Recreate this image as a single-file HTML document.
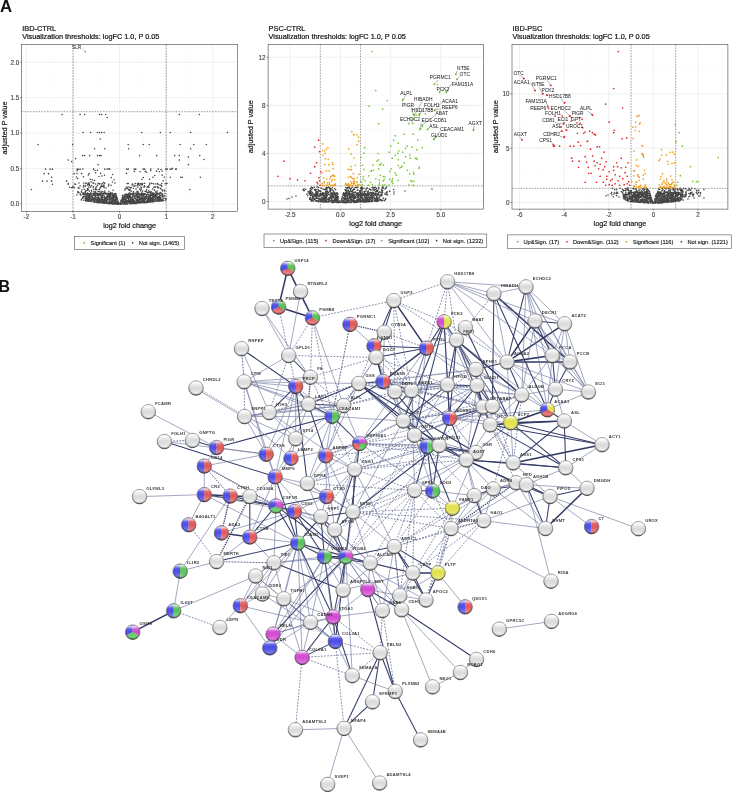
<!DOCTYPE html>
<html><head><meta charset="utf-8"><title>Figure</title>
<style>html,body{margin:0;padding:0;background:#fff;overflow:hidden}svg{display:block}</style>
</head><body>
<svg width="732" height="794" viewBox="0 0 732 794" font-family="'Liberation Sans', Arial, Helvetica, sans-serif">

<defs>
<linearGradient id="shv" x1="0" y1="0" x2="0" y2="1">
 <stop offset="0" stop-color="#000" stop-opacity="0.35"/>
 <stop offset="0.05" stop-color="#fff" stop-opacity="0.35"/>
 <stop offset="0.1" stop-color="#fff" stop-opacity="0.8"/>
 <stop offset="0.17" stop-color="#fff" stop-opacity="0.55"/>
 <stop offset="0.3" stop-color="#fff" stop-opacity="0.08"/>
 <stop offset="0.5" stop-color="#fff" stop-opacity="0"/>
 <stop offset="0.7" stop-color="#fff" stop-opacity="0.12"/>
 <stop offset="0.85" stop-color="#fff" stop-opacity="0.28"/>
 <stop offset="0.93" stop-color="#fff" stop-opacity="0.1"/>
 <stop offset="1" stop-color="#000" stop-opacity="0.5"/>
</linearGradient>
<linearGradient id="gry" x1="0" y1="0" x2="0" y2="1">
 <stop offset="0" stop-color="#909090"/>
 <stop offset="0.06" stop-color="#efefef"/>
 <stop offset="0.14" stop-color="#fdfdfd"/>
 <stop offset="0.28" stop-color="#ebebeb"/>
 <stop offset="0.48" stop-color="#dadada"/>
 <stop offset="0.68" stop-color="#e0e0e0"/>
 <stop offset="0.85" stop-color="#f2f2f2"/>
 <stop offset="0.94" stop-color="#d6d6d6"/>
 <stop offset="1" stop-color="#808080"/>
</linearGradient>
<linearGradient id="rim" x1="0" y1="0" x2="0" y2="1">
 <stop offset="0" stop-color="#9a9a9a"/>
 <stop offset="0.5" stop-color="#777"/>
 <stop offset="1" stop-color="#3a3a3a"/>
</linearGradient>
<radialGradient id="shr" cx="0.5" cy="0.44" r="0.56">
 <stop offset="0.7" stop-color="#000" stop-opacity="0"/>
 <stop offset="0.86" stop-color="#000" stop-opacity="0.16"/>
 <stop offset="1" stop-color="#000" stop-opacity="0.6"/>
</radialGradient>
</defs>

<rect width="732" height="794" fill="#fff"/>
<text x="0" y="11.9" font-size="16.8" font-weight="bold" fill="#111">A</text>
<rect x="21.7" y="44.6" width="215.7" height="166.8" fill="#fff"/><path d="M49.7 44.6V211.4M96.3 44.6V211.4M142.9 44.6V211.4M189.5 44.6V211.4M21.7 186.1H237.4M21.7 150.7H237.4M21.7 115.3H237.4M21.7 79.9H237.4" stroke="#f2f2f2" stroke-width="0.35" fill="none"/><path d="M26.4 44.6V211.4M73 44.6V211.4M119.6 44.6V211.4M166.2 44.6V211.4M212.8 44.6V211.4M21.7 203.8H237.4M21.7 168.4H237.4M21.7 133H237.4M21.7 97.6H237.4M21.7 62.2H237.4" stroke="#e6e6e6" stroke-width="0.6" fill="none"/><path d="M73 44.6V211.4M166.2 44.6V211.4M21.7 111.69H237.4" stroke="#444" stroke-width="0.5" stroke-dasharray="1.6 1.2" fill="none"/><path d="M112.85 198.45a0.78 0.78 0 1 0 1.56 0a0.78 0.78 0 1 0 -1.56 0M97.6 200.7a0.78 0.78 0 1 0 1.56 0a0.78 0.78 0 1 0 -1.56 0M98.73 202.7a0.78 0.78 0 1 0 1.56 0a0.78 0.78 0 1 0 -1.56 0M116.05 203.89a0.78 0.78 0 1 0 1.56 0a0.78 0.78 0 1 0 -1.56 0M93.97 193.76a0.78 0.78 0 1 0 1.56 0a0.78 0.78 0 1 0 -1.56 0M138.02 193.38a0.78 0.78 0 1 0 1.56 0a0.78 0.78 0 1 0 -1.56 0M114.16 202.36a0.78 0.78 0 1 0 1.56 0a0.78 0.78 0 1 0 -1.56 0M127.57 199.32a0.78 0.78 0 1 0 1.56 0a0.78 0.78 0 1 0 -1.56 0M136.84 199.36a0.78 0.78 0 1 0 1.56 0a0.78 0.78 0 1 0 -1.56 0M116.46 203.25a0.78 0.78 0 1 0 1.56 0a0.78 0.78 0 1 0 -1.56 0M139.52 201.5a0.78 0.78 0 1 0 1.56 0a0.78 0.78 0 1 0 -1.56 0M140.75 201.53a0.78 0.78 0 1 0 1.56 0a0.78 0.78 0 1 0 -1.56 0M152.65 198.21a0.78 0.78 0 1 0 1.56 0a0.78 0.78 0 1 0 -1.56 0M161.18 199.84a0.78 0.78 0 1 0 1.56 0a0.78 0.78 0 1 0 -1.56 0M124.53 201.3a0.78 0.78 0 1 0 1.56 0a0.78 0.78 0 1 0 -1.56 0M126.18 200.47a0.78 0.78 0 1 0 1.56 0a0.78 0.78 0 1 0 -1.56 0M92.36 198.32a0.78 0.78 0 1 0 1.56 0a0.78 0.78 0 1 0 -1.56 0M134.01 197.63a0.78 0.78 0 1 0 1.56 0a0.78 0.78 0 1 0 -1.56 0M146.89 199.75a0.78 0.78 0 1 0 1.56 0a0.78 0.78 0 1 0 -1.56 0M121.76 197.82a0.78 0.78 0 1 0 1.56 0a0.78 0.78 0 1 0 -1.56 0M103.54 197.86a0.78 0.78 0 1 0 1.56 0a0.78 0.78 0 1 0 -1.56 0M100.54 202.37a0.78 0.78 0 1 0 1.56 0a0.78 0.78 0 1 0 -1.56 0M109.01 201.32a0.78 0.78 0 1 0 1.56 0a0.78 0.78 0 1 0 -1.56 0M122.72 201.02a0.78 0.78 0 1 0 1.56 0a0.78 0.78 0 1 0 -1.56 0M161.58 194.64a0.78 0.78 0 1 0 1.56 0a0.78 0.78 0 1 0 -1.56 0M102.37 201.16a0.78 0.78 0 1 0 1.56 0a0.78 0.78 0 1 0 -1.56 0M109.63 202.71a0.78 0.78 0 1 0 1.56 0a0.78 0.78 0 1 0 -1.56 0M147.33 201.28a0.78 0.78 0 1 0 1.56 0a0.78 0.78 0 1 0 -1.56 0M102.23 201.06a0.78 0.78 0 1 0 1.56 0a0.78 0.78 0 1 0 -1.56 0M148.71 197.31a0.78 0.78 0 1 0 1.56 0a0.78 0.78 0 1 0 -1.56 0M83.2 194.5a0.78 0.78 0 1 0 1.56 0a0.78 0.78 0 1 0 -1.56 0M137.81 200.87a0.78 0.78 0 1 0 1.56 0a0.78 0.78 0 1 0 -1.56 0M93.7 202.07a0.78 0.78 0 1 0 1.56 0a0.78 0.78 0 1 0 -1.56 0M110.55 203.23a0.78 0.78 0 1 0 1.56 0a0.78 0.78 0 1 0 -1.56 0M116.74 204.15a0.78 0.78 0 1 0 1.56 0a0.78 0.78 0 1 0 -1.56 0M114.8 201.88a0.78 0.78 0 1 0 1.56 0a0.78 0.78 0 1 0 -1.56 0M108.83 201.72a0.78 0.78 0 1 0 1.56 0a0.78 0.78 0 1 0 -1.56 0M113.96 195.54a0.78 0.78 0 1 0 1.56 0a0.78 0.78 0 1 0 -1.56 0M141.37 199.82a0.78 0.78 0 1 0 1.56 0a0.78 0.78 0 1 0 -1.56 0M114.77 202.07a0.78 0.78 0 1 0 1.56 0a0.78 0.78 0 1 0 -1.56 0M97.31 202.57a0.78 0.78 0 1 0 1.56 0a0.78 0.78 0 1 0 -1.56 0M131.46 201.52a0.78 0.78 0 1 0 1.56 0a0.78 0.78 0 1 0 -1.56 0M88.25 195.8a0.78 0.78 0 1 0 1.56 0a0.78 0.78 0 1 0 -1.56 0M109.99 196.06a0.78 0.78 0 1 0 1.56 0a0.78 0.78 0 1 0 -1.56 0M160.09 195.21a0.78 0.78 0 1 0 1.56 0a0.78 0.78 0 1 0 -1.56 0M129.79 200.01a0.78 0.78 0 1 0 1.56 0a0.78 0.78 0 1 0 -1.56 0M117.67 204.14a0.78 0.78 0 1 0 1.56 0a0.78 0.78 0 1 0 -1.56 0M108.56 197.74a0.78 0.78 0 1 0 1.56 0a0.78 0.78 0 1 0 -1.56 0M140.47 193.99a0.78 0.78 0 1 0 1.56 0a0.78 0.78 0 1 0 -1.56 0M109.84 202.97a0.78 0.78 0 1 0 1.56 0a0.78 0.78 0 1 0 -1.56 0M94.11 194.43a0.78 0.78 0 1 0 1.56 0a0.78 0.78 0 1 0 -1.56 0M142.03 197.88a0.78 0.78 0 1 0 1.56 0a0.78 0.78 0 1 0 -1.56 0M122.92 198.38a0.78 0.78 0 1 0 1.56 0a0.78 0.78 0 1 0 -1.56 0M156.68 198.84a0.78 0.78 0 1 0 1.56 0a0.78 0.78 0 1 0 -1.56 0M113.79 203.48a0.78 0.78 0 1 0 1.56 0a0.78 0.78 0 1 0 -1.56 0M97.09 202.2a0.78 0.78 0 1 0 1.56 0a0.78 0.78 0 1 0 -1.56 0M107.22 202.48a0.78 0.78 0 1 0 1.56 0a0.78 0.78 0 1 0 -1.56 0M131.37 201.02a0.78 0.78 0 1 0 1.56 0a0.78 0.78 0 1 0 -1.56 0M147.05 194.4a0.78 0.78 0 1 0 1.56 0a0.78 0.78 0 1 0 -1.56 0M144.16 202.67a0.78 0.78 0 1 0 1.56 0a0.78 0.78 0 1 0 -1.56 0M111.57 203.89a0.78 0.78 0 1 0 1.56 0a0.78 0.78 0 1 0 -1.56 0M127.16 200.61a0.78 0.78 0 1 0 1.56 0a0.78 0.78 0 1 0 -1.56 0M145.75 200.95a0.78 0.78 0 1 0 1.56 0a0.78 0.78 0 1 0 -1.56 0M145.7 196.07a0.78 0.78 0 1 0 1.56 0a0.78 0.78 0 1 0 -1.56 0M96.63 201.5a0.78 0.78 0 1 0 1.56 0a0.78 0.78 0 1 0 -1.56 0M88.24 198.11a0.78 0.78 0 1 0 1.56 0a0.78 0.78 0 1 0 -1.56 0M143.29 199.42a0.78 0.78 0 1 0 1.56 0a0.78 0.78 0 1 0 -1.56 0M140.71 199.33a0.78 0.78 0 1 0 1.56 0a0.78 0.78 0 1 0 -1.56 0M164.47 200.22a0.78 0.78 0 1 0 1.56 0a0.78 0.78 0 1 0 -1.56 0M101.31 202.87a0.78 0.78 0 1 0 1.56 0a0.78 0.78 0 1 0 -1.56 0M115.92 198.27a0.78 0.78 0 1 0 1.56 0a0.78 0.78 0 1 0 -1.56 0M150.78 194.64a0.78 0.78 0 1 0 1.56 0a0.78 0.78 0 1 0 -1.56 0M129.45 193.81a0.78 0.78 0 1 0 1.56 0a0.78 0.78 0 1 0 -1.56 0M99.52 193.16a0.78 0.78 0 1 0 1.56 0a0.78 0.78 0 1 0 -1.56 0M126.63 201.09a0.78 0.78 0 1 0 1.56 0a0.78 0.78 0 1 0 -1.56 0M135.23 202.64a0.78 0.78 0 1 0 1.56 0a0.78 0.78 0 1 0 -1.56 0M140.14 203.01a0.78 0.78 0 1 0 1.56 0a0.78 0.78 0 1 0 -1.56 0M94.11 199.06a0.78 0.78 0 1 0 1.56 0a0.78 0.78 0 1 0 -1.56 0M123.89 202.74a0.78 0.78 0 1 0 1.56 0a0.78 0.78 0 1 0 -1.56 0M102.1 194.39a0.78 0.78 0 1 0 1.56 0a0.78 0.78 0 1 0 -1.56 0M131.34 203.16a0.78 0.78 0 1 0 1.56 0a0.78 0.78 0 1 0 -1.56 0M146.44 197.12a0.78 0.78 0 1 0 1.56 0a0.78 0.78 0 1 0 -1.56 0M116.54 198.02a0.78 0.78 0 1 0 1.56 0a0.78 0.78 0 1 0 -1.56 0M122.04 195.34a0.78 0.78 0 1 0 1.56 0a0.78 0.78 0 1 0 -1.56 0M135.23 199.37a0.78 0.78 0 1 0 1.56 0a0.78 0.78 0 1 0 -1.56 0M131.78 203.24a0.78 0.78 0 1 0 1.56 0a0.78 0.78 0 1 0 -1.56 0M130.36 203.42a0.78 0.78 0 1 0 1.56 0a0.78 0.78 0 1 0 -1.56 0M116.82 203.29a0.78 0.78 0 1 0 1.56 0a0.78 0.78 0 1 0 -1.56 0M106.74 196.75a0.78 0.78 0 1 0 1.56 0a0.78 0.78 0 1 0 -1.56 0M99.02 202.17a0.78 0.78 0 1 0 1.56 0a0.78 0.78 0 1 0 -1.56 0M118.1 202.97a0.78 0.78 0 1 0 1.56 0a0.78 0.78 0 1 0 -1.56 0M89.79 201.08a0.78 0.78 0 1 0 1.56 0a0.78 0.78 0 1 0 -1.56 0M139.74 199.8a0.78 0.78 0 1 0 1.56 0a0.78 0.78 0 1 0 -1.56 0M137.85 199.77a0.78 0.78 0 1 0 1.56 0a0.78 0.78 0 1 0 -1.56 0M153.03 199.75a0.78 0.78 0 1 0 1.56 0a0.78 0.78 0 1 0 -1.56 0M116.67 203.72a0.78 0.78 0 1 0 1.56 0a0.78 0.78 0 1 0 -1.56 0M115.47 195.68a0.78 0.78 0 1 0 1.56 0a0.78 0.78 0 1 0 -1.56 0M151.27 201.07a0.78 0.78 0 1 0 1.56 0a0.78 0.78 0 1 0 -1.56 0M100.63 202.44a0.78 0.78 0 1 0 1.56 0a0.78 0.78 0 1 0 -1.56 0M108.4 193.64a0.78 0.78 0 1 0 1.56 0a0.78 0.78 0 1 0 -1.56 0M145.3 201.58a0.78 0.78 0 1 0 1.56 0a0.78 0.78 0 1 0 -1.56 0M133.8 201.49a0.78 0.78 0 1 0 1.56 0a0.78 0.78 0 1 0 -1.56 0M103.71 200.14a0.78 0.78 0 1 0 1.56 0a0.78 0.78 0 1 0 -1.56 0M128.55 200.21a0.78 0.78 0 1 0 1.56 0a0.78 0.78 0 1 0 -1.56 0M108.36 203.43a0.78 0.78 0 1 0 1.56 0a0.78 0.78 0 1 0 -1.56 0M117.17 204.14a0.78 0.78 0 1 0 1.56 0a0.78 0.78 0 1 0 -1.56 0M109.6 199.18a0.78 0.78 0 1 0 1.56 0a0.78 0.78 0 1 0 -1.56 0M155.15 196.56a0.78 0.78 0 1 0 1.56 0a0.78 0.78 0 1 0 -1.56 0M137.67 201.52a0.78 0.78 0 1 0 1.56 0a0.78 0.78 0 1 0 -1.56 0M126.05 197.42a0.78 0.78 0 1 0 1.56 0a0.78 0.78 0 1 0 -1.56 0M149.18 196.6a0.78 0.78 0 1 0 1.56 0a0.78 0.78 0 1 0 -1.56 0M125.56 200.09a0.78 0.78 0 1 0 1.56 0a0.78 0.78 0 1 0 -1.56 0M159.23 195.14a0.78 0.78 0 1 0 1.56 0a0.78 0.78 0 1 0 -1.56 0M129.95 203.72a0.78 0.78 0 1 0 1.56 0a0.78 0.78 0 1 0 -1.56 0M104.54 203.05a0.78 0.78 0 1 0 1.56 0a0.78 0.78 0 1 0 -1.56 0M145.85 198.01a0.78 0.78 0 1 0 1.56 0a0.78 0.78 0 1 0 -1.56 0M151.76 201.95a0.78 0.78 0 1 0 1.56 0a0.78 0.78 0 1 0 -1.56 0M155.04 198.44a0.78 0.78 0 1 0 1.56 0a0.78 0.78 0 1 0 -1.56 0M122.02 197.3a0.78 0.78 0 1 0 1.56 0a0.78 0.78 0 1 0 -1.56 0M115.87 202.79a0.78 0.78 0 1 0 1.56 0a0.78 0.78 0 1 0 -1.56 0M128.75 197.14a0.78 0.78 0 1 0 1.56 0a0.78 0.78 0 1 0 -1.56 0M142.73 200.7a0.78 0.78 0 1 0 1.56 0a0.78 0.78 0 1 0 -1.56 0M151.91 197.81a0.78 0.78 0 1 0 1.56 0a0.78 0.78 0 1 0 -1.56 0M122.57 203.59a0.78 0.78 0 1 0 1.56 0a0.78 0.78 0 1 0 -1.56 0M89.39 198.15a0.78 0.78 0 1 0 1.56 0a0.78 0.78 0 1 0 -1.56 0M116.42 202.78a0.78 0.78 0 1 0 1.56 0a0.78 0.78 0 1 0 -1.56 0M152.32 200.66a0.78 0.78 0 1 0 1.56 0a0.78 0.78 0 1 0 -1.56 0M141.31 200a0.78 0.78 0 1 0 1.56 0a0.78 0.78 0 1 0 -1.56 0M158.5 198.94a0.78 0.78 0 1 0 1.56 0a0.78 0.78 0 1 0 -1.56 0M110.51 193.93a0.78 0.78 0 1 0 1.56 0a0.78 0.78 0 1 0 -1.56 0M95.79 202.01a0.78 0.78 0 1 0 1.56 0a0.78 0.78 0 1 0 -1.56 0M143.44 194.7a0.78 0.78 0 1 0 1.56 0a0.78 0.78 0 1 0 -1.56 0M130.02 194.71a0.78 0.78 0 1 0 1.56 0a0.78 0.78 0 1 0 -1.56 0M120.02 204.18a0.78 0.78 0 1 0 1.56 0a0.78 0.78 0 1 0 -1.56 0M140.64 201.52a0.78 0.78 0 1 0 1.56 0a0.78 0.78 0 1 0 -1.56 0M105.2 201.75a0.78 0.78 0 1 0 1.56 0a0.78 0.78 0 1 0 -1.56 0M124.63 194.27a0.78 0.78 0 1 0 1.56 0a0.78 0.78 0 1 0 -1.56 0M103.26 193.02a0.78 0.78 0 1 0 1.56 0a0.78 0.78 0 1 0 -1.56 0M136.28 200.67a0.78 0.78 0 1 0 1.56 0a0.78 0.78 0 1 0 -1.56 0M116.91 203.87a0.78 0.78 0 1 0 1.56 0a0.78 0.78 0 1 0 -1.56 0M132.64 194.07a0.78 0.78 0 1 0 1.56 0a0.78 0.78 0 1 0 -1.56 0M108.3 200.01a0.78 0.78 0 1 0 1.56 0a0.78 0.78 0 1 0 -1.56 0M104.04 193.71a0.78 0.78 0 1 0 1.56 0a0.78 0.78 0 1 0 -1.56 0M158.12 194.12a0.78 0.78 0 1 0 1.56 0a0.78 0.78 0 1 0 -1.56 0M145.4 196.92a0.78 0.78 0 1 0 1.56 0a0.78 0.78 0 1 0 -1.56 0M89.82 196.18a0.78 0.78 0 1 0 1.56 0a0.78 0.78 0 1 0 -1.56 0M132.67 203.5a0.78 0.78 0 1 0 1.56 0a0.78 0.78 0 1 0 -1.56 0M124.98 200.7a0.78 0.78 0 1 0 1.56 0a0.78 0.78 0 1 0 -1.56 0M107.03 197.05a0.78 0.78 0 1 0 1.56 0a0.78 0.78 0 1 0 -1.56 0M131.41 198.23a0.78 0.78 0 1 0 1.56 0a0.78 0.78 0 1 0 -1.56 0M96.75 200.38a0.78 0.78 0 1 0 1.56 0a0.78 0.78 0 1 0 -1.56 0M112.42 203.05a0.78 0.78 0 1 0 1.56 0a0.78 0.78 0 1 0 -1.56 0M142.88 201.93a0.78 0.78 0 1 0 1.56 0a0.78 0.78 0 1 0 -1.56 0M111.2 203.63a0.78 0.78 0 1 0 1.56 0a0.78 0.78 0 1 0 -1.56 0M115.21 202.97a0.78 0.78 0 1 0 1.56 0a0.78 0.78 0 1 0 -1.56 0M96.26 194.65a0.78 0.78 0 1 0 1.56 0a0.78 0.78 0 1 0 -1.56 0M138.8 200.67a0.78 0.78 0 1 0 1.56 0a0.78 0.78 0 1 0 -1.56 0M137.06 201.46a0.78 0.78 0 1 0 1.56 0a0.78 0.78 0 1 0 -1.56 0M107.83 193.54a0.78 0.78 0 1 0 1.56 0a0.78 0.78 0 1 0 -1.56 0M98.89 198.11a0.78 0.78 0 1 0 1.56 0a0.78 0.78 0 1 0 -1.56 0M129.27 202.46a0.78 0.78 0 1 0 1.56 0a0.78 0.78 0 1 0 -1.56 0M102.99 200.39a0.78 0.78 0 1 0 1.56 0a0.78 0.78 0 1 0 -1.56 0M159.9 201.05a0.78 0.78 0 1 0 1.56 0a0.78 0.78 0 1 0 -1.56 0M90.72 199.15a0.78 0.78 0 1 0 1.56 0a0.78 0.78 0 1 0 -1.56 0M158.78 193.36a0.78 0.78 0 1 0 1.56 0a0.78 0.78 0 1 0 -1.56 0M114.5 203.5a0.78 0.78 0 1 0 1.56 0a0.78 0.78 0 1 0 -1.56 0M151.83 196.64a0.78 0.78 0 1 0 1.56 0a0.78 0.78 0 1 0 -1.56 0M155.84 198.23a0.78 0.78 0 1 0 1.56 0a0.78 0.78 0 1 0 -1.56 0M150.06 200.77a0.78 0.78 0 1 0 1.56 0a0.78 0.78 0 1 0 -1.56 0M108.85 198.51a0.78 0.78 0 1 0 1.56 0a0.78 0.78 0 1 0 -1.56 0M124.25 203.89a0.78 0.78 0 1 0 1.56 0a0.78 0.78 0 1 0 -1.56 0M147.03 200.35a0.78 0.78 0 1 0 1.56 0a0.78 0.78 0 1 0 -1.56 0M95.02 202.33a0.78 0.78 0 1 0 1.56 0a0.78 0.78 0 1 0 -1.56 0M100.58 193.65a0.78 0.78 0 1 0 1.56 0a0.78 0.78 0 1 0 -1.56 0M109.04 193.67a0.78 0.78 0 1 0 1.56 0a0.78 0.78 0 1 0 -1.56 0M133.7 203.5a0.78 0.78 0 1 0 1.56 0a0.78 0.78 0 1 0 -1.56 0M151.46 200.96a0.78 0.78 0 1 0 1.56 0a0.78 0.78 0 1 0 -1.56 0M105.43 200.81a0.78 0.78 0 1 0 1.56 0a0.78 0.78 0 1 0 -1.56 0M128.41 196.3a0.78 0.78 0 1 0 1.56 0a0.78 0.78 0 1 0 -1.56 0M143.26 201.99a0.78 0.78 0 1 0 1.56 0a0.78 0.78 0 1 0 -1.56 0M133.91 195.86a0.78 0.78 0 1 0 1.56 0a0.78 0.78 0 1 0 -1.56 0M110.05 196.83a0.78 0.78 0 1 0 1.56 0a0.78 0.78 0 1 0 -1.56 0M109.98 201.12a0.78 0.78 0 1 0 1.56 0a0.78 0.78 0 1 0 -1.56 0M110.39 193.44a0.78 0.78 0 1 0 1.56 0a0.78 0.78 0 1 0 -1.56 0M116.77 204.03a0.78 0.78 0 1 0 1.56 0a0.78 0.78 0 1 0 -1.56 0M83.25 196.06a0.78 0.78 0 1 0 1.56 0a0.78 0.78 0 1 0 -1.56 0M92.51 200.16a0.78 0.78 0 1 0 1.56 0a0.78 0.78 0 1 0 -1.56 0M112.12 203.92a0.78 0.78 0 1 0 1.56 0a0.78 0.78 0 1 0 -1.56 0M104.9 193.73a0.78 0.78 0 1 0 1.56 0a0.78 0.78 0 1 0 -1.56 0M86.29 199.07a0.78 0.78 0 1 0 1.56 0a0.78 0.78 0 1 0 -1.56 0M100.07 200.86a0.78 0.78 0 1 0 1.56 0a0.78 0.78 0 1 0 -1.56 0M128.16 201.7a0.78 0.78 0 1 0 1.56 0a0.78 0.78 0 1 0 -1.56 0M120.29 201.49a0.78 0.78 0 1 0 1.56 0a0.78 0.78 0 1 0 -1.56 0M89.23 200.09a0.78 0.78 0 1 0 1.56 0a0.78 0.78 0 1 0 -1.56 0M90.44 200.66a0.78 0.78 0 1 0 1.56 0a0.78 0.78 0 1 0 -1.56 0M88.9 197.44a0.78 0.78 0 1 0 1.56 0a0.78 0.78 0 1 0 -1.56 0M119.99 203.09a0.78 0.78 0 1 0 1.56 0a0.78 0.78 0 1 0 -1.56 0M165.13 198.83a0.78 0.78 0 1 0 1.56 0a0.78 0.78 0 1 0 -1.56 0M101.79 199.82a0.78 0.78 0 1 0 1.56 0a0.78 0.78 0 1 0 -1.56 0M127.67 196.23a0.78 0.78 0 1 0 1.56 0a0.78 0.78 0 1 0 -1.56 0M158.64 197.52a0.78 0.78 0 1 0 1.56 0a0.78 0.78 0 1 0 -1.56 0M106.17 201.42a0.78 0.78 0 1 0 1.56 0a0.78 0.78 0 1 0 -1.56 0M122.64 203.28a0.78 0.78 0 1 0 1.56 0a0.78 0.78 0 1 0 -1.56 0M130.79 203.57a0.78 0.78 0 1 0 1.56 0a0.78 0.78 0 1 0 -1.56 0M96.94 200.97a0.78 0.78 0 1 0 1.56 0a0.78 0.78 0 1 0 -1.56 0M161.58 199.94a0.78 0.78 0 1 0 1.56 0a0.78 0.78 0 1 0 -1.56 0M115 200.44a0.78 0.78 0 1 0 1.56 0a0.78 0.78 0 1 0 -1.56 0M140.45 202.02a0.78 0.78 0 1 0 1.56 0a0.78 0.78 0 1 0 -1.56 0M94.26 197.33a0.78 0.78 0 1 0 1.56 0a0.78 0.78 0 1 0 -1.56 0M159.81 200.81a0.78 0.78 0 1 0 1.56 0a0.78 0.78 0 1 0 -1.56 0M133.04 199.3a0.78 0.78 0 1 0 1.56 0a0.78 0.78 0 1 0 -1.56 0M109.1 203.18a0.78 0.78 0 1 0 1.56 0a0.78 0.78 0 1 0 -1.56 0M146.81 200.87a0.78 0.78 0 1 0 1.56 0a0.78 0.78 0 1 0 -1.56 0M86.81 193.12a0.78 0.78 0 1 0 1.56 0a0.78 0.78 0 1 0 -1.56 0M100.02 195.7a0.78 0.78 0 1 0 1.56 0a0.78 0.78 0 1 0 -1.56 0M114.1 203.26a0.78 0.78 0 1 0 1.56 0a0.78 0.78 0 1 0 -1.56 0M147.05 194.03a0.78 0.78 0 1 0 1.56 0a0.78 0.78 0 1 0 -1.56 0M88.02 201.22a0.78 0.78 0 1 0 1.56 0a0.78 0.78 0 1 0 -1.56 0M148.83 201.44a0.78 0.78 0 1 0 1.56 0a0.78 0.78 0 1 0 -1.56 0M113.22 203.12a0.78 0.78 0 1 0 1.56 0a0.78 0.78 0 1 0 -1.56 0M95.08 197.63a0.78 0.78 0 1 0 1.56 0a0.78 0.78 0 1 0 -1.56 0M127.78 202.19a0.78 0.78 0 1 0 1.56 0a0.78 0.78 0 1 0 -1.56 0M87.33 201.26a0.78 0.78 0 1 0 1.56 0a0.78 0.78 0 1 0 -1.56 0M103.17 199.28a0.78 0.78 0 1 0 1.56 0a0.78 0.78 0 1 0 -1.56 0M123.23 203.48a0.78 0.78 0 1 0 1.56 0a0.78 0.78 0 1 0 -1.56 0M138.65 201.8a0.78 0.78 0 1 0 1.56 0a0.78 0.78 0 1 0 -1.56 0M136.11 200.8a0.78 0.78 0 1 0 1.56 0a0.78 0.78 0 1 0 -1.56 0M138.48 194.84a0.78 0.78 0 1 0 1.56 0a0.78 0.78 0 1 0 -1.56 0M126.69 203.92a0.78 0.78 0 1 0 1.56 0a0.78 0.78 0 1 0 -1.56 0M149.83 194.28a0.78 0.78 0 1 0 1.56 0a0.78 0.78 0 1 0 -1.56 0M94.18 200.35a0.78 0.78 0 1 0 1.56 0a0.78 0.78 0 1 0 -1.56 0M125.88 202.52a0.78 0.78 0 1 0 1.56 0a0.78 0.78 0 1 0 -1.56 0M157.77 200.69a0.78 0.78 0 1 0 1.56 0a0.78 0.78 0 1 0 -1.56 0M81.47 198.19a0.78 0.78 0 1 0 1.56 0a0.78 0.78 0 1 0 -1.56 0M148.84 195.46a0.78 0.78 0 1 0 1.56 0a0.78 0.78 0 1 0 -1.56 0M85.3 200.55a0.78 0.78 0 1 0 1.56 0a0.78 0.78 0 1 0 -1.56 0M102.99 199.63a0.78 0.78 0 1 0 1.56 0a0.78 0.78 0 1 0 -1.56 0M113.95 202.85a0.78 0.78 0 1 0 1.56 0a0.78 0.78 0 1 0 -1.56 0M124.52 199.17a0.78 0.78 0 1 0 1.56 0a0.78 0.78 0 1 0 -1.56 0M149.17 200.83a0.78 0.78 0 1 0 1.56 0a0.78 0.78 0 1 0 -1.56 0M95.75 200.02a0.78 0.78 0 1 0 1.56 0a0.78 0.78 0 1 0 -1.56 0M140.44 200.33a0.78 0.78 0 1 0 1.56 0a0.78 0.78 0 1 0 -1.56 0M94.31 199.3a0.78 0.78 0 1 0 1.56 0a0.78 0.78 0 1 0 -1.56 0M88.58 199.08a0.78 0.78 0 1 0 1.56 0a0.78 0.78 0 1 0 -1.56 0M100.08 202.62a0.78 0.78 0 1 0 1.56 0a0.78 0.78 0 1 0 -1.56 0M101.77 202.85a0.78 0.78 0 1 0 1.56 0a0.78 0.78 0 1 0 -1.56 0M98.62 202.68a0.78 0.78 0 1 0 1.56 0a0.78 0.78 0 1 0 -1.56 0M122.8 197.34a0.78 0.78 0 1 0 1.56 0a0.78 0.78 0 1 0 -1.56 0M143.58 202.64a0.78 0.78 0 1 0 1.56 0a0.78 0.78 0 1 0 -1.56 0M137.11 193.8a0.78 0.78 0 1 0 1.56 0a0.78 0.78 0 1 0 -1.56 0M84.88 196.15a0.78 0.78 0 1 0 1.56 0a0.78 0.78 0 1 0 -1.56 0M128.2 193.32a0.78 0.78 0 1 0 1.56 0a0.78 0.78 0 1 0 -1.56 0M165.12 200.04a0.78 0.78 0 1 0 1.56 0a0.78 0.78 0 1 0 -1.56 0M132.13 195.96a0.78 0.78 0 1 0 1.56 0a0.78 0.78 0 1 0 -1.56 0M98.93 194.22a0.78 0.78 0 1 0 1.56 0a0.78 0.78 0 1 0 -1.56 0M108.41 200.08a0.78 0.78 0 1 0 1.56 0a0.78 0.78 0 1 0 -1.56 0M117.36 203.44a0.78 0.78 0 1 0 1.56 0a0.78 0.78 0 1 0 -1.56 0M126.99 196.51a0.78 0.78 0 1 0 1.56 0a0.78 0.78 0 1 0 -1.56 0M97.8 197.97a0.78 0.78 0 1 0 1.56 0a0.78 0.78 0 1 0 -1.56 0M149.3 200.13a0.78 0.78 0 1 0 1.56 0a0.78 0.78 0 1 0 -1.56 0M131.63 193.16a0.78 0.78 0 1 0 1.56 0a0.78 0.78 0 1 0 -1.56 0M136.26 196.61a0.78 0.78 0 1 0 1.56 0a0.78 0.78 0 1 0 -1.56 0M111.82 197.12a0.78 0.78 0 1 0 1.56 0a0.78 0.78 0 1 0 -1.56 0M133.95 203.5a0.78 0.78 0 1 0 1.56 0a0.78 0.78 0 1 0 -1.56 0M112.91 198.92a0.78 0.78 0 1 0 1.56 0a0.78 0.78 0 1 0 -1.56 0M98.52 194.57a0.78 0.78 0 1 0 1.56 0a0.78 0.78 0 1 0 -1.56 0M109.82 198.32a0.78 0.78 0 1 0 1.56 0a0.78 0.78 0 1 0 -1.56 0M104.68 202.4a0.78 0.78 0 1 0 1.56 0a0.78 0.78 0 1 0 -1.56 0M147.33 201.65a0.78 0.78 0 1 0 1.56 0a0.78 0.78 0 1 0 -1.56 0M141.81 202.49a0.78 0.78 0 1 0 1.56 0a0.78 0.78 0 1 0 -1.56 0M130.61 203.21a0.78 0.78 0 1 0 1.56 0a0.78 0.78 0 1 0 -1.56 0M93.55 194.81a0.78 0.78 0 1 0 1.56 0a0.78 0.78 0 1 0 -1.56 0M138.27 201.97a0.78 0.78 0 1 0 1.56 0a0.78 0.78 0 1 0 -1.56 0M93.28 198.49a0.78 0.78 0 1 0 1.56 0a0.78 0.78 0 1 0 -1.56 0M93.25 199.64a0.78 0.78 0 1 0 1.56 0a0.78 0.78 0 1 0 -1.56 0M154.32 194.3a0.78 0.78 0 1 0 1.56 0a0.78 0.78 0 1 0 -1.56 0M97.77 200.37a0.78 0.78 0 1 0 1.56 0a0.78 0.78 0 1 0 -1.56 0M97 193.89a0.78 0.78 0 1 0 1.56 0a0.78 0.78 0 1 0 -1.56 0M110.92 198.95a0.78 0.78 0 1 0 1.56 0a0.78 0.78 0 1 0 -1.56 0M149.87 195.57a0.78 0.78 0 1 0 1.56 0a0.78 0.78 0 1 0 -1.56 0M106.57 201.98a0.78 0.78 0 1 0 1.56 0a0.78 0.78 0 1 0 -1.56 0M83.6 196.25a0.78 0.78 0 1 0 1.56 0a0.78 0.78 0 1 0 -1.56 0M85.38 198.72a0.78 0.78 0 1 0 1.56 0a0.78 0.78 0 1 0 -1.56 0M140.72 202.06a0.78 0.78 0 1 0 1.56 0a0.78 0.78 0 1 0 -1.56 0M109.62 203.69a0.78 0.78 0 1 0 1.56 0a0.78 0.78 0 1 0 -1.56 0M89.13 195.03a0.78 0.78 0 1 0 1.56 0a0.78 0.78 0 1 0 -1.56 0M131.69 199.51a0.78 0.78 0 1 0 1.56 0a0.78 0.78 0 1 0 -1.56 0M87.6 200.39a0.78 0.78 0 1 0 1.56 0a0.78 0.78 0 1 0 -1.56 0M119.56 202.89a0.78 0.78 0 1 0 1.56 0a0.78 0.78 0 1 0 -1.56 0M89.36 196.23a0.78 0.78 0 1 0 1.56 0a0.78 0.78 0 1 0 -1.56 0M151.02 199.34a0.78 0.78 0 1 0 1.56 0a0.78 0.78 0 1 0 -1.56 0M152.58 199.51a0.78 0.78 0 1 0 1.56 0a0.78 0.78 0 1 0 -1.56 0M146.42 201.04a0.78 0.78 0 1 0 1.56 0a0.78 0.78 0 1 0 -1.56 0M94.16 202.08a0.78 0.78 0 1 0 1.56 0a0.78 0.78 0 1 0 -1.56 0M125.82 203.95a0.78 0.78 0 1 0 1.56 0a0.78 0.78 0 1 0 -1.56 0M117.68 204.11a0.78 0.78 0 1 0 1.56 0a0.78 0.78 0 1 0 -1.56 0M149.5 197.03a0.78 0.78 0 1 0 1.56 0a0.78 0.78 0 1 0 -1.56 0M122 199.34a0.78 0.78 0 1 0 1.56 0a0.78 0.78 0 1 0 -1.56 0M86.44 194.39a0.78 0.78 0 1 0 1.56 0a0.78 0.78 0 1 0 -1.56 0M84.46 193.7a0.78 0.78 0 1 0 1.56 0a0.78 0.78 0 1 0 -1.56 0M110.67 203.5a0.78 0.78 0 1 0 1.56 0a0.78 0.78 0 1 0 -1.56 0M85.25 197.18a0.78 0.78 0 1 0 1.56 0a0.78 0.78 0 1 0 -1.56 0M149.39 200.94a0.78 0.78 0 1 0 1.56 0a0.78 0.78 0 1 0 -1.56 0M114.94 196.98a0.78 0.78 0 1 0 1.56 0a0.78 0.78 0 1 0 -1.56 0M106.18 200.83a0.78 0.78 0 1 0 1.56 0a0.78 0.78 0 1 0 -1.56 0M108.65 202.27a0.78 0.78 0 1 0 1.56 0a0.78 0.78 0 1 0 -1.56 0M136.63 201.64a0.78 0.78 0 1 0 1.56 0a0.78 0.78 0 1 0 -1.56 0M143.2 195.22a0.78 0.78 0 1 0 1.56 0a0.78 0.78 0 1 0 -1.56 0M120.32 201.46a0.78 0.78 0 1 0 1.56 0a0.78 0.78 0 1 0 -1.56 0M144.85 201.79a0.78 0.78 0 1 0 1.56 0a0.78 0.78 0 1 0 -1.56 0M123.22 196.02a0.78 0.78 0 1 0 1.56 0a0.78 0.78 0 1 0 -1.56 0M142.61 195.99a0.78 0.78 0 1 0 1.56 0a0.78 0.78 0 1 0 -1.56 0M99.23 201a0.78 0.78 0 1 0 1.56 0a0.78 0.78 0 1 0 -1.56 0M131.43 193.94a0.78 0.78 0 1 0 1.56 0a0.78 0.78 0 1 0 -1.56 0M110.32 197.7a0.78 0.78 0 1 0 1.56 0a0.78 0.78 0 1 0 -1.56 0M124.14 198.69a0.78 0.78 0 1 0 1.56 0a0.78 0.78 0 1 0 -1.56 0M87.62 195.68a0.78 0.78 0 1 0 1.56 0a0.78 0.78 0 1 0 -1.56 0M136.03 200.95a0.78 0.78 0 1 0 1.56 0a0.78 0.78 0 1 0 -1.56 0M120.04 203.29a0.78 0.78 0 1 0 1.56 0a0.78 0.78 0 1 0 -1.56 0M144.55 196.5a0.78 0.78 0 1 0 1.56 0a0.78 0.78 0 1 0 -1.56 0M150.1 200.43a0.78 0.78 0 1 0 1.56 0a0.78 0.78 0 1 0 -1.56 0M112.67 195.62a0.78 0.78 0 1 0 1.56 0a0.78 0.78 0 1 0 -1.56 0M88.19 201.17a0.78 0.78 0 1 0 1.56 0a0.78 0.78 0 1 0 -1.56 0M106.88 197.54a0.78 0.78 0 1 0 1.56 0a0.78 0.78 0 1 0 -1.56 0M126.3 203.4a0.78 0.78 0 1 0 1.56 0a0.78 0.78 0 1 0 -1.56 0M105.89 199.76a0.78 0.78 0 1 0 1.56 0a0.78 0.78 0 1 0 -1.56 0M105.83 202.72a0.78 0.78 0 1 0 1.56 0a0.78 0.78 0 1 0 -1.56 0M123.74 201.67a0.78 0.78 0 1 0 1.56 0a0.78 0.78 0 1 0 -1.56 0M157.29 199.16a0.78 0.78 0 1 0 1.56 0a0.78 0.78 0 1 0 -1.56 0M93.56 201.91a0.78 0.78 0 1 0 1.56 0a0.78 0.78 0 1 0 -1.56 0M103.44 203.19a0.78 0.78 0 1 0 1.56 0a0.78 0.78 0 1 0 -1.56 0M87.5 198.62a0.78 0.78 0 1 0 1.56 0a0.78 0.78 0 1 0 -1.56 0M141.24 202.5a0.78 0.78 0 1 0 1.56 0a0.78 0.78 0 1 0 -1.56 0M138.41 196.88a0.78 0.78 0 1 0 1.56 0a0.78 0.78 0 1 0 -1.56 0M139.63 198.93a0.78 0.78 0 1 0 1.56 0a0.78 0.78 0 1 0 -1.56 0M139.2 202.15a0.78 0.78 0 1 0 1.56 0a0.78 0.78 0 1 0 -1.56 0M161.42 196.43a0.78 0.78 0 1 0 1.56 0a0.78 0.78 0 1 0 -1.56 0M151.71 199.43a0.78 0.78 0 1 0 1.56 0a0.78 0.78 0 1 0 -1.56 0M93.94 201.98a0.78 0.78 0 1 0 1.56 0a0.78 0.78 0 1 0 -1.56 0M87.84 197.41a0.78 0.78 0 1 0 1.56 0a0.78 0.78 0 1 0 -1.56 0M102.05 200.23a0.78 0.78 0 1 0 1.56 0a0.78 0.78 0 1 0 -1.56 0M138.63 197.74a0.78 0.78 0 1 0 1.56 0a0.78 0.78 0 1 0 -1.56 0M127.68 198.36a0.78 0.78 0 1 0 1.56 0a0.78 0.78 0 1 0 -1.56 0M137.63 199.96a0.78 0.78 0 1 0 1.56 0a0.78 0.78 0 1 0 -1.56 0M120.67 199.96a0.78 0.78 0 1 0 1.56 0a0.78 0.78 0 1 0 -1.56 0M87.86 198.48a0.78 0.78 0 1 0 1.56 0a0.78 0.78 0 1 0 -1.56 0M96.07 198.92a0.78 0.78 0 1 0 1.56 0a0.78 0.78 0 1 0 -1.56 0M143.61 197.98a0.78 0.78 0 1 0 1.56 0a0.78 0.78 0 1 0 -1.56 0M144.07 200.36a0.78 0.78 0 1 0 1.56 0a0.78 0.78 0 1 0 -1.56 0M128.99 197.92a0.78 0.78 0 1 0 1.56 0a0.78 0.78 0 1 0 -1.56 0M136.02 203.25a0.78 0.78 0 1 0 1.56 0a0.78 0.78 0 1 0 -1.56 0M102.99 203.18a0.78 0.78 0 1 0 1.56 0a0.78 0.78 0 1 0 -1.56 0M102.17 197.42a0.78 0.78 0 1 0 1.56 0a0.78 0.78 0 1 0 -1.56 0M108.32 202.68a0.78 0.78 0 1 0 1.56 0a0.78 0.78 0 1 0 -1.56 0M113.7 196.66a0.78 0.78 0 1 0 1.56 0a0.78 0.78 0 1 0 -1.56 0M149.52 199.44a0.78 0.78 0 1 0 1.56 0a0.78 0.78 0 1 0 -1.56 0M129.76 193.62a0.78 0.78 0 1 0 1.56 0a0.78 0.78 0 1 0 -1.56 0M93.52 195.51a0.78 0.78 0 1 0 1.56 0a0.78 0.78 0 1 0 -1.56 0M141.48 201.52a0.78 0.78 0 1 0 1.56 0a0.78 0.78 0 1 0 -1.56 0M124.88 195.78a0.78 0.78 0 1 0 1.56 0a0.78 0.78 0 1 0 -1.56 0M108.78 200.96a0.78 0.78 0 1 0 1.56 0a0.78 0.78 0 1 0 -1.56 0M109.12 202.14a0.78 0.78 0 1 0 1.56 0a0.78 0.78 0 1 0 -1.56 0M139.56 198.18a0.78 0.78 0 1 0 1.56 0a0.78 0.78 0 1 0 -1.56 0M136.36 194.15a0.78 0.78 0 1 0 1.56 0a0.78 0.78 0 1 0 -1.56 0M121.58 195.91a0.78 0.78 0 1 0 1.56 0a0.78 0.78 0 1 0 -1.56 0M149.47 202.17a0.78 0.78 0 1 0 1.56 0a0.78 0.78 0 1 0 -1.56 0M114.8 203.58a0.78 0.78 0 1 0 1.56 0a0.78 0.78 0 1 0 -1.56 0M83.02 200.31a0.78 0.78 0 1 0 1.56 0a0.78 0.78 0 1 0 -1.56 0M148.26 196.03a0.78 0.78 0 1 0 1.56 0a0.78 0.78 0 1 0 -1.56 0M162.09 194.92a0.78 0.78 0 1 0 1.56 0a0.78 0.78 0 1 0 -1.56 0M91.39 196.38a0.78 0.78 0 1 0 1.56 0a0.78 0.78 0 1 0 -1.56 0M109.55 203.29a0.78 0.78 0 1 0 1.56 0a0.78 0.78 0 1 0 -1.56 0M121.65 200.85a0.78 0.78 0 1 0 1.56 0a0.78 0.78 0 1 0 -1.56 0M99.36 199.6a0.78 0.78 0 1 0 1.56 0a0.78 0.78 0 1 0 -1.56 0M141.47 198.97a0.78 0.78 0 1 0 1.56 0a0.78 0.78 0 1 0 -1.56 0M149.61 202.14a0.78 0.78 0 1 0 1.56 0a0.78 0.78 0 1 0 -1.56 0M151.86 200.42a0.78 0.78 0 1 0 1.56 0a0.78 0.78 0 1 0 -1.56 0M143.53 199.68a0.78 0.78 0 1 0 1.56 0a0.78 0.78 0 1 0 -1.56 0M135.21 195.21a0.78 0.78 0 1 0 1.56 0a0.78 0.78 0 1 0 -1.56 0M100.03 199.36a0.78 0.78 0 1 0 1.56 0a0.78 0.78 0 1 0 -1.56 0M129.02 200.96a0.78 0.78 0 1 0 1.56 0a0.78 0.78 0 1 0 -1.56 0M96.88 195.51a0.78 0.78 0 1 0 1.56 0a0.78 0.78 0 1 0 -1.56 0M131.97 200.05a0.78 0.78 0 1 0 1.56 0a0.78 0.78 0 1 0 -1.56 0M150.5 200.53a0.78 0.78 0 1 0 1.56 0a0.78 0.78 0 1 0 -1.56 0M106.97 199.06a0.78 0.78 0 1 0 1.56 0a0.78 0.78 0 1 0 -1.56 0M106.92 203.54a0.78 0.78 0 1 0 1.56 0a0.78 0.78 0 1 0 -1.56 0M157.01 197.57a0.78 0.78 0 1 0 1.56 0a0.78 0.78 0 1 0 -1.56 0M149.16 197.05a0.78 0.78 0 1 0 1.56 0a0.78 0.78 0 1 0 -1.56 0M151.78 197.27a0.78 0.78 0 1 0 1.56 0a0.78 0.78 0 1 0 -1.56 0M150.56 195.44a0.78 0.78 0 1 0 1.56 0a0.78 0.78 0 1 0 -1.56 0M146.03 201.43a0.78 0.78 0 1 0 1.56 0a0.78 0.78 0 1 0 -1.56 0M102.12 201.48a0.78 0.78 0 1 0 1.56 0a0.78 0.78 0 1 0 -1.56 0M93.41 193.95a0.78 0.78 0 1 0 1.56 0a0.78 0.78 0 1 0 -1.56 0M96.35 202.44a0.78 0.78 0 1 0 1.56 0a0.78 0.78 0 1 0 -1.56 0M86.73 194.05a0.78 0.78 0 1 0 1.56 0a0.78 0.78 0 1 0 -1.56 0M164.21 198.26a0.78 0.78 0 1 0 1.56 0a0.78 0.78 0 1 0 -1.56 0M114.78 198.59a0.78 0.78 0 1 0 1.56 0a0.78 0.78 0 1 0 -1.56 0M112.81 203.95a0.78 0.78 0 1 0 1.56 0a0.78 0.78 0 1 0 -1.56 0M91.74 193.48a0.78 0.78 0 1 0 1.56 0a0.78 0.78 0 1 0 -1.56 0M90.33 196.42a0.78 0.78 0 1 0 1.56 0a0.78 0.78 0 1 0 -1.56 0M160.23 200.88a0.78 0.78 0 1 0 1.56 0a0.78 0.78 0 1 0 -1.56 0M153.15 193.93a0.78 0.78 0 1 0 1.56 0a0.78 0.78 0 1 0 -1.56 0M122.68 202.4a0.78 0.78 0 1 0 1.56 0a0.78 0.78 0 1 0 -1.56 0M126.85 195.33a0.78 0.78 0 1 0 1.56 0a0.78 0.78 0 1 0 -1.56 0M121.71 201.9a0.78 0.78 0 1 0 1.56 0a0.78 0.78 0 1 0 -1.56 0M140.05 197.66a0.78 0.78 0 1 0 1.56 0a0.78 0.78 0 1 0 -1.56 0M149.3 199.92a0.78 0.78 0 1 0 1.56 0a0.78 0.78 0 1 0 -1.56 0M87.68 195.71a0.78 0.78 0 1 0 1.56 0a0.78 0.78 0 1 0 -1.56 0M132.97 203.45a0.78 0.78 0 1 0 1.56 0a0.78 0.78 0 1 0 -1.56 0M152.86 200.33a0.78 0.78 0 1 0 1.56 0a0.78 0.78 0 1 0 -1.56 0M133.76 200.8a0.78 0.78 0 1 0 1.56 0a0.78 0.78 0 1 0 -1.56 0M137.05 197.67a0.78 0.78 0 1 0 1.56 0a0.78 0.78 0 1 0 -1.56 0M162.19 199.77a0.78 0.78 0 1 0 1.56 0a0.78 0.78 0 1 0 -1.56 0M108.4 200.97a0.78 0.78 0 1 0 1.56 0a0.78 0.78 0 1 0 -1.56 0M158.31 201.2a0.78 0.78 0 1 0 1.56 0a0.78 0.78 0 1 0 -1.56 0M158.11 197.89a0.78 0.78 0 1 0 1.56 0a0.78 0.78 0 1 0 -1.56 0M85.11 196.66a0.78 0.78 0 1 0 1.56 0a0.78 0.78 0 1 0 -1.56 0M135.61 203.18a0.78 0.78 0 1 0 1.56 0a0.78 0.78 0 1 0 -1.56 0M151.62 201.25a0.78 0.78 0 1 0 1.56 0a0.78 0.78 0 1 0 -1.56 0M89.08 199.12a0.78 0.78 0 1 0 1.56 0a0.78 0.78 0 1 0 -1.56 0M86.88 200.5a0.78 0.78 0 1 0 1.56 0a0.78 0.78 0 1 0 -1.56 0M162.23 198.05a0.78 0.78 0 1 0 1.56 0a0.78 0.78 0 1 0 -1.56 0M147.34 201.74a0.78 0.78 0 1 0 1.56 0a0.78 0.78 0 1 0 -1.56 0M111.66 197.72a0.78 0.78 0 1 0 1.56 0a0.78 0.78 0 1 0 -1.56 0M96.47 200.29a0.78 0.78 0 1 0 1.56 0a0.78 0.78 0 1 0 -1.56 0M126.03 203.89a0.78 0.78 0 1 0 1.56 0a0.78 0.78 0 1 0 -1.56 0M136.92 203a0.78 0.78 0 1 0 1.56 0a0.78 0.78 0 1 0 -1.56 0M135.51 199.75a0.78 0.78 0 1 0 1.56 0a0.78 0.78 0 1 0 -1.56 0M142.36 198.87a0.78 0.78 0 1 0 1.56 0a0.78 0.78 0 1 0 -1.56 0M87.96 193.71a0.78 0.78 0 1 0 1.56 0a0.78 0.78 0 1 0 -1.56 0M158.45 200.32a0.78 0.78 0 1 0 1.56 0a0.78 0.78 0 1 0 -1.56 0M110.86 203.14a0.78 0.78 0 1 0 1.56 0a0.78 0.78 0 1 0 -1.56 0M116.8 199.78a0.78 0.78 0 1 0 1.56 0a0.78 0.78 0 1 0 -1.56 0M141 193.83a0.78 0.78 0 1 0 1.56 0a0.78 0.78 0 1 0 -1.56 0M121.93 199.24a0.78 0.78 0 1 0 1.56 0a0.78 0.78 0 1 0 -1.56 0M114.07 193.71a0.78 0.78 0 1 0 1.56 0a0.78 0.78 0 1 0 -1.56 0M96.47 197.84a0.78 0.78 0 1 0 1.56 0a0.78 0.78 0 1 0 -1.56 0M151.23 199.51a0.78 0.78 0 1 0 1.56 0a0.78 0.78 0 1 0 -1.56 0M80.58 199.74a0.78 0.78 0 1 0 1.56 0a0.78 0.78 0 1 0 -1.56 0M108.69 201.67a0.78 0.78 0 1 0 1.56 0a0.78 0.78 0 1 0 -1.56 0M162.6 200.7a0.78 0.78 0 1 0 1.56 0a0.78 0.78 0 1 0 -1.56 0M153.17 193.2a0.78 0.78 0 1 0 1.56 0a0.78 0.78 0 1 0 -1.56 0M113.09 196.98a0.78 0.78 0 1 0 1.56 0a0.78 0.78 0 1 0 -1.56 0M151.58 198.1a0.78 0.78 0 1 0 1.56 0a0.78 0.78 0 1 0 -1.56 0M123.92 202.24a0.78 0.78 0 1 0 1.56 0a0.78 0.78 0 1 0 -1.56 0M113.9 200.6a0.78 0.78 0 1 0 1.56 0a0.78 0.78 0 1 0 -1.56 0M109.38 203.26a0.78 0.78 0 1 0 1.56 0a0.78 0.78 0 1 0 -1.56 0M81.83 194.31a0.78 0.78 0 1 0 1.56 0a0.78 0.78 0 1 0 -1.56 0M101.11 202.76a0.78 0.78 0 1 0 1.56 0a0.78 0.78 0 1 0 -1.56 0M159.58 198.83a0.78 0.78 0 1 0 1.56 0a0.78 0.78 0 1 0 -1.56 0M125.73 203a0.78 0.78 0 1 0 1.56 0a0.78 0.78 0 1 0 -1.56 0M90.56 201.39a0.78 0.78 0 1 0 1.56 0a0.78 0.78 0 1 0 -1.56 0M131.71 201.07a0.78 0.78 0 1 0 1.56 0a0.78 0.78 0 1 0 -1.56 0M108.08 195.6a0.78 0.78 0 1 0 1.56 0a0.78 0.78 0 1 0 -1.56 0M112.18 200.42a0.78 0.78 0 1 0 1.56 0a0.78 0.78 0 1 0 -1.56 0M129.04 200.5a0.78 0.78 0 1 0 1.56 0a0.78 0.78 0 1 0 -1.56 0M108.61 202.85a0.78 0.78 0 1 0 1.56 0a0.78 0.78 0 1 0 -1.56 0M79.58 193.85a0.78 0.78 0 1 0 1.56 0a0.78 0.78 0 1 0 -1.56 0M107.36 194.7a0.78 0.78 0 1 0 1.56 0a0.78 0.78 0 1 0 -1.56 0M90.05 193.3a0.78 0.78 0 1 0 1.56 0a0.78 0.78 0 1 0 -1.56 0M127.81 201a0.78 0.78 0 1 0 1.56 0a0.78 0.78 0 1 0 -1.56 0M129.38 199.39a0.78 0.78 0 1 0 1.56 0a0.78 0.78 0 1 0 -1.56 0M111.69 196.72a0.78 0.78 0 1 0 1.56 0a0.78 0.78 0 1 0 -1.56 0M128.34 203.66a0.78 0.78 0 1 0 1.56 0a0.78 0.78 0 1 0 -1.56 0M94.72 199.28a0.78 0.78 0 1 0 1.56 0a0.78 0.78 0 1 0 -1.56 0M110.66 198.89a0.78 0.78 0 1 0 1.56 0a0.78 0.78 0 1 0 -1.56 0M158.1 200.63a0.78 0.78 0 1 0 1.56 0a0.78 0.78 0 1 0 -1.56 0M89.8 196.53a0.78 0.78 0 1 0 1.56 0a0.78 0.78 0 1 0 -1.56 0M131.71 202.93a0.78 0.78 0 1 0 1.56 0a0.78 0.78 0 1 0 -1.56 0M136.59 202.74a0.78 0.78 0 1 0 1.56 0a0.78 0.78 0 1 0 -1.56 0M95.26 202.36a0.78 0.78 0 1 0 1.56 0a0.78 0.78 0 1 0 -1.56 0M140.4 199.54a0.78 0.78 0 1 0 1.56 0a0.78 0.78 0 1 0 -1.56 0M90.52 194.81a0.78 0.78 0 1 0 1.56 0a0.78 0.78 0 1 0 -1.56 0M90.66 196.23a0.78 0.78 0 1 0 1.56 0a0.78 0.78 0 1 0 -1.56 0M84.26 198.36a0.78 0.78 0 1 0 1.56 0a0.78 0.78 0 1 0 -1.56 0M144.5 199.08a0.78 0.78 0 1 0 1.56 0a0.78 0.78 0 1 0 -1.56 0M114.75 202.86a0.78 0.78 0 1 0 1.56 0a0.78 0.78 0 1 0 -1.56 0M120.28 203.91a0.78 0.78 0 1 0 1.56 0a0.78 0.78 0 1 0 -1.56 0M128.26 203.84a0.78 0.78 0 1 0 1.56 0a0.78 0.78 0 1 0 -1.56 0M146.72 199.1a0.78 0.78 0 1 0 1.56 0a0.78 0.78 0 1 0 -1.56 0M123.8 195.22a0.78 0.78 0 1 0 1.56 0a0.78 0.78 0 1 0 -1.56 0M121.01 203.77a0.78 0.78 0 1 0 1.56 0a0.78 0.78 0 1 0 -1.56 0M143.06 201.51a0.78 0.78 0 1 0 1.56 0a0.78 0.78 0 1 0 -1.56 0M102.76 202.74a0.78 0.78 0 1 0 1.56 0a0.78 0.78 0 1 0 -1.56 0M109.3 201.86a0.78 0.78 0 1 0 1.56 0a0.78 0.78 0 1 0 -1.56 0M158.27 201.18a0.78 0.78 0 1 0 1.56 0a0.78 0.78 0 1 0 -1.56 0M165.18 199.64a0.78 0.78 0 1 0 1.56 0a0.78 0.78 0 1 0 -1.56 0M93.77 200.36a0.78 0.78 0 1 0 1.56 0a0.78 0.78 0 1 0 -1.56 0M122.17 201.21a0.78 0.78 0 1 0 1.56 0a0.78 0.78 0 1 0 -1.56 0M119.83 203.71a0.78 0.78 0 1 0 1.56 0a0.78 0.78 0 1 0 -1.56 0M156.41 197.39a0.78 0.78 0 1 0 1.56 0a0.78 0.78 0 1 0 -1.56 0M161.62 200.84a0.78 0.78 0 1 0 1.56 0a0.78 0.78 0 1 0 -1.56 0M131.68 197.93a0.78 0.78 0 1 0 1.56 0a0.78 0.78 0 1 0 -1.56 0M97.35 194.14a0.78 0.78 0 1 0 1.56 0a0.78 0.78 0 1 0 -1.56 0M130.95 199.94a0.78 0.78 0 1 0 1.56 0a0.78 0.78 0 1 0 -1.56 0M93.18 201.81a0.78 0.78 0 1 0 1.56 0a0.78 0.78 0 1 0 -1.56 0M100.35 199.29a0.78 0.78 0 1 0 1.56 0a0.78 0.78 0 1 0 -1.56 0M113.91 203.6a0.78 0.78 0 1 0 1.56 0a0.78 0.78 0 1 0 -1.56 0M102.72 201.77a0.78 0.78 0 1 0 1.56 0a0.78 0.78 0 1 0 -1.56 0M115.34 199.88a0.78 0.78 0 1 0 1.56 0a0.78 0.78 0 1 0 -1.56 0M148.34 198.51a0.78 0.78 0 1 0 1.56 0a0.78 0.78 0 1 0 -1.56 0M128.56 197.57a0.78 0.78 0 1 0 1.56 0a0.78 0.78 0 1 0 -1.56 0M145.34 198.2a0.78 0.78 0 1 0 1.56 0a0.78 0.78 0 1 0 -1.56 0M133.85 202.42a0.78 0.78 0 1 0 1.56 0a0.78 0.78 0 1 0 -1.56 0M98.53 200.64a0.78 0.78 0 1 0 1.56 0a0.78 0.78 0 1 0 -1.56 0M130.37 199.53a0.78 0.78 0 1 0 1.56 0a0.78 0.78 0 1 0 -1.56 0M132.61 193.21a0.78 0.78 0 1 0 1.56 0a0.78 0.78 0 1 0 -1.56 0M103.46 200.48a0.78 0.78 0 1 0 1.56 0a0.78 0.78 0 1 0 -1.56 0M124.11 203.04a0.78 0.78 0 1 0 1.56 0a0.78 0.78 0 1 0 -1.56 0M104.86 197.83a0.78 0.78 0 1 0 1.56 0a0.78 0.78 0 1 0 -1.56 0M159.96 198.25a0.78 0.78 0 1 0 1.56 0a0.78 0.78 0 1 0 -1.56 0M154.79 199.01a0.78 0.78 0 1 0 1.56 0a0.78 0.78 0 1 0 -1.56 0M153.11 201.49a0.78 0.78 0 1 0 1.56 0a0.78 0.78 0 1 0 -1.56 0M142.92 193.58a0.78 0.78 0 1 0 1.56 0a0.78 0.78 0 1 0 -1.56 0M139.05 196.27a0.78 0.78 0 1 0 1.56 0a0.78 0.78 0 1 0 -1.56 0M148.21 200.33a0.78 0.78 0 1 0 1.56 0a0.78 0.78 0 1 0 -1.56 0M140.98 197.03a0.78 0.78 0 1 0 1.56 0a0.78 0.78 0 1 0 -1.56 0M103.35 199.23a0.78 0.78 0 1 0 1.56 0a0.78 0.78 0 1 0 -1.56 0M106.07 196.33a0.78 0.78 0 1 0 1.56 0a0.78 0.78 0 1 0 -1.56 0M143 200.12a0.78 0.78 0 1 0 1.56 0a0.78 0.78 0 1 0 -1.56 0M106.78 203.05a0.78 0.78 0 1 0 1.56 0a0.78 0.78 0 1 0 -1.56 0M146.97 202.23a0.78 0.78 0 1 0 1.56 0a0.78 0.78 0 1 0 -1.56 0M134.5 195.5a0.78 0.78 0 1 0 1.56 0a0.78 0.78 0 1 0 -1.56 0M96.45 199.39a0.78 0.78 0 1 0 1.56 0a0.78 0.78 0 1 0 -1.56 0M156.26 193.02a0.78 0.78 0 1 0 1.56 0a0.78 0.78 0 1 0 -1.56 0M143.86 197.41a0.78 0.78 0 1 0 1.56 0a0.78 0.78 0 1 0 -1.56 0M104.65 198.84a0.78 0.78 0 1 0 1.56 0a0.78 0.78 0 1 0 -1.56 0M123.61 201.78a0.78 0.78 0 1 0 1.56 0a0.78 0.78 0 1 0 -1.56 0M96.59 198.6a0.78 0.78 0 1 0 1.56 0a0.78 0.78 0 1 0 -1.56 0M94.09 193.06a0.78 0.78 0 1 0 1.56 0a0.78 0.78 0 1 0 -1.56 0M97.83 195.68a0.78 0.78 0 1 0 1.56 0a0.78 0.78 0 1 0 -1.56 0M106.22 193.36a0.78 0.78 0 1 0 1.56 0a0.78 0.78 0 1 0 -1.56 0M143.63 202.45a0.78 0.78 0 1 0 1.56 0a0.78 0.78 0 1 0 -1.56 0M152.21 193.14a0.78 0.78 0 1 0 1.56 0a0.78 0.78 0 1 0 -1.56 0M139.19 202.59a0.78 0.78 0 1 0 1.56 0a0.78 0.78 0 1 0 -1.56 0M98.56 199.47a0.78 0.78 0 1 0 1.56 0a0.78 0.78 0 1 0 -1.56 0M111.6 198.69a0.78 0.78 0 1 0 1.56 0a0.78 0.78 0 1 0 -1.56 0M135.91 193.1a0.78 0.78 0 1 0 1.56 0a0.78 0.78 0 1 0 -1.56 0M120.87 201.47a0.78 0.78 0 1 0 1.56 0a0.78 0.78 0 1 0 -1.56 0M133.67 197.7a0.78 0.78 0 1 0 1.56 0a0.78 0.78 0 1 0 -1.56 0M106.76 195.53a0.78 0.78 0 1 0 1.56 0a0.78 0.78 0 1 0 -1.56 0M151.16 199.06a0.78 0.78 0 1 0 1.56 0a0.78 0.78 0 1 0 -1.56 0M131.7 198.35a0.78 0.78 0 1 0 1.56 0a0.78 0.78 0 1 0 -1.56 0M114.01 203.46a0.78 0.78 0 1 0 1.56 0a0.78 0.78 0 1 0 -1.56 0M123.98 203.78a0.78 0.78 0 1 0 1.56 0a0.78 0.78 0 1 0 -1.56 0M98.13 195.59a0.78 0.78 0 1 0 1.56 0a0.78 0.78 0 1 0 -1.56 0M135.95 202.75a0.78 0.78 0 1 0 1.56 0a0.78 0.78 0 1 0 -1.56 0M114.88 194.65a0.78 0.78 0 1 0 1.56 0a0.78 0.78 0 1 0 -1.56 0M135.71 200.49a0.78 0.78 0 1 0 1.56 0a0.78 0.78 0 1 0 -1.56 0M130.89 203.63a0.78 0.78 0 1 0 1.56 0a0.78 0.78 0 1 0 -1.56 0M130.58 201.35a0.78 0.78 0 1 0 1.56 0a0.78 0.78 0 1 0 -1.56 0M129.54 202.13a0.78 0.78 0 1 0 1.56 0a0.78 0.78 0 1 0 -1.56 0M142.26 196.06a0.78 0.78 0 1 0 1.56 0a0.78 0.78 0 1 0 -1.56 0M111.95 201.8a0.78 0.78 0 1 0 1.56 0a0.78 0.78 0 1 0 -1.56 0M124.38 200a0.78 0.78 0 1 0 1.56 0a0.78 0.78 0 1 0 -1.56 0M102.85 203.05a0.78 0.78 0 1 0 1.56 0a0.78 0.78 0 1 0 -1.56 0M111.25 202.42a0.78 0.78 0 1 0 1.56 0a0.78 0.78 0 1 0 -1.56 0M112.65 197.68a0.78 0.78 0 1 0 1.56 0a0.78 0.78 0 1 0 -1.56 0M108.14 195.67a0.78 0.78 0 1 0 1.56 0a0.78 0.78 0 1 0 -1.56 0M101.26 195.49a0.78 0.78 0 1 0 1.56 0a0.78 0.78 0 1 0 -1.56 0M126.53 201.88a0.78 0.78 0 1 0 1.56 0a0.78 0.78 0 1 0 -1.56 0M137.06 193.68a0.78 0.78 0 1 0 1.56 0a0.78 0.78 0 1 0 -1.56 0M100.89 202.6a0.78 0.78 0 1 0 1.56 0a0.78 0.78 0 1 0 -1.56 0M131.44 194.66a0.78 0.78 0 1 0 1.56 0a0.78 0.78 0 1 0 -1.56 0M136.63 202.21a0.78 0.78 0 1 0 1.56 0a0.78 0.78 0 1 0 -1.56 0M129.11 195.12a0.78 0.78 0 1 0 1.56 0a0.78 0.78 0 1 0 -1.56 0M98.5 199.07a0.78 0.78 0 1 0 1.56 0a0.78 0.78 0 1 0 -1.56 0M88.26 197.15a0.78 0.78 0 1 0 1.56 0a0.78 0.78 0 1 0 -1.56 0M133.86 201.18a0.78 0.78 0 1 0 1.56 0a0.78 0.78 0 1 0 -1.56 0M111.81 195.48a0.78 0.78 0 1 0 1.56 0a0.78 0.78 0 1 0 -1.56 0M92.58 198.45a0.78 0.78 0 1 0 1.56 0a0.78 0.78 0 1 0 -1.56 0M99.01 201.38a0.78 0.78 0 1 0 1.56 0a0.78 0.78 0 1 0 -1.56 0M106.49 202.53a0.78 0.78 0 1 0 1.56 0a0.78 0.78 0 1 0 -1.56 0M90.44 199.72a0.78 0.78 0 1 0 1.56 0a0.78 0.78 0 1 0 -1.56 0M156.33 194.8a0.78 0.78 0 1 0 1.56 0a0.78 0.78 0 1 0 -1.56 0M107.87 203.58a0.78 0.78 0 1 0 1.56 0a0.78 0.78 0 1 0 -1.56 0M150.94 199.85a0.78 0.78 0 1 0 1.56 0a0.78 0.78 0 1 0 -1.56 0M152.66 195.07a0.78 0.78 0 1 0 1.56 0a0.78 0.78 0 1 0 -1.56 0M93.92 201.6a0.78 0.78 0 1 0 1.56 0a0.78 0.78 0 1 0 -1.56 0M120.78 204.1a0.78 0.78 0 1 0 1.56 0a0.78 0.78 0 1 0 -1.56 0M110.98 202.24a0.78 0.78 0 1 0 1.56 0a0.78 0.78 0 1 0 -1.56 0M117.27 202.45a0.78 0.78 0 1 0 1.56 0a0.78 0.78 0 1 0 -1.56 0M127.52 195.66a0.78 0.78 0 1 0 1.56 0a0.78 0.78 0 1 0 -1.56 0M153.51 199.46a0.78 0.78 0 1 0 1.56 0a0.78 0.78 0 1 0 -1.56 0M135.71 203.38a0.78 0.78 0 1 0 1.56 0a0.78 0.78 0 1 0 -1.56 0M85 200.98a0.78 0.78 0 1 0 1.56 0a0.78 0.78 0 1 0 -1.56 0M114.42 196.45a0.78 0.78 0 1 0 1.56 0a0.78 0.78 0 1 0 -1.56 0M91.31 196.31a0.78 0.78 0 1 0 1.56 0a0.78 0.78 0 1 0 -1.56 0M132.43 203.38a0.78 0.78 0 1 0 1.56 0a0.78 0.78 0 1 0 -1.56 0M139.34 194.1a0.78 0.78 0 1 0 1.56 0a0.78 0.78 0 1 0 -1.56 0M154.57 197.55a0.78 0.78 0 1 0 1.56 0a0.78 0.78 0 1 0 -1.56 0M121.45 197.87a0.78 0.78 0 1 0 1.56 0a0.78 0.78 0 1 0 -1.56 0M98.55 194.1a0.78 0.78 0 1 0 1.56 0a0.78 0.78 0 1 0 -1.56 0M130.9 203.58a0.78 0.78 0 1 0 1.56 0a0.78 0.78 0 1 0 -1.56 0M102.52 202.36a0.78 0.78 0 1 0 1.56 0a0.78 0.78 0 1 0 -1.56 0M113.41 197.68a0.78 0.78 0 1 0 1.56 0a0.78 0.78 0 1 0 -1.56 0M130.33 202.63a0.78 0.78 0 1 0 1.56 0a0.78 0.78 0 1 0 -1.56 0M140.36 194.01a0.78 0.78 0 1 0 1.56 0a0.78 0.78 0 1 0 -1.56 0M106.96 194.88a0.78 0.78 0 1 0 1.56 0a0.78 0.78 0 1 0 -1.56 0M96.51 200.87a0.78 0.78 0 1 0 1.56 0a0.78 0.78 0 1 0 -1.56 0M145.36 196.4a0.78 0.78 0 1 0 1.56 0a0.78 0.78 0 1 0 -1.56 0M92.43 199.41a0.78 0.78 0 1 0 1.56 0a0.78 0.78 0 1 0 -1.56 0M104.54 202.51a0.78 0.78 0 1 0 1.56 0a0.78 0.78 0 1 0 -1.56 0M107.7 202.82a0.78 0.78 0 1 0 1.56 0a0.78 0.78 0 1 0 -1.56 0M140.5 202.7a0.78 0.78 0 1 0 1.56 0a0.78 0.78 0 1 0 -1.56 0M100.26 200.96a0.78 0.78 0 1 0 1.56 0a0.78 0.78 0 1 0 -1.56 0M115.98 204.12a0.78 0.78 0 1 0 1.56 0a0.78 0.78 0 1 0 -1.56 0M99.46 200.24a0.78 0.78 0 1 0 1.56 0a0.78 0.78 0 1 0 -1.56 0M97.31 202.59a0.78 0.78 0 1 0 1.56 0a0.78 0.78 0 1 0 -1.56 0M150.01 197.8a0.78 0.78 0 1 0 1.56 0a0.78 0.78 0 1 0 -1.56 0M150.41 201.13a0.78 0.78 0 1 0 1.56 0a0.78 0.78 0 1 0 -1.56 0M133.16 202.84a0.78 0.78 0 1 0 1.56 0a0.78 0.78 0 1 0 -1.56 0M159.75 200.62a0.78 0.78 0 1 0 1.56 0a0.78 0.78 0 1 0 -1.56 0M159.01 199.81a0.78 0.78 0 1 0 1.56 0a0.78 0.78 0 1 0 -1.56 0M97 200.62a0.78 0.78 0 1 0 1.56 0a0.78 0.78 0 1 0 -1.56 0M130.41 203.67a0.78 0.78 0 1 0 1.56 0a0.78 0.78 0 1 0 -1.56 0M149.23 195.51a0.78 0.78 0 1 0 1.56 0a0.78 0.78 0 1 0 -1.56 0M162.63 198.24a0.78 0.78 0 1 0 1.56 0a0.78 0.78 0 1 0 -1.56 0M126.44 202.36a0.78 0.78 0 1 0 1.56 0a0.78 0.78 0 1 0 -1.56 0M122.7 198a0.78 0.78 0 1 0 1.56 0a0.78 0.78 0 1 0 -1.56 0M101.27 193.48a0.78 0.78 0 1 0 1.56 0a0.78 0.78 0 1 0 -1.56 0M117.24 201.17a0.78 0.78 0 1 0 1.56 0a0.78 0.78 0 1 0 -1.56 0M160.22 198.99a0.78 0.78 0 1 0 1.56 0a0.78 0.78 0 1 0 -1.56 0M92.62 199.78a0.78 0.78 0 1 0 1.56 0a0.78 0.78 0 1 0 -1.56 0M101.45 197.8a0.78 0.78 0 1 0 1.56 0a0.78 0.78 0 1 0 -1.56 0M101.27 199.02a0.78 0.78 0 1 0 1.56 0a0.78 0.78 0 1 0 -1.56 0M111.08 203.64a0.78 0.78 0 1 0 1.56 0a0.78 0.78 0 1 0 -1.56 0M100.59 193.45a0.78 0.78 0 1 0 1.56 0a0.78 0.78 0 1 0 -1.56 0M160.71 193.48a0.78 0.78 0 1 0 1.56 0a0.78 0.78 0 1 0 -1.56 0M148.3 200.97a0.78 0.78 0 1 0 1.56 0a0.78 0.78 0 1 0 -1.56 0M133.31 201.64a0.78 0.78 0 1 0 1.56 0a0.78 0.78 0 1 0 -1.56 0M120.17 203.4a0.78 0.78 0 1 0 1.56 0a0.78 0.78 0 1 0 -1.56 0M140.47 202.81a0.78 0.78 0 1 0 1.56 0a0.78 0.78 0 1 0 -1.56 0M136.83 198.98a0.78 0.78 0 1 0 1.56 0a0.78 0.78 0 1 0 -1.56 0M97.83 198.79a0.78 0.78 0 1 0 1.56 0a0.78 0.78 0 1 0 -1.56 0M114.3 203.33a0.78 0.78 0 1 0 1.56 0a0.78 0.78 0 1 0 -1.56 0M145.35 202.29a0.78 0.78 0 1 0 1.56 0a0.78 0.78 0 1 0 -1.56 0M131.09 203.44a0.78 0.78 0 1 0 1.56 0a0.78 0.78 0 1 0 -1.56 0M130.99 200.29a0.78 0.78 0 1 0 1.56 0a0.78 0.78 0 1 0 -1.56 0M129.79 199.35a0.78 0.78 0 1 0 1.56 0a0.78 0.78 0 1 0 -1.56 0M98.5 198.56a0.78 0.78 0 1 0 1.56 0a0.78 0.78 0 1 0 -1.56 0M102.66 203a0.78 0.78 0 1 0 1.56 0a0.78 0.78 0 1 0 -1.56 0M137.79 202.61a0.78 0.78 0 1 0 1.56 0a0.78 0.78 0 1 0 -1.56 0M146.07 196.19a0.78 0.78 0 1 0 1.56 0a0.78 0.78 0 1 0 -1.56 0M104.08 203.28a0.78 0.78 0 1 0 1.56 0a0.78 0.78 0 1 0 -1.56 0M129.14 202.23a0.78 0.78 0 1 0 1.56 0a0.78 0.78 0 1 0 -1.56 0M139.44 194.74a0.78 0.78 0 1 0 1.56 0a0.78 0.78 0 1 0 -1.56 0M135.34 196.65a0.78 0.78 0 1 0 1.56 0a0.78 0.78 0 1 0 -1.56 0M89.62 196.52a0.78 0.78 0 1 0 1.56 0a0.78 0.78 0 1 0 -1.56 0M94.91 202.09a0.78 0.78 0 1 0 1.56 0a0.78 0.78 0 1 0 -1.56 0M151.5 201.33a0.78 0.78 0 1 0 1.56 0a0.78 0.78 0 1 0 -1.56 0M85.63 200.88a0.78 0.78 0 1 0 1.56 0a0.78 0.78 0 1 0 -1.56 0M114.45 196.31a0.78 0.78 0 1 0 1.56 0a0.78 0.78 0 1 0 -1.56 0M96.87 201.23a0.78 0.78 0 1 0 1.56 0a0.78 0.78 0 1 0 -1.56 0M137.25 202.8a0.78 0.78 0 1 0 1.56 0a0.78 0.78 0 1 0 -1.56 0M144.88 197.31a0.78 0.78 0 1 0 1.56 0a0.78 0.78 0 1 0 -1.56 0M112.84 200.33a0.78 0.78 0 1 0 1.56 0a0.78 0.78 0 1 0 -1.56 0M86.42 199.39a0.78 0.78 0 1 0 1.56 0a0.78 0.78 0 1 0 -1.56 0M126.48 195.58a0.78 0.78 0 1 0 1.56 0a0.78 0.78 0 1 0 -1.56 0M105.78 202.54a0.78 0.78 0 1 0 1.56 0a0.78 0.78 0 1 0 -1.56 0M147.34 202.33a0.78 0.78 0 1 0 1.56 0a0.78 0.78 0 1 0 -1.56 0M104.52 200.27a0.78 0.78 0 1 0 1.56 0a0.78 0.78 0 1 0 -1.56 0M137.59 201.29a0.78 0.78 0 1 0 1.56 0a0.78 0.78 0 1 0 -1.56 0M95.89 200.81a0.78 0.78 0 1 0 1.56 0a0.78 0.78 0 1 0 -1.56 0M100.63 193.22a0.78 0.78 0 1 0 1.56 0a0.78 0.78 0 1 0 -1.56 0M113.05 198.18a0.78 0.78 0 1 0 1.56 0a0.78 0.78 0 1 0 -1.56 0M108 200.12a0.78 0.78 0 1 0 1.56 0a0.78 0.78 0 1 0 -1.56 0M96.29 199.07a0.78 0.78 0 1 0 1.56 0a0.78 0.78 0 1 0 -1.56 0M156.13 195.85a0.78 0.78 0 1 0 1.56 0a0.78 0.78 0 1 0 -1.56 0M149.54 200.36a0.78 0.78 0 1 0 1.56 0a0.78 0.78 0 1 0 -1.56 0M87.33 193.81a0.78 0.78 0 1 0 1.56 0a0.78 0.78 0 1 0 -1.56 0M133.53 196.69a0.78 0.78 0 1 0 1.56 0a0.78 0.78 0 1 0 -1.56 0M143.45 198.03a0.78 0.78 0 1 0 1.56 0a0.78 0.78 0 1 0 -1.56 0M97.01 200.3a0.78 0.78 0 1 0 1.56 0a0.78 0.78 0 1 0 -1.56 0M105.47 201.71a0.78 0.78 0 1 0 1.56 0a0.78 0.78 0 1 0 -1.56 0M142.12 200.88a0.78 0.78 0 1 0 1.56 0a0.78 0.78 0 1 0 -1.56 0M109.52 201.75a0.78 0.78 0 1 0 1.56 0a0.78 0.78 0 1 0 -1.56 0M140.38 198.95a0.78 0.78 0 1 0 1.56 0a0.78 0.78 0 1 0 -1.56 0M112.13 203.78a0.78 0.78 0 1 0 1.56 0a0.78 0.78 0 1 0 -1.56 0M106.6 197.21a0.78 0.78 0 1 0 1.56 0a0.78 0.78 0 1 0 -1.56 0M147.05 202.25a0.78 0.78 0 1 0 1.56 0a0.78 0.78 0 1 0 -1.56 0M95.83 193.19a0.78 0.78 0 1 0 1.56 0a0.78 0.78 0 1 0 -1.56 0M88.15 194.71a0.78 0.78 0 1 0 1.56 0a0.78 0.78 0 1 0 -1.56 0M99.63 194.54a0.78 0.78 0 1 0 1.56 0a0.78 0.78 0 1 0 -1.56 0M108.62 203.65a0.78 0.78 0 1 0 1.56 0a0.78 0.78 0 1 0 -1.56 0M108.21 197.57a0.78 0.78 0 1 0 1.56 0a0.78 0.78 0 1 0 -1.56 0M103 202.41a0.78 0.78 0 1 0 1.56 0a0.78 0.78 0 1 0 -1.56 0M160.64 200.39a0.78 0.78 0 1 0 1.56 0a0.78 0.78 0 1 0 -1.56 0M86.76 199.8a0.78 0.78 0 1 0 1.56 0a0.78 0.78 0 1 0 -1.56 0M111.37 199.85a0.78 0.78 0 1 0 1.56 0a0.78 0.78 0 1 0 -1.56 0M149.79 194.1a0.78 0.78 0 1 0 1.56 0a0.78 0.78 0 1 0 -1.56 0M105.88 196.87a0.78 0.78 0 1 0 1.56 0a0.78 0.78 0 1 0 -1.56 0M138.44 197.7a0.78 0.78 0 1 0 1.56 0a0.78 0.78 0 1 0 -1.56 0M116.55 201.42a0.78 0.78 0 1 0 1.56 0a0.78 0.78 0 1 0 -1.56 0M94.02 200.62a0.78 0.78 0 1 0 1.56 0a0.78 0.78 0 1 0 -1.56 0M147.76 201.29a0.78 0.78 0 1 0 1.56 0a0.78 0.78 0 1 0 -1.56 0M153.87 201.54a0.78 0.78 0 1 0 1.56 0a0.78 0.78 0 1 0 -1.56 0M113.17 196.8a0.78 0.78 0 1 0 1.56 0a0.78 0.78 0 1 0 -1.56 0M147.3 198.73a0.78 0.78 0 1 0 1.56 0a0.78 0.78 0 1 0 -1.56 0M147.94 200.74a0.78 0.78 0 1 0 1.56 0a0.78 0.78 0 1 0 -1.56 0M131.3 197.48a0.78 0.78 0 1 0 1.56 0a0.78 0.78 0 1 0 -1.56 0M98.1 193.9a0.78 0.78 0 1 0 1.56 0a0.78 0.78 0 1 0 -1.56 0M156.29 193.14a0.78 0.78 0 1 0 1.56 0a0.78 0.78 0 1 0 -1.56 0M113.51 203.88a0.78 0.78 0 1 0 1.56 0a0.78 0.78 0 1 0 -1.56 0M145.69 201.92a0.78 0.78 0 1 0 1.56 0a0.78 0.78 0 1 0 -1.56 0M136.52 202.82a0.78 0.78 0 1 0 1.56 0a0.78 0.78 0 1 0 -1.56 0M89.61 201.19a0.78 0.78 0 1 0 1.56 0a0.78 0.78 0 1 0 -1.56 0M142.97 198.04a0.78 0.78 0 1 0 1.56 0a0.78 0.78 0 1 0 -1.56 0M87.12 199.96a0.78 0.78 0 1 0 1.56 0a0.78 0.78 0 1 0 -1.56 0M124.04 197.33a0.78 0.78 0 1 0 1.56 0a0.78 0.78 0 1 0 -1.56 0M93.26 200a0.78 0.78 0 1 0 1.56 0a0.78 0.78 0 1 0 -1.56 0M121.72 199.68a0.78 0.78 0 1 0 1.56 0a0.78 0.78 0 1 0 -1.56 0M82.42 197.04a0.78 0.78 0 1 0 1.56 0a0.78 0.78 0 1 0 -1.56 0M108.84 202.44a0.78 0.78 0 1 0 1.56 0a0.78 0.78 0 1 0 -1.56 0M109.66 202.91a0.78 0.78 0 1 0 1.56 0a0.78 0.78 0 1 0 -1.56 0M149.93 200.82a0.78 0.78 0 1 0 1.56 0a0.78 0.78 0 1 0 -1.56 0M129.3 199.41a0.78 0.78 0 1 0 1.56 0a0.78 0.78 0 1 0 -1.56 0M84.64 200.02a0.78 0.78 0 1 0 1.56 0a0.78 0.78 0 1 0 -1.56 0M99.59 194.66a0.78 0.78 0 1 0 1.56 0a0.78 0.78 0 1 0 -1.56 0M91.78 199.42a0.78 0.78 0 1 0 1.56 0a0.78 0.78 0 1 0 -1.56 0M136.26 196.39a0.78 0.78 0 1 0 1.56 0a0.78 0.78 0 1 0 -1.56 0M127.64 195.27a0.78 0.78 0 1 0 1.56 0a0.78 0.78 0 1 0 -1.56 0M133.22 203.52a0.78 0.78 0 1 0 1.56 0a0.78 0.78 0 1 0 -1.56 0M126.12 197.25a0.78 0.78 0 1 0 1.56 0a0.78 0.78 0 1 0 -1.56 0M112.14 197.99a0.78 0.78 0 1 0 1.56 0a0.78 0.78 0 1 0 -1.56 0M105.37 194.32a0.78 0.78 0 1 0 1.56 0a0.78 0.78 0 1 0 -1.56 0M161.51 200.85a0.78 0.78 0 1 0 1.56 0a0.78 0.78 0 1 0 -1.56 0M87.45 201.34a0.78 0.78 0 1 0 1.56 0a0.78 0.78 0 1 0 -1.56 0M130.03 200.96a0.78 0.78 0 1 0 1.56 0a0.78 0.78 0 1 0 -1.56 0M125.39 201.17a0.78 0.78 0 1 0 1.56 0a0.78 0.78 0 1 0 -1.56 0M91.68 196.44a0.78 0.78 0 1 0 1.56 0a0.78 0.78 0 1 0 -1.56 0M124.26 201.96a0.78 0.78 0 1 0 1.56 0a0.78 0.78 0 1 0 -1.56 0M132.03 202.96a0.78 0.78 0 1 0 1.56 0a0.78 0.78 0 1 0 -1.56 0M116.09 204.05a0.78 0.78 0 1 0 1.56 0a0.78 0.78 0 1 0 -1.56 0M138.57 199.18a0.78 0.78 0 1 0 1.56 0a0.78 0.78 0 1 0 -1.56 0M145.15 198.92a0.78 0.78 0 1 0 1.56 0a0.78 0.78 0 1 0 -1.56 0M138.15 201.56a0.78 0.78 0 1 0 1.56 0a0.78 0.78 0 1 0 -1.56 0M102.59 202.7a0.78 0.78 0 1 0 1.56 0a0.78 0.78 0 1 0 -1.56 0M131.15 198.83a0.78 0.78 0 1 0 1.56 0a0.78 0.78 0 1 0 -1.56 0M109.29 202.92a0.78 0.78 0 1 0 1.56 0a0.78 0.78 0 1 0 -1.56 0M85.43 194.15a0.78 0.78 0 1 0 1.56 0a0.78 0.78 0 1 0 -1.56 0M91.33 197.47a0.78 0.78 0 1 0 1.56 0a0.78 0.78 0 1 0 -1.56 0M134.1 193.47a0.78 0.78 0 1 0 1.56 0a0.78 0.78 0 1 0 -1.56 0M89.27 198.68a0.78 0.78 0 1 0 1.56 0a0.78 0.78 0 1 0 -1.56 0M154.8 196.62a0.78 0.78 0 1 0 1.56 0a0.78 0.78 0 1 0 -1.56 0M97.98 198.25a0.78 0.78 0 1 0 1.56 0a0.78 0.78 0 1 0 -1.56 0M134.41 198.48a0.78 0.78 0 1 0 1.56 0a0.78 0.78 0 1 0 -1.56 0M129.63 198.86a0.78 0.78 0 1 0 1.56 0a0.78 0.78 0 1 0 -1.56 0M144.09 199.73a0.78 0.78 0 1 0 1.56 0a0.78 0.78 0 1 0 -1.56 0M113.19 194.25a0.78 0.78 0 1 0 1.56 0a0.78 0.78 0 1 0 -1.56 0M144.18 199.2a0.78 0.78 0 1 0 1.56 0a0.78 0.78 0 1 0 -1.56 0M130.37 203.09a0.78 0.78 0 1 0 1.56 0a0.78 0.78 0 1 0 -1.56 0M141.1 198.07a0.78 0.78 0 1 0 1.56 0a0.78 0.78 0 1 0 -1.56 0M162.09 200.77a0.78 0.78 0 1 0 1.56 0a0.78 0.78 0 1 0 -1.56 0M85.87 200.88a0.78 0.78 0 1 0 1.56 0a0.78 0.78 0 1 0 -1.56 0M108.86 203.41a0.78 0.78 0 1 0 1.56 0a0.78 0.78 0 1 0 -1.56 0M87.01 198.98a0.78 0.78 0 1 0 1.56 0a0.78 0.78 0 1 0 -1.56 0M103.16 193.05a0.78 0.78 0 1 0 1.56 0a0.78 0.78 0 1 0 -1.56 0M140.57 199.92a0.78 0.78 0 1 0 1.56 0a0.78 0.78 0 1 0 -1.56 0M136.58 199.68a0.78 0.78 0 1 0 1.56 0a0.78 0.78 0 1 0 -1.56 0M104.14 201.46a0.78 0.78 0 1 0 1.56 0a0.78 0.78 0 1 0 -1.56 0M118.12 203.33a0.78 0.78 0 1 0 1.56 0a0.78 0.78 0 1 0 -1.56 0M121.61 203.44a0.78 0.78 0 1 0 1.56 0a0.78 0.78 0 1 0 -1.56 0M132.11 201.87a0.78 0.78 0 1 0 1.56 0a0.78 0.78 0 1 0 -1.56 0M87.44 199.66a0.78 0.78 0 1 0 1.56 0a0.78 0.78 0 1 0 -1.56 0M101.3 201.01a0.78 0.78 0 1 0 1.56 0a0.78 0.78 0 1 0 -1.56 0M133.11 201.04a0.78 0.78 0 1 0 1.56 0a0.78 0.78 0 1 0 -1.56 0M95.9 194.11a0.78 0.78 0 1 0 1.56 0a0.78 0.78 0 1 0 -1.56 0M92.46 201.9a0.78 0.78 0 1 0 1.56 0a0.78 0.78 0 1 0 -1.56 0M137.18 199.59a0.78 0.78 0 1 0 1.56 0a0.78 0.78 0 1 0 -1.56 0M162.44 200.76a0.78 0.78 0 1 0 1.56 0a0.78 0.78 0 1 0 -1.56 0M141.21 200.05a0.78 0.78 0 1 0 1.56 0a0.78 0.78 0 1 0 -1.56 0M138.9 200.07a0.78 0.78 0 1 0 1.56 0a0.78 0.78 0 1 0 -1.56 0M140.11 199.82a0.78 0.78 0 1 0 1.56 0a0.78 0.78 0 1 0 -1.56 0M158.73 196.13a0.78 0.78 0 1 0 1.56 0a0.78 0.78 0 1 0 -1.56 0M156.05 201.22a0.78 0.78 0 1 0 1.56 0a0.78 0.78 0 1 0 -1.56 0M115.77 196.06a0.78 0.78 0 1 0 1.56 0a0.78 0.78 0 1 0 -1.56 0M115.33 197.04a0.78 0.78 0 1 0 1.56 0a0.78 0.78 0 1 0 -1.56 0M121.48 198.12a0.78 0.78 0 1 0 1.56 0a0.78 0.78 0 1 0 -1.56 0M142.19 202.76a0.78 0.78 0 1 0 1.56 0a0.78 0.78 0 1 0 -1.56 0M139.05 198.84a0.78 0.78 0 1 0 1.56 0a0.78 0.78 0 1 0 -1.56 0M158.36 200.87a0.78 0.78 0 1 0 1.56 0a0.78 0.78 0 1 0 -1.56 0M98.3 202.71a0.78 0.78 0 1 0 1.56 0a0.78 0.78 0 1 0 -1.56 0M132.11 202.38a0.78 0.78 0 1 0 1.56 0a0.78 0.78 0 1 0 -1.56 0M108.72 195.31a0.78 0.78 0 1 0 1.56 0a0.78 0.78 0 1 0 -1.56 0M143.55 200.31a0.78 0.78 0 1 0 1.56 0a0.78 0.78 0 1 0 -1.56 0M106.76 195.15a0.78 0.78 0 1 0 1.56 0a0.78 0.78 0 1 0 -1.56 0M116.76 200.03a0.78 0.78 0 1 0 1.56 0a0.78 0.78 0 1 0 -1.56 0M100.44 199.77a0.78 0.78 0 1 0 1.56 0a0.78 0.78 0 1 0 -1.56 0M136.52 196.08a0.78 0.78 0 1 0 1.56 0a0.78 0.78 0 1 0 -1.56 0M106.38 199.66a0.78 0.78 0 1 0 1.56 0a0.78 0.78 0 1 0 -1.56 0M96.45 200.94a0.78 0.78 0 1 0 1.56 0a0.78 0.78 0 1 0 -1.56 0M157.66 198.97a0.78 0.78 0 1 0 1.56 0a0.78 0.78 0 1 0 -1.56 0M140.35 194.88a0.78 0.78 0 1 0 1.56 0a0.78 0.78 0 1 0 -1.56 0M101.64 198.14a0.78 0.78 0 1 0 1.56 0a0.78 0.78 0 1 0 -1.56 0M127.54 194.32a0.78 0.78 0 1 0 1.56 0a0.78 0.78 0 1 0 -1.56 0M157.57 196.9a0.78 0.78 0 1 0 1.56 0a0.78 0.78 0 1 0 -1.56 0M133.09 202.68a0.78 0.78 0 1 0 1.56 0a0.78 0.78 0 1 0 -1.56 0M125.88 194.41a0.78 0.78 0 1 0 1.56 0a0.78 0.78 0 1 0 -1.56 0M114.83 203.81a0.78 0.78 0 1 0 1.56 0a0.78 0.78 0 1 0 -1.56 0M131.29 194.56a0.78 0.78 0 1 0 1.56 0a0.78 0.78 0 1 0 -1.56 0M126.31 203.85a0.78 0.78 0 1 0 1.56 0a0.78 0.78 0 1 0 -1.56 0M109.61 199.23a0.78 0.78 0 1 0 1.56 0a0.78 0.78 0 1 0 -1.56 0M96.62 202.04a0.78 0.78 0 1 0 1.56 0a0.78 0.78 0 1 0 -1.56 0M134.52 195.53a0.78 0.78 0 1 0 1.56 0a0.78 0.78 0 1 0 -1.56 0M87.16 199.48a0.78 0.78 0 1 0 1.56 0a0.78 0.78 0 1 0 -1.56 0M103.77 198.23a0.78 0.78 0 1 0 1.56 0a0.78 0.78 0 1 0 -1.56 0M97.21 202.37a0.78 0.78 0 1 0 1.56 0a0.78 0.78 0 1 0 -1.56 0M154.07 197.02a0.78 0.78 0 1 0 1.56 0a0.78 0.78 0 1 0 -1.56 0M132.89 201.62a0.78 0.78 0 1 0 1.56 0a0.78 0.78 0 1 0 -1.56 0M142.85 194.08a0.78 0.78 0 1 0 1.56 0a0.78 0.78 0 1 0 -1.56 0M99.62 195.05a0.78 0.78 0 1 0 1.56 0a0.78 0.78 0 1 0 -1.56 0M144.99 202.41a0.78 0.78 0 1 0 1.56 0a0.78 0.78 0 1 0 -1.56 0M108.08 194.76a0.78 0.78 0 1 0 1.56 0a0.78 0.78 0 1 0 -1.56 0M129.82 194.27a0.78 0.78 0 1 0 1.56 0a0.78 0.78 0 1 0 -1.56 0M95.11 193.48a0.78 0.78 0 1 0 1.56 0a0.78 0.78 0 1 0 -1.56 0M105.63 200.53a0.78 0.78 0 1 0 1.56 0a0.78 0.78 0 1 0 -1.56 0M133.25 203.4a0.78 0.78 0 1 0 1.56 0a0.78 0.78 0 1 0 -1.56 0M123.45 199.8a0.78 0.78 0 1 0 1.56 0a0.78 0.78 0 1 0 -1.56 0M147.65 199.65a0.78 0.78 0 1 0 1.56 0a0.78 0.78 0 1 0 -1.56 0M98.49 202.5a0.78 0.78 0 1 0 1.56 0a0.78 0.78 0 1 0 -1.56 0M125.21 199.43a0.78 0.78 0 1 0 1.56 0a0.78 0.78 0 1 0 -1.56 0M103.98 197.95a0.78 0.78 0 1 0 1.56 0a0.78 0.78 0 1 0 -1.56 0M112.1 194a0.78 0.78 0 1 0 1.56 0a0.78 0.78 0 1 0 -1.56 0M85.47 198.6a0.78 0.78 0 1 0 1.56 0a0.78 0.78 0 1 0 -1.56 0M115.1 195.07a0.78 0.78 0 1 0 1.56 0a0.78 0.78 0 1 0 -1.56 0M99.17 199.19a0.78 0.78 0 1 0 1.56 0a0.78 0.78 0 1 0 -1.56 0M100.29 202.37a0.78 0.78 0 1 0 1.56 0a0.78 0.78 0 1 0 -1.56 0M143.35 200.8a0.78 0.78 0 1 0 1.56 0a0.78 0.78 0 1 0 -1.56 0M102.83 202.38a0.78 0.78 0 1 0 1.56 0a0.78 0.78 0 1 0 -1.56 0M109.32 195.12a0.78 0.78 0 1 0 1.56 0a0.78 0.78 0 1 0 -1.56 0M142.46 196.08a0.78 0.78 0 1 0 1.56 0a0.78 0.78 0 1 0 -1.56 0M152.17 196.29a0.78 0.78 0 1 0 1.56 0a0.78 0.78 0 1 0 -1.56 0M108.36 203.62a0.78 0.78 0 1 0 1.56 0a0.78 0.78 0 1 0 -1.56 0M98.3 201.35a0.78 0.78 0 1 0 1.56 0a0.78 0.78 0 1 0 -1.56 0M122.9 199.48a0.78 0.78 0 1 0 1.56 0a0.78 0.78 0 1 0 -1.56 0M95.25 196.02a0.78 0.78 0 1 0 1.56 0a0.78 0.78 0 1 0 -1.56 0M121.83 202.96a0.78 0.78 0 1 0 1.56 0a0.78 0.78 0 1 0 -1.56 0M152.31 200.3a0.78 0.78 0 1 0 1.56 0a0.78 0.78 0 1 0 -1.56 0M141.17 194.23a0.78 0.78 0 1 0 1.56 0a0.78 0.78 0 1 0 -1.56 0M115.33 202.93a0.78 0.78 0 1 0 1.56 0a0.78 0.78 0 1 0 -1.56 0M151.67 200.34a0.78 0.78 0 1 0 1.56 0a0.78 0.78 0 1 0 -1.56 0M110.97 202.89a0.78 0.78 0 1 0 1.56 0a0.78 0.78 0 1 0 -1.56 0M80.17 195.29a0.78 0.78 0 1 0 1.56 0a0.78 0.78 0 1 0 -1.56 0M142.89 196.22a0.78 0.78 0 1 0 1.56 0a0.78 0.78 0 1 0 -1.56 0M155.19 200.94a0.78 0.78 0 1 0 1.56 0a0.78 0.78 0 1 0 -1.56 0M159.75 200.91a0.78 0.78 0 1 0 1.56 0a0.78 0.78 0 1 0 -1.56 0M135.72 202.81a0.78 0.78 0 1 0 1.56 0a0.78 0.78 0 1 0 -1.56 0M151.38 201.63a0.78 0.78 0 1 0 1.56 0a0.78 0.78 0 1 0 -1.56 0M164.18 195.84a0.78 0.78 0 1 0 1.56 0a0.78 0.78 0 1 0 -1.56 0M157.64 199.13a0.78 0.78 0 1 0 1.56 0a0.78 0.78 0 1 0 -1.56 0M156.79 200.2a0.78 0.78 0 1 0 1.56 0a0.78 0.78 0 1 0 -1.56 0M144.55 193.82a0.78 0.78 0 1 0 1.56 0a0.78 0.78 0 1 0 -1.56 0M100.69 201.97a0.78 0.78 0 1 0 1.56 0a0.78 0.78 0 1 0 -1.56 0M137.79 196.3a0.78 0.78 0 1 0 1.56 0a0.78 0.78 0 1 0 -1.56 0M151.87 195.36a0.78 0.78 0 1 0 1.56 0a0.78 0.78 0 1 0 -1.56 0M115.37 198.49a0.78 0.78 0 1 0 1.56 0a0.78 0.78 0 1 0 -1.56 0M135.26 198.87a0.78 0.78 0 1 0 1.56 0a0.78 0.78 0 1 0 -1.56 0M119.61 203.86a0.78 0.78 0 1 0 1.56 0a0.78 0.78 0 1 0 -1.56 0M139.08 198.59a0.78 0.78 0 1 0 1.56 0a0.78 0.78 0 1 0 -1.56 0M135.05 202.54a0.78 0.78 0 1 0 1.56 0a0.78 0.78 0 1 0 -1.56 0M85.38 199.97a0.78 0.78 0 1 0 1.56 0a0.78 0.78 0 1 0 -1.56 0M108.09 197.61a0.78 0.78 0 1 0 1.56 0a0.78 0.78 0 1 0 -1.56 0M92.64 201.74a0.78 0.78 0 1 0 1.56 0a0.78 0.78 0 1 0 -1.56 0M108.07 193.71a0.78 0.78 0 1 0 1.56 0a0.78 0.78 0 1 0 -1.56 0M109.94 194.84a0.78 0.78 0 1 0 1.56 0a0.78 0.78 0 1 0 -1.56 0M127.99 195.79a0.78 0.78 0 1 0 1.56 0a0.78 0.78 0 1 0 -1.56 0M97.94 202.67a0.78 0.78 0 1 0 1.56 0a0.78 0.78 0 1 0 -1.56 0M130.96 201.68a0.78 0.78 0 1 0 1.56 0a0.78 0.78 0 1 0 -1.56 0M96.93 195.02a0.78 0.78 0 1 0 1.56 0a0.78 0.78 0 1 0 -1.56 0M137.05 194.15a0.78 0.78 0 1 0 1.56 0a0.78 0.78 0 1 0 -1.56 0M151.07 197.78a0.78 0.78 0 1 0 1.56 0a0.78 0.78 0 1 0 -1.56 0M149.41 200.27a0.78 0.78 0 1 0 1.56 0a0.78 0.78 0 1 0 -1.56 0M151.57 199.03a0.78 0.78 0 1 0 1.56 0a0.78 0.78 0 1 0 -1.56 0M151.9 199.47a0.78 0.78 0 1 0 1.56 0a0.78 0.78 0 1 0 -1.56 0M161.95 195.89a0.78 0.78 0 1 0 1.56 0a0.78 0.78 0 1 0 -1.56 0M105.94 203.02a0.78 0.78 0 1 0 1.56 0a0.78 0.78 0 1 0 -1.56 0M146.74 202.38a0.78 0.78 0 1 0 1.56 0a0.78 0.78 0 1 0 -1.56 0M89.22 200.49a0.78 0.78 0 1 0 1.56 0a0.78 0.78 0 1 0 -1.56 0M132.91 199.58a0.78 0.78 0 1 0 1.56 0a0.78 0.78 0 1 0 -1.56 0M151.56 193.53a0.78 0.78 0 1 0 1.56 0a0.78 0.78 0 1 0 -1.56 0M152.26 201.42a0.78 0.78 0 1 0 1.56 0a0.78 0.78 0 1 0 -1.56 0M158.79 199.69a0.78 0.78 0 1 0 1.56 0a0.78 0.78 0 1 0 -1.56 0M98.39 194.83a0.78 0.78 0 1 0 1.56 0a0.78 0.78 0 1 0 -1.56 0M116.7 202.55a0.78 0.78 0 1 0 1.56 0a0.78 0.78 0 1 0 -1.56 0M80.53 199.89a0.78 0.78 0 1 0 1.56 0a0.78 0.78 0 1 0 -1.56 0M101.46 202.75a0.78 0.78 0 1 0 1.56 0a0.78 0.78 0 1 0 -1.56 0M103.22 200.99a0.78 0.78 0 1 0 1.56 0a0.78 0.78 0 1 0 -1.56 0M131.74 202.81a0.78 0.78 0 1 0 1.56 0a0.78 0.78 0 1 0 -1.56 0M140.61 195.47a0.78 0.78 0 1 0 1.56 0a0.78 0.78 0 1 0 -1.56 0M88.84 198.19a0.78 0.78 0 1 0 1.56 0a0.78 0.78 0 1 0 -1.56 0M93.86 201.13a0.78 0.78 0 1 0 1.56 0a0.78 0.78 0 1 0 -1.56 0M135.94 193.98a0.78 0.78 0 1 0 1.56 0a0.78 0.78 0 1 0 -1.56 0M109.18 203.57a0.78 0.78 0 1 0 1.56 0a0.78 0.78 0 1 0 -1.56 0M155.3 199.5a0.78 0.78 0 1 0 1.56 0a0.78 0.78 0 1 0 -1.56 0M124.21 202.38a0.78 0.78 0 1 0 1.56 0a0.78 0.78 0 1 0 -1.56 0M156.31 193.79a0.78 0.78 0 1 0 1.56 0a0.78 0.78 0 1 0 -1.56 0M135.36 201.07a0.78 0.78 0 1 0 1.56 0a0.78 0.78 0 1 0 -1.56 0M135.75 202.67a0.78 0.78 0 1 0 1.56 0a0.78 0.78 0 1 0 -1.56 0M144.56 199.25a0.78 0.78 0 1 0 1.56 0a0.78 0.78 0 1 0 -1.56 0M116.21 201.43a0.78 0.78 0 1 0 1.56 0a0.78 0.78 0 1 0 -1.56 0M160.05 197.71a0.78 0.78 0 1 0 1.56 0a0.78 0.78 0 1 0 -1.56 0M96.1 201.27a0.78 0.78 0 1 0 1.56 0a0.78 0.78 0 1 0 -1.56 0M156.98 200.99a0.78 0.78 0 1 0 1.56 0a0.78 0.78 0 1 0 -1.56 0M155.32 194.35a0.78 0.78 0 1 0 1.56 0a0.78 0.78 0 1 0 -1.56 0M154.78 197.31a0.78 0.78 0 1 0 1.56 0a0.78 0.78 0 1 0 -1.56 0M125.17 197.73a0.78 0.78 0 1 0 1.56 0a0.78 0.78 0 1 0 -1.56 0M148.46 201.11a0.78 0.78 0 1 0 1.56 0a0.78 0.78 0 1 0 -1.56 0M94.93 195.48a0.78 0.78 0 1 0 1.56 0a0.78 0.78 0 1 0 -1.56 0M110.38 202.82a0.78 0.78 0 1 0 1.56 0a0.78 0.78 0 1 0 -1.56 0M92.05 195.67a0.78 0.78 0 1 0 1.56 0a0.78 0.78 0 1 0 -1.56 0M134.56 203.46a0.78 0.78 0 1 0 1.56 0a0.78 0.78 0 1 0 -1.56 0M125.54 202.6a0.78 0.78 0 1 0 1.56 0a0.78 0.78 0 1 0 -1.56 0M101.17 199.11a0.78 0.78 0 1 0 1.56 0a0.78 0.78 0 1 0 -1.56 0M109.93 198.64a0.78 0.78 0 1 0 1.56 0a0.78 0.78 0 1 0 -1.56 0M105.71 199.21a0.78 0.78 0 1 0 1.56 0a0.78 0.78 0 1 0 -1.56 0M157.96 201.26a0.78 0.78 0 1 0 1.56 0a0.78 0.78 0 1 0 -1.56 0M120.19 200.44a0.78 0.78 0 1 0 1.56 0a0.78 0.78 0 1 0 -1.56 0M116.32 198.82a0.78 0.78 0 1 0 1.56 0a0.78 0.78 0 1 0 -1.56 0M147.13 200.24a0.78 0.78 0 1 0 1.56 0a0.78 0.78 0 1 0 -1.56 0M147.32 201.52a0.78 0.78 0 1 0 1.56 0a0.78 0.78 0 1 0 -1.56 0M134.76 193.23a0.78 0.78 0 1 0 1.56 0a0.78 0.78 0 1 0 -1.56 0M99.9 202.48a0.78 0.78 0 1 0 1.56 0a0.78 0.78 0 1 0 -1.56 0M151.86 199.41a0.78 0.78 0 1 0 1.56 0a0.78 0.78 0 1 0 -1.56 0M111.3 201.33a0.78 0.78 0 1 0 1.56 0a0.78 0.78 0 1 0 -1.56 0M111.13 197.21a0.78 0.78 0 1 0 1.56 0a0.78 0.78 0 1 0 -1.56 0M140.05 202.29a0.78 0.78 0 1 0 1.56 0a0.78 0.78 0 1 0 -1.56 0M128.34 202.55a0.78 0.78 0 1 0 1.56 0a0.78 0.78 0 1 0 -1.56 0M152.76 196.29a0.78 0.78 0 1 0 1.56 0a0.78 0.78 0 1 0 -1.56 0M121.86 203.25a0.78 0.78 0 1 0 1.56 0a0.78 0.78 0 1 0 -1.56 0M84.62 197.17a0.78 0.78 0 1 0 1.56 0a0.78 0.78 0 1 0 -1.56 0M104.75 202.78a0.78 0.78 0 1 0 1.56 0a0.78 0.78 0 1 0 -1.56 0M111.88 201.82a0.78 0.78 0 1 0 1.56 0a0.78 0.78 0 1 0 -1.56 0M157.76 201.1a0.78 0.78 0 1 0 1.56 0a0.78 0.78 0 1 0 -1.56 0M112.73 196.63a0.78 0.78 0 1 0 1.56 0a0.78 0.78 0 1 0 -1.56 0M141.87 195.66a0.78 0.78 0 1 0 1.56 0a0.78 0.78 0 1 0 -1.56 0M114.51 199.64a0.78 0.78 0 1 0 1.56 0a0.78 0.78 0 1 0 -1.56 0M128.95 202.63a0.78 0.78 0 1 0 1.56 0a0.78 0.78 0 1 0 -1.56 0M137.41 195.91a0.78 0.78 0 1 0 1.56 0a0.78 0.78 0 1 0 -1.56 0M125.3 203.99a0.78 0.78 0 1 0 1.56 0a0.78 0.78 0 1 0 -1.56 0M95.64 200.42a0.78 0.78 0 1 0 1.56 0a0.78 0.78 0 1 0 -1.56 0M85.94 198.78a0.78 0.78 0 1 0 1.56 0a0.78 0.78 0 1 0 -1.56 0M106.01 198.54a0.78 0.78 0 1 0 1.56 0a0.78 0.78 0 1 0 -1.56 0M142.27 198.03a0.78 0.78 0 1 0 1.56 0a0.78 0.78 0 1 0 -1.56 0M109.18 194.57a0.78 0.78 0 1 0 1.56 0a0.78 0.78 0 1 0 -1.56 0M114.7 199.29a0.78 0.78 0 1 0 1.56 0a0.78 0.78 0 1 0 -1.56 0M110.9 200.75a0.78 0.78 0 1 0 1.56 0a0.78 0.78 0 1 0 -1.56 0M149.62 196.9a0.78 0.78 0 1 0 1.56 0a0.78 0.78 0 1 0 -1.56 0M116.14 197.48a0.78 0.78 0 1 0 1.56 0a0.78 0.78 0 1 0 -1.56 0M100.18 200.62a0.78 0.78 0 1 0 1.56 0a0.78 0.78 0 1 0 -1.56 0M153.36 197.38a0.78 0.78 0 1 0 1.56 0a0.78 0.78 0 1 0 -1.56 0M141.65 202.47a0.78 0.78 0 1 0 1.56 0a0.78 0.78 0 1 0 -1.56 0M147.82 202.23a0.78 0.78 0 1 0 1.56 0a0.78 0.78 0 1 0 -1.56 0M87.61 197.35a0.78 0.78 0 1 0 1.56 0a0.78 0.78 0 1 0 -1.56 0M120.67 203.92a0.78 0.78 0 1 0 1.56 0a0.78 0.78 0 1 0 -1.56 0M109.3 194.16a0.78 0.78 0 1 0 1.56 0a0.78 0.78 0 1 0 -1.56 0M92.21 197.61a0.78 0.78 0 1 0 1.56 0a0.78 0.78 0 1 0 -1.56 0M131.55 203.13a0.78 0.78 0 1 0 1.56 0a0.78 0.78 0 1 0 -1.56 0M153.18 195.56a0.78 0.78 0 1 0 1.56 0a0.78 0.78 0 1 0 -1.56 0M98.54 202.47a0.78 0.78 0 1 0 1.56 0a0.78 0.78 0 1 0 -1.56 0M161.88 200.84a0.78 0.78 0 1 0 1.56 0a0.78 0.78 0 1 0 -1.56 0M145.73 195.58a0.78 0.78 0 1 0 1.56 0a0.78 0.78 0 1 0 -1.56 0M148.82 198.22a0.78 0.78 0 1 0 1.56 0a0.78 0.78 0 1 0 -1.56 0M122.58 204.01a0.78 0.78 0 1 0 1.56 0a0.78 0.78 0 1 0 -1.56 0M132.9 201.16a0.78 0.78 0 1 0 1.56 0a0.78 0.78 0 1 0 -1.56 0M93.08 199.75a0.78 0.78 0 1 0 1.56 0a0.78 0.78 0 1 0 -1.56 0M115.1 197.38a0.78 0.78 0 1 0 1.56 0a0.78 0.78 0 1 0 -1.56 0M106.83 196.71a0.78 0.78 0 1 0 1.56 0a0.78 0.78 0 1 0 -1.56 0M94.81 193.32a0.78 0.78 0 1 0 1.56 0a0.78 0.78 0 1 0 -1.56 0M119.16 204.02a0.78 0.78 0 1 0 1.56 0a0.78 0.78 0 1 0 -1.56 0M91.4 198.77a0.78 0.78 0 1 0 1.56 0a0.78 0.78 0 1 0 -1.56 0M138.54 198.54a0.78 0.78 0 1 0 1.56 0a0.78 0.78 0 1 0 -1.56 0M163 196.19a0.78 0.78 0 1 0 1.56 0a0.78 0.78 0 1 0 -1.56 0M91.86 199.63a0.78 0.78 0 1 0 1.56 0a0.78 0.78 0 1 0 -1.56 0M127.52 193.98a0.78 0.78 0 1 0 1.56 0a0.78 0.78 0 1 0 -1.56 0M90.84 200.54a0.78 0.78 0 1 0 1.56 0a0.78 0.78 0 1 0 -1.56 0M105.97 203.22a0.78 0.78 0 1 0 1.56 0a0.78 0.78 0 1 0 -1.56 0M155.72 193.08a0.78 0.78 0 1 0 1.56 0a0.78 0.78 0 1 0 -1.56 0M132.09 202.47a0.78 0.78 0 1 0 1.56 0a0.78 0.78 0 1 0 -1.56 0M117.99 203.12a0.78 0.78 0 1 0 1.56 0a0.78 0.78 0 1 0 -1.56 0M156.33 195.61a0.78 0.78 0 1 0 1.56 0a0.78 0.78 0 1 0 -1.56 0M123.89 195.92a0.78 0.78 0 1 0 1.56 0a0.78 0.78 0 1 0 -1.56 0M93.99 200.36a0.78 0.78 0 1 0 1.56 0a0.78 0.78 0 1 0 -1.56 0M150.28 198.72a0.78 0.78 0 1 0 1.56 0a0.78 0.78 0 1 0 -1.56 0M138.54 194.36a0.78 0.78 0 1 0 1.56 0a0.78 0.78 0 1 0 -1.56 0M107.44 194.54a0.78 0.78 0 1 0 1.56 0a0.78 0.78 0 1 0 -1.56 0M108.52 197.42a0.78 0.78 0 1 0 1.56 0a0.78 0.78 0 1 0 -1.56 0M127.35 200.99a0.78 0.78 0 1 0 1.56 0a0.78 0.78 0 1 0 -1.56 0M152.25 196.25a0.78 0.78 0 1 0 1.56 0a0.78 0.78 0 1 0 -1.56 0M108.64 203.64a0.78 0.78 0 1 0 1.56 0a0.78 0.78 0 1 0 -1.56 0M128.95 202.57a0.78 0.78 0 1 0 1.56 0a0.78 0.78 0 1 0 -1.56 0M149.96 198.2a0.78 0.78 0 1 0 1.56 0a0.78 0.78 0 1 0 -1.56 0M147.76 197.13a0.78 0.78 0 1 0 1.56 0a0.78 0.78 0 1 0 -1.56 0M116.29 203.99a0.78 0.78 0 1 0 1.56 0a0.78 0.78 0 1 0 -1.56 0M104.5 202.87a0.78 0.78 0 1 0 1.56 0a0.78 0.78 0 1 0 -1.56 0M99.27 193.47a0.78 0.78 0 1 0 1.56 0a0.78 0.78 0 1 0 -1.56 0M132.06 196.64a0.78 0.78 0 1 0 1.56 0a0.78 0.78 0 1 0 -1.56 0M114.86 202.43a0.78 0.78 0 1 0 1.56 0a0.78 0.78 0 1 0 -1.56 0M91.52 196.54a0.78 0.78 0 1 0 1.56 0a0.78 0.78 0 1 0 -1.56 0M84.96 196.8a0.78 0.78 0 1 0 1.56 0a0.78 0.78 0 1 0 -1.56 0M118.43 203.41a0.78 0.78 0 1 0 1.56 0a0.78 0.78 0 1 0 -1.56 0M126.47 198.33a0.78 0.78 0 1 0 1.56 0a0.78 0.78 0 1 0 -1.56 0M150.82 201.64a0.78 0.78 0 1 0 1.56 0a0.78 0.78 0 1 0 -1.56 0M146.39 201.62a0.78 0.78 0 1 0 1.56 0a0.78 0.78 0 1 0 -1.56 0M125.52 196.49a0.78 0.78 0 1 0 1.56 0a0.78 0.78 0 1 0 -1.56 0M104.32 199.66a0.78 0.78 0 1 0 1.56 0a0.78 0.78 0 1 0 -1.56 0M108.99 196.27a0.78 0.78 0 1 0 1.56 0a0.78 0.78 0 1 0 -1.56 0M103.74 196.58a0.78 0.78 0 1 0 1.56 0a0.78 0.78 0 1 0 -1.56 0M111.14 202.9a0.78 0.78 0 1 0 1.56 0a0.78 0.78 0 1 0 -1.56 0M104.35 198.25a0.78 0.78 0 1 0 1.56 0a0.78 0.78 0 1 0 -1.56 0M101.46 202.72a0.78 0.78 0 1 0 1.56 0a0.78 0.78 0 1 0 -1.56 0M99.83 202.27a0.78 0.78 0 1 0 1.56 0a0.78 0.78 0 1 0 -1.56 0M101.39 202.7a0.78 0.78 0 1 0 1.56 0a0.78 0.78 0 1 0 -1.56 0M104.52 200.25a0.78 0.78 0 1 0 1.56 0a0.78 0.78 0 1 0 -1.56 0M145.67 202.41a0.78 0.78 0 1 0 1.56 0a0.78 0.78 0 1 0 -1.56 0M89.35 194.72a0.78 0.78 0 1 0 1.56 0a0.78 0.78 0 1 0 -1.56 0M144.22 201.69a0.78 0.78 0 1 0 1.56 0a0.78 0.78 0 1 0 -1.56 0M108.31 194.26a0.78 0.78 0 1 0 1.56 0a0.78 0.78 0 1 0 -1.56 0M134.2 202.65a0.78 0.78 0 1 0 1.56 0a0.78 0.78 0 1 0 -1.56 0M136.3 202.99a0.78 0.78 0 1 0 1.56 0a0.78 0.78 0 1 0 -1.56 0M142.13 202.23a0.78 0.78 0 1 0 1.56 0a0.78 0.78 0 1 0 -1.56 0M92.96 202.07a0.78 0.78 0 1 0 1.56 0a0.78 0.78 0 1 0 -1.56 0M154.66 200.8a0.78 0.78 0 1 0 1.56 0a0.78 0.78 0 1 0 -1.56 0M148.1 197.63a0.78 0.78 0 1 0 1.56 0a0.78 0.78 0 1 0 -1.56 0M87 196.18a0.78 0.78 0 1 0 1.56 0a0.78 0.78 0 1 0 -1.56 0M136.62 194.56a0.78 0.78 0 1 0 1.56 0a0.78 0.78 0 1 0 -1.56 0M109.84 199.04a0.78 0.78 0 1 0 1.56 0a0.78 0.78 0 1 0 -1.56 0M122.79 203.14a0.78 0.78 0 1 0 1.56 0a0.78 0.78 0 1 0 -1.56 0M101.43 202.6a0.78 0.78 0 1 0 1.56 0a0.78 0.78 0 1 0 -1.56 0M89.16 193.82a0.78 0.78 0 1 0 1.56 0a0.78 0.78 0 1 0 -1.56 0M130.1 200.46a0.78 0.78 0 1 0 1.56 0a0.78 0.78 0 1 0 -1.56 0M148.89 201.44a0.78 0.78 0 1 0 1.56 0a0.78 0.78 0 1 0 -1.56 0M128.59 193.01a0.78 0.78 0 1 0 1.56 0a0.78 0.78 0 1 0 -1.56 0M129.77 193.66a0.78 0.78 0 1 0 1.56 0a0.78 0.78 0 1 0 -1.56 0M102.7 201.33a0.78 0.78 0 1 0 1.56 0a0.78 0.78 0 1 0 -1.56 0M119.93 201.87a0.78 0.78 0 1 0 1.56 0a0.78 0.78 0 1 0 -1.56 0M131.3 200.66a0.78 0.78 0 1 0 1.56 0a0.78 0.78 0 1 0 -1.56 0M114.05 193.69a0.78 0.78 0 1 0 1.56 0a0.78 0.78 0 1 0 -1.56 0M113.39 200.11a0.78 0.78 0 1 0 1.56 0a0.78 0.78 0 1 0 -1.56 0M112.19 199.28a0.78 0.78 0 1 0 1.56 0a0.78 0.78 0 1 0 -1.56 0M138.61 194.75a0.78 0.78 0 1 0 1.56 0a0.78 0.78 0 1 0 -1.56 0M160.45 200.03a0.78 0.78 0 1 0 1.56 0a0.78 0.78 0 1 0 -1.56 0M138.56 203.07a0.78 0.78 0 1 0 1.56 0a0.78 0.78 0 1 0 -1.56 0M123.86 204.05a0.78 0.78 0 1 0 1.56 0a0.78 0.78 0 1 0 -1.56 0M107.38 193.55a0.78 0.78 0 1 0 1.56 0a0.78 0.78 0 1 0 -1.56 0M139.15 199.46a0.78 0.78 0 1 0 1.56 0a0.78 0.78 0 1 0 -1.56 0M157.88 198.45a0.78 0.78 0 1 0 1.56 0a0.78 0.78 0 1 0 -1.56 0M109.17 198.23a0.78 0.78 0 1 0 1.56 0a0.78 0.78 0 1 0 -1.56 0M157.59 193.5a0.78 0.78 0 1 0 1.56 0a0.78 0.78 0 1 0 -1.56 0M127.61 197.85a0.78 0.78 0 1 0 1.56 0a0.78 0.78 0 1 0 -1.56 0M109.45 201.59a0.78 0.78 0 1 0 1.56 0a0.78 0.78 0 1 0 -1.56 0M149.03 199.45a0.78 0.78 0 1 0 1.56 0a0.78 0.78 0 1 0 -1.56 0M151.63 197.49a0.78 0.78 0 1 0 1.56 0a0.78 0.78 0 1 0 -1.56 0M101.77 193.67a0.78 0.78 0 1 0 1.56 0a0.78 0.78 0 1 0 -1.56 0M102.62 193.62a0.78 0.78 0 1 0 1.56 0a0.78 0.78 0 1 0 -1.56 0M130.07 197.18a0.78 0.78 0 1 0 1.56 0a0.78 0.78 0 1 0 -1.56 0M92.55 201.7a0.78 0.78 0 1 0 1.56 0a0.78 0.78 0 1 0 -1.56 0M110.31 202.5a0.78 0.78 0 1 0 1.56 0a0.78 0.78 0 1 0 -1.56 0M113.43 201.4a0.78 0.78 0 1 0 1.56 0a0.78 0.78 0 1 0 -1.56 0M115.74 199.43a0.78 0.78 0 1 0 1.56 0a0.78 0.78 0 1 0 -1.56 0M146.74 200.64a0.78 0.78 0 1 0 1.56 0a0.78 0.78 0 1 0 -1.56 0M139.98 202.42a0.78 0.78 0 1 0 1.56 0a0.78 0.78 0 1 0 -1.56 0M104.18 193.61a0.78 0.78 0 1 0 1.56 0a0.78 0.78 0 1 0 -1.56 0M159.26 197.21a0.78 0.78 0 1 0 1.56 0a0.78 0.78 0 1 0 -1.56 0M133.38 202.35a0.78 0.78 0 1 0 1.56 0a0.78 0.78 0 1 0 -1.56 0M147.91 195.14a0.78 0.78 0 1 0 1.56 0a0.78 0.78 0 1 0 -1.56 0M147.32 201.69a0.78 0.78 0 1 0 1.56 0a0.78 0.78 0 1 0 -1.56 0M97.64 196.87a0.78 0.78 0 1 0 1.56 0a0.78 0.78 0 1 0 -1.56 0M116.05 204.12a0.78 0.78 0 1 0 1.56 0a0.78 0.78 0 1 0 -1.56 0M108.32 197.48a0.78 0.78 0 1 0 1.56 0a0.78 0.78 0 1 0 -1.56 0M119.75 203.84a0.78 0.78 0 1 0 1.56 0a0.78 0.78 0 1 0 -1.56 0M98.14 201.12a0.78 0.78 0 1 0 1.56 0a0.78 0.78 0 1 0 -1.56 0M99.86 201.74a0.78 0.78 0 1 0 1.56 0a0.78 0.78 0 1 0 -1.56 0M115.5 203.5a0.78 0.78 0 1 0 1.56 0a0.78 0.78 0 1 0 -1.56 0M94.11 197.05a0.78 0.78 0 1 0 1.56 0a0.78 0.78 0 1 0 -1.56 0M87.47 199.88a0.78 0.78 0 1 0 1.56 0a0.78 0.78 0 1 0 -1.56 0M127.94 194.21a0.78 0.78 0 1 0 1.56 0a0.78 0.78 0 1 0 -1.56 0M121.3 203.6a0.78 0.78 0 1 0 1.56 0a0.78 0.78 0 1 0 -1.56 0M137.47 197.23a0.78 0.78 0 1 0 1.56 0a0.78 0.78 0 1 0 -1.56 0M87.25 201.16a0.78 0.78 0 1 0 1.56 0a0.78 0.78 0 1 0 -1.56 0M128.08 197.62a0.78 0.78 0 1 0 1.56 0a0.78 0.78 0 1 0 -1.56 0M92.55 201.66a0.78 0.78 0 1 0 1.56 0a0.78 0.78 0 1 0 -1.56 0M95.75 202.15a0.78 0.78 0 1 0 1.56 0a0.78 0.78 0 1 0 -1.56 0M130.48 202.5a0.78 0.78 0 1 0 1.56 0a0.78 0.78 0 1 0 -1.56 0M97.71 196.89a0.78 0.78 0 1 0 1.56 0a0.78 0.78 0 1 0 -1.56 0M90.14 200.52a0.78 0.78 0 1 0 1.56 0a0.78 0.78 0 1 0 -1.56 0M152.27 194.36a0.78 0.78 0 1 0 1.56 0a0.78 0.78 0 1 0 -1.56 0M106.5 198.07a0.78 0.78 0 1 0 1.56 0a0.78 0.78 0 1 0 -1.56 0M112.59 202.93a0.78 0.78 0 1 0 1.56 0a0.78 0.78 0 1 0 -1.56 0M158.85 193.53a0.78 0.78 0 1 0 1.56 0a0.78 0.78 0 1 0 -1.56 0M133.81 201.85a0.78 0.78 0 1 0 1.56 0a0.78 0.78 0 1 0 -1.56 0M121.51 199.1a0.78 0.78 0 1 0 1.56 0a0.78 0.78 0 1 0 -1.56 0M116.88 200.31a0.78 0.78 0 1 0 1.56 0a0.78 0.78 0 1 0 -1.56 0M81.93 198.39a0.78 0.78 0 1 0 1.56 0a0.78 0.78 0 1 0 -1.56 0M114.08 200.32a0.78 0.78 0 1 0 1.56 0a0.78 0.78 0 1 0 -1.56 0M136.38 197.27a0.78 0.78 0 1 0 1.56 0a0.78 0.78 0 1 0 -1.56 0M103.49 200.04a0.78 0.78 0 1 0 1.56 0a0.78 0.78 0 1 0 -1.56 0M92.35 200.57a0.78 0.78 0 1 0 1.56 0a0.78 0.78 0 1 0 -1.56 0M153.3 199.99a0.78 0.78 0 1 0 1.56 0a0.78 0.78 0 1 0 -1.56 0M82.09 197.09a0.78 0.78 0 1 0 1.56 0a0.78 0.78 0 1 0 -1.56 0M100.77 198.13a0.78 0.78 0 1 0 1.56 0a0.78 0.78 0 1 0 -1.56 0M125.06 200.77a0.78 0.78 0 1 0 1.56 0a0.78 0.78 0 1 0 -1.56 0M133.34 203.4a0.78 0.78 0 1 0 1.56 0a0.78 0.78 0 1 0 -1.56 0M156.12 201.33a0.78 0.78 0 1 0 1.56 0a0.78 0.78 0 1 0 -1.56 0M115.1 193.64a0.78 0.78 0 1 0 1.56 0a0.78 0.78 0 1 0 -1.56 0M107.41 196.65a0.78 0.78 0 1 0 1.56 0a0.78 0.78 0 1 0 -1.56 0M114.6 203.9a0.78 0.78 0 1 0 1.56 0a0.78 0.78 0 1 0 -1.56 0M97.76 195.44a0.78 0.78 0 1 0 1.56 0a0.78 0.78 0 1 0 -1.56 0M111.94 196.8a0.78 0.78 0 1 0 1.56 0a0.78 0.78 0 1 0 -1.56 0M105.43 203.05a0.78 0.78 0 1 0 1.56 0a0.78 0.78 0 1 0 -1.56 0M89.49 194.29a0.78 0.78 0 1 0 1.56 0a0.78 0.78 0 1 0 -1.56 0M100.4 197.11a0.78 0.78 0 1 0 1.56 0a0.78 0.78 0 1 0 -1.56 0M125.09 203.22a0.78 0.78 0 1 0 1.56 0a0.78 0.78 0 1 0 -1.56 0M124 196.11a0.78 0.78 0 1 0 1.56 0a0.78 0.78 0 1 0 -1.56 0M109 202.5a0.78 0.78 0 1 0 1.56 0a0.78 0.78 0 1 0 -1.56 0M134.37 202.84a0.78 0.78 0 1 0 1.56 0a0.78 0.78 0 1 0 -1.56 0M135.35 202.69a0.78 0.78 0 1 0 1.56 0a0.78 0.78 0 1 0 -1.56 0M86.28 197.83a0.78 0.78 0 1 0 1.56 0a0.78 0.78 0 1 0 -1.56 0M88.59 194.33a0.78 0.78 0 1 0 1.56 0a0.78 0.78 0 1 0 -1.56 0M134.65 195.42a0.78 0.78 0 1 0 1.56 0a0.78 0.78 0 1 0 -1.56 0M132.76 191.7a0.78 0.78 0 1 0 1.56 0a0.78 0.78 0 1 0 -1.56 0M102.02 191.44a0.78 0.78 0 1 0 1.56 0a0.78 0.78 0 1 0 -1.56 0M108.01 184.25a0.78 0.78 0 1 0 1.56 0a0.78 0.78 0 1 0 -1.56 0M88.56 184.46a0.78 0.78 0 1 0 1.56 0a0.78 0.78 0 1 0 -1.56 0M131.63 184.11a0.78 0.78 0 1 0 1.56 0a0.78 0.78 0 1 0 -1.56 0M138.77 185.17a0.78 0.78 0 1 0 1.56 0a0.78 0.78 0 1 0 -1.56 0M93.16 191.76a0.78 0.78 0 1 0 1.56 0a0.78 0.78 0 1 0 -1.56 0M136.91 185.12a0.78 0.78 0 1 0 1.56 0a0.78 0.78 0 1 0 -1.56 0M157.82 187.42a0.78 0.78 0 1 0 1.56 0a0.78 0.78 0 1 0 -1.56 0M102.67 185.95a0.78 0.78 0 1 0 1.56 0a0.78 0.78 0 1 0 -1.56 0M106.95 195.37a0.78 0.78 0 1 0 1.56 0a0.78 0.78 0 1 0 -1.56 0M115.46 196.02a0.78 0.78 0 1 0 1.56 0a0.78 0.78 0 1 0 -1.56 0M129.22 190.44a0.78 0.78 0 1 0 1.56 0a0.78 0.78 0 1 0 -1.56 0M80.63 191.67a0.78 0.78 0 1 0 1.56 0a0.78 0.78 0 1 0 -1.56 0M157.27 184.61a0.78 0.78 0 1 0 1.56 0a0.78 0.78 0 1 0 -1.56 0M124.37 188.75a0.78 0.78 0 1 0 1.56 0a0.78 0.78 0 1 0 -1.56 0M145.99 189.84a0.78 0.78 0 1 0 1.56 0a0.78 0.78 0 1 0 -1.56 0M76.91 192.78a0.78 0.78 0 1 0 1.56 0a0.78 0.78 0 1 0 -1.56 0M101.53 183.56a0.78 0.78 0 1 0 1.56 0a0.78 0.78 0 1 0 -1.56 0M90.69 190.43a0.78 0.78 0 1 0 1.56 0a0.78 0.78 0 1 0 -1.56 0M141.32 195.2a0.78 0.78 0 1 0 1.56 0a0.78 0.78 0 1 0 -1.56 0M161.81 191.05a0.78 0.78 0 1 0 1.56 0a0.78 0.78 0 1 0 -1.56 0M83.37 192.93a0.78 0.78 0 1 0 1.56 0a0.78 0.78 0 1 0 -1.56 0M85.03 193.22a0.78 0.78 0 1 0 1.56 0a0.78 0.78 0 1 0 -1.56 0M103.16 186.65a0.78 0.78 0 1 0 1.56 0a0.78 0.78 0 1 0 -1.56 0M92.79 189.59a0.78 0.78 0 1 0 1.56 0a0.78 0.78 0 1 0 -1.56 0M126.33 183.6a0.78 0.78 0 1 0 1.56 0a0.78 0.78 0 1 0 -1.56 0M148.22 185.69a0.78 0.78 0 1 0 1.56 0a0.78 0.78 0 1 0 -1.56 0M129.69 196.49a0.78 0.78 0 1 0 1.56 0a0.78 0.78 0 1 0 -1.56 0M165.91 183.55a0.78 0.78 0 1 0 1.56 0a0.78 0.78 0 1 0 -1.56 0M88.78 185.56a0.78 0.78 0 1 0 1.56 0a0.78 0.78 0 1 0 -1.56 0M90.16 192.68a0.78 0.78 0 1 0 1.56 0a0.78 0.78 0 1 0 -1.56 0M98.82 189.55a0.78 0.78 0 1 0 1.56 0a0.78 0.78 0 1 0 -1.56 0M114.42 196.86a0.78 0.78 0 1 0 1.56 0a0.78 0.78 0 1 0 -1.56 0M84.7 192.76a0.78 0.78 0 1 0 1.56 0a0.78 0.78 0 1 0 -1.56 0M94.23 193.93a0.78 0.78 0 1 0 1.56 0a0.78 0.78 0 1 0 -1.56 0M156.59 186.68a0.78 0.78 0 1 0 1.56 0a0.78 0.78 0 1 0 -1.56 0M133.1 185.22a0.78 0.78 0 1 0 1.56 0a0.78 0.78 0 1 0 -1.56 0M114.71 195.98a0.78 0.78 0 1 0 1.56 0a0.78 0.78 0 1 0 -1.56 0M154.33 194.05a0.78 0.78 0 1 0 1.56 0a0.78 0.78 0 1 0 -1.56 0M88.42 183.03a0.78 0.78 0 1 0 1.56 0a0.78 0.78 0 1 0 -1.56 0M82.33 193.14a0.78 0.78 0 1 0 1.56 0a0.78 0.78 0 1 0 -1.56 0M99.3 188.14a0.78 0.78 0 1 0 1.56 0a0.78 0.78 0 1 0 -1.56 0M111.11 193.84a0.78 0.78 0 1 0 1.56 0a0.78 0.78 0 1 0 -1.56 0M109.63 192.46a0.78 0.78 0 1 0 1.56 0a0.78 0.78 0 1 0 -1.56 0M128.44 190.2a0.78 0.78 0 1 0 1.56 0a0.78 0.78 0 1 0 -1.56 0M143.52 193.71a0.78 0.78 0 1 0 1.56 0a0.78 0.78 0 1 0 -1.56 0M126.4 194.54a0.78 0.78 0 1 0 1.56 0a0.78 0.78 0 1 0 -1.56 0M85.44 190.65a0.78 0.78 0 1 0 1.56 0a0.78 0.78 0 1 0 -1.56 0M98.58 191.71a0.78 0.78 0 1 0 1.56 0a0.78 0.78 0 1 0 -1.56 0M139.36 194.45a0.78 0.78 0 1 0 1.56 0a0.78 0.78 0 1 0 -1.56 0M148.82 196.05a0.78 0.78 0 1 0 1.56 0a0.78 0.78 0 1 0 -1.56 0M156.99 187.72a0.78 0.78 0 1 0 1.56 0a0.78 0.78 0 1 0 -1.56 0M139.87 190.66a0.78 0.78 0 1 0 1.56 0a0.78 0.78 0 1 0 -1.56 0M92.44 187.44a0.78 0.78 0 1 0 1.56 0a0.78 0.78 0 1 0 -1.56 0M78.29 188.1a0.78 0.78 0 1 0 1.56 0a0.78 0.78 0 1 0 -1.56 0M136.64 183.75a0.78 0.78 0 1 0 1.56 0a0.78 0.78 0 1 0 -1.56 0M139.91 194.03a0.78 0.78 0 1 0 1.56 0a0.78 0.78 0 1 0 -1.56 0M76.1 194.97a0.78 0.78 0 1 0 1.56 0a0.78 0.78 0 1 0 -1.56 0M95.99 189.73a0.78 0.78 0 1 0 1.56 0a0.78 0.78 0 1 0 -1.56 0M136.25 191.35a0.78 0.78 0 1 0 1.56 0a0.78 0.78 0 1 0 -1.56 0M100.37 191.61a0.78 0.78 0 1 0 1.56 0a0.78 0.78 0 1 0 -1.56 0M147.06 192.57a0.78 0.78 0 1 0 1.56 0a0.78 0.78 0 1 0 -1.56 0M156.56 183.68a0.78 0.78 0 1 0 1.56 0a0.78 0.78 0 1 0 -1.56 0M141.56 193.84a0.78 0.78 0 1 0 1.56 0a0.78 0.78 0 1 0 -1.56 0M77.27 187.98a0.78 0.78 0 1 0 1.56 0a0.78 0.78 0 1 0 -1.56 0M124.71 194.67a0.78 0.78 0 1 0 1.56 0a0.78 0.78 0 1 0 -1.56 0M89.82 187.27a0.78 0.78 0 1 0 1.56 0a0.78 0.78 0 1 0 -1.56 0M137.72 183.28a0.78 0.78 0 1 0 1.56 0a0.78 0.78 0 1 0 -1.56 0M100.21 193.09a0.78 0.78 0 1 0 1.56 0a0.78 0.78 0 1 0 -1.56 0M72.43 186.55a0.78 0.78 0 1 0 1.56 0a0.78 0.78 0 1 0 -1.56 0M110.26 194.74a0.78 0.78 0 1 0 1.56 0a0.78 0.78 0 1 0 -1.56 0M154.49 195.44a0.78 0.78 0 1 0 1.56 0a0.78 0.78 0 1 0 -1.56 0M81.17 189.91a0.78 0.78 0 1 0 1.56 0a0.78 0.78 0 1 0 -1.56 0M150.31 191.66a0.78 0.78 0 1 0 1.56 0a0.78 0.78 0 1 0 -1.56 0M73.92 184.04a0.78 0.78 0 1 0 1.56 0a0.78 0.78 0 1 0 -1.56 0M126.29 194.46a0.78 0.78 0 1 0 1.56 0a0.78 0.78 0 1 0 -1.56 0M85.94 195.79a0.78 0.78 0 1 0 1.56 0a0.78 0.78 0 1 0 -1.56 0M160 195.54a0.78 0.78 0 1 0 1.56 0a0.78 0.78 0 1 0 -1.56 0M140.52 187.45a0.78 0.78 0 1 0 1.56 0a0.78 0.78 0 1 0 -1.56 0M156.99 183.51a0.78 0.78 0 1 0 1.56 0a0.78 0.78 0 1 0 -1.56 0M100.89 192.9a0.78 0.78 0 1 0 1.56 0a0.78 0.78 0 1 0 -1.56 0M160.33 185.25a0.78 0.78 0 1 0 1.56 0a0.78 0.78 0 1 0 -1.56 0M154.87 191.77a0.78 0.78 0 1 0 1.56 0a0.78 0.78 0 1 0 -1.56 0M132.56 188.34a0.78 0.78 0 1 0 1.56 0a0.78 0.78 0 1 0 -1.56 0M148.86 184.22a0.78 0.78 0 1 0 1.56 0a0.78 0.78 0 1 0 -1.56 0M141.21 183.9a0.78 0.78 0 1 0 1.56 0a0.78 0.78 0 1 0 -1.56 0M84.24 186.44a0.78 0.78 0 1 0 1.56 0a0.78 0.78 0 1 0 -1.56 0M123.93 190.06a0.78 0.78 0 1 0 1.56 0a0.78 0.78 0 1 0 -1.56 0M130.06 187.77a0.78 0.78 0 1 0 1.56 0a0.78 0.78 0 1 0 -1.56 0M101.18 184.08a0.78 0.78 0 1 0 1.56 0a0.78 0.78 0 1 0 -1.56 0M161.18 189.82a0.78 0.78 0 1 0 1.56 0a0.78 0.78 0 1 0 -1.56 0M139.85 183.67a0.78 0.78 0 1 0 1.56 0a0.78 0.78 0 1 0 -1.56 0M86.47 195.19a0.78 0.78 0 1 0 1.56 0a0.78 0.78 0 1 0 -1.56 0M147.17 186.43a0.78 0.78 0 1 0 1.56 0a0.78 0.78 0 1 0 -1.56 0M88.51 191.1a0.78 0.78 0 1 0 1.56 0a0.78 0.78 0 1 0 -1.56 0M84.61 191.39a0.78 0.78 0 1 0 1.56 0a0.78 0.78 0 1 0 -1.56 0M128.53 194.95a0.78 0.78 0 1 0 1.56 0a0.78 0.78 0 1 0 -1.56 0M125.11 194.33a0.78 0.78 0 1 0 1.56 0a0.78 0.78 0 1 0 -1.56 0M136.44 194.38a0.78 0.78 0 1 0 1.56 0a0.78 0.78 0 1 0 -1.56 0M143.65 185.86a0.78 0.78 0 1 0 1.56 0a0.78 0.78 0 1 0 -1.56 0M150.93 183.38a0.78 0.78 0 1 0 1.56 0a0.78 0.78 0 1 0 -1.56 0M151.87 189.07a0.78 0.78 0 1 0 1.56 0a0.78 0.78 0 1 0 -1.56 0M142.06 195.09a0.78 0.78 0 1 0 1.56 0a0.78 0.78 0 1 0 -1.56 0M161.03 186.2a0.78 0.78 0 1 0 1.56 0a0.78 0.78 0 1 0 -1.56 0M96.77 185.37a0.78 0.78 0 1 0 1.56 0a0.78 0.78 0 1 0 -1.56 0M147.86 190.84a0.78 0.78 0 1 0 1.56 0a0.78 0.78 0 1 0 -1.56 0M112.29 190.36a0.78 0.78 0 1 0 1.56 0a0.78 0.78 0 1 0 -1.56 0M132.86 191.68a0.78 0.78 0 1 0 1.56 0a0.78 0.78 0 1 0 -1.56 0M158.74 193.62a0.78 0.78 0 1 0 1.56 0a0.78 0.78 0 1 0 -1.56 0M138.09 183.55a0.78 0.78 0 1 0 1.56 0a0.78 0.78 0 1 0 -1.56 0M126.17 188.8a0.78 0.78 0 1 0 1.56 0a0.78 0.78 0 1 0 -1.56 0M139 189.12a0.78 0.78 0 1 0 1.56 0a0.78 0.78 0 1 0 -1.56 0M105.29 188.07a0.78 0.78 0 1 0 1.56 0a0.78 0.78 0 1 0 -1.56 0M164.02 190.93a0.78 0.78 0 1 0 1.56 0a0.78 0.78 0 1 0 -1.56 0M134.55 183.42a0.78 0.78 0 1 0 1.56 0a0.78 0.78 0 1 0 -1.56 0M92.49 193.47a0.78 0.78 0 1 0 1.56 0a0.78 0.78 0 1 0 -1.56 0M154.67 183.94a0.78 0.78 0 1 0 1.56 0a0.78 0.78 0 1 0 -1.56 0M154.36 186.69a0.78 0.78 0 1 0 1.56 0a0.78 0.78 0 1 0 -1.56 0M135.22 188.89a0.78 0.78 0 1 0 1.56 0a0.78 0.78 0 1 0 -1.56 0M99.03 184.31a0.78 0.78 0 1 0 1.56 0a0.78 0.78 0 1 0 -1.56 0M110.29 185.32a0.78 0.78 0 1 0 1.56 0a0.78 0.78 0 1 0 -1.56 0M145.84 191.97a0.78 0.78 0 1 0 1.56 0a0.78 0.78 0 1 0 -1.56 0M140.05 187.08a0.78 0.78 0 1 0 1.56 0a0.78 0.78 0 1 0 -1.56 0M79.29 194.11a0.78 0.78 0 1 0 1.56 0a0.78 0.78 0 1 0 -1.56 0M132.99 194.69a0.78 0.78 0 1 0 1.56 0a0.78 0.78 0 1 0 -1.56 0M87.32 183.6a0.78 0.78 0 1 0 1.56 0a0.78 0.78 0 1 0 -1.56 0M127.26 186.8a0.78 0.78 0 1 0 1.56 0a0.78 0.78 0 1 0 -1.56 0M137.63 184.36a0.78 0.78 0 1 0 1.56 0a0.78 0.78 0 1 0 -1.56 0M112.08 194.7a0.78 0.78 0 1 0 1.56 0a0.78 0.78 0 1 0 -1.56 0M90.81 185.61a0.78 0.78 0 1 0 1.56 0a0.78 0.78 0 1 0 -1.56 0M94.89 188.65a0.78 0.78 0 1 0 1.56 0a0.78 0.78 0 1 0 -1.56 0M140.45 189.15a0.78 0.78 0 1 0 1.56 0a0.78 0.78 0 1 0 -1.56 0M82.79 185.23a0.78 0.78 0 1 0 1.56 0a0.78 0.78 0 1 0 -1.56 0M102.85 186.2a0.78 0.78 0 1 0 1.56 0a0.78 0.78 0 1 0 -1.56 0M86.93 185.13a0.78 0.78 0 1 0 1.56 0a0.78 0.78 0 1 0 -1.56 0M94.87 184.01a0.78 0.78 0 1 0 1.56 0a0.78 0.78 0 1 0 -1.56 0M128.3 195.88a0.78 0.78 0 1 0 1.56 0a0.78 0.78 0 1 0 -1.56 0M103.03 195.41a0.78 0.78 0 1 0 1.56 0a0.78 0.78 0 1 0 -1.56 0M141.02 192.3a0.78 0.78 0 1 0 1.56 0a0.78 0.78 0 1 0 -1.56 0M104.29 192.23a0.78 0.78 0 1 0 1.56 0a0.78 0.78 0 1 0 -1.56 0M155.83 193.69a0.78 0.78 0 1 0 1.56 0a0.78 0.78 0 1 0 -1.56 0M127.03 188.2a0.78 0.78 0 1 0 1.56 0a0.78 0.78 0 1 0 -1.56 0M94.69 191.83a0.78 0.78 0 1 0 1.56 0a0.78 0.78 0 1 0 -1.56 0M83.48 189.22a0.78 0.78 0 1 0 1.56 0a0.78 0.78 0 1 0 -1.56 0M86.95 190.31a0.78 0.78 0 1 0 1.56 0a0.78 0.78 0 1 0 -1.56 0M108.22 191.3a0.78 0.78 0 1 0 1.56 0a0.78 0.78 0 1 0 -1.56 0M136.37 192.99a0.78 0.78 0 1 0 1.56 0a0.78 0.78 0 1 0 -1.56 0M130.48 191.26a0.78 0.78 0 1 0 1.56 0a0.78 0.78 0 1 0 -1.56 0M141.39 194.34a0.78 0.78 0 1 0 1.56 0a0.78 0.78 0 1 0 -1.56 0M92.97 183.12a0.78 0.78 0 1 0 1.56 0a0.78 0.78 0 1 0 -1.56 0M124.05 189.94a0.78 0.78 0 1 0 1.56 0a0.78 0.78 0 1 0 -1.56 0M128.99 187.57a0.78 0.78 0 1 0 1.56 0a0.78 0.78 0 1 0 -1.56 0M161.5 193.76a0.78 0.78 0 1 0 1.56 0a0.78 0.78 0 1 0 -1.56 0M125.48 187.37a0.78 0.78 0 1 0 1.56 0a0.78 0.78 0 1 0 -1.56 0M149.11 183.31a0.78 0.78 0 1 0 1.56 0a0.78 0.78 0 1 0 -1.56 0M84.77 194.35a0.78 0.78 0 1 0 1.56 0a0.78 0.78 0 1 0 -1.56 0M137.05 187.14a0.78 0.78 0 1 0 1.56 0a0.78 0.78 0 1 0 -1.56 0M84.92 183.28a0.78 0.78 0 1 0 1.56 0a0.78 0.78 0 1 0 -1.56 0M164.13 193.47a0.78 0.78 0 1 0 1.56 0a0.78 0.78 0 1 0 -1.56 0M156.38 190.92a0.78 0.78 0 1 0 1.56 0a0.78 0.78 0 1 0 -1.56 0M77.19 191.43a0.78 0.78 0 1 0 1.56 0a0.78 0.78 0 1 0 -1.56 0M160.01 188.19a0.78 0.78 0 1 0 1.56 0a0.78 0.78 0 1 0 -1.56 0M152.57 183.68a0.78 0.78 0 1 0 1.56 0a0.78 0.78 0 1 0 -1.56 0M129.12 189.65a0.78 0.78 0 1 0 1.56 0a0.78 0.78 0 1 0 -1.56 0M136.5 191.52a0.78 0.78 0 1 0 1.56 0a0.78 0.78 0 1 0 -1.56 0M149.63 193.18a0.78 0.78 0 1 0 1.56 0a0.78 0.78 0 1 0 -1.56 0M94.88 189.59a0.78 0.78 0 1 0 1.56 0a0.78 0.78 0 1 0 -1.56 0M87.21 193.52a0.78 0.78 0 1 0 1.56 0a0.78 0.78 0 1 0 -1.56 0M133.27 186.15a0.78 0.78 0 1 0 1.56 0a0.78 0.78 0 1 0 -1.56 0M159.75 192.48a0.78 0.78 0 1 0 1.56 0a0.78 0.78 0 1 0 -1.56 0M145.59 191.29a0.78 0.78 0 1 0 1.56 0a0.78 0.78 0 1 0 -1.56 0M99.68 186.93a0.78 0.78 0 1 0 1.56 0a0.78 0.78 0 1 0 -1.56 0M144.11 186.58a0.78 0.78 0 1 0 1.56 0a0.78 0.78 0 1 0 -1.56 0M97.3 191.6a0.78 0.78 0 1 0 1.56 0a0.78 0.78 0 1 0 -1.56 0M101.71 186.33a0.78 0.78 0 1 0 1.56 0a0.78 0.78 0 1 0 -1.56 0M129.69 193.58a0.78 0.78 0 1 0 1.56 0a0.78 0.78 0 1 0 -1.56 0M153.12 187.19a0.78 0.78 0 1 0 1.56 0a0.78 0.78 0 1 0 -1.56 0M155.16 192.34a0.78 0.78 0 1 0 1.56 0a0.78 0.78 0 1 0 -1.56 0M101.65 196.13a0.78 0.78 0 1 0 1.56 0a0.78 0.78 0 1 0 -1.56 0M146.32 187.37a0.78 0.78 0 1 0 1.56 0a0.78 0.78 0 1 0 -1.56 0M144.37 191.4a0.78 0.78 0 1 0 1.56 0a0.78 0.78 0 1 0 -1.56 0M95.63 186.84a0.78 0.78 0 1 0 1.56 0a0.78 0.78 0 1 0 -1.56 0M163.3 189.97a0.78 0.78 0 1 0 1.56 0a0.78 0.78 0 1 0 -1.56 0M103.87 183.35a0.78 0.78 0 1 0 1.56 0a0.78 0.78 0 1 0 -1.56 0M111.31 192.98a0.78 0.78 0 1 0 1.56 0a0.78 0.78 0 1 0 -1.56 0M82.04 194.13a0.78 0.78 0 1 0 1.56 0a0.78 0.78 0 1 0 -1.56 0M141.85 191.08a0.78 0.78 0 1 0 1.56 0a0.78 0.78 0 1 0 -1.56 0M132.2 196.46a0.78 0.78 0 1 0 1.56 0a0.78 0.78 0 1 0 -1.56 0M100.77 196.38a0.78 0.78 0 1 0 1.56 0a0.78 0.78 0 1 0 -1.56 0M82.58 187.06a0.78 0.78 0 1 0 1.56 0a0.78 0.78 0 1 0 -1.56 0M128.69 196.55a0.78 0.78 0 1 0 1.56 0a0.78 0.78 0 1 0 -1.56 0M150.84 192.21a0.78 0.78 0 1 0 1.56 0a0.78 0.78 0 1 0 -1.56 0M78.11 192.52a0.78 0.78 0 1 0 1.56 0a0.78 0.78 0 1 0 -1.56 0M148.93 191.9a0.78 0.78 0 1 0 1.56 0a0.78 0.78 0 1 0 -1.56 0M103.33 187.85a0.78 0.78 0 1 0 1.56 0a0.78 0.78 0 1 0 -1.56 0M145.55 194.65a0.78 0.78 0 1 0 1.56 0a0.78 0.78 0 1 0 -1.56 0M104 190.97a0.78 0.78 0 1 0 1.56 0a0.78 0.78 0 1 0 -1.56 0M131.42 184.97a0.78 0.78 0 1 0 1.56 0a0.78 0.78 0 1 0 -1.56 0M90.87 191.16a0.78 0.78 0 1 0 1.56 0a0.78 0.78 0 1 0 -1.56 0M80.91 192.19a0.78 0.78 0 1 0 1.56 0a0.78 0.78 0 1 0 -1.56 0M143.93 183.17a0.78 0.78 0 1 0 1.56 0a0.78 0.78 0 1 0 -1.56 0M100.72 193.45a0.78 0.78 0 1 0 1.56 0a0.78 0.78 0 1 0 -1.56 0M159.58 188.7a0.78 0.78 0 1 0 1.56 0a0.78 0.78 0 1 0 -1.56 0M82.99 183.09a0.78 0.78 0 1 0 1.56 0a0.78 0.78 0 1 0 -1.56 0M96.84 193.53a0.78 0.78 0 1 0 1.56 0a0.78 0.78 0 1 0 -1.56 0M114.37 195.67a0.78 0.78 0 1 0 1.56 0a0.78 0.78 0 1 0 -1.56 0M98.23 189.61a0.78 0.78 0 1 0 1.56 0a0.78 0.78 0 1 0 -1.56 0M85.41 183.23a0.78 0.78 0 1 0 1.56 0a0.78 0.78 0 1 0 -1.56 0M94.52 189.72a0.78 0.78 0 1 0 1.56 0a0.78 0.78 0 1 0 -1.56 0M137.57 192.02a0.78 0.78 0 1 0 1.56 0a0.78 0.78 0 1 0 -1.56 0M148.34 192.42a0.78 0.78 0 1 0 1.56 0a0.78 0.78 0 1 0 -1.56 0M87.57 189.05a0.78 0.78 0 1 0 1.56 0a0.78 0.78 0 1 0 -1.56 0M103.19 185.11a0.78 0.78 0 1 0 1.56 0a0.78 0.78 0 1 0 -1.56 0M98.95 183.58a0.78 0.78 0 1 0 1.56 0a0.78 0.78 0 1 0 -1.56 0M99.68 194.31a0.78 0.78 0 1 0 1.56 0a0.78 0.78 0 1 0 -1.56 0M153.66 190.15a0.78 0.78 0 1 0 1.56 0a0.78 0.78 0 1 0 -1.56 0M107.74 185.89a0.78 0.78 0 1 0 1.56 0a0.78 0.78 0 1 0 -1.56 0M154.57 187.17a0.78 0.78 0 1 0 1.56 0a0.78 0.78 0 1 0 -1.56 0M143.57 193.71a0.78 0.78 0 1 0 1.56 0a0.78 0.78 0 1 0 -1.56 0M88.11 186.97a0.78 0.78 0 1 0 1.56 0a0.78 0.78 0 1 0 -1.56 0M88.14 194.2a0.78 0.78 0 1 0 1.56 0a0.78 0.78 0 1 0 -1.56 0M127.81 189.8a0.78 0.78 0 1 0 1.56 0a0.78 0.78 0 1 0 -1.56 0M92.61 194.42a0.78 0.78 0 1 0 1.56 0a0.78 0.78 0 1 0 -1.56 0M151.13 194.28a0.78 0.78 0 1 0 1.56 0a0.78 0.78 0 1 0 -1.56 0M86.52 188.85a0.78 0.78 0 1 0 1.56 0a0.78 0.78 0 1 0 -1.56 0M159.69 192.82a0.78 0.78 0 1 0 1.56 0a0.78 0.78 0 1 0 -1.56 0M79.3 186.08a0.78 0.78 0 1 0 1.56 0a0.78 0.78 0 1 0 -1.56 0M97.47 183.4a0.78 0.78 0 1 0 1.56 0a0.78 0.78 0 1 0 -1.56 0M153.03 194.57a0.78 0.78 0 1 0 1.56 0a0.78 0.78 0 1 0 -1.56 0M161.34 171.08a0.78 0.78 0 1 0 1.56 0a0.78 0.78 0 1 0 -1.56 0M73.62 187.68a0.78 0.78 0 1 0 1.56 0a0.78 0.78 0 1 0 -1.56 0M144.52 171.4a0.78 0.78 0 1 0 1.56 0a0.78 0.78 0 1 0 -1.56 0M149.93 170.75a0.78 0.78 0 1 0 1.56 0a0.78 0.78 0 1 0 -1.56 0M100.44 186.68a0.78 0.78 0 1 0 1.56 0a0.78 0.78 0 1 0 -1.56 0M84.74 185.58a0.78 0.78 0 1 0 1.56 0a0.78 0.78 0 1 0 -1.56 0M102.85 182.43a0.78 0.78 0 1 0 1.56 0a0.78 0.78 0 1 0 -1.56 0M171.69 168.2a0.78 0.78 0 1 0 1.56 0a0.78 0.78 0 1 0 -1.56 0M166.16 183.45a0.78 0.78 0 1 0 1.56 0a0.78 0.78 0 1 0 -1.56 0M145.92 172.28a0.78 0.78 0 1 0 1.56 0a0.78 0.78 0 1 0 -1.56 0M108.08 168.87a0.78 0.78 0 1 0 1.56 0a0.78 0.78 0 1 0 -1.56 0M78.15 183.04a0.78 0.78 0 1 0 1.56 0a0.78 0.78 0 1 0 -1.56 0M141.95 183.52a0.78 0.78 0 1 0 1.56 0a0.78 0.78 0 1 0 -1.56 0M148.09 187.47a0.78 0.78 0 1 0 1.56 0a0.78 0.78 0 1 0 -1.56 0M162.34 180.86a0.78 0.78 0 1 0 1.56 0a0.78 0.78 0 1 0 -1.56 0M99.85 173.36a0.78 0.78 0 1 0 1.56 0a0.78 0.78 0 1 0 -1.56 0M142.53 177.51a0.78 0.78 0 1 0 1.56 0a0.78 0.78 0 1 0 -1.56 0M139.45 171.75a0.78 0.78 0 1 0 1.56 0a0.78 0.78 0 1 0 -1.56 0M103.75 175.29a0.78 0.78 0 1 0 1.56 0a0.78 0.78 0 1 0 -1.56 0M98.24 176.43a0.78 0.78 0 1 0 1.56 0a0.78 0.78 0 1 0 -1.56 0M94.94 187.96a0.78 0.78 0 1 0 1.56 0a0.78 0.78 0 1 0 -1.56 0M133.65 171.39a0.78 0.78 0 1 0 1.56 0a0.78 0.78 0 1 0 -1.56 0M153.95 175.48a0.78 0.78 0 1 0 1.56 0a0.78 0.78 0 1 0 -1.56 0M76.38 170.74a0.78 0.78 0 1 0 1.56 0a0.78 0.78 0 1 0 -1.56 0M158.42 171.7a0.78 0.78 0 1 0 1.56 0a0.78 0.78 0 1 0 -1.56 0M82.06 168.94a0.78 0.78 0 1 0 1.56 0a0.78 0.78 0 1 0 -1.56 0M113.32 179.76a0.78 0.78 0 1 0 1.56 0a0.78 0.78 0 1 0 -1.56 0M127.53 183.58a0.78 0.78 0 1 0 1.56 0a0.78 0.78 0 1 0 -1.56 0M141.48 185.02a0.78 0.78 0 1 0 1.56 0a0.78 0.78 0 1 0 -1.56 0M87.29 184.2a0.78 0.78 0 1 0 1.56 0a0.78 0.78 0 1 0 -1.56 0M89.46 179.21a0.78 0.78 0 1 0 1.56 0a0.78 0.78 0 1 0 -1.56 0M130.46 187.23a0.78 0.78 0 1 0 1.56 0a0.78 0.78 0 1 0 -1.56 0M152.1 177.24a0.78 0.78 0 1 0 1.56 0a0.78 0.78 0 1 0 -1.56 0M76.17 173.46a0.78 0.78 0 1 0 1.56 0a0.78 0.78 0 1 0 -1.56 0M87.54 175.04a0.78 0.78 0 1 0 1.56 0a0.78 0.78 0 1 0 -1.56 0M92.62 186.7a0.78 0.78 0 1 0 1.56 0a0.78 0.78 0 1 0 -1.56 0M159.19 184.93a0.78 0.78 0 1 0 1.56 0a0.78 0.78 0 1 0 -1.56 0M114.23 182.95a0.78 0.78 0 1 0 1.56 0a0.78 0.78 0 1 0 -1.56 0M92.1 182.99a0.78 0.78 0 1 0 1.56 0a0.78 0.78 0 1 0 -1.56 0M93.62 180.57a0.78 0.78 0 1 0 1.56 0a0.78 0.78 0 1 0 -1.56 0M161.03 183.53a0.78 0.78 0 1 0 1.56 0a0.78 0.78 0 1 0 -1.56 0M100.84 185.84a0.78 0.78 0 1 0 1.56 0a0.78 0.78 0 1 0 -1.56 0M164.39 183.82a0.78 0.78 0 1 0 1.56 0a0.78 0.78 0 1 0 -1.56 0M77.49 169.38a0.78 0.78 0 1 0 1.56 0a0.78 0.78 0 1 0 -1.56 0M101.76 186.55a0.78 0.78 0 1 0 1.56 0a0.78 0.78 0 1 0 -1.56 0M148.73 179.19a0.78 0.78 0 1 0 1.56 0a0.78 0.78 0 1 0 -1.56 0M76.85 178.48a0.78 0.78 0 1 0 1.56 0a0.78 0.78 0 1 0 -1.56 0M96.64 170.17a0.78 0.78 0 1 0 1.56 0a0.78 0.78 0 1 0 -1.56 0M82.73 176.81a0.78 0.78 0 1 0 1.56 0a0.78 0.78 0 1 0 -1.56 0M87.43 183.1a0.78 0.78 0 1 0 1.56 0a0.78 0.78 0 1 0 -1.56 0M70.74 187.73a0.78 0.78 0 1 0 1.56 0a0.78 0.78 0 1 0 -1.56 0M155.73 171.14a0.78 0.78 0 1 0 1.56 0a0.78 0.78 0 1 0 -1.56 0M111.67 182a0.78 0.78 0 1 0 1.56 0a0.78 0.78 0 1 0 -1.56 0M161.35 175.15a0.78 0.78 0 1 0 1.56 0a0.78 0.78 0 1 0 -1.56 0M157.24 187.56a0.78 0.78 0 1 0 1.56 0a0.78 0.78 0 1 0 -1.56 0M101.08 176.06a0.78 0.78 0 1 0 1.56 0a0.78 0.78 0 1 0 -1.56 0M111.82 174.59a0.78 0.78 0 1 0 1.56 0a0.78 0.78 0 1 0 -1.56 0M75.65 177.08a0.78 0.78 0 1 0 1.56 0a0.78 0.78 0 1 0 -1.56 0M125.57 173.38a0.78 0.78 0 1 0 1.56 0a0.78 0.78 0 1 0 -1.56 0M140.35 184.41a0.78 0.78 0 1 0 1.56 0a0.78 0.78 0 1 0 -1.56 0M91.45 179.7a0.78 0.78 0 1 0 1.56 0a0.78 0.78 0 1 0 -1.56 0M90.28 182a0.78 0.78 0 1 0 1.56 0a0.78 0.78 0 1 0 -1.56 0M141.19 179.29a0.78 0.78 0 1 0 1.56 0a0.78 0.78 0 1 0 -1.56 0M135.1 185.81a0.78 0.78 0 1 0 1.56 0a0.78 0.78 0 1 0 -1.56 0M94.31 170.52a0.78 0.78 0 1 0 1.56 0a0.78 0.78 0 1 0 -1.56 0M94.77 172.74a0.78 0.78 0 1 0 1.56 0a0.78 0.78 0 1 0 -1.56 0M110.49 177.62a0.78 0.78 0 1 0 1.56 0a0.78 0.78 0 1 0 -1.56 0M67.58 183.24a0.78 0.78 0 1 0 1.56 0a0.78 0.78 0 1 0 -1.56 0M143.13 187.32a0.78 0.78 0 1 0 1.56 0a0.78 0.78 0 1 0 -1.56 0M160.3 169.52a0.78 0.78 0 1 0 1.56 0a0.78 0.78 0 1 0 -1.56 0M61.3 114.43a0.78 0.78 0 1 0 1.56 0a0.78 0.78 0 1 0 -1.56 0M79.33 114.43a0.78 0.78 0 1 0 1.56 0a0.78 0.78 0 1 0 -1.56 0M83.84 114.43a0.78 0.78 0 1 0 1.56 0a0.78 0.78 0 1 0 -1.56 0M98.87 114.43a0.78 0.78 0 1 0 1.56 0a0.78 0.78 0 1 0 -1.56 0M100.98 114.43a0.78 0.78 0 1 0 1.56 0a0.78 0.78 0 1 0 -1.56 0M104.88 114.43a0.78 0.78 0 1 0 1.56 0a0.78 0.78 0 1 0 -1.56 0M178.52 114.43a0.78 0.78 0 1 0 1.56 0a0.78 0.78 0 1 0 -1.56 0M198.66 114.43a0.78 0.78 0 1 0 1.56 0a0.78 0.78 0 1 0 -1.56 0M106.39 117.43a0.78 0.78 0 1 0 1.56 0a0.78 0.78 0 1 0 -1.56 0M82.34 132.46a0.78 0.78 0 1 0 1.56 0a0.78 0.78 0 1 0 -1.56 0M89.85 132.46a0.78 0.78 0 1 0 1.56 0a0.78 0.78 0 1 0 -1.56 0M96.77 132.46a0.78 0.78 0 1 0 1.56 0a0.78 0.78 0 1 0 -1.56 0M98.87 132.46a0.78 0.78 0 1 0 1.56 0a0.78 0.78 0 1 0 -1.56 0M100.98 132.46a0.78 0.78 0 1 0 1.56 0a0.78 0.78 0 1 0 -1.56 0M103.38 132.46a0.78 0.78 0 1 0 1.56 0a0.78 0.78 0 1 0 -1.56 0M140.95 132.46a0.78 0.78 0 1 0 1.56 0a0.78 0.78 0 1 0 -1.56 0M159.59 132.46a0.78 0.78 0 1 0 1.56 0a0.78 0.78 0 1 0 -1.56 0M169.51 132.46a0.78 0.78 0 1 0 1.56 0a0.78 0.78 0 1 0 -1.56 0M189.94 132.46a0.78 0.78 0 1 0 1.56 0a0.78 0.78 0 1 0 -1.56 0M226.61 132.46a0.78 0.78 0 1 0 1.56 0a0.78 0.78 0 1 0 -1.56 0M99.47 139.07a0.78 0.78 0 1 0 1.56 0a0.78 0.78 0 1 0 -1.56 0M37.25 144.48a0.78 0.78 0 1 0 1.56 0a0.78 0.78 0 1 0 -1.56 0M71.82 144.48a0.78 0.78 0 1 0 1.56 0a0.78 0.78 0 1 0 -1.56 0M127.43 144.48a0.78 0.78 0 1 0 1.56 0a0.78 0.78 0 1 0 -1.56 0M142.45 144.48a0.78 0.78 0 1 0 1.56 0a0.78 0.78 0 1 0 -1.56 0M148.47 144.48a0.78 0.78 0 1 0 1.56 0a0.78 0.78 0 1 0 -1.56 0M179.42 144.48a0.78 0.78 0 1 0 1.56 0a0.78 0.78 0 1 0 -1.56 0M192.95 144.48a0.78 0.78 0 1 0 1.56 0a0.78 0.78 0 1 0 -1.56 0M205.57 144.48a0.78 0.78 0 1 0 1.56 0a0.78 0.78 0 1 0 -1.56 0M93.76 148.69a0.78 0.78 0 1 0 1.56 0a0.78 0.78 0 1 0 -1.56 0M103.98 148.69a0.78 0.78 0 1 0 1.56 0a0.78 0.78 0 1 0 -1.56 0M128.03 148.69a0.78 0.78 0 1 0 1.56 0a0.78 0.78 0 1 0 -1.56 0M189.94 148.69a0.78 0.78 0 1 0 1.56 0a0.78 0.78 0 1 0 -1.56 0M81.74 155.61a0.78 0.78 0 1 0 1.56 0a0.78 0.78 0 1 0 -1.56 0M83.84 155.61a0.78 0.78 0 1 0 1.56 0a0.78 0.78 0 1 0 -1.56 0M88.95 155.61a0.78 0.78 0 1 0 1.56 0a0.78 0.78 0 1 0 -1.56 0M96.77 155.61a0.78 0.78 0 1 0 1.56 0a0.78 0.78 0 1 0 -1.56 0M98.87 155.61a0.78 0.78 0 1 0 1.56 0a0.78 0.78 0 1 0 -1.56 0M100.37 155.61a0.78 0.78 0 1 0 1.56 0a0.78 0.78 0 1 0 -1.56 0M138.85 155.61a0.78 0.78 0 1 0 1.56 0a0.78 0.78 0 1 0 -1.56 0M155.98 155.61a0.78 0.78 0 1 0 1.56 0a0.78 0.78 0 1 0 -1.56 0M174.01 155.61a0.78 0.78 0 1 0 1.56 0a0.78 0.78 0 1 0 -1.56 0M178.52 155.61a0.78 0.78 0 1 0 1.56 0a0.78 0.78 0 1 0 -1.56 0M198.96 155.61a0.78 0.78 0 1 0 1.56 0a0.78 0.78 0 1 0 -1.56 0M187.54 157.11a0.78 0.78 0 1 0 1.56 0a0.78 0.78 0 1 0 -1.56 0M203.17 159.51a0.78 0.78 0 1 0 1.56 0a0.78 0.78 0 1 0 -1.56 0M67.31 160.11a0.78 0.78 0 1 0 1.56 0a0.78 0.78 0 1 0 -1.56 0M178.52 160.11a0.78 0.78 0 1 0 1.56 0a0.78 0.78 0 1 0 -1.56 0M70.92 161.62a0.78 0.78 0 1 0 1.56 0a0.78 0.78 0 1 0 -1.56 0M74.83 158.61a0.78 0.78 0 1 0 1.56 0a0.78 0.78 0 1 0 -1.56 0M97.37 164.62a0.78 0.78 0 1 0 1.56 0a0.78 0.78 0 1 0 -1.56 0M187.54 164.62a0.78 0.78 0 1 0 1.56 0a0.78 0.78 0 1 0 -1.56 0M44.77 169.13a0.78 0.78 0 1 0 1.56 0a0.78 0.78 0 1 0 -1.56 0M49.28 169.13a0.78 0.78 0 1 0 1.56 0a0.78 0.78 0 1 0 -1.56 0M51.68 169.13a0.78 0.78 0 1 0 1.56 0a0.78 0.78 0 1 0 -1.56 0M76.33 169.13a0.78 0.78 0 1 0 1.56 0a0.78 0.78 0 1 0 -1.56 0M79.33 169.13a0.78 0.78 0 1 0 1.56 0a0.78 0.78 0 1 0 -1.56 0M92.86 169.13a0.78 0.78 0 1 0 1.56 0a0.78 0.78 0 1 0 -1.56 0M103.98 169.13a0.78 0.78 0 1 0 1.56 0a0.78 0.78 0 1 0 -1.56 0M106.39 169.13a0.78 0.78 0 1 0 1.56 0a0.78 0.78 0 1 0 -1.56 0M108.79 169.13a0.78 0.78 0 1 0 1.56 0a0.78 0.78 0 1 0 -1.56 0M125.92 169.13a0.78 0.78 0 1 0 1.56 0a0.78 0.78 0 1 0 -1.56 0M127.43 169.13a0.78 0.78 0 1 0 1.56 0a0.78 0.78 0 1 0 -1.56 0M133.44 169.13a0.78 0.78 0 1 0 1.56 0a0.78 0.78 0 1 0 -1.56 0M134.94 169.13a0.78 0.78 0 1 0 1.56 0a0.78 0.78 0 1 0 -1.56 0M142.45 169.13a0.78 0.78 0 1 0 1.56 0a0.78 0.78 0 1 0 -1.56 0M143.96 169.13a0.78 0.78 0 1 0 1.56 0a0.78 0.78 0 1 0 -1.56 0M149.97 169.13a0.78 0.78 0 1 0 1.56 0a0.78 0.78 0 1 0 -1.56 0M157.48 169.13a0.78 0.78 0 1 0 1.56 0a0.78 0.78 0 1 0 -1.56 0M165 169.13a0.78 0.78 0 1 0 1.56 0a0.78 0.78 0 1 0 -1.56 0M166.5 169.13a0.78 0.78 0 1 0 1.56 0a0.78 0.78 0 1 0 -1.56 0M169.51 169.13a0.78 0.78 0 1 0 1.56 0a0.78 0.78 0 1 0 -1.56 0M171.01 169.13a0.78 0.78 0 1 0 1.56 0a0.78 0.78 0 1 0 -1.56 0M174.92 169.13a0.78 0.78 0 1 0 1.56 0a0.78 0.78 0 1 0 -1.56 0M175.52 169.13a0.78 0.78 0 1 0 1.56 0a0.78 0.78 0 1 0 -1.56 0M43.27 173.64a0.78 0.78 0 1 0 1.56 0a0.78 0.78 0 1 0 -1.56 0M47.77 173.64a0.78 0.78 0 1 0 1.56 0a0.78 0.78 0 1 0 -1.56 0M73.32 173.64a0.78 0.78 0 1 0 1.56 0a0.78 0.78 0 1 0 -1.56 0M80.84 173.64a0.78 0.78 0 1 0 1.56 0a0.78 0.78 0 1 0 -1.56 0M88.35 173.64a0.78 0.78 0 1 0 1.56 0a0.78 0.78 0 1 0 -1.56 0M50.78 177.25a0.78 0.78 0 1 0 1.56 0a0.78 0.78 0 1 0 -1.56 0M163.49 177.25a0.78 0.78 0 1 0 1.56 0a0.78 0.78 0 1 0 -1.56 0M169.51 177.25a0.78 0.78 0 1 0 1.56 0a0.78 0.78 0 1 0 -1.56 0M180.03 177.25a0.78 0.78 0 1 0 1.56 0a0.78 0.78 0 1 0 -1.56 0M181.53 177.25a0.78 0.78 0 1 0 1.56 0a0.78 0.78 0 1 0 -1.56 0M199.56 177.25a0.78 0.78 0 1 0 1.56 0a0.78 0.78 0 1 0 -1.56 0M41.76 181.15a0.78 0.78 0 1 0 1.56 0a0.78 0.78 0 1 0 -1.56 0M46.27 181.15a0.78 0.78 0 1 0 1.56 0a0.78 0.78 0 1 0 -1.56 0M50.78 181.15a0.78 0.78 0 1 0 1.56 0a0.78 0.78 0 1 0 -1.56 0M65.81 181.15a0.78 0.78 0 1 0 1.56 0a0.78 0.78 0 1 0 -1.56 0M51.68 184.16a0.78 0.78 0 1 0 1.56 0a0.78 0.78 0 1 0 -1.56 0M67.31 184.16a0.78 0.78 0 1 0 1.56 0a0.78 0.78 0 1 0 -1.56 0M74.83 184.16a0.78 0.78 0 1 0 1.56 0a0.78 0.78 0 1 0 -1.56 0M68.81 187.17a0.78 0.78 0 1 0 1.56 0a0.78 0.78 0 1 0 -1.56 0M71.82 187.17a0.78 0.78 0 1 0 1.56 0a0.78 0.78 0 1 0 -1.56 0M30.64 189.57a0.78 0.78 0 1 0 1.56 0a0.78 0.78 0 1 0 -1.56 0M189.04 189.57a0.78 0.78 0 1 0 1.56 0a0.78 0.78 0 1 0 -1.56 0" fill="#454545"/><path d="M84.55 51.9a0.85 0.85 0 1 0 1.7 0a0.85 0.85 0 1 0 -1.7 0" fill="#F0A020"/><path d="M85.4 51.9L82.3 48.6" stroke="#333" stroke-width="0.3"/><text x="72" y="48.5" font-size="4.8" fill="#111">SLR</text><rect x="21.7" y="44.6" width="215.7" height="166.8" fill="none" stroke="#333" stroke-width="0.55"/><path d="M26.4 211.4v1.6M73 211.4v1.6M119.6 211.4v1.6M166.2 211.4v1.6M212.8 211.4v1.6M21.7 203.8h-1.6M21.7 168.4h-1.6M21.7 133h-1.6M21.7 97.6h-1.6M21.7 62.2h-1.6" stroke="#333" stroke-width="0.5" fill="none"/><g font-size="6.3" fill="#3c3c3c" stroke="#3c3c3c" stroke-width="0.12"><text x="26.4" y="219" text-anchor="middle">-2</text><text x="73" y="219" text-anchor="middle">-1</text><text x="119.6" y="219" text-anchor="middle">0</text><text x="166.2" y="219" text-anchor="middle">1</text><text x="212.8" y="219" text-anchor="middle">2</text><text x="19.2" y="206.1" text-anchor="end">0.0</text><text x="19.2" y="170.7" text-anchor="end">0.5</text><text x="19.2" y="135.3" text-anchor="end">1.0</text><text x="19.2" y="99.9" text-anchor="end">1.5</text><text x="19.2" y="64.5" text-anchor="end">2.0</text></g><text x="129.55" y="228" text-anchor="middle" font-size="7.2" fill="#111" stroke="#111" stroke-width="0.18">log2 fold change</text><text transform="translate(6.6 128) rotate(-90)" text-anchor="middle" font-size="7.2" fill="#111" stroke="#111" stroke-width="0.18">adjusted P value</text><text x="22.2" y="31.3" font-size="7.35" fill="#111" stroke="#111" stroke-width="0.2">IBD-CTRL</text><text x="22.2" y="38.7" font-size="7.3" fill="#111" stroke="#111" stroke-width="0.2">Visualization thresholds: logFC 1.0, P 0.05</text><rect x="74.4" y="236.3" width="110.2" height="13.1" fill="#fff" stroke="#333" stroke-width="0.5"/><g font-size="5.7" fill="#111" stroke="#111" stroke-width="0.12"><circle cx="84.3" cy="242.85" r="0.8" fill="#F0A020"/><text x="90.6" y="245.25">Significant (1)</text><circle cx="132.7" cy="242.85" r="0.8" fill="#454545"/><text x="138.8" y="245.25">Not sign. (1465)</text></g><rect x="268.1" y="44.5" width="215.2" height="164.6" fill="#fff"/><path d="M315.3 44.5V209.1M365.5 44.5V209.1M415.7 44.5V209.1M465.9 44.5V209.1M268.1 177.46H483.3M268.1 129.38H483.3M268.1 81.3H483.3" stroke="#f2f2f2" stroke-width="0.35" fill="none"/><path d="M290.2 44.5V209.1M340.4 44.5V209.1M390.6 44.5V209.1M440.8 44.5V209.1M268.1 201.5H483.3M268.1 153.42H483.3M268.1 105.34H483.3M268.1 57.26H483.3" stroke="#e6e6e6" stroke-width="0.6" fill="none"/><path d="M320.32 44.5V209.1M360.48 44.5V209.1M268.1 185.86H483.3" stroke="#444" stroke-width="0.5" stroke-dasharray="1.6 1.2" fill="none"/><path d="M329.55 196.34a0.78 0.78 0 1 0 1.56 0a0.78 0.78 0 1 0 -1.56 0M327.08 201.7a0.78 0.78 0 1 0 1.56 0a0.78 0.78 0 1 0 -1.56 0M340.37 201.96a0.78 0.78 0 1 0 1.56 0a0.78 0.78 0 1 0 -1.56 0M336.9 202.32a0.78 0.78 0 1 0 1.56 0a0.78 0.78 0 1 0 -1.56 0M322.33 201.37a0.78 0.78 0 1 0 1.56 0a0.78 0.78 0 1 0 -1.56 0M359.46 200.72a0.78 0.78 0 1 0 1.56 0a0.78 0.78 0 1 0 -1.56 0M344.27 193.7a0.78 0.78 0 1 0 1.56 0a0.78 0.78 0 1 0 -1.56 0M319.66 194.54a0.78 0.78 0 1 0 1.56 0a0.78 0.78 0 1 0 -1.56 0M337.48 196.7a0.78 0.78 0 1 0 1.56 0a0.78 0.78 0 1 0 -1.56 0M373.94 198.12a0.78 0.78 0 1 0 1.56 0a0.78 0.78 0 1 0 -1.56 0M325.02 200.45a0.78 0.78 0 1 0 1.56 0a0.78 0.78 0 1 0 -1.56 0M353.86 200.71a0.78 0.78 0 1 0 1.56 0a0.78 0.78 0 1 0 -1.56 0M343.69 195.44a0.78 0.78 0 1 0 1.56 0a0.78 0.78 0 1 0 -1.56 0M350.51 202.01a0.78 0.78 0 1 0 1.56 0a0.78 0.78 0 1 0 -1.56 0M363.6 196.16a0.78 0.78 0 1 0 1.56 0a0.78 0.78 0 1 0 -1.56 0M325.85 194.27a0.78 0.78 0 1 0 1.56 0a0.78 0.78 0 1 0 -1.56 0M368.75 200.72a0.78 0.78 0 1 0 1.56 0a0.78 0.78 0 1 0 -1.56 0M370.45 195.1a0.78 0.78 0 1 0 1.56 0a0.78 0.78 0 1 0 -1.56 0M343.41 194.7a0.78 0.78 0 1 0 1.56 0a0.78 0.78 0 1 0 -1.56 0M330.97 197.45a0.78 0.78 0 1 0 1.56 0a0.78 0.78 0 1 0 -1.56 0M324.17 196.26a0.78 0.78 0 1 0 1.56 0a0.78 0.78 0 1 0 -1.56 0M317.55 198.4a0.78 0.78 0 1 0 1.56 0a0.78 0.78 0 1 0 -1.56 0M357.45 196.51a0.78 0.78 0 1 0 1.56 0a0.78 0.78 0 1 0 -1.56 0M370.57 197.54a0.78 0.78 0 1 0 1.56 0a0.78 0.78 0 1 0 -1.56 0M348.57 193.63a0.78 0.78 0 1 0 1.56 0a0.78 0.78 0 1 0 -1.56 0M376.63 198.31a0.78 0.78 0 1 0 1.56 0a0.78 0.78 0 1 0 -1.56 0M351.08 196.07a0.78 0.78 0 1 0 1.56 0a0.78 0.78 0 1 0 -1.56 0M384.3 194.23a0.78 0.78 0 1 0 1.56 0a0.78 0.78 0 1 0 -1.56 0M313.32 199.55a0.78 0.78 0 1 0 1.56 0a0.78 0.78 0 1 0 -1.56 0M312.94 194.65a0.78 0.78 0 1 0 1.56 0a0.78 0.78 0 1 0 -1.56 0M347.73 201.8a0.78 0.78 0 1 0 1.56 0a0.78 0.78 0 1 0 -1.56 0M349.71 200.27a0.78 0.78 0 1 0 1.56 0a0.78 0.78 0 1 0 -1.56 0M334.45 196.4a0.78 0.78 0 1 0 1.56 0a0.78 0.78 0 1 0 -1.56 0M354.02 200.76a0.78 0.78 0 1 0 1.56 0a0.78 0.78 0 1 0 -1.56 0M331.17 202.47a0.78 0.78 0 1 0 1.56 0a0.78 0.78 0 1 0 -1.56 0M315.91 198.07a0.78 0.78 0 1 0 1.56 0a0.78 0.78 0 1 0 -1.56 0M330.04 193.37a0.78 0.78 0 1 0 1.56 0a0.78 0.78 0 1 0 -1.56 0M378.16 197.51a0.78 0.78 0 1 0 1.56 0a0.78 0.78 0 1 0 -1.56 0M346.97 198.34a0.78 0.78 0 1 0 1.56 0a0.78 0.78 0 1 0 -1.56 0M326.29 201.21a0.78 0.78 0 1 0 1.56 0a0.78 0.78 0 1 0 -1.56 0M366.9 195.47a0.78 0.78 0 1 0 1.56 0a0.78 0.78 0 1 0 -1.56 0M368.14 193.89a0.78 0.78 0 1 0 1.56 0a0.78 0.78 0 1 0 -1.56 0M366.6 199.86a0.78 0.78 0 1 0 1.56 0a0.78 0.78 0 1 0 -1.56 0M357.28 201.87a0.78 0.78 0 1 0 1.56 0a0.78 0.78 0 1 0 -1.56 0M316.03 196.74a0.78 0.78 0 1 0 1.56 0a0.78 0.78 0 1 0 -1.56 0M361.6 195.76a0.78 0.78 0 1 0 1.56 0a0.78 0.78 0 1 0 -1.56 0M335.95 197.51a0.78 0.78 0 1 0 1.56 0a0.78 0.78 0 1 0 -1.56 0M351.44 196.73a0.78 0.78 0 1 0 1.56 0a0.78 0.78 0 1 0 -1.56 0M345.7 201.98a0.78 0.78 0 1 0 1.56 0a0.78 0.78 0 1 0 -1.56 0M355.53 193.61a0.78 0.78 0 1 0 1.56 0a0.78 0.78 0 1 0 -1.56 0M360.83 195.39a0.78 0.78 0 1 0 1.56 0a0.78 0.78 0 1 0 -1.56 0M347.88 193.35a0.78 0.78 0 1 0 1.56 0a0.78 0.78 0 1 0 -1.56 0M337.08 199.28a0.78 0.78 0 1 0 1.56 0a0.78 0.78 0 1 0 -1.56 0M323.56 199.25a0.78 0.78 0 1 0 1.56 0a0.78 0.78 0 1 0 -1.56 0M359.31 194.77a0.78 0.78 0 1 0 1.56 0a0.78 0.78 0 1 0 -1.56 0M367.53 200.53a0.78 0.78 0 1 0 1.56 0a0.78 0.78 0 1 0 -1.56 0M323.2 199.39a0.78 0.78 0 1 0 1.56 0a0.78 0.78 0 1 0 -1.56 0M363.68 199.99a0.78 0.78 0 1 0 1.56 0a0.78 0.78 0 1 0 -1.56 0M339.22 202.35a0.78 0.78 0 1 0 1.56 0a0.78 0.78 0 1 0 -1.56 0M325.5 194.92a0.78 0.78 0 1 0 1.56 0a0.78 0.78 0 1 0 -1.56 0M367.25 201.89a0.78 0.78 0 1 0 1.56 0a0.78 0.78 0 1 0 -1.56 0M330.88 197.4a0.78 0.78 0 1 0 1.56 0a0.78 0.78 0 1 0 -1.56 0M321.51 199.48a0.78 0.78 0 1 0 1.56 0a0.78 0.78 0 1 0 -1.56 0M358.87 201.81a0.78 0.78 0 1 0 1.56 0a0.78 0.78 0 1 0 -1.56 0M377.72 200.86a0.78 0.78 0 1 0 1.56 0a0.78 0.78 0 1 0 -1.56 0M381.08 195.47a0.78 0.78 0 1 0 1.56 0a0.78 0.78 0 1 0 -1.56 0M310.28 199.62a0.78 0.78 0 1 0 1.56 0a0.78 0.78 0 1 0 -1.56 0M378.94 199.95a0.78 0.78 0 1 0 1.56 0a0.78 0.78 0 1 0 -1.56 0M357.66 200.42a0.78 0.78 0 1 0 1.56 0a0.78 0.78 0 1 0 -1.56 0M368.97 199.73a0.78 0.78 0 1 0 1.56 0a0.78 0.78 0 1 0 -1.56 0M366.56 193.09a0.78 0.78 0 1 0 1.56 0a0.78 0.78 0 1 0 -1.56 0M324.26 197.94a0.78 0.78 0 1 0 1.56 0a0.78 0.78 0 1 0 -1.56 0M369.81 197.91a0.78 0.78 0 1 0 1.56 0a0.78 0.78 0 1 0 -1.56 0M350.95 199.84a0.78 0.78 0 1 0 1.56 0a0.78 0.78 0 1 0 -1.56 0M316.08 197.13a0.78 0.78 0 1 0 1.56 0a0.78 0.78 0 1 0 -1.56 0M320.02 193.52a0.78 0.78 0 1 0 1.56 0a0.78 0.78 0 1 0 -1.56 0M357.98 199.97a0.78 0.78 0 1 0 1.56 0a0.78 0.78 0 1 0 -1.56 0M347.95 198.13a0.78 0.78 0 1 0 1.56 0a0.78 0.78 0 1 0 -1.56 0M323.15 193.75a0.78 0.78 0 1 0 1.56 0a0.78 0.78 0 1 0 -1.56 0M334.42 201.97a0.78 0.78 0 1 0 1.56 0a0.78 0.78 0 1 0 -1.56 0M316.21 201.07a0.78 0.78 0 1 0 1.56 0a0.78 0.78 0 1 0 -1.56 0M363.77 201.35a0.78 0.78 0 1 0 1.56 0a0.78 0.78 0 1 0 -1.56 0M310.65 200.79a0.78 0.78 0 1 0 1.56 0a0.78 0.78 0 1 0 -1.56 0M376.42 194.79a0.78 0.78 0 1 0 1.56 0a0.78 0.78 0 1 0 -1.56 0M355.22 194.98a0.78 0.78 0 1 0 1.56 0a0.78 0.78 0 1 0 -1.56 0M354.54 196.69a0.78 0.78 0 1 0 1.56 0a0.78 0.78 0 1 0 -1.56 0M331.21 198.23a0.78 0.78 0 1 0 1.56 0a0.78 0.78 0 1 0 -1.56 0M310.91 199.91a0.78 0.78 0 1 0 1.56 0a0.78 0.78 0 1 0 -1.56 0M371.66 195.42a0.78 0.78 0 1 0 1.56 0a0.78 0.78 0 1 0 -1.56 0M354.2 202a0.78 0.78 0 1 0 1.56 0a0.78 0.78 0 1 0 -1.56 0M313.85 194.97a0.78 0.78 0 1 0 1.56 0a0.78 0.78 0 1 0 -1.56 0M336.06 200.25a0.78 0.78 0 1 0 1.56 0a0.78 0.78 0 1 0 -1.56 0M347.32 202.35a0.78 0.78 0 1 0 1.56 0a0.78 0.78 0 1 0 -1.56 0M343.97 196.98a0.78 0.78 0 1 0 1.56 0a0.78 0.78 0 1 0 -1.56 0M331.38 196.95a0.78 0.78 0 1 0 1.56 0a0.78 0.78 0 1 0 -1.56 0M359.1 199a0.78 0.78 0 1 0 1.56 0a0.78 0.78 0 1 0 -1.56 0M328.24 200.92a0.78 0.78 0 1 0 1.56 0a0.78 0.78 0 1 0 -1.56 0M373.62 197.81a0.78 0.78 0 1 0 1.56 0a0.78 0.78 0 1 0 -1.56 0M345.68 199.9a0.78 0.78 0 1 0 1.56 0a0.78 0.78 0 1 0 -1.56 0M330.19 196.09a0.78 0.78 0 1 0 1.56 0a0.78 0.78 0 1 0 -1.56 0M328.75 200.61a0.78 0.78 0 1 0 1.56 0a0.78 0.78 0 1 0 -1.56 0M370.01 198.39a0.78 0.78 0 1 0 1.56 0a0.78 0.78 0 1 0 -1.56 0M308.84 198.19a0.78 0.78 0 1 0 1.56 0a0.78 0.78 0 1 0 -1.56 0M336.18 198.76a0.78 0.78 0 1 0 1.56 0a0.78 0.78 0 1 0 -1.56 0M347.07 199.42a0.78 0.78 0 1 0 1.56 0a0.78 0.78 0 1 0 -1.56 0M362.52 199.52a0.78 0.78 0 1 0 1.56 0a0.78 0.78 0 1 0 -1.56 0M318.36 195.84a0.78 0.78 0 1 0 1.56 0a0.78 0.78 0 1 0 -1.56 0M371.04 198.04a0.78 0.78 0 1 0 1.56 0a0.78 0.78 0 1 0 -1.56 0M324.72 198.77a0.78 0.78 0 1 0 1.56 0a0.78 0.78 0 1 0 -1.56 0M382.74 197.98a0.78 0.78 0 1 0 1.56 0a0.78 0.78 0 1 0 -1.56 0M346.23 193.98a0.78 0.78 0 1 0 1.56 0a0.78 0.78 0 1 0 -1.56 0M357.43 195.02a0.78 0.78 0 1 0 1.56 0a0.78 0.78 0 1 0 -1.56 0M314.49 198.82a0.78 0.78 0 1 0 1.56 0a0.78 0.78 0 1 0 -1.56 0M312.9 201.01a0.78 0.78 0 1 0 1.56 0a0.78 0.78 0 1 0 -1.56 0M350.15 199.91a0.78 0.78 0 1 0 1.56 0a0.78 0.78 0 1 0 -1.56 0M367.06 194.25a0.78 0.78 0 1 0 1.56 0a0.78 0.78 0 1 0 -1.56 0M369.76 199.42a0.78 0.78 0 1 0 1.56 0a0.78 0.78 0 1 0 -1.56 0M337.32 198.6a0.78 0.78 0 1 0 1.56 0a0.78 0.78 0 1 0 -1.56 0M360.91 193.21a0.78 0.78 0 1 0 1.56 0a0.78 0.78 0 1 0 -1.56 0M356.33 199.36a0.78 0.78 0 1 0 1.56 0a0.78 0.78 0 1 0 -1.56 0M359.89 200.72a0.78 0.78 0 1 0 1.56 0a0.78 0.78 0 1 0 -1.56 0M323.13 198.92a0.78 0.78 0 1 0 1.56 0a0.78 0.78 0 1 0 -1.56 0M366.42 200.8a0.78 0.78 0 1 0 1.56 0a0.78 0.78 0 1 0 -1.56 0M334.3 200.24a0.78 0.78 0 1 0 1.56 0a0.78 0.78 0 1 0 -1.56 0M360.64 198.1a0.78 0.78 0 1 0 1.56 0a0.78 0.78 0 1 0 -1.56 0M341.65 202.5a0.78 0.78 0 1 0 1.56 0a0.78 0.78 0 1 0 -1.56 0M372.42 193.9a0.78 0.78 0 1 0 1.56 0a0.78 0.78 0 1 0 -1.56 0M353.99 202.19a0.78 0.78 0 1 0 1.56 0a0.78 0.78 0 1 0 -1.56 0M370.77 201.59a0.78 0.78 0 1 0 1.56 0a0.78 0.78 0 1 0 -1.56 0M352.91 199.18a0.78 0.78 0 1 0 1.56 0a0.78 0.78 0 1 0 -1.56 0M333.41 201.59a0.78 0.78 0 1 0 1.56 0a0.78 0.78 0 1 0 -1.56 0M361.2 196.24a0.78 0.78 0 1 0 1.56 0a0.78 0.78 0 1 0 -1.56 0M312.67 196.54a0.78 0.78 0 1 0 1.56 0a0.78 0.78 0 1 0 -1.56 0M320.86 200.92a0.78 0.78 0 1 0 1.56 0a0.78 0.78 0 1 0 -1.56 0M371.62 196.84a0.78 0.78 0 1 0 1.56 0a0.78 0.78 0 1 0 -1.56 0M328.45 201.01a0.78 0.78 0 1 0 1.56 0a0.78 0.78 0 1 0 -1.56 0M376.87 199.64a0.78 0.78 0 1 0 1.56 0a0.78 0.78 0 1 0 -1.56 0M316.1 195.96a0.78 0.78 0 1 0 1.56 0a0.78 0.78 0 1 0 -1.56 0M314.22 194.97a0.78 0.78 0 1 0 1.56 0a0.78 0.78 0 1 0 -1.56 0M357.64 193.16a0.78 0.78 0 1 0 1.56 0a0.78 0.78 0 1 0 -1.56 0M358.1 195.69a0.78 0.78 0 1 0 1.56 0a0.78 0.78 0 1 0 -1.56 0M332.67 195.61a0.78 0.78 0 1 0 1.56 0a0.78 0.78 0 1 0 -1.56 0M375.59 201.37a0.78 0.78 0 1 0 1.56 0a0.78 0.78 0 1 0 -1.56 0M350 198.98a0.78 0.78 0 1 0 1.56 0a0.78 0.78 0 1 0 -1.56 0M330.97 196.92a0.78 0.78 0 1 0 1.56 0a0.78 0.78 0 1 0 -1.56 0M369.91 198.73a0.78 0.78 0 1 0 1.56 0a0.78 0.78 0 1 0 -1.56 0M371.46 197.84a0.78 0.78 0 1 0 1.56 0a0.78 0.78 0 1 0 -1.56 0M328.16 201.95a0.78 0.78 0 1 0 1.56 0a0.78 0.78 0 1 0 -1.56 0M315.25 200.68a0.78 0.78 0 1 0 1.56 0a0.78 0.78 0 1 0 -1.56 0M345.18 196.02a0.78 0.78 0 1 0 1.56 0a0.78 0.78 0 1 0 -1.56 0M336.4 201.12a0.78 0.78 0 1 0 1.56 0a0.78 0.78 0 1 0 -1.56 0M352.47 194.41a0.78 0.78 0 1 0 1.56 0a0.78 0.78 0 1 0 -1.56 0M353.11 195.96a0.78 0.78 0 1 0 1.56 0a0.78 0.78 0 1 0 -1.56 0M366.33 200.44a0.78 0.78 0 1 0 1.56 0a0.78 0.78 0 1 0 -1.56 0M328.9 201.28a0.78 0.78 0 1 0 1.56 0a0.78 0.78 0 1 0 -1.56 0M354.33 202.42a0.78 0.78 0 1 0 1.56 0a0.78 0.78 0 1 0 -1.56 0M352.58 201.25a0.78 0.78 0 1 0 1.56 0a0.78 0.78 0 1 0 -1.56 0M327.35 201.76a0.78 0.78 0 1 0 1.56 0a0.78 0.78 0 1 0 -1.56 0M331.27 197.86a0.78 0.78 0 1 0 1.56 0a0.78 0.78 0 1 0 -1.56 0M354.14 198.36a0.78 0.78 0 1 0 1.56 0a0.78 0.78 0 1 0 -1.56 0M374.08 193.9a0.78 0.78 0 1 0 1.56 0a0.78 0.78 0 1 0 -1.56 0M366.36 198.55a0.78 0.78 0 1 0 1.56 0a0.78 0.78 0 1 0 -1.56 0M335.14 194.42a0.78 0.78 0 1 0 1.56 0a0.78 0.78 0 1 0 -1.56 0M344.31 193.93a0.78 0.78 0 1 0 1.56 0a0.78 0.78 0 1 0 -1.56 0M321.73 194.89a0.78 0.78 0 1 0 1.56 0a0.78 0.78 0 1 0 -1.56 0M322.98 196.74a0.78 0.78 0 1 0 1.56 0a0.78 0.78 0 1 0 -1.56 0M318.7 198.91a0.78 0.78 0 1 0 1.56 0a0.78 0.78 0 1 0 -1.56 0M348.55 196.45a0.78 0.78 0 1 0 1.56 0a0.78 0.78 0 1 0 -1.56 0M330.46 201.92a0.78 0.78 0 1 0 1.56 0a0.78 0.78 0 1 0 -1.56 0M321.98 201.1a0.78 0.78 0 1 0 1.56 0a0.78 0.78 0 1 0 -1.56 0M344.2 197.48a0.78 0.78 0 1 0 1.56 0a0.78 0.78 0 1 0 -1.56 0M345.64 201.37a0.78 0.78 0 1 0 1.56 0a0.78 0.78 0 1 0 -1.56 0M362 193.8a0.78 0.78 0 1 0 1.56 0a0.78 0.78 0 1 0 -1.56 0M326.33 193.51a0.78 0.78 0 1 0 1.56 0a0.78 0.78 0 1 0 -1.56 0M321.39 193.68a0.78 0.78 0 1 0 1.56 0a0.78 0.78 0 1 0 -1.56 0M311.27 195.58a0.78 0.78 0 1 0 1.56 0a0.78 0.78 0 1 0 -1.56 0M344.38 193.52a0.78 0.78 0 1 0 1.56 0a0.78 0.78 0 1 0 -1.56 0M313.45 199.52a0.78 0.78 0 1 0 1.56 0a0.78 0.78 0 1 0 -1.56 0M359.16 195.89a0.78 0.78 0 1 0 1.56 0a0.78 0.78 0 1 0 -1.56 0M362.07 195.17a0.78 0.78 0 1 0 1.56 0a0.78 0.78 0 1 0 -1.56 0M321.41 201.92a0.78 0.78 0 1 0 1.56 0a0.78 0.78 0 1 0 -1.56 0M343.39 194.75a0.78 0.78 0 1 0 1.56 0a0.78 0.78 0 1 0 -1.56 0M359.85 193.31a0.78 0.78 0 1 0 1.56 0a0.78 0.78 0 1 0 -1.56 0M374.25 201.52a0.78 0.78 0 1 0 1.56 0a0.78 0.78 0 1 0 -1.56 0M360.49 197.52a0.78 0.78 0 1 0 1.56 0a0.78 0.78 0 1 0 -1.56 0M352.72 202.41a0.78 0.78 0 1 0 1.56 0a0.78 0.78 0 1 0 -1.56 0M352.5 202.37a0.78 0.78 0 1 0 1.56 0a0.78 0.78 0 1 0 -1.56 0M334.73 194.27a0.78 0.78 0 1 0 1.56 0a0.78 0.78 0 1 0 -1.56 0M367.37 201.27a0.78 0.78 0 1 0 1.56 0a0.78 0.78 0 1 0 -1.56 0M341.63 196.68a0.78 0.78 0 1 0 1.56 0a0.78 0.78 0 1 0 -1.56 0M363 201.37a0.78 0.78 0 1 0 1.56 0a0.78 0.78 0 1 0 -1.56 0M359.61 200.6a0.78 0.78 0 1 0 1.56 0a0.78 0.78 0 1 0 -1.56 0M324.26 196.96a0.78 0.78 0 1 0 1.56 0a0.78 0.78 0 1 0 -1.56 0M328.65 200.34a0.78 0.78 0 1 0 1.56 0a0.78 0.78 0 1 0 -1.56 0M325.65 202.14a0.78 0.78 0 1 0 1.56 0a0.78 0.78 0 1 0 -1.56 0M362.68 194.41a0.78 0.78 0 1 0 1.56 0a0.78 0.78 0 1 0 -1.56 0M374.36 199.75a0.78 0.78 0 1 0 1.56 0a0.78 0.78 0 1 0 -1.56 0M349.43 198.14a0.78 0.78 0 1 0 1.56 0a0.78 0.78 0 1 0 -1.56 0M312.09 193.24a0.78 0.78 0 1 0 1.56 0a0.78 0.78 0 1 0 -1.56 0M332.6 202.08a0.78 0.78 0 1 0 1.56 0a0.78 0.78 0 1 0 -1.56 0M375.1 195.35a0.78 0.78 0 1 0 1.56 0a0.78 0.78 0 1 0 -1.56 0M366.39 193.91a0.78 0.78 0 1 0 1.56 0a0.78 0.78 0 1 0 -1.56 0M370.85 198.25a0.78 0.78 0 1 0 1.56 0a0.78 0.78 0 1 0 -1.56 0M366.87 201.31a0.78 0.78 0 1 0 1.56 0a0.78 0.78 0 1 0 -1.56 0M359.68 199.14a0.78 0.78 0 1 0 1.56 0a0.78 0.78 0 1 0 -1.56 0M356.84 199.6a0.78 0.78 0 1 0 1.56 0a0.78 0.78 0 1 0 -1.56 0M357.3 193.34a0.78 0.78 0 1 0 1.56 0a0.78 0.78 0 1 0 -1.56 0M324.63 197.55a0.78 0.78 0 1 0 1.56 0a0.78 0.78 0 1 0 -1.56 0M331.63 202.52a0.78 0.78 0 1 0 1.56 0a0.78 0.78 0 1 0 -1.56 0M355.03 202.2a0.78 0.78 0 1 0 1.56 0a0.78 0.78 0 1 0 -1.56 0M316.3 198.4a0.78 0.78 0 1 0 1.56 0a0.78 0.78 0 1 0 -1.56 0M331.82 195.43a0.78 0.78 0 1 0 1.56 0a0.78 0.78 0 1 0 -1.56 0M346.53 202.44a0.78 0.78 0 1 0 1.56 0a0.78 0.78 0 1 0 -1.56 0M342.89 195.35a0.78 0.78 0 1 0 1.56 0a0.78 0.78 0 1 0 -1.56 0M362.16 194.27a0.78 0.78 0 1 0 1.56 0a0.78 0.78 0 1 0 -1.56 0M368.97 201.39a0.78 0.78 0 1 0 1.56 0a0.78 0.78 0 1 0 -1.56 0M359.66 200.73a0.78 0.78 0 1 0 1.56 0a0.78 0.78 0 1 0 -1.56 0M328.18 197.84a0.78 0.78 0 1 0 1.56 0a0.78 0.78 0 1 0 -1.56 0M324.94 195.17a0.78 0.78 0 1 0 1.56 0a0.78 0.78 0 1 0 -1.56 0M315.57 193.61a0.78 0.78 0 1 0 1.56 0a0.78 0.78 0 1 0 -1.56 0M355.21 197.51a0.78 0.78 0 1 0 1.56 0a0.78 0.78 0 1 0 -1.56 0M325.91 197.26a0.78 0.78 0 1 0 1.56 0a0.78 0.78 0 1 0 -1.56 0M355.93 202.28a0.78 0.78 0 1 0 1.56 0a0.78 0.78 0 1 0 -1.56 0M320.9 201.06a0.78 0.78 0 1 0 1.56 0a0.78 0.78 0 1 0 -1.56 0M318.97 194.12a0.78 0.78 0 1 0 1.56 0a0.78 0.78 0 1 0 -1.56 0M351.74 197.78a0.78 0.78 0 1 0 1.56 0a0.78 0.78 0 1 0 -1.56 0M324.97 194.09a0.78 0.78 0 1 0 1.56 0a0.78 0.78 0 1 0 -1.56 0M333.19 201.94a0.78 0.78 0 1 0 1.56 0a0.78 0.78 0 1 0 -1.56 0M328.52 199.6a0.78 0.78 0 1 0 1.56 0a0.78 0.78 0 1 0 -1.56 0M358.84 198.76a0.78 0.78 0 1 0 1.56 0a0.78 0.78 0 1 0 -1.56 0M313.76 198.66a0.78 0.78 0 1 0 1.56 0a0.78 0.78 0 1 0 -1.56 0M351.55 193.27a0.78 0.78 0 1 0 1.56 0a0.78 0.78 0 1 0 -1.56 0M372.08 200.08a0.78 0.78 0 1 0 1.56 0a0.78 0.78 0 1 0 -1.56 0M361.55 198.19a0.78 0.78 0 1 0 1.56 0a0.78 0.78 0 1 0 -1.56 0M333.71 200.31a0.78 0.78 0 1 0 1.56 0a0.78 0.78 0 1 0 -1.56 0M365.48 202a0.78 0.78 0 1 0 1.56 0a0.78 0.78 0 1 0 -1.56 0M360.24 201.94a0.78 0.78 0 1 0 1.56 0a0.78 0.78 0 1 0 -1.56 0M332.55 195.15a0.78 0.78 0 1 0 1.56 0a0.78 0.78 0 1 0 -1.56 0M355.18 200.88a0.78 0.78 0 1 0 1.56 0a0.78 0.78 0 1 0 -1.56 0M330.26 200.11a0.78 0.78 0 1 0 1.56 0a0.78 0.78 0 1 0 -1.56 0M377.15 194.23a0.78 0.78 0 1 0 1.56 0a0.78 0.78 0 1 0 -1.56 0M345.02 202.55a0.78 0.78 0 1 0 1.56 0a0.78 0.78 0 1 0 -1.56 0M331 198.38a0.78 0.78 0 1 0 1.56 0a0.78 0.78 0 1 0 -1.56 0M367.5 198.93a0.78 0.78 0 1 0 1.56 0a0.78 0.78 0 1 0 -1.56 0M356.59 194.33a0.78 0.78 0 1 0 1.56 0a0.78 0.78 0 1 0 -1.56 0M336.25 201.54a0.78 0.78 0 1 0 1.56 0a0.78 0.78 0 1 0 -1.56 0M353.05 200.75a0.78 0.78 0 1 0 1.56 0a0.78 0.78 0 1 0 -1.56 0M356.28 201.33a0.78 0.78 0 1 0 1.56 0a0.78 0.78 0 1 0 -1.56 0M318.6 196.7a0.78 0.78 0 1 0 1.56 0a0.78 0.78 0 1 0 -1.56 0M348.17 194.55a0.78 0.78 0 1 0 1.56 0a0.78 0.78 0 1 0 -1.56 0M333.81 201.13a0.78 0.78 0 1 0 1.56 0a0.78 0.78 0 1 0 -1.56 0M362.29 197.9a0.78 0.78 0 1 0 1.56 0a0.78 0.78 0 1 0 -1.56 0M334.84 197.68a0.78 0.78 0 1 0 1.56 0a0.78 0.78 0 1 0 -1.56 0M345.75 200.73a0.78 0.78 0 1 0 1.56 0a0.78 0.78 0 1 0 -1.56 0M317.61 201.09a0.78 0.78 0 1 0 1.56 0a0.78 0.78 0 1 0 -1.56 0M326.18 201.65a0.78 0.78 0 1 0 1.56 0a0.78 0.78 0 1 0 -1.56 0M321.2 197.83a0.78 0.78 0 1 0 1.56 0a0.78 0.78 0 1 0 -1.56 0M308.45 193.81a0.78 0.78 0 1 0 1.56 0a0.78 0.78 0 1 0 -1.56 0M365.12 195.41a0.78 0.78 0 1 0 1.56 0a0.78 0.78 0 1 0 -1.56 0M345.22 201.07a0.78 0.78 0 1 0 1.56 0a0.78 0.78 0 1 0 -1.56 0M321.64 201.55a0.78 0.78 0 1 0 1.56 0a0.78 0.78 0 1 0 -1.56 0M377.49 194.27a0.78 0.78 0 1 0 1.56 0a0.78 0.78 0 1 0 -1.56 0M334.76 195.89a0.78 0.78 0 1 0 1.56 0a0.78 0.78 0 1 0 -1.56 0M357.31 200.02a0.78 0.78 0 1 0 1.56 0a0.78 0.78 0 1 0 -1.56 0M355.79 200.26a0.78 0.78 0 1 0 1.56 0a0.78 0.78 0 1 0 -1.56 0M375.11 199.31a0.78 0.78 0 1 0 1.56 0a0.78 0.78 0 1 0 -1.56 0M358.84 194.64a0.78 0.78 0 1 0 1.56 0a0.78 0.78 0 1 0 -1.56 0M366.05 199.57a0.78 0.78 0 1 0 1.56 0a0.78 0.78 0 1 0 -1.56 0M310.06 199.4a0.78 0.78 0 1 0 1.56 0a0.78 0.78 0 1 0 -1.56 0M333.1 193.45a0.78 0.78 0 1 0 1.56 0a0.78 0.78 0 1 0 -1.56 0M312.57 197.47a0.78 0.78 0 1 0 1.56 0a0.78 0.78 0 1 0 -1.56 0M359.15 197.94a0.78 0.78 0 1 0 1.56 0a0.78 0.78 0 1 0 -1.56 0M317.16 195.12a0.78 0.78 0 1 0 1.56 0a0.78 0.78 0 1 0 -1.56 0M331.71 195.65a0.78 0.78 0 1 0 1.56 0a0.78 0.78 0 1 0 -1.56 0M321.88 195.6a0.78 0.78 0 1 0 1.56 0a0.78 0.78 0 1 0 -1.56 0M322 194.15a0.78 0.78 0 1 0 1.56 0a0.78 0.78 0 1 0 -1.56 0M358.56 198.73a0.78 0.78 0 1 0 1.56 0a0.78 0.78 0 1 0 -1.56 0M354.1 196.16a0.78 0.78 0 1 0 1.56 0a0.78 0.78 0 1 0 -1.56 0M372.21 197.56a0.78 0.78 0 1 0 1.56 0a0.78 0.78 0 1 0 -1.56 0M364.81 193.46a0.78 0.78 0 1 0 1.56 0a0.78 0.78 0 1 0 -1.56 0M309.65 197.9a0.78 0.78 0 1 0 1.56 0a0.78 0.78 0 1 0 -1.56 0M346.7 200.32a0.78 0.78 0 1 0 1.56 0a0.78 0.78 0 1 0 -1.56 0M370.49 201.6a0.78 0.78 0 1 0 1.56 0a0.78 0.78 0 1 0 -1.56 0M337.07 198.06a0.78 0.78 0 1 0 1.56 0a0.78 0.78 0 1 0 -1.56 0M330.9 199.18a0.78 0.78 0 1 0 1.56 0a0.78 0.78 0 1 0 -1.56 0M309.26 197.28a0.78 0.78 0 1 0 1.56 0a0.78 0.78 0 1 0 -1.56 0M354.3 197.56a0.78 0.78 0 1 0 1.56 0a0.78 0.78 0 1 0 -1.56 0M307.04 195.67a0.78 0.78 0 1 0 1.56 0a0.78 0.78 0 1 0 -1.56 0M343.2 202.11a0.78 0.78 0 1 0 1.56 0a0.78 0.78 0 1 0 -1.56 0M335.41 199.54a0.78 0.78 0 1 0 1.56 0a0.78 0.78 0 1 0 -1.56 0M379.34 200.11a0.78 0.78 0 1 0 1.56 0a0.78 0.78 0 1 0 -1.56 0M338.84 200.98a0.78 0.78 0 1 0 1.56 0a0.78 0.78 0 1 0 -1.56 0M321.98 200.14a0.78 0.78 0 1 0 1.56 0a0.78 0.78 0 1 0 -1.56 0M366.33 197.37a0.78 0.78 0 1 0 1.56 0a0.78 0.78 0 1 0 -1.56 0M315.08 196.03a0.78 0.78 0 1 0 1.56 0a0.78 0.78 0 1 0 -1.56 0M361.7 200.37a0.78 0.78 0 1 0 1.56 0a0.78 0.78 0 1 0 -1.56 0M324.06 197.28a0.78 0.78 0 1 0 1.56 0a0.78 0.78 0 1 0 -1.56 0M310.9 194.53a0.78 0.78 0 1 0 1.56 0a0.78 0.78 0 1 0 -1.56 0M362.87 201.17a0.78 0.78 0 1 0 1.56 0a0.78 0.78 0 1 0 -1.56 0M314.98 201.04a0.78 0.78 0 1 0 1.56 0a0.78 0.78 0 1 0 -1.56 0M327.82 199.99a0.78 0.78 0 1 0 1.56 0a0.78 0.78 0 1 0 -1.56 0M344.97 194.93a0.78 0.78 0 1 0 1.56 0a0.78 0.78 0 1 0 -1.56 0M333.75 193.43a0.78 0.78 0 1 0 1.56 0a0.78 0.78 0 1 0 -1.56 0M374.51 193.7a0.78 0.78 0 1 0 1.56 0a0.78 0.78 0 1 0 -1.56 0M327.15 193.02a0.78 0.78 0 1 0 1.56 0a0.78 0.78 0 1 0 -1.56 0M356.78 197.78a0.78 0.78 0 1 0 1.56 0a0.78 0.78 0 1 0 -1.56 0M384.69 199.6a0.78 0.78 0 1 0 1.56 0a0.78 0.78 0 1 0 -1.56 0M351.74 199.95a0.78 0.78 0 1 0 1.56 0a0.78 0.78 0 1 0 -1.56 0M350.88 196.46a0.78 0.78 0 1 0 1.56 0a0.78 0.78 0 1 0 -1.56 0M344.14 194a0.78 0.78 0 1 0 1.56 0a0.78 0.78 0 1 0 -1.56 0M316.36 200.94a0.78 0.78 0 1 0 1.56 0a0.78 0.78 0 1 0 -1.56 0M377.44 193.79a0.78 0.78 0 1 0 1.56 0a0.78 0.78 0 1 0 -1.56 0M352.71 198.46a0.78 0.78 0 1 0 1.56 0a0.78 0.78 0 1 0 -1.56 0M374.38 194.7a0.78 0.78 0 1 0 1.56 0a0.78 0.78 0 1 0 -1.56 0M320.95 194.72a0.78 0.78 0 1 0 1.56 0a0.78 0.78 0 1 0 -1.56 0M366.98 201.19a0.78 0.78 0 1 0 1.56 0a0.78 0.78 0 1 0 -1.56 0M360.53 201.19a0.78 0.78 0 1 0 1.56 0a0.78 0.78 0 1 0 -1.56 0M319.87 198.93a0.78 0.78 0 1 0 1.56 0a0.78 0.78 0 1 0 -1.56 0M336.53 196.46a0.78 0.78 0 1 0 1.56 0a0.78 0.78 0 1 0 -1.56 0M331.09 195.32a0.78 0.78 0 1 0 1.56 0a0.78 0.78 0 1 0 -1.56 0M314.43 199.2a0.78 0.78 0 1 0 1.56 0a0.78 0.78 0 1 0 -1.56 0M325.21 200.81a0.78 0.78 0 1 0 1.56 0a0.78 0.78 0 1 0 -1.56 0M324.95 193.17a0.78 0.78 0 1 0 1.56 0a0.78 0.78 0 1 0 -1.56 0M329.07 198.85a0.78 0.78 0 1 0 1.56 0a0.78 0.78 0 1 0 -1.56 0M326.18 196.44a0.78 0.78 0 1 0 1.56 0a0.78 0.78 0 1 0 -1.56 0M318.67 198.66a0.78 0.78 0 1 0 1.56 0a0.78 0.78 0 1 0 -1.56 0M344.62 196.08a0.78 0.78 0 1 0 1.56 0a0.78 0.78 0 1 0 -1.56 0M357.25 201.7a0.78 0.78 0 1 0 1.56 0a0.78 0.78 0 1 0 -1.56 0M375.71 198.28a0.78 0.78 0 1 0 1.56 0a0.78 0.78 0 1 0 -1.56 0M368.63 198.95a0.78 0.78 0 1 0 1.56 0a0.78 0.78 0 1 0 -1.56 0M324.13 197.96a0.78 0.78 0 1 0 1.56 0a0.78 0.78 0 1 0 -1.56 0M332.18 197.33a0.78 0.78 0 1 0 1.56 0a0.78 0.78 0 1 0 -1.56 0M351.41 196.65a0.78 0.78 0 1 0 1.56 0a0.78 0.78 0 1 0 -1.56 0M358.26 193.73a0.78 0.78 0 1 0 1.56 0a0.78 0.78 0 1 0 -1.56 0M370.66 200.64a0.78 0.78 0 1 0 1.56 0a0.78 0.78 0 1 0 -1.56 0M323.71 195.91a0.78 0.78 0 1 0 1.56 0a0.78 0.78 0 1 0 -1.56 0M337.24 202.63a0.78 0.78 0 1 0 1.56 0a0.78 0.78 0 1 0 -1.56 0M340.91 198.54a0.78 0.78 0 1 0 1.56 0a0.78 0.78 0 1 0 -1.56 0M349.25 194.76a0.78 0.78 0 1 0 1.56 0a0.78 0.78 0 1 0 -1.56 0M365.41 200.42a0.78 0.78 0 1 0 1.56 0a0.78 0.78 0 1 0 -1.56 0M329.63 197.5a0.78 0.78 0 1 0 1.56 0a0.78 0.78 0 1 0 -1.56 0M344.81 195.69a0.78 0.78 0 1 0 1.56 0a0.78 0.78 0 1 0 -1.56 0M322.11 199.1a0.78 0.78 0 1 0 1.56 0a0.78 0.78 0 1 0 -1.56 0M374.64 200.87a0.78 0.78 0 1 0 1.56 0a0.78 0.78 0 1 0 -1.56 0M311.87 196.74a0.78 0.78 0 1 0 1.56 0a0.78 0.78 0 1 0 -1.56 0M330.7 193.97a0.78 0.78 0 1 0 1.56 0a0.78 0.78 0 1 0 -1.56 0M340.56 200.38a0.78 0.78 0 1 0 1.56 0a0.78 0.78 0 1 0 -1.56 0M344.93 196.31a0.78 0.78 0 1 0 1.56 0a0.78 0.78 0 1 0 -1.56 0M377.19 200.86a0.78 0.78 0 1 0 1.56 0a0.78 0.78 0 1 0 -1.56 0M336.52 194.95a0.78 0.78 0 1 0 1.56 0a0.78 0.78 0 1 0 -1.56 0M364.19 200.68a0.78 0.78 0 1 0 1.56 0a0.78 0.78 0 1 0 -1.56 0M345.35 200.46a0.78 0.78 0 1 0 1.56 0a0.78 0.78 0 1 0 -1.56 0M377.77 193.14a0.78 0.78 0 1 0 1.56 0a0.78 0.78 0 1 0 -1.56 0M383.75 200.7a0.78 0.78 0 1 0 1.56 0a0.78 0.78 0 1 0 -1.56 0M350.39 200.36a0.78 0.78 0 1 0 1.56 0a0.78 0.78 0 1 0 -1.56 0M345.72 193.03a0.78 0.78 0 1 0 1.56 0a0.78 0.78 0 1 0 -1.56 0M373.03 195.51a0.78 0.78 0 1 0 1.56 0a0.78 0.78 0 1 0 -1.56 0M325.81 195.95a0.78 0.78 0 1 0 1.56 0a0.78 0.78 0 1 0 -1.56 0M374.71 198.87a0.78 0.78 0 1 0 1.56 0a0.78 0.78 0 1 0 -1.56 0M343.28 202.29a0.78 0.78 0 1 0 1.56 0a0.78 0.78 0 1 0 -1.56 0M335.5 202.52a0.78 0.78 0 1 0 1.56 0a0.78 0.78 0 1 0 -1.56 0M374.43 200.45a0.78 0.78 0 1 0 1.56 0a0.78 0.78 0 1 0 -1.56 0M378.93 200.09a0.78 0.78 0 1 0 1.56 0a0.78 0.78 0 1 0 -1.56 0M358.41 200.62a0.78 0.78 0 1 0 1.56 0a0.78 0.78 0 1 0 -1.56 0M310.73 193.71a0.78 0.78 0 1 0 1.56 0a0.78 0.78 0 1 0 -1.56 0M330.8 198.56a0.78 0.78 0 1 0 1.56 0a0.78 0.78 0 1 0 -1.56 0M329.52 198.22a0.78 0.78 0 1 0 1.56 0a0.78 0.78 0 1 0 -1.56 0M367.47 195.4a0.78 0.78 0 1 0 1.56 0a0.78 0.78 0 1 0 -1.56 0M345.65 202.15a0.78 0.78 0 1 0 1.56 0a0.78 0.78 0 1 0 -1.56 0M317.64 201.68a0.78 0.78 0 1 0 1.56 0a0.78 0.78 0 1 0 -1.56 0M332.77 202.61a0.78 0.78 0 1 0 1.56 0a0.78 0.78 0 1 0 -1.56 0M331.48 200.35a0.78 0.78 0 1 0 1.56 0a0.78 0.78 0 1 0 -1.56 0M356.75 200.2a0.78 0.78 0 1 0 1.56 0a0.78 0.78 0 1 0 -1.56 0M311.65 197.97a0.78 0.78 0 1 0 1.56 0a0.78 0.78 0 1 0 -1.56 0M331.83 194.22a0.78 0.78 0 1 0 1.56 0a0.78 0.78 0 1 0 -1.56 0M349.39 195.19a0.78 0.78 0 1 0 1.56 0a0.78 0.78 0 1 0 -1.56 0M345.44 198.76a0.78 0.78 0 1 0 1.56 0a0.78 0.78 0 1 0 -1.56 0M345.2 200.52a0.78 0.78 0 1 0 1.56 0a0.78 0.78 0 1 0 -1.56 0M371.68 197.02a0.78 0.78 0 1 0 1.56 0a0.78 0.78 0 1 0 -1.56 0M337.32 202.72a0.78 0.78 0 1 0 1.56 0a0.78 0.78 0 1 0 -1.56 0M380.79 200.9a0.78 0.78 0 1 0 1.56 0a0.78 0.78 0 1 0 -1.56 0M347.8 200.22a0.78 0.78 0 1 0 1.56 0a0.78 0.78 0 1 0 -1.56 0M310.9 194.74a0.78 0.78 0 1 0 1.56 0a0.78 0.78 0 1 0 -1.56 0M371.67 199.21a0.78 0.78 0 1 0 1.56 0a0.78 0.78 0 1 0 -1.56 0M330.34 197.18a0.78 0.78 0 1 0 1.56 0a0.78 0.78 0 1 0 -1.56 0M364.59 194.68a0.78 0.78 0 1 0 1.56 0a0.78 0.78 0 1 0 -1.56 0M349.6 198.35a0.78 0.78 0 1 0 1.56 0a0.78 0.78 0 1 0 -1.56 0M331.54 201.77a0.78 0.78 0 1 0 1.56 0a0.78 0.78 0 1 0 -1.56 0M327.92 194.36a0.78 0.78 0 1 0 1.56 0a0.78 0.78 0 1 0 -1.56 0M343.8 201.39a0.78 0.78 0 1 0 1.56 0a0.78 0.78 0 1 0 -1.56 0M364.84 201.95a0.78 0.78 0 1 0 1.56 0a0.78 0.78 0 1 0 -1.56 0M320.72 197.33a0.78 0.78 0 1 0 1.56 0a0.78 0.78 0 1 0 -1.56 0M364.83 199.81a0.78 0.78 0 1 0 1.56 0a0.78 0.78 0 1 0 -1.56 0M358.45 199.26a0.78 0.78 0 1 0 1.56 0a0.78 0.78 0 1 0 -1.56 0M379.59 195.38a0.78 0.78 0 1 0 1.56 0a0.78 0.78 0 1 0 -1.56 0M373.74 193.45a0.78 0.78 0 1 0 1.56 0a0.78 0.78 0 1 0 -1.56 0M360.54 200.84a0.78 0.78 0 1 0 1.56 0a0.78 0.78 0 1 0 -1.56 0M350.15 196.45a0.78 0.78 0 1 0 1.56 0a0.78 0.78 0 1 0 -1.56 0M359.94 196.36a0.78 0.78 0 1 0 1.56 0a0.78 0.78 0 1 0 -1.56 0M386.73 194.97a0.78 0.78 0 1 0 1.56 0a0.78 0.78 0 1 0 -1.56 0M317.27 193.67a0.78 0.78 0 1 0 1.56 0a0.78 0.78 0 1 0 -1.56 0M356.63 202.29a0.78 0.78 0 1 0 1.56 0a0.78 0.78 0 1 0 -1.56 0M364.97 200.07a0.78 0.78 0 1 0 1.56 0a0.78 0.78 0 1 0 -1.56 0M323.45 201.84a0.78 0.78 0 1 0 1.56 0a0.78 0.78 0 1 0 -1.56 0M324.79 199.87a0.78 0.78 0 1 0 1.56 0a0.78 0.78 0 1 0 -1.56 0M364.85 199.39a0.78 0.78 0 1 0 1.56 0a0.78 0.78 0 1 0 -1.56 0M353.01 200.06a0.78 0.78 0 1 0 1.56 0a0.78 0.78 0 1 0 -1.56 0M314.82 195.19a0.78 0.78 0 1 0 1.56 0a0.78 0.78 0 1 0 -1.56 0M335.19 201.46a0.78 0.78 0 1 0 1.56 0a0.78 0.78 0 1 0 -1.56 0M326.28 199.6a0.78 0.78 0 1 0 1.56 0a0.78 0.78 0 1 0 -1.56 0M360.53 197.72a0.78 0.78 0 1 0 1.56 0a0.78 0.78 0 1 0 -1.56 0M370.17 197.31a0.78 0.78 0 1 0 1.56 0a0.78 0.78 0 1 0 -1.56 0M355.54 202.29a0.78 0.78 0 1 0 1.56 0a0.78 0.78 0 1 0 -1.56 0M365.06 197.56a0.78 0.78 0 1 0 1.56 0a0.78 0.78 0 1 0 -1.56 0M314.74 196.72a0.78 0.78 0 1 0 1.56 0a0.78 0.78 0 1 0 -1.56 0M323.36 193.23a0.78 0.78 0 1 0 1.56 0a0.78 0.78 0 1 0 -1.56 0M332.59 195.47a0.78 0.78 0 1 0 1.56 0a0.78 0.78 0 1 0 -1.56 0M325.78 195.52a0.78 0.78 0 1 0 1.56 0a0.78 0.78 0 1 0 -1.56 0M356.61 195.2a0.78 0.78 0 1 0 1.56 0a0.78 0.78 0 1 0 -1.56 0M334.59 198.79a0.78 0.78 0 1 0 1.56 0a0.78 0.78 0 1 0 -1.56 0M334.14 194.55a0.78 0.78 0 1 0 1.56 0a0.78 0.78 0 1 0 -1.56 0M361.92 201.65a0.78 0.78 0 1 0 1.56 0a0.78 0.78 0 1 0 -1.56 0M368.63 194.57a0.78 0.78 0 1 0 1.56 0a0.78 0.78 0 1 0 -1.56 0M367.92 201.7a0.78 0.78 0 1 0 1.56 0a0.78 0.78 0 1 0 -1.56 0M347.46 201.15a0.78 0.78 0 1 0 1.56 0a0.78 0.78 0 1 0 -1.56 0M322.51 197.58a0.78 0.78 0 1 0 1.56 0a0.78 0.78 0 1 0 -1.56 0M361.99 201.44a0.78 0.78 0 1 0 1.56 0a0.78 0.78 0 1 0 -1.56 0M365.21 200.05a0.78 0.78 0 1 0 1.56 0a0.78 0.78 0 1 0 -1.56 0M384.32 193.16a0.78 0.78 0 1 0 1.56 0a0.78 0.78 0 1 0 -1.56 0M326.64 199.02a0.78 0.78 0 1 0 1.56 0a0.78 0.78 0 1 0 -1.56 0M314.78 200.86a0.78 0.78 0 1 0 1.56 0a0.78 0.78 0 1 0 -1.56 0M344.6 199.22a0.78 0.78 0 1 0 1.56 0a0.78 0.78 0 1 0 -1.56 0M344.14 196.03a0.78 0.78 0 1 0 1.56 0a0.78 0.78 0 1 0 -1.56 0M350.45 202.4a0.78 0.78 0 1 0 1.56 0a0.78 0.78 0 1 0 -1.56 0M337.08 199.9a0.78 0.78 0 1 0 1.56 0a0.78 0.78 0 1 0 -1.56 0M356.51 196.3a0.78 0.78 0 1 0 1.56 0a0.78 0.78 0 1 0 -1.56 0M322.39 198a0.78 0.78 0 1 0 1.56 0a0.78 0.78 0 1 0 -1.56 0M320.25 198.79a0.78 0.78 0 1 0 1.56 0a0.78 0.78 0 1 0 -1.56 0M311.88 200.76a0.78 0.78 0 1 0 1.56 0a0.78 0.78 0 1 0 -1.56 0M337.87 201.05a0.78 0.78 0 1 0 1.56 0a0.78 0.78 0 1 0 -1.56 0M385.72 194.36a0.78 0.78 0 1 0 1.56 0a0.78 0.78 0 1 0 -1.56 0M313.17 198.22a0.78 0.78 0 1 0 1.56 0a0.78 0.78 0 1 0 -1.56 0M368.13 201.32a0.78 0.78 0 1 0 1.56 0a0.78 0.78 0 1 0 -1.56 0M335.29 197.6a0.78 0.78 0 1 0 1.56 0a0.78 0.78 0 1 0 -1.56 0M376.32 200.94a0.78 0.78 0 1 0 1.56 0a0.78 0.78 0 1 0 -1.56 0M317.81 201.27a0.78 0.78 0 1 0 1.56 0a0.78 0.78 0 1 0 -1.56 0M313.02 199.18a0.78 0.78 0 1 0 1.56 0a0.78 0.78 0 1 0 -1.56 0M367.28 200.53a0.78 0.78 0 1 0 1.56 0a0.78 0.78 0 1 0 -1.56 0M367.1 193.15a0.78 0.78 0 1 0 1.56 0a0.78 0.78 0 1 0 -1.56 0M348.24 197.87a0.78 0.78 0 1 0 1.56 0a0.78 0.78 0 1 0 -1.56 0M323.81 196.26a0.78 0.78 0 1 0 1.56 0a0.78 0.78 0 1 0 -1.56 0M322.67 200.06a0.78 0.78 0 1 0 1.56 0a0.78 0.78 0 1 0 -1.56 0M353.36 200.88a0.78 0.78 0 1 0 1.56 0a0.78 0.78 0 1 0 -1.56 0M364.97 200.74a0.78 0.78 0 1 0 1.56 0a0.78 0.78 0 1 0 -1.56 0M363.4 199.72a0.78 0.78 0 1 0 1.56 0a0.78 0.78 0 1 0 -1.56 0M311.67 193.66a0.78 0.78 0 1 0 1.56 0a0.78 0.78 0 1 0 -1.56 0M337.24 197.39a0.78 0.78 0 1 0 1.56 0a0.78 0.78 0 1 0 -1.56 0M311.02 199.22a0.78 0.78 0 1 0 1.56 0a0.78 0.78 0 1 0 -1.56 0M372.13 199.33a0.78 0.78 0 1 0 1.56 0a0.78 0.78 0 1 0 -1.56 0M372.02 201.22a0.78 0.78 0 1 0 1.56 0a0.78 0.78 0 1 0 -1.56 0M331.05 202.43a0.78 0.78 0 1 0 1.56 0a0.78 0.78 0 1 0 -1.56 0M366.88 193.87a0.78 0.78 0 1 0 1.56 0a0.78 0.78 0 1 0 -1.56 0M353.01 199a0.78 0.78 0 1 0 1.56 0a0.78 0.78 0 1 0 -1.56 0M362.84 202.12a0.78 0.78 0 1 0 1.56 0a0.78 0.78 0 1 0 -1.56 0M333.01 197.42a0.78 0.78 0 1 0 1.56 0a0.78 0.78 0 1 0 -1.56 0M362.26 193.86a0.78 0.78 0 1 0 1.56 0a0.78 0.78 0 1 0 -1.56 0M343.77 202.64a0.78 0.78 0 1 0 1.56 0a0.78 0.78 0 1 0 -1.56 0M368.03 196.78a0.78 0.78 0 1 0 1.56 0a0.78 0.78 0 1 0 -1.56 0M341.32 199.3a0.78 0.78 0 1 0 1.56 0a0.78 0.78 0 1 0 -1.56 0M368.27 201.71a0.78 0.78 0 1 0 1.56 0a0.78 0.78 0 1 0 -1.56 0M316.02 194.48a0.78 0.78 0 1 0 1.56 0a0.78 0.78 0 1 0 -1.56 0M310.71 201.18a0.78 0.78 0 1 0 1.56 0a0.78 0.78 0 1 0 -1.56 0M321.01 193.53a0.78 0.78 0 1 0 1.56 0a0.78 0.78 0 1 0 -1.56 0M348.27 200.35a0.78 0.78 0 1 0 1.56 0a0.78 0.78 0 1 0 -1.56 0M324.13 202a0.78 0.78 0 1 0 1.56 0a0.78 0.78 0 1 0 -1.56 0M370.39 194.07a0.78 0.78 0 1 0 1.56 0a0.78 0.78 0 1 0 -1.56 0M343.22 194.63a0.78 0.78 0 1 0 1.56 0a0.78 0.78 0 1 0 -1.56 0M316.1 193.18a0.78 0.78 0 1 0 1.56 0a0.78 0.78 0 1 0 -1.56 0M317.5 198.54a0.78 0.78 0 1 0 1.56 0a0.78 0.78 0 1 0 -1.56 0M325.58 196.27a0.78 0.78 0 1 0 1.56 0a0.78 0.78 0 1 0 -1.56 0M334.35 198.91a0.78 0.78 0 1 0 1.56 0a0.78 0.78 0 1 0 -1.56 0M342.79 200.97a0.78 0.78 0 1 0 1.56 0a0.78 0.78 0 1 0 -1.56 0M352.34 195.72a0.78 0.78 0 1 0 1.56 0a0.78 0.78 0 1 0 -1.56 0M336.75 198.93a0.78 0.78 0 1 0 1.56 0a0.78 0.78 0 1 0 -1.56 0M369.17 198.4a0.78 0.78 0 1 0 1.56 0a0.78 0.78 0 1 0 -1.56 0M364.46 201.05a0.78 0.78 0 1 0 1.56 0a0.78 0.78 0 1 0 -1.56 0M345.76 200.59a0.78 0.78 0 1 0 1.56 0a0.78 0.78 0 1 0 -1.56 0M366.67 198.21a0.78 0.78 0 1 0 1.56 0a0.78 0.78 0 1 0 -1.56 0M363.06 199.48a0.78 0.78 0 1 0 1.56 0a0.78 0.78 0 1 0 -1.56 0M340.68 200.28a0.78 0.78 0 1 0 1.56 0a0.78 0.78 0 1 0 -1.56 0M347.15 194.78a0.78 0.78 0 1 0 1.56 0a0.78 0.78 0 1 0 -1.56 0M312.74 197.01a0.78 0.78 0 1 0 1.56 0a0.78 0.78 0 1 0 -1.56 0M352.35 195a0.78 0.78 0 1 0 1.56 0a0.78 0.78 0 1 0 -1.56 0M375.66 200.05a0.78 0.78 0 1 0 1.56 0a0.78 0.78 0 1 0 -1.56 0M327.54 202.03a0.78 0.78 0 1 0 1.56 0a0.78 0.78 0 1 0 -1.56 0M372.26 197.73a0.78 0.78 0 1 0 1.56 0a0.78 0.78 0 1 0 -1.56 0M342.94 200.2a0.78 0.78 0 1 0 1.56 0a0.78 0.78 0 1 0 -1.56 0M365.07 198.38a0.78 0.78 0 1 0 1.56 0a0.78 0.78 0 1 0 -1.56 0M332.17 196.89a0.78 0.78 0 1 0 1.56 0a0.78 0.78 0 1 0 -1.56 0M308.31 193.31a0.78 0.78 0 1 0 1.56 0a0.78 0.78 0 1 0 -1.56 0M322.44 201.58a0.78 0.78 0 1 0 1.56 0a0.78 0.78 0 1 0 -1.56 0M337.13 198.78a0.78 0.78 0 1 0 1.56 0a0.78 0.78 0 1 0 -1.56 0M375.91 199.88a0.78 0.78 0 1 0 1.56 0a0.78 0.78 0 1 0 -1.56 0M342.13 194.92a0.78 0.78 0 1 0 1.56 0a0.78 0.78 0 1 0 -1.56 0M342.9 193.62a0.78 0.78 0 1 0 1.56 0a0.78 0.78 0 1 0 -1.56 0M358.13 199.25a0.78 0.78 0 1 0 1.56 0a0.78 0.78 0 1 0 -1.56 0M364.7 194.52a0.78 0.78 0 1 0 1.56 0a0.78 0.78 0 1 0 -1.56 0M355.17 202.41a0.78 0.78 0 1 0 1.56 0a0.78 0.78 0 1 0 -1.56 0M370.45 196.7a0.78 0.78 0 1 0 1.56 0a0.78 0.78 0 1 0 -1.56 0M337.09 194.27a0.78 0.78 0 1 0 1.56 0a0.78 0.78 0 1 0 -1.56 0M323.83 193.32a0.78 0.78 0 1 0 1.56 0a0.78 0.78 0 1 0 -1.56 0M318.41 201.55a0.78 0.78 0 1 0 1.56 0a0.78 0.78 0 1 0 -1.56 0M378.86 196.76a0.78 0.78 0 1 0 1.56 0a0.78 0.78 0 1 0 -1.56 0M348.11 200.29a0.78 0.78 0 1 0 1.56 0a0.78 0.78 0 1 0 -1.56 0M310.93 199.56a0.78 0.78 0 1 0 1.56 0a0.78 0.78 0 1 0 -1.56 0M342.43 202.51a0.78 0.78 0 1 0 1.56 0a0.78 0.78 0 1 0 -1.56 0M337.04 193.63a0.78 0.78 0 1 0 1.56 0a0.78 0.78 0 1 0 -1.56 0M326.65 194.72a0.78 0.78 0 1 0 1.56 0a0.78 0.78 0 1 0 -1.56 0M369.63 198.77a0.78 0.78 0 1 0 1.56 0a0.78 0.78 0 1 0 -1.56 0M362.4 201.42a0.78 0.78 0 1 0 1.56 0a0.78 0.78 0 1 0 -1.56 0M322.7 195.3a0.78 0.78 0 1 0 1.56 0a0.78 0.78 0 1 0 -1.56 0M342.43 193.82a0.78 0.78 0 1 0 1.56 0a0.78 0.78 0 1 0 -1.56 0M346.57 201a0.78 0.78 0 1 0 1.56 0a0.78 0.78 0 1 0 -1.56 0M375.58 198.75a0.78 0.78 0 1 0 1.56 0a0.78 0.78 0 1 0 -1.56 0M322.23 200.31a0.78 0.78 0 1 0 1.56 0a0.78 0.78 0 1 0 -1.56 0M348.68 201.94a0.78 0.78 0 1 0 1.56 0a0.78 0.78 0 1 0 -1.56 0M356.34 196.25a0.78 0.78 0 1 0 1.56 0a0.78 0.78 0 1 0 -1.56 0M317.02 193.81a0.78 0.78 0 1 0 1.56 0a0.78 0.78 0 1 0 -1.56 0M325.16 200.15a0.78 0.78 0 1 0 1.56 0a0.78 0.78 0 1 0 -1.56 0M352.99 196.86a0.78 0.78 0 1 0 1.56 0a0.78 0.78 0 1 0 -1.56 0M315.97 198.5a0.78 0.78 0 1 0 1.56 0a0.78 0.78 0 1 0 -1.56 0M373.82 198.73a0.78 0.78 0 1 0 1.56 0a0.78 0.78 0 1 0 -1.56 0M335.87 201.92a0.78 0.78 0 1 0 1.56 0a0.78 0.78 0 1 0 -1.56 0M333.49 197a0.78 0.78 0 1 0 1.56 0a0.78 0.78 0 1 0 -1.56 0M333.51 201.86a0.78 0.78 0 1 0 1.56 0a0.78 0.78 0 1 0 -1.56 0M367.15 200.44a0.78 0.78 0 1 0 1.56 0a0.78 0.78 0 1 0 -1.56 0M371.78 197.14a0.78 0.78 0 1 0 1.56 0a0.78 0.78 0 1 0 -1.56 0M360.61 201.8a0.78 0.78 0 1 0 1.56 0a0.78 0.78 0 1 0 -1.56 0M343.83 195.76a0.78 0.78 0 1 0 1.56 0a0.78 0.78 0 1 0 -1.56 0M357.38 199.76a0.78 0.78 0 1 0 1.56 0a0.78 0.78 0 1 0 -1.56 0M351.63 201.29a0.78 0.78 0 1 0 1.56 0a0.78 0.78 0 1 0 -1.56 0M316.67 193.49a0.78 0.78 0 1 0 1.56 0a0.78 0.78 0 1 0 -1.56 0M381.23 194.67a0.78 0.78 0 1 0 1.56 0a0.78 0.78 0 1 0 -1.56 0M335.29 193.3a0.78 0.78 0 1 0 1.56 0a0.78 0.78 0 1 0 -1.56 0M368.93 197.09a0.78 0.78 0 1 0 1.56 0a0.78 0.78 0 1 0 -1.56 0M359.84 201.49a0.78 0.78 0 1 0 1.56 0a0.78 0.78 0 1 0 -1.56 0M352.7 201.9a0.78 0.78 0 1 0 1.56 0a0.78 0.78 0 1 0 -1.56 0M366.98 194.41a0.78 0.78 0 1 0 1.56 0a0.78 0.78 0 1 0 -1.56 0M320.36 200.24a0.78 0.78 0 1 0 1.56 0a0.78 0.78 0 1 0 -1.56 0M349.57 197.15a0.78 0.78 0 1 0 1.56 0a0.78 0.78 0 1 0 -1.56 0M355.12 202.07a0.78 0.78 0 1 0 1.56 0a0.78 0.78 0 1 0 -1.56 0M364.52 195.08a0.78 0.78 0 1 0 1.56 0a0.78 0.78 0 1 0 -1.56 0M333.43 200.58a0.78 0.78 0 1 0 1.56 0a0.78 0.78 0 1 0 -1.56 0M350.67 197.28a0.78 0.78 0 1 0 1.56 0a0.78 0.78 0 1 0 -1.56 0M336.88 196.52a0.78 0.78 0 1 0 1.56 0a0.78 0.78 0 1 0 -1.56 0M344.98 199.05a0.78 0.78 0 1 0 1.56 0a0.78 0.78 0 1 0 -1.56 0M358.24 197.96a0.78 0.78 0 1 0 1.56 0a0.78 0.78 0 1 0 -1.56 0M363.68 201.93a0.78 0.78 0 1 0 1.56 0a0.78 0.78 0 1 0 -1.56 0M367.21 199.66a0.78 0.78 0 1 0 1.56 0a0.78 0.78 0 1 0 -1.56 0M333.37 193.82a0.78 0.78 0 1 0 1.56 0a0.78 0.78 0 1 0 -1.56 0M357.63 197.5a0.78 0.78 0 1 0 1.56 0a0.78 0.78 0 1 0 -1.56 0M349.15 202.51a0.78 0.78 0 1 0 1.56 0a0.78 0.78 0 1 0 -1.56 0M347.36 198.07a0.78 0.78 0 1 0 1.56 0a0.78 0.78 0 1 0 -1.56 0M338.89 201.86a0.78 0.78 0 1 0 1.56 0a0.78 0.78 0 1 0 -1.56 0M368.79 193.1a0.78 0.78 0 1 0 1.56 0a0.78 0.78 0 1 0 -1.56 0M364.47 202.01a0.78 0.78 0 1 0 1.56 0a0.78 0.78 0 1 0 -1.56 0M362.89 194.65a0.78 0.78 0 1 0 1.56 0a0.78 0.78 0 1 0 -1.56 0M326.06 201.96a0.78 0.78 0 1 0 1.56 0a0.78 0.78 0 1 0 -1.56 0M350.05 196.54a0.78 0.78 0 1 0 1.56 0a0.78 0.78 0 1 0 -1.56 0M316.58 196.09a0.78 0.78 0 1 0 1.56 0a0.78 0.78 0 1 0 -1.56 0M353.68 196.71a0.78 0.78 0 1 0 1.56 0a0.78 0.78 0 1 0 -1.56 0M309.76 195.4a0.78 0.78 0 1 0 1.56 0a0.78 0.78 0 1 0 -1.56 0M352.07 194.13a0.78 0.78 0 1 0 1.56 0a0.78 0.78 0 1 0 -1.56 0M371.93 195.16a0.78 0.78 0 1 0 1.56 0a0.78 0.78 0 1 0 -1.56 0M358.43 195.39a0.78 0.78 0 1 0 1.56 0a0.78 0.78 0 1 0 -1.56 0M365.3 194.45a0.78 0.78 0 1 0 1.56 0a0.78 0.78 0 1 0 -1.56 0M350.33 201.88a0.78 0.78 0 1 0 1.56 0a0.78 0.78 0 1 0 -1.56 0M371.87 197.25a0.78 0.78 0 1 0 1.56 0a0.78 0.78 0 1 0 -1.56 0M361.61 199.28a0.78 0.78 0 1 0 1.56 0a0.78 0.78 0 1 0 -1.56 0M344.93 196.7a0.78 0.78 0 1 0 1.56 0a0.78 0.78 0 1 0 -1.56 0M375.85 199.28a0.78 0.78 0 1 0 1.56 0a0.78 0.78 0 1 0 -1.56 0M336.54 198.38a0.78 0.78 0 1 0 1.56 0a0.78 0.78 0 1 0 -1.56 0M378.04 194.5a0.78 0.78 0 1 0 1.56 0a0.78 0.78 0 1 0 -1.56 0M328.41 198.45a0.78 0.78 0 1 0 1.56 0a0.78 0.78 0 1 0 -1.56 0M360.98 200.26a0.78 0.78 0 1 0 1.56 0a0.78 0.78 0 1 0 -1.56 0M358.27 199.3a0.78 0.78 0 1 0 1.56 0a0.78 0.78 0 1 0 -1.56 0M323.49 196.32a0.78 0.78 0 1 0 1.56 0a0.78 0.78 0 1 0 -1.56 0M317.5 201.69a0.78 0.78 0 1 0 1.56 0a0.78 0.78 0 1 0 -1.56 0M353.33 198.17a0.78 0.78 0 1 0 1.56 0a0.78 0.78 0 1 0 -1.56 0M349.46 202.34a0.78 0.78 0 1 0 1.56 0a0.78 0.78 0 1 0 -1.56 0M334.51 194.83a0.78 0.78 0 1 0 1.56 0a0.78 0.78 0 1 0 -1.56 0M341.62 200.99a0.78 0.78 0 1 0 1.56 0a0.78 0.78 0 1 0 -1.56 0M347.92 200.58a0.78 0.78 0 1 0 1.56 0a0.78 0.78 0 1 0 -1.56 0M360.78 200.82a0.78 0.78 0 1 0 1.56 0a0.78 0.78 0 1 0 -1.56 0M344.99 198.57a0.78 0.78 0 1 0 1.56 0a0.78 0.78 0 1 0 -1.56 0M343.84 198.28a0.78 0.78 0 1 0 1.56 0a0.78 0.78 0 1 0 -1.56 0M314.75 193.99a0.78 0.78 0 1 0 1.56 0a0.78 0.78 0 1 0 -1.56 0M348.33 201.56a0.78 0.78 0 1 0 1.56 0a0.78 0.78 0 1 0 -1.56 0M353.08 198.97a0.78 0.78 0 1 0 1.56 0a0.78 0.78 0 1 0 -1.56 0M366.26 195.86a0.78 0.78 0 1 0 1.56 0a0.78 0.78 0 1 0 -1.56 0M352.84 197.41a0.78 0.78 0 1 0 1.56 0a0.78 0.78 0 1 0 -1.56 0M323.78 198.13a0.78 0.78 0 1 0 1.56 0a0.78 0.78 0 1 0 -1.56 0M347.64 194.98a0.78 0.78 0 1 0 1.56 0a0.78 0.78 0 1 0 -1.56 0M329.16 194.81a0.78 0.78 0 1 0 1.56 0a0.78 0.78 0 1 0 -1.56 0M357.08 193.58a0.78 0.78 0 1 0 1.56 0a0.78 0.78 0 1 0 -1.56 0M339.95 202.15a0.78 0.78 0 1 0 1.56 0a0.78 0.78 0 1 0 -1.56 0M336.8 199.09a0.78 0.78 0 1 0 1.56 0a0.78 0.78 0 1 0 -1.56 0M314.95 193.38a0.78 0.78 0 1 0 1.56 0a0.78 0.78 0 1 0 -1.56 0M347.77 194.02a0.78 0.78 0 1 0 1.56 0a0.78 0.78 0 1 0 -1.56 0M366.51 198.06a0.78 0.78 0 1 0 1.56 0a0.78 0.78 0 1 0 -1.56 0M328.9 201.12a0.78 0.78 0 1 0 1.56 0a0.78 0.78 0 1 0 -1.56 0M319.11 199.79a0.78 0.78 0 1 0 1.56 0a0.78 0.78 0 1 0 -1.56 0M366.9 194.95a0.78 0.78 0 1 0 1.56 0a0.78 0.78 0 1 0 -1.56 0M350.97 196.59a0.78 0.78 0 1 0 1.56 0a0.78 0.78 0 1 0 -1.56 0M315.52 200.91a0.78 0.78 0 1 0 1.56 0a0.78 0.78 0 1 0 -1.56 0M365.58 196.18a0.78 0.78 0 1 0 1.56 0a0.78 0.78 0 1 0 -1.56 0M323.69 198.65a0.78 0.78 0 1 0 1.56 0a0.78 0.78 0 1 0 -1.56 0M343.09 198.69a0.78 0.78 0 1 0 1.56 0a0.78 0.78 0 1 0 -1.56 0M319.94 200.36a0.78 0.78 0 1 0 1.56 0a0.78 0.78 0 1 0 -1.56 0M331.88 194.29a0.78 0.78 0 1 0 1.56 0a0.78 0.78 0 1 0 -1.56 0M310.22 199.67a0.78 0.78 0 1 0 1.56 0a0.78 0.78 0 1 0 -1.56 0M344.98 198.58a0.78 0.78 0 1 0 1.56 0a0.78 0.78 0 1 0 -1.56 0M371.55 194.01a0.78 0.78 0 1 0 1.56 0a0.78 0.78 0 1 0 -1.56 0M343.08 195.23a0.78 0.78 0 1 0 1.56 0a0.78 0.78 0 1 0 -1.56 0M354.11 196.39a0.78 0.78 0 1 0 1.56 0a0.78 0.78 0 1 0 -1.56 0M351.44 195.38a0.78 0.78 0 1 0 1.56 0a0.78 0.78 0 1 0 -1.56 0M361.79 194.15a0.78 0.78 0 1 0 1.56 0a0.78 0.78 0 1 0 -1.56 0M374.6 198.94a0.78 0.78 0 1 0 1.56 0a0.78 0.78 0 1 0 -1.56 0M363.79 200.84a0.78 0.78 0 1 0 1.56 0a0.78 0.78 0 1 0 -1.56 0M311.41 196.09a0.78 0.78 0 1 0 1.56 0a0.78 0.78 0 1 0 -1.56 0M363.9 197.67a0.78 0.78 0 1 0 1.56 0a0.78 0.78 0 1 0 -1.56 0M349.41 199.04a0.78 0.78 0 1 0 1.56 0a0.78 0.78 0 1 0 -1.56 0M331.1 195.12a0.78 0.78 0 1 0 1.56 0a0.78 0.78 0 1 0 -1.56 0M312.94 194.41a0.78 0.78 0 1 0 1.56 0a0.78 0.78 0 1 0 -1.56 0M344.87 202.72a0.78 0.78 0 1 0 1.56 0a0.78 0.78 0 1 0 -1.56 0M336.09 195.17a0.78 0.78 0 1 0 1.56 0a0.78 0.78 0 1 0 -1.56 0M315.88 197.86a0.78 0.78 0 1 0 1.56 0a0.78 0.78 0 1 0 -1.56 0M311.8 197.19a0.78 0.78 0 1 0 1.56 0a0.78 0.78 0 1 0 -1.56 0M355.8 201.76a0.78 0.78 0 1 0 1.56 0a0.78 0.78 0 1 0 -1.56 0M314.91 200.9a0.78 0.78 0 1 0 1.56 0a0.78 0.78 0 1 0 -1.56 0M323.75 202.11a0.78 0.78 0 1 0 1.56 0a0.78 0.78 0 1 0 -1.56 0M324.6 201.52a0.78 0.78 0 1 0 1.56 0a0.78 0.78 0 1 0 -1.56 0M345.75 196.04a0.78 0.78 0 1 0 1.56 0a0.78 0.78 0 1 0 -1.56 0M354.63 198.19a0.78 0.78 0 1 0 1.56 0a0.78 0.78 0 1 0 -1.56 0M368.99 199.26a0.78 0.78 0 1 0 1.56 0a0.78 0.78 0 1 0 -1.56 0M351.98 193.55a0.78 0.78 0 1 0 1.56 0a0.78 0.78 0 1 0 -1.56 0M325.54 200.19a0.78 0.78 0 1 0 1.56 0a0.78 0.78 0 1 0 -1.56 0M381.62 200.25a0.78 0.78 0 1 0 1.56 0a0.78 0.78 0 1 0 -1.56 0M374.02 194.64a0.78 0.78 0 1 0 1.56 0a0.78 0.78 0 1 0 -1.56 0M319.64 195.39a0.78 0.78 0 1 0 1.56 0a0.78 0.78 0 1 0 -1.56 0M352.41 197.54a0.78 0.78 0 1 0 1.56 0a0.78 0.78 0 1 0 -1.56 0M324.39 198.08a0.78 0.78 0 1 0 1.56 0a0.78 0.78 0 1 0 -1.56 0M333.46 202.08a0.78 0.78 0 1 0 1.56 0a0.78 0.78 0 1 0 -1.56 0M309.42 193.23a0.78 0.78 0 1 0 1.56 0a0.78 0.78 0 1 0 -1.56 0M354.08 202.19a0.78 0.78 0 1 0 1.56 0a0.78 0.78 0 1 0 -1.56 0M322.84 202.05a0.78 0.78 0 1 0 1.56 0a0.78 0.78 0 1 0 -1.56 0M323.82 196.59a0.78 0.78 0 1 0 1.56 0a0.78 0.78 0 1 0 -1.56 0M335.51 200.41a0.78 0.78 0 1 0 1.56 0a0.78 0.78 0 1 0 -1.56 0M335.54 202.21a0.78 0.78 0 1 0 1.56 0a0.78 0.78 0 1 0 -1.56 0M379.77 199.53a0.78 0.78 0 1 0 1.56 0a0.78 0.78 0 1 0 -1.56 0M343.5 202.57a0.78 0.78 0 1 0 1.56 0a0.78 0.78 0 1 0 -1.56 0M350.16 194.04a0.78 0.78 0 1 0 1.56 0a0.78 0.78 0 1 0 -1.56 0M341.85 202.32a0.78 0.78 0 1 0 1.56 0a0.78 0.78 0 1 0 -1.56 0M346.57 196.98a0.78 0.78 0 1 0 1.56 0a0.78 0.78 0 1 0 -1.56 0M350.64 198.92a0.78 0.78 0 1 0 1.56 0a0.78 0.78 0 1 0 -1.56 0M369.21 201.59a0.78 0.78 0 1 0 1.56 0a0.78 0.78 0 1 0 -1.56 0M376.72 197.18a0.78 0.78 0 1 0 1.56 0a0.78 0.78 0 1 0 -1.56 0M375.58 199.88a0.78 0.78 0 1 0 1.56 0a0.78 0.78 0 1 0 -1.56 0M349.79 202.59a0.78 0.78 0 1 0 1.56 0a0.78 0.78 0 1 0 -1.56 0M381.05 200.11a0.78 0.78 0 1 0 1.56 0a0.78 0.78 0 1 0 -1.56 0M367.39 197.53a0.78 0.78 0 1 0 1.56 0a0.78 0.78 0 1 0 -1.56 0M363.87 196.49a0.78 0.78 0 1 0 1.56 0a0.78 0.78 0 1 0 -1.56 0M364.17 195.46a0.78 0.78 0 1 0 1.56 0a0.78 0.78 0 1 0 -1.56 0M345.31 201.04a0.78 0.78 0 1 0 1.56 0a0.78 0.78 0 1 0 -1.56 0M327.79 198.66a0.78 0.78 0 1 0 1.56 0a0.78 0.78 0 1 0 -1.56 0M316.24 200.83a0.78 0.78 0 1 0 1.56 0a0.78 0.78 0 1 0 -1.56 0M324.13 196.1a0.78 0.78 0 1 0 1.56 0a0.78 0.78 0 1 0 -1.56 0M383.25 200.21a0.78 0.78 0 1 0 1.56 0a0.78 0.78 0 1 0 -1.56 0M333.7 198.97a0.78 0.78 0 1 0 1.56 0a0.78 0.78 0 1 0 -1.56 0M317.81 200.33a0.78 0.78 0 1 0 1.56 0a0.78 0.78 0 1 0 -1.56 0M355.24 202.35a0.78 0.78 0 1 0 1.56 0a0.78 0.78 0 1 0 -1.56 0M375.51 199.76a0.78 0.78 0 1 0 1.56 0a0.78 0.78 0 1 0 -1.56 0M316.36 193.37a0.78 0.78 0 1 0 1.56 0a0.78 0.78 0 1 0 -1.56 0M365.72 201.8a0.78 0.78 0 1 0 1.56 0a0.78 0.78 0 1 0 -1.56 0M325.48 193.23a0.78 0.78 0 1 0 1.56 0a0.78 0.78 0 1 0 -1.56 0M319.85 201.57a0.78 0.78 0 1 0 1.56 0a0.78 0.78 0 1 0 -1.56 0M375.19 195.66a0.78 0.78 0 1 0 1.56 0a0.78 0.78 0 1 0 -1.56 0M331.56 202.42a0.78 0.78 0 1 0 1.56 0a0.78 0.78 0 1 0 -1.56 0M343.48 201.64a0.78 0.78 0 1 0 1.56 0a0.78 0.78 0 1 0 -1.56 0M308.89 199.46a0.78 0.78 0 1 0 1.56 0a0.78 0.78 0 1 0 -1.56 0M347.21 201.92a0.78 0.78 0 1 0 1.56 0a0.78 0.78 0 1 0 -1.56 0M365.52 195.28a0.78 0.78 0 1 0 1.56 0a0.78 0.78 0 1 0 -1.56 0M338.21 202.3a0.78 0.78 0 1 0 1.56 0a0.78 0.78 0 1 0 -1.56 0M363.75 195.68a0.78 0.78 0 1 0 1.56 0a0.78 0.78 0 1 0 -1.56 0M330.29 201.24a0.78 0.78 0 1 0 1.56 0a0.78 0.78 0 1 0 -1.56 0M373.09 195.94a0.78 0.78 0 1 0 1.56 0a0.78 0.78 0 1 0 -1.56 0M324.04 200.6a0.78 0.78 0 1 0 1.56 0a0.78 0.78 0 1 0 -1.56 0M373.83 200.54a0.78 0.78 0 1 0 1.56 0a0.78 0.78 0 1 0 -1.56 0M318.24 196.31a0.78 0.78 0 1 0 1.56 0a0.78 0.78 0 1 0 -1.56 0M311.62 199.06a0.78 0.78 0 1 0 1.56 0a0.78 0.78 0 1 0 -1.56 0M370.61 196.76a0.78 0.78 0 1 0 1.56 0a0.78 0.78 0 1 0 -1.56 0M376.22 201.35a0.78 0.78 0 1 0 1.56 0a0.78 0.78 0 1 0 -1.56 0M359.32 200.03a0.78 0.78 0 1 0 1.56 0a0.78 0.78 0 1 0 -1.56 0M332.23 200.48a0.78 0.78 0 1 0 1.56 0a0.78 0.78 0 1 0 -1.56 0M345.59 198.6a0.78 0.78 0 1 0 1.56 0a0.78 0.78 0 1 0 -1.56 0M376.8 200.59a0.78 0.78 0 1 0 1.56 0a0.78 0.78 0 1 0 -1.56 0M368.62 196.76a0.78 0.78 0 1 0 1.56 0a0.78 0.78 0 1 0 -1.56 0M335.84 198.04a0.78 0.78 0 1 0 1.56 0a0.78 0.78 0 1 0 -1.56 0M366.74 195.76a0.78 0.78 0 1 0 1.56 0a0.78 0.78 0 1 0 -1.56 0M348.65 202.21a0.78 0.78 0 1 0 1.56 0a0.78 0.78 0 1 0 -1.56 0M374.19 200.11a0.78 0.78 0 1 0 1.56 0a0.78 0.78 0 1 0 -1.56 0M376.18 193.98a0.78 0.78 0 1 0 1.56 0a0.78 0.78 0 1 0 -1.56 0M365.05 201.71a0.78 0.78 0 1 0 1.56 0a0.78 0.78 0 1 0 -1.56 0M371.42 201.4a0.78 0.78 0 1 0 1.56 0a0.78 0.78 0 1 0 -1.56 0M334.76 201.34a0.78 0.78 0 1 0 1.56 0a0.78 0.78 0 1 0 -1.56 0M373.28 197.57a0.78 0.78 0 1 0 1.56 0a0.78 0.78 0 1 0 -1.56 0M359.94 196.88a0.78 0.78 0 1 0 1.56 0a0.78 0.78 0 1 0 -1.56 0M325.64 202.19a0.78 0.78 0 1 0 1.56 0a0.78 0.78 0 1 0 -1.56 0M322.05 198.12a0.78 0.78 0 1 0 1.56 0a0.78 0.78 0 1 0 -1.56 0M335.93 196.87a0.78 0.78 0 1 0 1.56 0a0.78 0.78 0 1 0 -1.56 0M336.54 199.01a0.78 0.78 0 1 0 1.56 0a0.78 0.78 0 1 0 -1.56 0M337.12 198.26a0.78 0.78 0 1 0 1.56 0a0.78 0.78 0 1 0 -1.56 0M356.66 193.28a0.78 0.78 0 1 0 1.56 0a0.78 0.78 0 1 0 -1.56 0M368.38 200.35a0.78 0.78 0 1 0 1.56 0a0.78 0.78 0 1 0 -1.56 0M364.69 199.48a0.78 0.78 0 1 0 1.56 0a0.78 0.78 0 1 0 -1.56 0M343.91 199.58a0.78 0.78 0 1 0 1.56 0a0.78 0.78 0 1 0 -1.56 0M358.62 198.46a0.78 0.78 0 1 0 1.56 0a0.78 0.78 0 1 0 -1.56 0M378.29 198.96a0.78 0.78 0 1 0 1.56 0a0.78 0.78 0 1 0 -1.56 0M349.12 197.49a0.78 0.78 0 1 0 1.56 0a0.78 0.78 0 1 0 -1.56 0M333.19 201.63a0.78 0.78 0 1 0 1.56 0a0.78 0.78 0 1 0 -1.56 0M343.98 193.62a0.78 0.78 0 1 0 1.56 0a0.78 0.78 0 1 0 -1.56 0M368.87 194.79a0.78 0.78 0 1 0 1.56 0a0.78 0.78 0 1 0 -1.56 0M360.94 194.69a0.78 0.78 0 1 0 1.56 0a0.78 0.78 0 1 0 -1.56 0M313.54 195.36a0.78 0.78 0 1 0 1.56 0a0.78 0.78 0 1 0 -1.56 0M336.84 198.55a0.78 0.78 0 1 0 1.56 0a0.78 0.78 0 1 0 -1.56 0M372.34 197.51a0.78 0.78 0 1 0 1.56 0a0.78 0.78 0 1 0 -1.56 0M351.67 195.17a0.78 0.78 0 1 0 1.56 0a0.78 0.78 0 1 0 -1.56 0M371.64 198.9a0.78 0.78 0 1 0 1.56 0a0.78 0.78 0 1 0 -1.56 0M345.56 202.38a0.78 0.78 0 1 0 1.56 0a0.78 0.78 0 1 0 -1.56 0M333.82 194.24a0.78 0.78 0 1 0 1.56 0a0.78 0.78 0 1 0 -1.56 0M382.3 198.25a0.78 0.78 0 1 0 1.56 0a0.78 0.78 0 1 0 -1.56 0M320.78 199.99a0.78 0.78 0 1 0 1.56 0a0.78 0.78 0 1 0 -1.56 0M341.65 197.34a0.78 0.78 0 1 0 1.56 0a0.78 0.78 0 1 0 -1.56 0M325.59 198.08a0.78 0.78 0 1 0 1.56 0a0.78 0.78 0 1 0 -1.56 0M349.02 195.55a0.78 0.78 0 1 0 1.56 0a0.78 0.78 0 1 0 -1.56 0M375.89 196.89a0.78 0.78 0 1 0 1.56 0a0.78 0.78 0 1 0 -1.56 0M365.75 201.35a0.78 0.78 0 1 0 1.56 0a0.78 0.78 0 1 0 -1.56 0M342.59 201.71a0.78 0.78 0 1 0 1.56 0a0.78 0.78 0 1 0 -1.56 0M357.72 201.64a0.78 0.78 0 1 0 1.56 0a0.78 0.78 0 1 0 -1.56 0M342.48 197.66a0.78 0.78 0 1 0 1.56 0a0.78 0.78 0 1 0 -1.56 0M332.36 197.26a0.78 0.78 0 1 0 1.56 0a0.78 0.78 0 1 0 -1.56 0M362.8 199.16a0.78 0.78 0 1 0 1.56 0a0.78 0.78 0 1 0 -1.56 0M327.87 198.34a0.78 0.78 0 1 0 1.56 0a0.78 0.78 0 1 0 -1.56 0M378.2 198.02a0.78 0.78 0 1 0 1.56 0a0.78 0.78 0 1 0 -1.56 0M385.11 198.47a0.78 0.78 0 1 0 1.56 0a0.78 0.78 0 1 0 -1.56 0M344.62 196a0.78 0.78 0 1 0 1.56 0a0.78 0.78 0 1 0 -1.56 0M347.61 194.52a0.78 0.78 0 1 0 1.56 0a0.78 0.78 0 1 0 -1.56 0M333.19 198.95a0.78 0.78 0 1 0 1.56 0a0.78 0.78 0 1 0 -1.56 0M346.22 200.96a0.78 0.78 0 1 0 1.56 0a0.78 0.78 0 1 0 -1.56 0M355.62 193.86a0.78 0.78 0 1 0 1.56 0a0.78 0.78 0 1 0 -1.56 0M330.01 193.09a0.78 0.78 0 1 0 1.56 0a0.78 0.78 0 1 0 -1.56 0M345.3 189.67a0.78 0.78 0 1 0 1.56 0a0.78 0.78 0 1 0 -1.56 0M320.1 193.95a0.78 0.78 0 1 0 1.56 0a0.78 0.78 0 1 0 -1.56 0M329.8 189.09a0.78 0.78 0 1 0 1.56 0a0.78 0.78 0 1 0 -1.56 0M346.87 193.31a0.78 0.78 0 1 0 1.56 0a0.78 0.78 0 1 0 -1.56 0M393.07 194.06a0.78 0.78 0 1 0 1.56 0a0.78 0.78 0 1 0 -1.56 0M331.89 190.09a0.78 0.78 0 1 0 1.56 0a0.78 0.78 0 1 0 -1.56 0M368.44 188.72a0.78 0.78 0 1 0 1.56 0a0.78 0.78 0 1 0 -1.56 0M357.12 189.72a0.78 0.78 0 1 0 1.56 0a0.78 0.78 0 1 0 -1.56 0M376.85 190.55a0.78 0.78 0 1 0 1.56 0a0.78 0.78 0 1 0 -1.56 0M302.32 189.78a0.78 0.78 0 1 0 1.56 0a0.78 0.78 0 1 0 -1.56 0M373.38 190.4a0.78 0.78 0 1 0 1.56 0a0.78 0.78 0 1 0 -1.56 0M346.55 190.74a0.78 0.78 0 1 0 1.56 0a0.78 0.78 0 1 0 -1.56 0M329.02 187.76a0.78 0.78 0 1 0 1.56 0a0.78 0.78 0 1 0 -1.56 0M381.22 191.9a0.78 0.78 0 1 0 1.56 0a0.78 0.78 0 1 0 -1.56 0M363.64 192.64a0.78 0.78 0 1 0 1.56 0a0.78 0.78 0 1 0 -1.56 0M351.59 195.93a0.78 0.78 0 1 0 1.56 0a0.78 0.78 0 1 0 -1.56 0M363.77 193.42a0.78 0.78 0 1 0 1.56 0a0.78 0.78 0 1 0 -1.56 0M318.27 191.04a0.78 0.78 0 1 0 1.56 0a0.78 0.78 0 1 0 -1.56 0M378.28 187.94a0.78 0.78 0 1 0 1.56 0a0.78 0.78 0 1 0 -1.56 0M334.4 195.83a0.78 0.78 0 1 0 1.56 0a0.78 0.78 0 1 0 -1.56 0M368.7 193.86a0.78 0.78 0 1 0 1.56 0a0.78 0.78 0 1 0 -1.56 0M367.87 190.94a0.78 0.78 0 1 0 1.56 0a0.78 0.78 0 1 0 -1.56 0M375.27 189.59a0.78 0.78 0 1 0 1.56 0a0.78 0.78 0 1 0 -1.56 0M346.09 188.27a0.78 0.78 0 1 0 1.56 0a0.78 0.78 0 1 0 -1.56 0M371.21 192.78a0.78 0.78 0 1 0 1.56 0a0.78 0.78 0 1 0 -1.56 0M366.53 188.12a0.78 0.78 0 1 0 1.56 0a0.78 0.78 0 1 0 -1.56 0M328.06 192.31a0.78 0.78 0 1 0 1.56 0a0.78 0.78 0 1 0 -1.56 0M348.21 186.8a0.78 0.78 0 1 0 1.56 0a0.78 0.78 0 1 0 -1.56 0M380.24 195.74a0.78 0.78 0 1 0 1.56 0a0.78 0.78 0 1 0 -1.56 0M316.53 186.79a0.78 0.78 0 1 0 1.56 0a0.78 0.78 0 1 0 -1.56 0M365.14 195.73a0.78 0.78 0 1 0 1.56 0a0.78 0.78 0 1 0 -1.56 0M325.99 189.89a0.78 0.78 0 1 0 1.56 0a0.78 0.78 0 1 0 -1.56 0M320.02 193.46a0.78 0.78 0 1 0 1.56 0a0.78 0.78 0 1 0 -1.56 0M377.88 188.95a0.78 0.78 0 1 0 1.56 0a0.78 0.78 0 1 0 -1.56 0M344.27 189.83a0.78 0.78 0 1 0 1.56 0a0.78 0.78 0 1 0 -1.56 0M381.82 192.69a0.78 0.78 0 1 0 1.56 0a0.78 0.78 0 1 0 -1.56 0M352.41 189.89a0.78 0.78 0 1 0 1.56 0a0.78 0.78 0 1 0 -1.56 0M367.29 192.5a0.78 0.78 0 1 0 1.56 0a0.78 0.78 0 1 0 -1.56 0M311.65 195.49a0.78 0.78 0 1 0 1.56 0a0.78 0.78 0 1 0 -1.56 0M316.27 187.09a0.78 0.78 0 1 0 1.56 0a0.78 0.78 0 1 0 -1.56 0M346.8 193.89a0.78 0.78 0 1 0 1.56 0a0.78 0.78 0 1 0 -1.56 0M321.65 193.33a0.78 0.78 0 1 0 1.56 0a0.78 0.78 0 1 0 -1.56 0M335.09 193.09a0.78 0.78 0 1 0 1.56 0a0.78 0.78 0 1 0 -1.56 0M322.17 192.58a0.78 0.78 0 1 0 1.56 0a0.78 0.78 0 1 0 -1.56 0M393.38 192.05a0.78 0.78 0 1 0 1.56 0a0.78 0.78 0 1 0 -1.56 0M346.97 190.26a0.78 0.78 0 1 0 1.56 0a0.78 0.78 0 1 0 -1.56 0M309.85 192.97a0.78 0.78 0 1 0 1.56 0a0.78 0.78 0 1 0 -1.56 0M310.01 190.17a0.78 0.78 0 1 0 1.56 0a0.78 0.78 0 1 0 -1.56 0M326.33 188.37a0.78 0.78 0 1 0 1.56 0a0.78 0.78 0 1 0 -1.56 0M359.92 193.92a0.78 0.78 0 1 0 1.56 0a0.78 0.78 0 1 0 -1.56 0M363.39 191.84a0.78 0.78 0 1 0 1.56 0a0.78 0.78 0 1 0 -1.56 0M310.34 191.59a0.78 0.78 0 1 0 1.56 0a0.78 0.78 0 1 0 -1.56 0M361.89 192.03a0.78 0.78 0 1 0 1.56 0a0.78 0.78 0 1 0 -1.56 0M385.61 187.04a0.78 0.78 0 1 0 1.56 0a0.78 0.78 0 1 0 -1.56 0M361.18 195.93a0.78 0.78 0 1 0 1.56 0a0.78 0.78 0 1 0 -1.56 0M359.37 196a0.78 0.78 0 1 0 1.56 0a0.78 0.78 0 1 0 -1.56 0M356.71 187.24a0.78 0.78 0 1 0 1.56 0a0.78 0.78 0 1 0 -1.56 0M325.08 188.63a0.78 0.78 0 1 0 1.56 0a0.78 0.78 0 1 0 -1.56 0M377.03 195.14a0.78 0.78 0 1 0 1.56 0a0.78 0.78 0 1 0 -1.56 0M381.94 190.72a0.78 0.78 0 1 0 1.56 0a0.78 0.78 0 1 0 -1.56 0M367.11 191.53a0.78 0.78 0 1 0 1.56 0a0.78 0.78 0 1 0 -1.56 0M380.55 192.85a0.78 0.78 0 1 0 1.56 0a0.78 0.78 0 1 0 -1.56 0M360.5 189.67a0.78 0.78 0 1 0 1.56 0a0.78 0.78 0 1 0 -1.56 0M303.29 188.69a0.78 0.78 0 1 0 1.56 0a0.78 0.78 0 1 0 -1.56 0M325.43 191.93a0.78 0.78 0 1 0 1.56 0a0.78 0.78 0 1 0 -1.56 0M305.09 189.22a0.78 0.78 0 1 0 1.56 0a0.78 0.78 0 1 0 -1.56 0M319.44 191.16a0.78 0.78 0 1 0 1.56 0a0.78 0.78 0 1 0 -1.56 0M319.84 191.7a0.78 0.78 0 1 0 1.56 0a0.78 0.78 0 1 0 -1.56 0M374.48 187.46a0.78 0.78 0 1 0 1.56 0a0.78 0.78 0 1 0 -1.56 0M370.93 193.17a0.78 0.78 0 1 0 1.56 0a0.78 0.78 0 1 0 -1.56 0M360.17 188.65a0.78 0.78 0 1 0 1.56 0a0.78 0.78 0 1 0 -1.56 0M375.39 193.37a0.78 0.78 0 1 0 1.56 0a0.78 0.78 0 1 0 -1.56 0M385.8 192.37a0.78 0.78 0 1 0 1.56 0a0.78 0.78 0 1 0 -1.56 0M361.33 189.17a0.78 0.78 0 1 0 1.56 0a0.78 0.78 0 1 0 -1.56 0M359.79 192.05a0.78 0.78 0 1 0 1.56 0a0.78 0.78 0 1 0 -1.56 0M325.8 192.13a0.78 0.78 0 1 0 1.56 0a0.78 0.78 0 1 0 -1.56 0M370.73 193.18a0.78 0.78 0 1 0 1.56 0a0.78 0.78 0 1 0 -1.56 0M351.79 193.64a0.78 0.78 0 1 0 1.56 0a0.78 0.78 0 1 0 -1.56 0M375.33 189.98a0.78 0.78 0 1 0 1.56 0a0.78 0.78 0 1 0 -1.56 0M349.89 190.91a0.78 0.78 0 1 0 1.56 0a0.78 0.78 0 1 0 -1.56 0M329.01 189.04a0.78 0.78 0 1 0 1.56 0a0.78 0.78 0 1 0 -1.56 0M309.63 192.47a0.78 0.78 0 1 0 1.56 0a0.78 0.78 0 1 0 -1.56 0M377.73 187.47a0.78 0.78 0 1 0 1.56 0a0.78 0.78 0 1 0 -1.56 0M302.97 190.39a0.78 0.78 0 1 0 1.56 0a0.78 0.78 0 1 0 -1.56 0M314.43 190.61a0.78 0.78 0 1 0 1.56 0a0.78 0.78 0 1 0 -1.56 0M346.95 188.06a0.78 0.78 0 1 0 1.56 0a0.78 0.78 0 1 0 -1.56 0M329.47 195.65a0.78 0.78 0 1 0 1.56 0a0.78 0.78 0 1 0 -1.56 0M328.8 191.03a0.78 0.78 0 1 0 1.56 0a0.78 0.78 0 1 0 -1.56 0M349.18 193.28a0.78 0.78 0 1 0 1.56 0a0.78 0.78 0 1 0 -1.56 0M313.76 189.7a0.78 0.78 0 1 0 1.56 0a0.78 0.78 0 1 0 -1.56 0M347.06 195.55a0.78 0.78 0 1 0 1.56 0a0.78 0.78 0 1 0 -1.56 0M348.54 192.15a0.78 0.78 0 1 0 1.56 0a0.78 0.78 0 1 0 -1.56 0M336.08 192.69a0.78 0.78 0 1 0 1.56 0a0.78 0.78 0 1 0 -1.56 0M372.1 189.83a0.78 0.78 0 1 0 1.56 0a0.78 0.78 0 1 0 -1.56 0M361.73 188.13a0.78 0.78 0 1 0 1.56 0a0.78 0.78 0 1 0 -1.56 0M323.23 189.61a0.78 0.78 0 1 0 1.56 0a0.78 0.78 0 1 0 -1.56 0M358.78 191.93a0.78 0.78 0 1 0 1.56 0a0.78 0.78 0 1 0 -1.56 0M331.13 192.67a0.78 0.78 0 1 0 1.56 0a0.78 0.78 0 1 0 -1.56 0M350.06 191.51a0.78 0.78 0 1 0 1.56 0a0.78 0.78 0 1 0 -1.56 0M316.26 194.91a0.78 0.78 0 1 0 1.56 0a0.78 0.78 0 1 0 -1.56 0M350.05 189.92a0.78 0.78 0 1 0 1.56 0a0.78 0.78 0 1 0 -1.56 0M351.92 193.83a0.78 0.78 0 1 0 1.56 0a0.78 0.78 0 1 0 -1.56 0M326.36 187.61a0.78 0.78 0 1 0 1.56 0a0.78 0.78 0 1 0 -1.56 0M350.81 191.67a0.78 0.78 0 1 0 1.56 0a0.78 0.78 0 1 0 -1.56 0M344.7 192.29a0.78 0.78 0 1 0 1.56 0a0.78 0.78 0 1 0 -1.56 0M384.15 189a0.78 0.78 0 1 0 1.56 0a0.78 0.78 0 1 0 -1.56 0M329.48 190.38a0.78 0.78 0 1 0 1.56 0a0.78 0.78 0 1 0 -1.56 0M359.71 195.27a0.78 0.78 0 1 0 1.56 0a0.78 0.78 0 1 0 -1.56 0M311.92 188.56a0.78 0.78 0 1 0 1.56 0a0.78 0.78 0 1 0 -1.56 0M317.94 190.48a0.78 0.78 0 1 0 1.56 0a0.78 0.78 0 1 0 -1.56 0M385.09 188.31a0.78 0.78 0 1 0 1.56 0a0.78 0.78 0 1 0 -1.56 0M319.22 190.89a0.78 0.78 0 1 0 1.56 0a0.78 0.78 0 1 0 -1.56 0M348.46 187.96a0.78 0.78 0 1 0 1.56 0a0.78 0.78 0 1 0 -1.56 0M380.78 190.15a0.78 0.78 0 1 0 1.56 0a0.78 0.78 0 1 0 -1.56 0M342.73 192.87a0.78 0.78 0 1 0 1.56 0a0.78 0.78 0 1 0 -1.56 0M313.92 195.73a0.78 0.78 0 1 0 1.56 0a0.78 0.78 0 1 0 -1.56 0M332.57 190.92a0.78 0.78 0 1 0 1.56 0a0.78 0.78 0 1 0 -1.56 0M365.45 195.89a0.78 0.78 0 1 0 1.56 0a0.78 0.78 0 1 0 -1.56 0M353.71 195.14a0.78 0.78 0 1 0 1.56 0a0.78 0.78 0 1 0 -1.56 0M333.52 192.23a0.78 0.78 0 1 0 1.56 0a0.78 0.78 0 1 0 -1.56 0M320.89 194.46a0.78 0.78 0 1 0 1.56 0a0.78 0.78 0 1 0 -1.56 0M381.69 187.62a0.78 0.78 0 1 0 1.56 0a0.78 0.78 0 1 0 -1.56 0M310.51 187.57a0.78 0.78 0 1 0 1.56 0a0.78 0.78 0 1 0 -1.56 0M363.88 191.19a0.78 0.78 0 1 0 1.56 0a0.78 0.78 0 1 0 -1.56 0M360.74 193.6a0.78 0.78 0 1 0 1.56 0a0.78 0.78 0 1 0 -1.56 0M331.37 194.68a0.78 0.78 0 1 0 1.56 0a0.78 0.78 0 1 0 -1.56 0M356.81 192.69a0.78 0.78 0 1 0 1.56 0a0.78 0.78 0 1 0 -1.56 0M378.04 195.01a0.78 0.78 0 1 0 1.56 0a0.78 0.78 0 1 0 -1.56 0M327.87 187.08a0.78 0.78 0 1 0 1.56 0a0.78 0.78 0 1 0 -1.56 0M372.72 188.16a0.78 0.78 0 1 0 1.56 0a0.78 0.78 0 1 0 -1.56 0M380.1 195.78a0.78 0.78 0 1 0 1.56 0a0.78 0.78 0 1 0 -1.56 0M380.43 194.28a0.78 0.78 0 1 0 1.56 0a0.78 0.78 0 1 0 -1.56 0M373.38 187.62a0.78 0.78 0 1 0 1.56 0a0.78 0.78 0 1 0 -1.56 0M375.61 188.37a0.78 0.78 0 1 0 1.56 0a0.78 0.78 0 1 0 -1.56 0M313.71 187.19a0.78 0.78 0 1 0 1.56 0a0.78 0.78 0 1 0 -1.56 0M319.99 191.27a0.78 0.78 0 1 0 1.56 0a0.78 0.78 0 1 0 -1.56 0M356.52 187.61a0.78 0.78 0 1 0 1.56 0a0.78 0.78 0 1 0 -1.56 0M371.26 187.69a0.78 0.78 0 1 0 1.56 0a0.78 0.78 0 1 0 -1.56 0M369.95 195.59a0.78 0.78 0 1 0 1.56 0a0.78 0.78 0 1 0 -1.56 0M358.91 192.36a0.78 0.78 0 1 0 1.56 0a0.78 0.78 0 1 0 -1.56 0M386.37 191.8a0.78 0.78 0 1 0 1.56 0a0.78 0.78 0 1 0 -1.56 0M334.89 189.81a0.78 0.78 0 1 0 1.56 0a0.78 0.78 0 1 0 -1.56 0M309.18 194.45a0.78 0.78 0 1 0 1.56 0a0.78 0.78 0 1 0 -1.56 0M324.57 189.38a0.78 0.78 0 1 0 1.56 0a0.78 0.78 0 1 0 -1.56 0M332.89 191.71a0.78 0.78 0 1 0 1.56 0a0.78 0.78 0 1 0 -1.56 0M320.45 195.07a0.78 0.78 0 1 0 1.56 0a0.78 0.78 0 1 0 -1.56 0M351.47 187.2a0.78 0.78 0 1 0 1.56 0a0.78 0.78 0 1 0 -1.56 0M314.12 194.13a0.78 0.78 0 1 0 1.56 0a0.78 0.78 0 1 0 -1.56 0M370.16 190.21a0.78 0.78 0 1 0 1.56 0a0.78 0.78 0 1 0 -1.56 0M320.36 188.14a0.78 0.78 0 1 0 1.56 0a0.78 0.78 0 1 0 -1.56 0M353.17 192.86a0.78 0.78 0 1 0 1.56 0a0.78 0.78 0 1 0 -1.56 0M363.53 195.98a0.78 0.78 0 1 0 1.56 0a0.78 0.78 0 1 0 -1.56 0M321.38 195.51a0.78 0.78 0 1 0 1.56 0a0.78 0.78 0 1 0 -1.56 0M306.14 194.15a0.78 0.78 0 1 0 1.56 0a0.78 0.78 0 1 0 -1.56 0M336.52 193.01a0.78 0.78 0 1 0 1.56 0a0.78 0.78 0 1 0 -1.56 0M381.47 188.03a0.78 0.78 0 1 0 1.56 0a0.78 0.78 0 1 0 -1.56 0M371.17 194.74a0.78 0.78 0 1 0 1.56 0a0.78 0.78 0 1 0 -1.56 0M346.87 187.55a0.78 0.78 0 1 0 1.56 0a0.78 0.78 0 1 0 -1.56 0M317.19 194.89a0.78 0.78 0 1 0 1.56 0a0.78 0.78 0 1 0 -1.56 0M324.72 189.06a0.78 0.78 0 1 0 1.56 0a0.78 0.78 0 1 0 -1.56 0M314.74 195.76a0.78 0.78 0 1 0 1.56 0a0.78 0.78 0 1 0 -1.56 0M365.27 191.03a0.78 0.78 0 1 0 1.56 0a0.78 0.78 0 1 0 -1.56 0M344.95 190.38a0.78 0.78 0 1 0 1.56 0a0.78 0.78 0 1 0 -1.56 0M309.1 192.09a0.78 0.78 0 1 0 1.56 0a0.78 0.78 0 1 0 -1.56 0M308.73 190.7a0.78 0.78 0 1 0 1.56 0a0.78 0.78 0 1 0 -1.56 0M357.06 187.01a0.78 0.78 0 1 0 1.56 0a0.78 0.78 0 1 0 -1.56 0M360.23 191.69a0.78 0.78 0 1 0 1.56 0a0.78 0.78 0 1 0 -1.56 0M351.67 191.1a0.78 0.78 0 1 0 1.56 0a0.78 0.78 0 1 0 -1.56 0M332.72 193.27a0.78 0.78 0 1 0 1.56 0a0.78 0.78 0 1 0 -1.56 0M316.6 192.28a0.78 0.78 0 1 0 1.56 0a0.78 0.78 0 1 0 -1.56 0M369.97 189.58a0.78 0.78 0 1 0 1.56 0a0.78 0.78 0 1 0 -1.56 0M326.3 195.8a0.78 0.78 0 1 0 1.56 0a0.78 0.78 0 1 0 -1.56 0M360.61 189.68a0.78 0.78 0 1 0 1.56 0a0.78 0.78 0 1 0 -1.56 0M385.75 186.92a0.78 0.78 0 1 0 1.56 0a0.78 0.78 0 1 0 -1.56 0M326.36 191.08a0.78 0.78 0 1 0 1.56 0a0.78 0.78 0 1 0 -1.56 0M345.13 187.62a0.78 0.78 0 1 0 1.56 0a0.78 0.78 0 1 0 -1.56 0M372.59 192.41a0.78 0.78 0 1 0 1.56 0a0.78 0.78 0 1 0 -1.56 0M310.71 189.29a0.78 0.78 0 1 0 1.56 0a0.78 0.78 0 1 0 -1.56 0M344.45 195.82a0.78 0.78 0 1 0 1.56 0a0.78 0.78 0 1 0 -1.56 0M350.37 188.35a0.78 0.78 0 1 0 1.56 0a0.78 0.78 0 1 0 -1.56 0M330.54 195.88a0.78 0.78 0 1 0 1.56 0a0.78 0.78 0 1 0 -1.56 0M328.01 187.72a0.78 0.78 0 1 0 1.56 0a0.78 0.78 0 1 0 -1.56 0M353.88 192.21a0.78 0.78 0 1 0 1.56 0a0.78 0.78 0 1 0 -1.56 0M319.27 193.77a0.78 0.78 0 1 0 1.56 0a0.78 0.78 0 1 0 -1.56 0M381.2 195.47a0.78 0.78 0 1 0 1.56 0a0.78 0.78 0 1 0 -1.56 0M316.58 192.36a0.78 0.78 0 1 0 1.56 0a0.78 0.78 0 1 0 -1.56 0M359.88 194.28a0.78 0.78 0 1 0 1.56 0a0.78 0.78 0 1 0 -1.56 0M317.24 192.15a0.78 0.78 0 1 0 1.56 0a0.78 0.78 0 1 0 -1.56 0M331.55 187.74a0.78 0.78 0 1 0 1.56 0a0.78 0.78 0 1 0 -1.56 0M311.74 187.42a0.78 0.78 0 1 0 1.56 0a0.78 0.78 0 1 0 -1.56 0M325.75 189.5a0.78 0.78 0 1 0 1.56 0a0.78 0.78 0 1 0 -1.56 0M365.57 188.6a0.78 0.78 0 1 0 1.56 0a0.78 0.78 0 1 0 -1.56 0M313.78 189.48a0.78 0.78 0 1 0 1.56 0a0.78 0.78 0 1 0 -1.56 0M332.07 193.47a0.78 0.78 0 1 0 1.56 0a0.78 0.78 0 1 0 -1.56 0M379.22 192.11a0.78 0.78 0 1 0 1.56 0a0.78 0.78 0 1 0 -1.56 0M366.81 191.82a0.78 0.78 0 1 0 1.56 0a0.78 0.78 0 1 0 -1.56 0M330.46 188.97a0.78 0.78 0 1 0 1.56 0a0.78 0.78 0 1 0 -1.56 0M388.64 190.98a0.78 0.78 0 1 0 1.56 0a0.78 0.78 0 1 0 -1.56 0M316.18 192.41a0.78 0.78 0 1 0 1.56 0a0.78 0.78 0 1 0 -1.56 0M355.72 194.39a0.78 0.78 0 1 0 1.56 0a0.78 0.78 0 1 0 -1.56 0M345.53 193.9a0.78 0.78 0 1 0 1.56 0a0.78 0.78 0 1 0 -1.56 0M324.9 191.39a0.78 0.78 0 1 0 1.56 0a0.78 0.78 0 1 0 -1.56 0M345.24 190.6a0.78 0.78 0 1 0 1.56 0a0.78 0.78 0 1 0 -1.56 0M353.94 192.66a0.78 0.78 0 1 0 1.56 0a0.78 0.78 0 1 0 -1.56 0M388.94 191.49a0.78 0.78 0 1 0 1.56 0a0.78 0.78 0 1 0 -1.56 0M325.16 188.32a0.78 0.78 0 1 0 1.56 0a0.78 0.78 0 1 0 -1.56 0M361.35 189.99a0.78 0.78 0 1 0 1.56 0a0.78 0.78 0 1 0 -1.56 0M313.44 194.94a0.78 0.78 0 1 0 1.56 0a0.78 0.78 0 1 0 -1.56 0M358.84 190.81a0.78 0.78 0 1 0 1.56 0a0.78 0.78 0 1 0 -1.56 0M325.72 187.31a0.78 0.78 0 1 0 1.56 0a0.78 0.78 0 1 0 -1.56 0M359.94 187.85a0.78 0.78 0 1 0 1.56 0a0.78 0.78 0 1 0 -1.56 0M354.61 187.41a0.78 0.78 0 1 0 1.56 0a0.78 0.78 0 1 0 -1.56 0M317.36 189.48a0.78 0.78 0 1 0 1.56 0a0.78 0.78 0 1 0 -1.56 0M371.12 194.68a0.78 0.78 0 1 0 1.56 0a0.78 0.78 0 1 0 -1.56 0M375.22 193.14a0.78 0.78 0 1 0 1.56 0a0.78 0.78 0 1 0 -1.56 0M368.93 192.99a0.78 0.78 0 1 0 1.56 0a0.78 0.78 0 1 0 -1.56 0M382.56 188.11a0.78 0.78 0 1 0 1.56 0a0.78 0.78 0 1 0 -1.56 0M361.01 187.02a0.78 0.78 0 1 0 1.56 0a0.78 0.78 0 1 0 -1.56 0M376.95 191.29a0.78 0.78 0 1 0 1.56 0a0.78 0.78 0 1 0 -1.56 0M303.7 190.41a0.78 0.78 0 1 0 1.56 0a0.78 0.78 0 1 0 -1.56 0M329.5 190.28a0.78 0.78 0 1 0 1.56 0a0.78 0.78 0 1 0 -1.56 0M315.09 192.14a0.78 0.78 0 1 0 1.56 0a0.78 0.78 0 1 0 -1.56 0M364.16 195.72a0.78 0.78 0 1 0 1.56 0a0.78 0.78 0 1 0 -1.56 0M326.62 191.55a0.78 0.78 0 1 0 1.56 0a0.78 0.78 0 1 0 -1.56 0M351.98 189.93a0.78 0.78 0 1 0 1.56 0a0.78 0.78 0 1 0 -1.56 0M335.47 193.28a0.78 0.78 0 1 0 1.56 0a0.78 0.78 0 1 0 -1.56 0M309.53 188.52a0.78 0.78 0 1 0 1.56 0a0.78 0.78 0 1 0 -1.56 0M315.92 190.06a0.78 0.78 0 1 0 1.56 0a0.78 0.78 0 1 0 -1.56 0M363.28 188.27a0.78 0.78 0 1 0 1.56 0a0.78 0.78 0 1 0 -1.56 0M359.18 191.34a0.78 0.78 0 1 0 1.56 0a0.78 0.78 0 1 0 -1.56 0M350.03 189.68a0.78 0.78 0 1 0 1.56 0a0.78 0.78 0 1 0 -1.56 0M377.61 192.89a0.78 0.78 0 1 0 1.56 0a0.78 0.78 0 1 0 -1.56 0M368.78 189.2a0.78 0.78 0 1 0 1.56 0a0.78 0.78 0 1 0 -1.56 0M349.88 189.23a0.78 0.78 0 1 0 1.56 0a0.78 0.78 0 1 0 -1.56 0M311.33 192.16a0.78 0.78 0 1 0 1.56 0a0.78 0.78 0 1 0 -1.56 0M363.99 191.61a0.78 0.78 0 1 0 1.56 0a0.78 0.78 0 1 0 -1.56 0M348.04 187.58a0.78 0.78 0 1 0 1.56 0a0.78 0.78 0 1 0 -1.56 0M315.76 191.86a0.78 0.78 0 1 0 1.56 0a0.78 0.78 0 1 0 -1.56 0M310.36 189.55a0.78 0.78 0 1 0 1.56 0a0.78 0.78 0 1 0 -1.56 0M310.69 187.24a0.78 0.78 0 1 0 1.56 0a0.78 0.78 0 1 0 -1.56 0M376.05 191.23a0.78 0.78 0 1 0 1.56 0a0.78 0.78 0 1 0 -1.56 0M374.79 191.72a0.78 0.78 0 1 0 1.56 0a0.78 0.78 0 1 0 -1.56 0M360.55 194.69a0.78 0.78 0 1 0 1.56 0a0.78 0.78 0 1 0 -1.56 0M381.96 186.74a0.78 0.78 0 1 0 1.56 0a0.78 0.78 0 1 0 -1.56 0M348.26 191.37a0.78 0.78 0 1 0 1.56 0a0.78 0.78 0 1 0 -1.56 0M361.16 188.61a0.78 0.78 0 1 0 1.56 0a0.78 0.78 0 1 0 -1.56 0M354.85 192.15a0.78 0.78 0 1 0 1.56 0a0.78 0.78 0 1 0 -1.56 0M353.33 188.26a0.78 0.78 0 1 0 1.56 0a0.78 0.78 0 1 0 -1.56 0M321.84 189.04a0.78 0.78 0 1 0 1.56 0a0.78 0.78 0 1 0 -1.56 0M393.03 189.58a0.78 0.78 0 1 0 1.56 0a0.78 0.78 0 1 0 -1.56 0M323.39 195.39a0.78 0.78 0 1 0 1.56 0a0.78 0.78 0 1 0 -1.56 0M317.85 187.58a0.78 0.78 0 1 0 1.56 0a0.78 0.78 0 1 0 -1.56 0M345.74 191.94a0.78 0.78 0 1 0 1.56 0a0.78 0.78 0 1 0 -1.56 0M375.67 190.09a0.78 0.78 0 1 0 1.56 0a0.78 0.78 0 1 0 -1.56 0M371.49 192.33a0.78 0.78 0 1 0 1.56 0a0.78 0.78 0 1 0 -1.56 0M324.93 192.94a0.78 0.78 0 1 0 1.56 0a0.78 0.78 0 1 0 -1.56 0M308.55 191.49a0.78 0.78 0 1 0 1.56 0a0.78 0.78 0 1 0 -1.56 0M343.32 194.82a0.78 0.78 0 1 0 1.56 0a0.78 0.78 0 1 0 -1.56 0M325.74 191.92a0.78 0.78 0 1 0 1.56 0a0.78 0.78 0 1 0 -1.56 0M365.3 189.23a0.78 0.78 0 1 0 1.56 0a0.78 0.78 0 1 0 -1.56 0M381.26 189.02a0.78 0.78 0 1 0 1.56 0a0.78 0.78 0 1 0 -1.56 0M371.92 187.21a0.78 0.78 0 1 0 1.56 0a0.78 0.78 0 1 0 -1.56 0M371.2 195.03a0.78 0.78 0 1 0 1.56 0a0.78 0.78 0 1 0 -1.56 0M353.78 189.29a0.78 0.78 0 1 0 1.56 0a0.78 0.78 0 1 0 -1.56 0M315.56 195.7a0.78 0.78 0 1 0 1.56 0a0.78 0.78 0 1 0 -1.56 0M368.73 193.7a0.78 0.78 0 1 0 1.56 0a0.78 0.78 0 1 0 -1.56 0M317.22 194.33a0.78 0.78 0 1 0 1.56 0a0.78 0.78 0 1 0 -1.56 0M330.28 190.04a0.78 0.78 0 1 0 1.56 0a0.78 0.78 0 1 0 -1.56 0M308.8 192.54a0.78 0.78 0 1 0 1.56 0a0.78 0.78 0 1 0 -1.56 0M347.73 190.27a0.78 0.78 0 1 0 1.56 0a0.78 0.78 0 1 0 -1.56 0M352.77 189.74a0.78 0.78 0 1 0 1.56 0a0.78 0.78 0 1 0 -1.56 0M373.79 189.49a0.78 0.78 0 1 0 1.56 0a0.78 0.78 0 1 0 -1.56 0M329.76 191.4a0.78 0.78 0 1 0 1.56 0a0.78 0.78 0 1 0 -1.56 0M330.03 189.12a0.78 0.78 0 1 0 1.56 0a0.78 0.78 0 1 0 -1.56 0M314.9 189.33a0.78 0.78 0 1 0 1.56 0a0.78 0.78 0 1 0 -1.56 0M320.29 194a0.78 0.78 0 1 0 1.56 0a0.78 0.78 0 1 0 -1.56 0M347.44 192.13a0.78 0.78 0 1 0 1.56 0a0.78 0.78 0 1 0 -1.56 0M385.46 187.4a0.78 0.78 0 1 0 1.56 0a0.78 0.78 0 1 0 -1.56 0M369.96 192.53a0.78 0.78 0 1 0 1.56 0a0.78 0.78 0 1 0 -1.56 0M351.85 190.29a0.78 0.78 0 1 0 1.56 0a0.78 0.78 0 1 0 -1.56 0M333.99 188.71a0.78 0.78 0 1 0 1.56 0a0.78 0.78 0 1 0 -1.56 0M307.29 191.89a0.78 0.78 0 1 0 1.56 0a0.78 0.78 0 1 0 -1.56 0M351.02 194.69a0.78 0.78 0 1 0 1.56 0a0.78 0.78 0 1 0 -1.56 0M360.24 190.71a0.78 0.78 0 1 0 1.56 0a0.78 0.78 0 1 0 -1.56 0M328.86 194.47a0.78 0.78 0 1 0 1.56 0a0.78 0.78 0 1 0 -1.56 0M363.69 194.57a0.78 0.78 0 1 0 1.56 0a0.78 0.78 0 1 0 -1.56 0M348.19 193.85a0.78 0.78 0 1 0 1.56 0a0.78 0.78 0 1 0 -1.56 0M317.01 195.71a0.78 0.78 0 1 0 1.56 0a0.78 0.78 0 1 0 -1.56 0M378.68 192.03a0.78 0.78 0 1 0 1.56 0a0.78 0.78 0 1 0 -1.56 0M344.84 193.53a0.78 0.78 0 1 0 1.56 0a0.78 0.78 0 1 0 -1.56 0M355.47 187.53a0.78 0.78 0 1 0 1.56 0a0.78 0.78 0 1 0 -1.56 0M351.39 193.57a0.78 0.78 0 1 0 1.56 0a0.78 0.78 0 1 0 -1.56 0M349.23 188.61a0.78 0.78 0 1 0 1.56 0a0.78 0.78 0 1 0 -1.56 0M362.98 194.78a0.78 0.78 0 1 0 1.56 0a0.78 0.78 0 1 0 -1.56 0M356.04 195.01a0.78 0.78 0 1 0 1.56 0a0.78 0.78 0 1 0 -1.56 0M370.72 193.68a0.78 0.78 0 1 0 1.56 0a0.78 0.78 0 1 0 -1.56 0M351.89 191.63a0.78 0.78 0 1 0 1.56 0a0.78 0.78 0 1 0 -1.56 0M356.59 190.31a0.78 0.78 0 1 0 1.56 0a0.78 0.78 0 1 0 -1.56 0M342.04 194.88a0.78 0.78 0 1 0 1.56 0a0.78 0.78 0 1 0 -1.56 0M286.22 199a0.78 0.78 0 1 0 1.56 0a0.78 0.78 0 1 0 -1.56 0M288.22 198.5a0.78 0.78 0 1 0 1.56 0a0.78 0.78 0 1 0 -1.56 0M291.22 197a0.78 0.78 0 1 0 1.56 0a0.78 0.78 0 1 0 -1.56 0M295.22 196a0.78 0.78 0 1 0 1.56 0a0.78 0.78 0 1 0 -1.56 0M377.22 194a0.78 0.78 0 1 0 1.56 0a0.78 0.78 0 1 0 -1.56 0M386.22 193a0.78 0.78 0 1 0 1.56 0a0.78 0.78 0 1 0 -1.56 0M404.22 191a0.78 0.78 0 1 0 1.56 0a0.78 0.78 0 1 0 -1.56 0M431.22 189a0.78 0.78 0 1 0 1.56 0a0.78 0.78 0 1 0 -1.56 0" fill="#454545"/><path d="M323.18 182.73a0.85 0.85 0 1 0 1.7 0a0.85 0.85 0 1 0 -1.7 0M329.03 178.65a0.85 0.85 0 1 0 1.7 0a0.85 0.85 0 1 0 -1.7 0M332.58 174.9a0.85 0.85 0 1 0 1.7 0a0.85 0.85 0 1 0 -1.7 0M331.18 175.8a0.85 0.85 0 1 0 1.7 0a0.85 0.85 0 1 0 -1.7 0M333.37 185.55a0.85 0.85 0 1 0 1.7 0a0.85 0.85 0 1 0 -1.7 0M327.13 147.51a0.85 0.85 0 1 0 1.7 0a0.85 0.85 0 1 0 -1.7 0M327.38 159.35a0.85 0.85 0 1 0 1.7 0a0.85 0.85 0 1 0 -1.7 0M323.34 182.26a0.85 0.85 0 1 0 1.7 0a0.85 0.85 0 1 0 -1.7 0M330.8 180.99a0.85 0.85 0 1 0 1.7 0a0.85 0.85 0 1 0 -1.7 0M331.57 162.58a0.85 0.85 0 1 0 1.7 0a0.85 0.85 0 1 0 -1.7 0M333.81 179.73a0.85 0.85 0 1 0 1.7 0a0.85 0.85 0 1 0 -1.7 0M321.41 183.57a0.85 0.85 0 1 0 1.7 0a0.85 0.85 0 1 0 -1.7 0M328.55 182.46a0.85 0.85 0 1 0 1.7 0a0.85 0.85 0 1 0 -1.7 0M323.92 164.51a0.85 0.85 0 1 0 1.7 0a0.85 0.85 0 1 0 -1.7 0M331.27 185.6a0.85 0.85 0 1 0 1.7 0a0.85 0.85 0 1 0 -1.7 0M333.05 185.36a0.85 0.85 0 1 0 1.7 0a0.85 0.85 0 1 0 -1.7 0M322.94 177.81a0.85 0.85 0 1 0 1.7 0a0.85 0.85 0 1 0 -1.7 0M331.49 179.63a0.85 0.85 0 1 0 1.7 0a0.85 0.85 0 1 0 -1.7 0M334.49 185.2a0.85 0.85 0 1 0 1.7 0a0.85 0.85 0 1 0 -1.7 0M323.23 185.6a0.85 0.85 0 1 0 1.7 0a0.85 0.85 0 1 0 -1.7 0M329.99 176.49a0.85 0.85 0 1 0 1.7 0a0.85 0.85 0 1 0 -1.7 0M333.18 176.11a0.85 0.85 0 1 0 1.7 0a0.85 0.85 0 1 0 -1.7 0M321.79 185.32a0.85 0.85 0 1 0 1.7 0a0.85 0.85 0 1 0 -1.7 0M325.83 179.01a0.85 0.85 0 1 0 1.7 0a0.85 0.85 0 1 0 -1.7 0M326.59 183.11a0.85 0.85 0 1 0 1.7 0a0.85 0.85 0 1 0 -1.7 0M324.21 153.38a0.85 0.85 0 1 0 1.7 0a0.85 0.85 0 1 0 -1.7 0M328.24 170.79a0.85 0.85 0 1 0 1.7 0a0.85 0.85 0 1 0 -1.7 0M333.84 184.74a0.85 0.85 0 1 0 1.7 0a0.85 0.85 0 1 0 -1.7 0M325.34 184.99a0.85 0.85 0 1 0 1.7 0a0.85 0.85 0 1 0 -1.7 0M330.94 185.35a0.85 0.85 0 1 0 1.7 0a0.85 0.85 0 1 0 -1.7 0M325.71 170.71a0.85 0.85 0 1 0 1.7 0a0.85 0.85 0 1 0 -1.7 0M329.48 185.55a0.85 0.85 0 1 0 1.7 0a0.85 0.85 0 1 0 -1.7 0M328.77 184.11a0.85 0.85 0 1 0 1.7 0a0.85 0.85 0 1 0 -1.7 0M321.17 173.15a0.85 0.85 0 1 0 1.7 0a0.85 0.85 0 1 0 -1.7 0M332.61 185.6a0.85 0.85 0 1 0 1.7 0a0.85 0.85 0 1 0 -1.7 0M322.1 155.03a0.85 0.85 0 1 0 1.7 0a0.85 0.85 0 1 0 -1.7 0M327.1 185.2a0.85 0.85 0 1 0 1.7 0a0.85 0.85 0 1 0 -1.7 0M324.63 158.81a0.85 0.85 0 1 0 1.7 0a0.85 0.85 0 1 0 -1.7 0M322.04 143.89a0.85 0.85 0 1 0 1.7 0a0.85 0.85 0 1 0 -1.7 0M321.74 150.61a0.85 0.85 0 1 0 1.7 0a0.85 0.85 0 1 0 -1.7 0M333.82 176.13a0.85 0.85 0 1 0 1.7 0a0.85 0.85 0 1 0 -1.7 0M332.36 168.66a0.85 0.85 0 1 0 1.7 0a0.85 0.85 0 1 0 -1.7 0M334.36 183.91a0.85 0.85 0 1 0 1.7 0a0.85 0.85 0 1 0 -1.7 0M324.02 150.82a0.85 0.85 0 1 0 1.7 0a0.85 0.85 0 1 0 -1.7 0M332.04 164.62a0.85 0.85 0 1 0 1.7 0a0.85 0.85 0 1 0 -1.7 0M326.62 185.26a0.85 0.85 0 1 0 1.7 0a0.85 0.85 0 1 0 -1.7 0M327.96 164.72a0.85 0.85 0 1 0 1.7 0a0.85 0.85 0 1 0 -1.7 0M325.61 149.05a0.85 0.85 0 1 0 1.7 0a0.85 0.85 0 1 0 -1.7 0M323.43 181.92a0.85 0.85 0 1 0 1.7 0a0.85 0.85 0 1 0 -1.7 0M333.33 184.83a0.85 0.85 0 1 0 1.7 0a0.85 0.85 0 1 0 -1.7 0M357.63 184.84a0.85 0.85 0 1 0 1.7 0a0.85 0.85 0 1 0 -1.7 0M353.18 158.06a0.85 0.85 0 1 0 1.7 0a0.85 0.85 0 1 0 -1.7 0M344.74 184.4a0.85 0.85 0 1 0 1.7 0a0.85 0.85 0 1 0 -1.7 0M356.66 185.54a0.85 0.85 0 1 0 1.7 0a0.85 0.85 0 1 0 -1.7 0M357.57 137.03a0.85 0.85 0 1 0 1.7 0a0.85 0.85 0 1 0 -1.7 0M358.21 184.65a0.85 0.85 0 1 0 1.7 0a0.85 0.85 0 1 0 -1.7 0M350.08 181.57a0.85 0.85 0 1 0 1.7 0a0.85 0.85 0 1 0 -1.7 0M356.12 144.67a0.85 0.85 0 1 0 1.7 0a0.85 0.85 0 1 0 -1.7 0M349.31 169.52a0.85 0.85 0 1 0 1.7 0a0.85 0.85 0 1 0 -1.7 0M347.3 185.56a0.85 0.85 0 1 0 1.7 0a0.85 0.85 0 1 0 -1.7 0M347.46 184.82a0.85 0.85 0 1 0 1.7 0a0.85 0.85 0 1 0 -1.7 0M349.48 176.35a0.85 0.85 0 1 0 1.7 0a0.85 0.85 0 1 0 -1.7 0M357.36 185.19a0.85 0.85 0 1 0 1.7 0a0.85 0.85 0 1 0 -1.7 0M344.82 183.32a0.85 0.85 0 1 0 1.7 0a0.85 0.85 0 1 0 -1.7 0M352.65 185.6a0.85 0.85 0 1 0 1.7 0a0.85 0.85 0 1 0 -1.7 0M352.73 185.6a0.85 0.85 0 1 0 1.7 0a0.85 0.85 0 1 0 -1.7 0M351.46 185.6a0.85 0.85 0 1 0 1.7 0a0.85 0.85 0 1 0 -1.7 0M352.62 173.63a0.85 0.85 0 1 0 1.7 0a0.85 0.85 0 1 0 -1.7 0M356.8 185.19a0.85 0.85 0 1 0 1.7 0a0.85 0.85 0 1 0 -1.7 0M355.96 134.75a0.85 0.85 0 1 0 1.7 0a0.85 0.85 0 1 0 -1.7 0M357.76 141.22a0.85 0.85 0 1 0 1.7 0a0.85 0.85 0 1 0 -1.7 0M352.56 183.34a0.85 0.85 0 1 0 1.7 0a0.85 0.85 0 1 0 -1.7 0M356.03 182.3a0.85 0.85 0 1 0 1.7 0a0.85 0.85 0 1 0 -1.7 0M347.94 185.42a0.85 0.85 0 1 0 1.7 0a0.85 0.85 0 1 0 -1.7 0M352.59 181.25a0.85 0.85 0 1 0 1.7 0a0.85 0.85 0 1 0 -1.7 0M351.01 131.61a0.85 0.85 0 1 0 1.7 0a0.85 0.85 0 1 0 -1.7 0M350.27 185.6a0.85 0.85 0 1 0 1.7 0a0.85 0.85 0 1 0 -1.7 0M347.74 149.09a0.85 0.85 0 1 0 1.7 0a0.85 0.85 0 1 0 -1.7 0M353.39 178.8a0.85 0.85 0 1 0 1.7 0a0.85 0.85 0 1 0 -1.7 0M350.29 153.89a0.85 0.85 0 1 0 1.7 0a0.85 0.85 0 1 0 -1.7 0M358.23 174.33a0.85 0.85 0 1 0 1.7 0a0.85 0.85 0 1 0 -1.7 0M353.34 134.77a0.85 0.85 0 1 0 1.7 0a0.85 0.85 0 1 0 -1.7 0M354.08 183.86a0.85 0.85 0 1 0 1.7 0a0.85 0.85 0 1 0 -1.7 0M354.53 165.26a0.85 0.85 0 1 0 1.7 0a0.85 0.85 0 1 0 -1.7 0M350.61 169.78a0.85 0.85 0 1 0 1.7 0a0.85 0.85 0 1 0 -1.7 0M350.25 166.5a0.85 0.85 0 1 0 1.7 0a0.85 0.85 0 1 0 -1.7 0M346.12 185.08a0.85 0.85 0 1 0 1.7 0a0.85 0.85 0 1 0 -1.7 0M347.46 177.23a0.85 0.85 0 1 0 1.7 0a0.85 0.85 0 1 0 -1.7 0M348.99 184.63a0.85 0.85 0 1 0 1.7 0a0.85 0.85 0 1 0 -1.7 0M350.74 183.25a0.85 0.85 0 1 0 1.7 0a0.85 0.85 0 1 0 -1.7 0M352.94 134.37a0.85 0.85 0 1 0 1.7 0a0.85 0.85 0 1 0 -1.7 0M350.64 177.43a0.85 0.85 0 1 0 1.7 0a0.85 0.85 0 1 0 -1.7 0M356.38 177.51a0.85 0.85 0 1 0 1.7 0a0.85 0.85 0 1 0 -1.7 0M352.18 178.63a0.85 0.85 0 1 0 1.7 0a0.85 0.85 0 1 0 -1.7 0M347.41 183.65a0.85 0.85 0 1 0 1.7 0a0.85 0.85 0 1 0 -1.7 0M345.96 185.21a0.85 0.85 0 1 0 1.7 0a0.85 0.85 0 1 0 -1.7 0M345.29 184.6a0.85 0.85 0 1 0 1.7 0a0.85 0.85 0 1 0 -1.7 0M352.99 182.25a0.85 0.85 0 1 0 1.7 0a0.85 0.85 0 1 0 -1.7 0M355.61 185.55a0.85 0.85 0 1 0 1.7 0a0.85 0.85 0 1 0 -1.7 0M353.72 181.23a0.85 0.85 0 1 0 1.7 0a0.85 0.85 0 1 0 -1.7 0M356.14 181.86a0.85 0.85 0 1 0 1.7 0a0.85 0.85 0 1 0 -1.7 0M347.12 169.44a0.85 0.85 0 1 0 1.7 0a0.85 0.85 0 1 0 -1.7 0" fill="#F0A020"/><path d="M283.18 161.22a0.85 0.85 0 1 0 1.7 0a0.85 0.85 0 1 0 -1.7 0M277.17 176.25a0.85 0.85 0 1 0 1.7 0a0.85 0.85 0 1 0 -1.7 0M289.2 178.66a0.85 0.85 0 1 0 1.7 0a0.85 0.85 0 1 0 -1.7 0M296.71 179.86a0.85 0.85 0 1 0 1.7 0a0.85 0.85 0 1 0 -1.7 0M304.22 180.76a0.85 0.85 0 1 0 1.7 0a0.85 0.85 0 1 0 -1.7 0M309.63 173.25a0.85 0.85 0 1 0 1.7 0a0.85 0.85 0 1 0 -1.7 0M313.84 166.63a0.85 0.85 0 1 0 1.7 0a0.85 0.85 0 1 0 -1.7 0M313.84 147.1a0.85 0.85 0 1 0 1.7 0a0.85 0.85 0 1 0 -1.7 0M317.75 140.18a0.85 0.85 0 1 0 1.7 0a0.85 0.85 0 1 0 -1.7 0M318.65 151.6a0.85 0.85 0 1 0 1.7 0a0.85 0.85 0 1 0 -1.7 0M316.85 183.77a0.85 0.85 0 1 0 1.7 0a0.85 0.85 0 1 0 -1.7 0M318.65 180.76a0.85 0.85 0 1 0 1.7 0a0.85 0.85 0 1 0 -1.7 0M319.25 185.27a0.85 0.85 0 1 0 1.7 0a0.85 0.85 0 1 0 -1.7 0M316.25 182.26a0.85 0.85 0 1 0 1.7 0a0.85 0.85 0 1 0 -1.7 0M318.05 177.75a0.85 0.85 0 1 0 1.7 0a0.85 0.85 0 1 0 -1.7 0M315.65 162.73a0.85 0.85 0 1 0 1.7 0a0.85 0.85 0 1 0 -1.7 0M319.85 171.74a0.85 0.85 0 1 0 1.7 0a0.85 0.85 0 1 0 -1.7 0" fill="#E02828"/><path d="M371.25 51.51a0.85 0.85 0 1 0 1.7 0a0.85 0.85 0 1 0 -1.7 0M374.86 90.59a0.85 0.85 0 1 0 1.7 0a0.85 0.85 0 1 0 -1.7 0M386.28 100.51a0.85 0.85 0 1 0 1.7 0a0.85 0.85 0 1 0 -1.7 0M368.25 106.22a0.85 0.85 0 1 0 1.7 0a0.85 0.85 0 1 0 -1.7 0M381.77 109.22a0.85 0.85 0 1 0 1.7 0a0.85 0.85 0 1 0 -1.7 0M377.86 123.65a0.85 0.85 0 1 0 1.7 0a0.85 0.85 0 1 0 -1.7 0M454.81 74.06a0.85 0.85 0 1 0 1.7 0a0.85 0.85 0 1 0 -1.7 0M456.31 79.47a0.85 0.85 0 1 0 1.7 0a0.85 0.85 0 1 0 -1.7 0M445.49 91.49a0.85 0.85 0 1 0 1.7 0a0.85 0.85 0 1 0 -1.7 0M438.88 91.49a0.85 0.85 0 1 0 1.7 0a0.85 0.85 0 1 0 -1.7 0M436.48 84.58a0.85 0.85 0 1 0 1.7 0a0.85 0.85 0 1 0 -1.7 0M401.91 99.61a0.85 0.85 0 1 0 1.7 0a0.85 0.85 0 1 0 -1.7 0M413.33 114.63a0.85 0.85 0 1 0 1.7 0a0.85 0.85 0 1 0 -1.7 0M418.44 113.73a0.85 0.85 0 1 0 1.7 0a0.85 0.85 0 1 0 -1.7 0M424.45 113.73a0.85 0.85 0 1 0 1.7 0a0.85 0.85 0 1 0 -1.7 0M430.46 108.62a0.85 0.85 0 1 0 1.7 0a0.85 0.85 0 1 0 -1.7 0M433.47 110.73a0.85 0.85 0 1 0 1.7 0a0.85 0.85 0 1 0 -1.7 0M411.83 119.14a0.85 0.85 0 1 0 1.7 0a0.85 0.85 0 1 0 -1.7 0M421.45 126.66a0.85 0.85 0 1 0 1.7 0a0.85 0.85 0 1 0 -1.7 0M419.94 128.76a0.85 0.85 0 1 0 1.7 0a0.85 0.85 0 1 0 -1.7 0M427.46 128.76a0.85 0.85 0 1 0 1.7 0a0.85 0.85 0 1 0 -1.7 0M433.47 138.68a0.85 0.85 0 1 0 1.7 0a0.85 0.85 0 1 0 -1.7 0M434.97 137.18a0.85 0.85 0 1 0 1.7 0a0.85 0.85 0 1 0 -1.7 0M472.54 129.66a0.85 0.85 0 1 0 1.7 0a0.85 0.85 0 1 0 -1.7 0M407.92 123.65a0.85 0.85 0 1 0 1.7 0a0.85 0.85 0 1 0 -1.7 0M412.43 134.17a0.85 0.85 0 1 0 1.7 0a0.85 0.85 0 1 0 -1.7 0M416.94 140.18a0.85 0.85 0 1 0 1.7 0a0.85 0.85 0 1 0 -1.7 0M421.45 147.7a0.85 0.85 0 1 0 1.7 0a0.85 0.85 0 1 0 -1.7 0M394.4 135.67a0.85 0.85 0 1 0 1.7 0a0.85 0.85 0 1 0 -1.7 0M392.89 140.18a0.85 0.85 0 1 0 1.7 0a0.85 0.85 0 1 0 -1.7 0M397.4 143.19a0.85 0.85 0 1 0 1.7 0a0.85 0.85 0 1 0 -1.7 0M403.41 134.17a0.85 0.85 0 1 0 1.7 0a0.85 0.85 0 1 0 -1.7 0M389.89 146.19a0.85 0.85 0 1 0 1.7 0a0.85 0.85 0 1 0 -1.7 0M388.38 152.21a0.85 0.85 0 1 0 1.7 0a0.85 0.85 0 1 0 -1.7 0M401.91 152.21a0.85 0.85 0 1 0 1.7 0a0.85 0.85 0 1 0 -1.7 0M406.42 146.19a0.85 0.85 0 1 0 1.7 0a0.85 0.85 0 1 0 -1.7 0M415.44 158.22a0.85 0.85 0 1 0 1.7 0a0.85 0.85 0 1 0 -1.7 0M418.44 167.23a0.85 0.85 0 1 0 1.7 0a0.85 0.85 0 1 0 -1.7 0M403.41 162.73a0.85 0.85 0 1 0 1.7 0a0.85 0.85 0 1 0 -1.7 0M406.42 170.24a0.85 0.85 0 1 0 1.7 0a0.85 0.85 0 1 0 -1.7 0M400.41 167.23a0.85 0.85 0 1 0 1.7 0a0.85 0.85 0 1 0 -1.7 0M397.4 159.72a0.85 0.85 0 1 0 1.7 0a0.85 0.85 0 1 0 -1.7 0M409.42 158.22a0.85 0.85 0 1 0 1.7 0a0.85 0.85 0 1 0 -1.7 0M394.4 155.21a0.85 0.85 0 1 0 1.7 0a0.85 0.85 0 1 0 -1.7 0M391.39 158.22a0.85 0.85 0 1 0 1.7 0a0.85 0.85 0 1 0 -1.7 0M404.92 156.71a0.85 0.85 0 1 0 1.7 0a0.85 0.85 0 1 0 -1.7 0M370.38 170.54a0.85 0.85 0 1 0 1.7 0a0.85 0.85 0 1 0 -1.7 0M376.05 161.17a0.85 0.85 0 1 0 1.7 0a0.85 0.85 0 1 0 -1.7 0M360.74 181.76a0.85 0.85 0 1 0 1.7 0a0.85 0.85 0 1 0 -1.7 0M363.7 147.66a0.85 0.85 0 1 0 1.7 0a0.85 0.85 0 1 0 -1.7 0M413.08 181.05a0.85 0.85 0 1 0 1.7 0a0.85 0.85 0 1 0 -1.7 0M378.34 184.95a0.85 0.85 0 1 0 1.7 0a0.85 0.85 0 1 0 -1.7 0M395.32 175.2a0.85 0.85 0 1 0 1.7 0a0.85 0.85 0 1 0 -1.7 0M416.34 159.3a0.85 0.85 0 1 0 1.7 0a0.85 0.85 0 1 0 -1.7 0M362.38 179.1a0.85 0.85 0 1 0 1.7 0a0.85 0.85 0 1 0 -1.7 0M360.09 181.97a0.85 0.85 0 1 0 1.7 0a0.85 0.85 0 1 0 -1.7 0M391.33 180.56a0.85 0.85 0 1 0 1.7 0a0.85 0.85 0 1 0 -1.7 0M362.92 153.11a0.85 0.85 0 1 0 1.7 0a0.85 0.85 0 1 0 -1.7 0M410.03 180.59a0.85 0.85 0 1 0 1.7 0a0.85 0.85 0 1 0 -1.7 0M377.7 168.87a0.85 0.85 0 1 0 1.7 0a0.85 0.85 0 1 0 -1.7 0M361.41 184.7a0.85 0.85 0 1 0 1.7 0a0.85 0.85 0 1 0 -1.7 0M391.07 181.93a0.85 0.85 0 1 0 1.7 0a0.85 0.85 0 1 0 -1.7 0M383.85 184.87a0.85 0.85 0 1 0 1.7 0a0.85 0.85 0 1 0 -1.7 0M360.05 157.39a0.85 0.85 0 1 0 1.7 0a0.85 0.85 0 1 0 -1.7 0M378.5 180.04a0.85 0.85 0 1 0 1.7 0a0.85 0.85 0 1 0 -1.7 0M399.11 167.84a0.85 0.85 0 1 0 1.7 0a0.85 0.85 0 1 0 -1.7 0M379.71 164.59a0.85 0.85 0 1 0 1.7 0a0.85 0.85 0 1 0 -1.7 0M391.73 178.49a0.85 0.85 0 1 0 1.7 0a0.85 0.85 0 1 0 -1.7 0M412.96 174.18a0.85 0.85 0 1 0 1.7 0a0.85 0.85 0 1 0 -1.7 0M389.07 171.38a0.85 0.85 0 1 0 1.7 0a0.85 0.85 0 1 0 -1.7 0M382.6 165.2a0.85 0.85 0 1 0 1.7 0a0.85 0.85 0 1 0 -1.7 0M394.2 172.9a0.85 0.85 0 1 0 1.7 0a0.85 0.85 0 1 0 -1.7 0M418.15 168.3a0.85 0.85 0 1 0 1.7 0a0.85 0.85 0 1 0 -1.7 0M383.34 179.51a0.85 0.85 0 1 0 1.7 0a0.85 0.85 0 1 0 -1.7 0M404.63 148.36a0.85 0.85 0 1 0 1.7 0a0.85 0.85 0 1 0 -1.7 0M372.43 170.32a0.85 0.85 0 1 0 1.7 0a0.85 0.85 0 1 0 -1.7 0M378.65 182.83a0.85 0.85 0 1 0 1.7 0a0.85 0.85 0 1 0 -1.7 0M379.61 175.44a0.85 0.85 0 1 0 1.7 0a0.85 0.85 0 1 0 -1.7 0M382.49 180.92a0.85 0.85 0 1 0 1.7 0a0.85 0.85 0 1 0 -1.7 0M363.03 169.46a0.85 0.85 0 1 0 1.7 0a0.85 0.85 0 1 0 -1.7 0M397.34 165.54a0.85 0.85 0 1 0 1.7 0a0.85 0.85 0 1 0 -1.7 0M369.58 182.45a0.85 0.85 0 1 0 1.7 0a0.85 0.85 0 1 0 -1.7 0M381.95 185.07a0.85 0.85 0 1 0 1.7 0a0.85 0.85 0 1 0 -1.7 0M378.41 164.76a0.85 0.85 0 1 0 1.7 0a0.85 0.85 0 1 0 -1.7 0M390.33 168.79a0.85 0.85 0 1 0 1.7 0a0.85 0.85 0 1 0 -1.7 0M361.33 185.01a0.85 0.85 0 1 0 1.7 0a0.85 0.85 0 1 0 -1.7 0M412.63 172.3a0.85 0.85 0 1 0 1.7 0a0.85 0.85 0 1 0 -1.7 0M380.4 163.23a0.85 0.85 0 1 0 1.7 0a0.85 0.85 0 1 0 -1.7 0M364.21 180.83a0.85 0.85 0 1 0 1.7 0a0.85 0.85 0 1 0 -1.7 0M401.11 166.15a0.85 0.85 0 1 0 1.7 0a0.85 0.85 0 1 0 -1.7 0M362.41 176.65a0.85 0.85 0 1 0 1.7 0a0.85 0.85 0 1 0 -1.7 0M397.15 180.34a0.85 0.85 0 1 0 1.7 0a0.85 0.85 0 1 0 -1.7 0M377.74 159.91a0.85 0.85 0 1 0 1.7 0a0.85 0.85 0 1 0 -1.7 0M377.14 153.51a0.85 0.85 0 1 0 1.7 0a0.85 0.85 0 1 0 -1.7 0M367.44 185.18a0.85 0.85 0 1 0 1.7 0a0.85 0.85 0 1 0 -1.7 0M397.04 153.35a0.85 0.85 0 1 0 1.7 0a0.85 0.85 0 1 0 -1.7 0M371.49 184.51a0.85 0.85 0 1 0 1.7 0a0.85 0.85 0 1 0 -1.7 0M382.54 176.58a0.85 0.85 0 1 0 1.7 0a0.85 0.85 0 1 0 -1.7 0M412.42 185.17a0.85 0.85 0 1 0 1.7 0a0.85 0.85 0 1 0 -1.7 0M370.34 171.3a0.85 0.85 0 1 0 1.7 0a0.85 0.85 0 1 0 -1.7 0M388.15 185.12a0.85 0.85 0 1 0 1.7 0a0.85 0.85 0 1 0 -1.7 0M397.93 150.86a0.85 0.85 0 1 0 1.7 0a0.85 0.85 0 1 0 -1.7 0M408.88 155.12a0.85 0.85 0 1 0 1.7 0a0.85 0.85 0 1 0 -1.7 0M361.44 165.24a0.85 0.85 0 1 0 1.7 0a0.85 0.85 0 1 0 -1.7 0M388.83 179.34a0.85 0.85 0 1 0 1.7 0a0.85 0.85 0 1 0 -1.7 0M368.03 175.82a0.85 0.85 0 1 0 1.7 0a0.85 0.85 0 1 0 -1.7 0M408.3 184.76a0.85 0.85 0 1 0 1.7 0a0.85 0.85 0 1 0 -1.7 0M372.14 165.15a0.85 0.85 0 1 0 1.7 0a0.85 0.85 0 1 0 -1.7 0M408.8 173.78a0.85 0.85 0 1 0 1.7 0a0.85 0.85 0 1 0 -1.7 0M391.91 183.54a0.85 0.85 0 1 0 1.7 0a0.85 0.85 0 1 0 -1.7 0M411.16 181.53a0.85 0.85 0 1 0 1.7 0a0.85 0.85 0 1 0 -1.7 0M414.36 158.34a0.85 0.85 0 1 0 1.7 0a0.85 0.85 0 1 0 -1.7 0M384.15 177a0.85 0.85 0 1 0 1.7 0a0.85 0.85 0 1 0 -1.7 0M374.98 179.01a0.85 0.85 0 1 0 1.7 0a0.85 0.85 0 1 0 -1.7 0M415.98 149.63a0.85 0.85 0 1 0 1.7 0a0.85 0.85 0 1 0 -1.7 0M411.41 147.17a0.85 0.85 0 1 0 1.7 0a0.85 0.85 0 1 0 -1.7 0M455.05 74.5a0.85 0.85 0 1 0 1.7 0a0.85 0.85 0 1 0 -1.7 0M456.05 79.4a0.85 0.85 0 1 0 1.7 0a0.85 0.85 0 1 0 -1.7 0M433.25 84.4a0.85 0.85 0 1 0 1.7 0a0.85 0.85 0 1 0 -1.7 0M445.55 92.6a0.85 0.85 0 1 0 1.7 0a0.85 0.85 0 1 0 -1.7 0M438.65 92.6a0.85 0.85 0 1 0 1.7 0a0.85 0.85 0 1 0 -1.7 0M401.75 100.6a0.85 0.85 0 1 0 1.7 0a0.85 0.85 0 1 0 -1.7 0M413.35 115.5a0.85 0.85 0 1 0 1.7 0a0.85 0.85 0 1 0 -1.7 0M433.55 110.2a0.85 0.85 0 1 0 1.7 0a0.85 0.85 0 1 0 -1.7 0M412.65 114.8a0.85 0.85 0 1 0 1.7 0a0.85 0.85 0 1 0 -1.7 0M418.35 115.4a0.85 0.85 0 1 0 1.7 0a0.85 0.85 0 1 0 -1.7 0M433.55 110.4a0.85 0.85 0 1 0 1.7 0a0.85 0.85 0 1 0 -1.7 0M415.55 115a0.85 0.85 0 1 0 1.7 0a0.85 0.85 0 1 0 -1.7 0M421.45 125.2a0.85 0.85 0 1 0 1.7 0a0.85 0.85 0 1 0 -1.7 0M411.95 123.3a0.85 0.85 0 1 0 1.7 0a0.85 0.85 0 1 0 -1.7 0M418.75 129.5a0.85 0.85 0 1 0 1.7 0a0.85 0.85 0 1 0 -1.7 0M472.65 130.4a0.85 0.85 0 1 0 1.7 0a0.85 0.85 0 1 0 -1.7 0M426.35 129.5a0.85 0.85 0 1 0 1.7 0a0.85 0.85 0 1 0 -1.7 0M432.85 139.3a0.85 0.85 0 1 0 1.7 0a0.85 0.85 0 1 0 -1.7 0M433.15 139.6a0.85 0.85 0 1 0 1.7 0a0.85 0.85 0 1 0 -1.7 0" fill="#7CC832"/><path d="M457.1 70.9L455.9 74.5M459.2 76.6L456.9 79.4M438 80.2L434.1 84.4M451.3 83.8L446.4 92.6M405.5 95.3L402.6 100.6M422 101.5L414.2 115.5M441.7 102.5L434.4 110.2M411 107.5L413.5 114.8M424 107.5L419.2 115.4M441 108.6L434.4 110.4M435.6 114.9L422.3 125.2M411 121.5L412.8 123.3M421.5 122.5L419.6 129.5M474 126L473.5 130.4M440 131.8L433.7 139.3" stroke="#222" stroke-width="0.35" fill="none"/><g font-size="4.9" fill="#111"><text x="457.1" y="70.1">NT5E</text><text x="459.6" y="76">OTC</text><text x="429.8" y="79.4">PGRMC1</text><text x="451.8" y="85.6">FAM151A</text><text x="436.5" y="90.5">PCK2</text><text x="400.3" y="94.7">ALPL</text><text x="414.1" y="100.6">HIBADH</text><text x="442" y="103">ACAA1</text><text x="402.1" y="106.5">PIGR</text><text x="423.9" y="106.5">FOLH1</text><text x="441.7" y="109.2">REEP6</text><text x="411.6" y="112.3">HSD17B8</text><text x="435.6" y="114.7">ABAT</text><text x="399.9" y="120.9">ECHDC2</text><text x="421.4" y="121.5">ECI1-CD81</text><text x="468.6" y="125.2">AGXT</text><text x="429.2" y="127.7">ASL</text><text x="440.3" y="131.3">CEACAM1</text><text x="431" y="136.5">GLUD1</text></g><rect x="268.1" y="44.5" width="215.2" height="164.6" fill="none" stroke="#333" stroke-width="0.55"/><path d="M290.2 209.1v1.6M340.4 209.1v1.6M390.6 209.1v1.6M440.8 209.1v1.6M268.1 201.5h-1.6M268.1 153.42h-1.6M268.1 105.34h-1.6M268.1 57.26h-1.6" stroke="#333" stroke-width="0.5" fill="none"/><g font-size="6.3" fill="#3c3c3c" stroke="#3c3c3c" stroke-width="0.12"><text x="290.2" y="216.7" text-anchor="middle">-2.5</text><text x="340.4" y="216.7" text-anchor="middle">0.0</text><text x="390.6" y="216.7" text-anchor="middle">2.5</text><text x="440.8" y="216.7" text-anchor="middle">5.0</text><text x="265.6" y="203.8" text-anchor="end">0</text><text x="265.6" y="155.72" text-anchor="end">4</text><text x="265.6" y="107.64" text-anchor="end">8</text><text x="265.6" y="59.56" text-anchor="end">12</text></g><text x="375.7" y="225.7" text-anchor="middle" font-size="7.2" fill="#111" stroke="#111" stroke-width="0.18">log2 fold change</text><text transform="translate(252.5 126.8) rotate(-90)" text-anchor="middle" font-size="7.2" fill="#111" stroke="#111" stroke-width="0.18">adjusted P value</text><text x="268.6" y="31.3" font-size="7.35" fill="#111" stroke="#111" stroke-width="0.2">PSC-CTRL</text><text x="268.6" y="38.7" font-size="7.3" fill="#111" stroke="#111" stroke-width="0.2">Visualization thresholds: logFC 1.0, P 0.05</text><rect x="264" y="234" width="222.8" height="13.3" fill="#fff" stroke="#333" stroke-width="0.5"/><g font-size="5.7" fill="#111" stroke="#111" stroke-width="0.12"><circle cx="273.8" cy="240.65" r="0.8" fill="#7CC832"/><text x="280" y="243.05">Up&amp;Sign. (115)</text><circle cx="325.9" cy="240.65" r="0.8" fill="#E02828"/><text x="332.5" y="243.05">Down&amp;Sign. (17)</text><circle cx="381.7" cy="240.65" r="0.8" fill="#F0A020"/><text x="388.2" y="243.05">Significant (102)</text><circle cx="436.6" cy="240.65" r="0.8" fill="#454545"/><text x="442.8" y="243.05">Not sign. (1232)</text></g><rect x="512" y="44.5" width="215.9" height="164.6" fill="#fff"/><path d="M541.9 44.5V209.1M586.5 44.5V209.1M631.1 44.5V209.1M675.7 44.5V209.1M720.3 44.5V209.1M512 175.35H727.9M512 121.05H727.9M512 66.75H727.9" stroke="#f2f2f2" stroke-width="0.35" fill="none"/><path d="M519.6 44.5V209.1M564.2 44.5V209.1M608.8 44.5V209.1M653.4 44.5V209.1M698 44.5V209.1M512 202.5H727.9M512 148.2H727.9M512 93.9H727.9" stroke="#e6e6e6" stroke-width="0.6" fill="none"/><path d="M631.1 44.5V209.1M675.7 44.5V209.1M512 188.37H727.9" stroke="#444" stroke-width="0.5" stroke-dasharray="1.6 1.2" fill="none"/><path d="M631.85 198.51a0.78 0.78 0 1 0 1.56 0a0.78 0.78 0 1 0 -1.56 0M630.91 200.03a0.78 0.78 0 1 0 1.56 0a0.78 0.78 0 1 0 -1.56 0M649.18 193.33a0.78 0.78 0 1 0 1.56 0a0.78 0.78 0 1 0 -1.56 0M677.71 194.9a0.78 0.78 0 1 0 1.56 0a0.78 0.78 0 1 0 -1.56 0M666.07 198.02a0.78 0.78 0 1 0 1.56 0a0.78 0.78 0 1 0 -1.56 0M644.95 200.29a0.78 0.78 0 1 0 1.56 0a0.78 0.78 0 1 0 -1.56 0M631.89 200.28a0.78 0.78 0 1 0 1.56 0a0.78 0.78 0 1 0 -1.56 0M676.53 194.59a0.78 0.78 0 1 0 1.56 0a0.78 0.78 0 1 0 -1.56 0M637.25 194.18a0.78 0.78 0 1 0 1.56 0a0.78 0.78 0 1 0 -1.56 0M659.53 198.78a0.78 0.78 0 1 0 1.56 0a0.78 0.78 0 1 0 -1.56 0M672.99 197.05a0.78 0.78 0 1 0 1.56 0a0.78 0.78 0 1 0 -1.56 0M663.14 202.35a0.78 0.78 0 1 0 1.56 0a0.78 0.78 0 1 0 -1.56 0M676.24 194.7a0.78 0.78 0 1 0 1.56 0a0.78 0.78 0 1 0 -1.56 0M673.75 192.42a0.78 0.78 0 1 0 1.56 0a0.78 0.78 0 1 0 -1.56 0M655.26 195.78a0.78 0.78 0 1 0 1.56 0a0.78 0.78 0 1 0 -1.56 0M640.74 200.73a0.78 0.78 0 1 0 1.56 0a0.78 0.78 0 1 0 -1.56 0M672.19 199.81a0.78 0.78 0 1 0 1.56 0a0.78 0.78 0 1 0 -1.56 0M658.21 194.78a0.78 0.78 0 1 0 1.56 0a0.78 0.78 0 1 0 -1.56 0M676.03 192.18a0.78 0.78 0 1 0 1.56 0a0.78 0.78 0 1 0 -1.56 0M666.76 197.18a0.78 0.78 0 1 0 1.56 0a0.78 0.78 0 1 0 -1.56 0M661.28 200.59a0.78 0.78 0 1 0 1.56 0a0.78 0.78 0 1 0 -1.56 0M677.63 195.55a0.78 0.78 0 1 0 1.56 0a0.78 0.78 0 1 0 -1.56 0M640.16 195.89a0.78 0.78 0 1 0 1.56 0a0.78 0.78 0 1 0 -1.56 0M643.8 202.76a0.78 0.78 0 1 0 1.56 0a0.78 0.78 0 1 0 -1.56 0M665.65 199.41a0.78 0.78 0 1 0 1.56 0a0.78 0.78 0 1 0 -1.56 0M637.02 193.35a0.78 0.78 0 1 0 1.56 0a0.78 0.78 0 1 0 -1.56 0M629.25 195.95a0.78 0.78 0 1 0 1.56 0a0.78 0.78 0 1 0 -1.56 0M660.18 196.42a0.78 0.78 0 1 0 1.56 0a0.78 0.78 0 1 0 -1.56 0M632.18 200.98a0.78 0.78 0 1 0 1.56 0a0.78 0.78 0 1 0 -1.56 0M659.11 198.93a0.78 0.78 0 1 0 1.56 0a0.78 0.78 0 1 0 -1.56 0M627.41 198.5a0.78 0.78 0 1 0 1.56 0a0.78 0.78 0 1 0 -1.56 0M645.91 201.64a0.78 0.78 0 1 0 1.56 0a0.78 0.78 0 1 0 -1.56 0M662.1 202.3a0.78 0.78 0 1 0 1.56 0a0.78 0.78 0 1 0 -1.56 0M638.35 192.16a0.78 0.78 0 1 0 1.56 0a0.78 0.78 0 1 0 -1.56 0M639.9 192.39a0.78 0.78 0 1 0 1.56 0a0.78 0.78 0 1 0 -1.56 0M666.6 199.31a0.78 0.78 0 1 0 1.56 0a0.78 0.78 0 1 0 -1.56 0M647.74 198.99a0.78 0.78 0 1 0 1.56 0a0.78 0.78 0 1 0 -1.56 0M655.77 198.99a0.78 0.78 0 1 0 1.56 0a0.78 0.78 0 1 0 -1.56 0M633.69 199.5a0.78 0.78 0 1 0 1.56 0a0.78 0.78 0 1 0 -1.56 0M676.55 198.65a0.78 0.78 0 1 0 1.56 0a0.78 0.78 0 1 0 -1.56 0M645.89 197.12a0.78 0.78 0 1 0 1.56 0a0.78 0.78 0 1 0 -1.56 0M656.78 192.35a0.78 0.78 0 1 0 1.56 0a0.78 0.78 0 1 0 -1.56 0M663.75 197.93a0.78 0.78 0 1 0 1.56 0a0.78 0.78 0 1 0 -1.56 0M662.63 199.9a0.78 0.78 0 1 0 1.56 0a0.78 0.78 0 1 0 -1.56 0M667.4 198.85a0.78 0.78 0 1 0 1.56 0a0.78 0.78 0 1 0 -1.56 0M656.09 199.05a0.78 0.78 0 1 0 1.56 0a0.78 0.78 0 1 0 -1.56 0M647.29 198.36a0.78 0.78 0 1 0 1.56 0a0.78 0.78 0 1 0 -1.56 0M668.67 198.1a0.78 0.78 0 1 0 1.56 0a0.78 0.78 0 1 0 -1.56 0M665.46 192.25a0.78 0.78 0 1 0 1.56 0a0.78 0.78 0 1 0 -1.56 0M664.26 199.45a0.78 0.78 0 1 0 1.56 0a0.78 0.78 0 1 0 -1.56 0M644.91 194.89a0.78 0.78 0 1 0 1.56 0a0.78 0.78 0 1 0 -1.56 0M661.09 197.75a0.78 0.78 0 1 0 1.56 0a0.78 0.78 0 1 0 -1.56 0M648.4 195.73a0.78 0.78 0 1 0 1.56 0a0.78 0.78 0 1 0 -1.56 0M660.56 202.38a0.78 0.78 0 1 0 1.56 0a0.78 0.78 0 1 0 -1.56 0M655.84 196.36a0.78 0.78 0 1 0 1.56 0a0.78 0.78 0 1 0 -1.56 0M630.42 198.08a0.78 0.78 0 1 0 1.56 0a0.78 0.78 0 1 0 -1.56 0M645.41 200.73a0.78 0.78 0 1 0 1.56 0a0.78 0.78 0 1 0 -1.56 0M646.61 193.79a0.78 0.78 0 1 0 1.56 0a0.78 0.78 0 1 0 -1.56 0M634.97 194.41a0.78 0.78 0 1 0 1.56 0a0.78 0.78 0 1 0 -1.56 0M657.33 192.68a0.78 0.78 0 1 0 1.56 0a0.78 0.78 0 1 0 -1.56 0M672.22 201.75a0.78 0.78 0 1 0 1.56 0a0.78 0.78 0 1 0 -1.56 0M630.67 192.65a0.78 0.78 0 1 0 1.56 0a0.78 0.78 0 1 0 -1.56 0M678.19 198.84a0.78 0.78 0 1 0 1.56 0a0.78 0.78 0 1 0 -1.56 0M636.88 198.77a0.78 0.78 0 1 0 1.56 0a0.78 0.78 0 1 0 -1.56 0M632.6 194.64a0.78 0.78 0 1 0 1.56 0a0.78 0.78 0 1 0 -1.56 0M644.84 195.17a0.78 0.78 0 1 0 1.56 0a0.78 0.78 0 1 0 -1.56 0M660.99 200.78a0.78 0.78 0 1 0 1.56 0a0.78 0.78 0 1 0 -1.56 0M624.77 198.32a0.78 0.78 0 1 0 1.56 0a0.78 0.78 0 1 0 -1.56 0M653.37 203.06a0.78 0.78 0 1 0 1.56 0a0.78 0.78 0 1 0 -1.56 0M632.67 201.11a0.78 0.78 0 1 0 1.56 0a0.78 0.78 0 1 0 -1.56 0M649.84 202.91a0.78 0.78 0 1 0 1.56 0a0.78 0.78 0 1 0 -1.56 0M634.4 196.25a0.78 0.78 0 1 0 1.56 0a0.78 0.78 0 1 0 -1.56 0M636.39 199.83a0.78 0.78 0 1 0 1.56 0a0.78 0.78 0 1 0 -1.56 0M655.87 197.17a0.78 0.78 0 1 0 1.56 0a0.78 0.78 0 1 0 -1.56 0M658.31 199.27a0.78 0.78 0 1 0 1.56 0a0.78 0.78 0 1 0 -1.56 0M632.46 194.73a0.78 0.78 0 1 0 1.56 0a0.78 0.78 0 1 0 -1.56 0M663.31 200.64a0.78 0.78 0 1 0 1.56 0a0.78 0.78 0 1 0 -1.56 0M662.43 197.29a0.78 0.78 0 1 0 1.56 0a0.78 0.78 0 1 0 -1.56 0M630.02 199.48a0.78 0.78 0 1 0 1.56 0a0.78 0.78 0 1 0 -1.56 0M655.05 199.91a0.78 0.78 0 1 0 1.56 0a0.78 0.78 0 1 0 -1.56 0M671.06 201.56a0.78 0.78 0 1 0 1.56 0a0.78 0.78 0 1 0 -1.56 0M675.53 195.12a0.78 0.78 0 1 0 1.56 0a0.78 0.78 0 1 0 -1.56 0M656.45 199.74a0.78 0.78 0 1 0 1.56 0a0.78 0.78 0 1 0 -1.56 0M634.86 200.31a0.78 0.78 0 1 0 1.56 0a0.78 0.78 0 1 0 -1.56 0M671.14 197.24a0.78 0.78 0 1 0 1.56 0a0.78 0.78 0 1 0 -1.56 0M654.46 200.14a0.78 0.78 0 1 0 1.56 0a0.78 0.78 0 1 0 -1.56 0M633.85 199.03a0.78 0.78 0 1 0 1.56 0a0.78 0.78 0 1 0 -1.56 0M659.68 201.05a0.78 0.78 0 1 0 1.56 0a0.78 0.78 0 1 0 -1.56 0M674.65 198.91a0.78 0.78 0 1 0 1.56 0a0.78 0.78 0 1 0 -1.56 0M657.08 195.88a0.78 0.78 0 1 0 1.56 0a0.78 0.78 0 1 0 -1.56 0M623.9 199.01a0.78 0.78 0 1 0 1.56 0a0.78 0.78 0 1 0 -1.56 0M670.33 200.44a0.78 0.78 0 1 0 1.56 0a0.78 0.78 0 1 0 -1.56 0M665.26 201.76a0.78 0.78 0 1 0 1.56 0a0.78 0.78 0 1 0 -1.56 0M674.55 198.41a0.78 0.78 0 1 0 1.56 0a0.78 0.78 0 1 0 -1.56 0M663.92 200.88a0.78 0.78 0 1 0 1.56 0a0.78 0.78 0 1 0 -1.56 0M637.4 192.21a0.78 0.78 0 1 0 1.56 0a0.78 0.78 0 1 0 -1.56 0M646.04 202.29a0.78 0.78 0 1 0 1.56 0a0.78 0.78 0 1 0 -1.56 0M656.58 193.44a0.78 0.78 0 1 0 1.56 0a0.78 0.78 0 1 0 -1.56 0M668.34 201.16a0.78 0.78 0 1 0 1.56 0a0.78 0.78 0 1 0 -1.56 0M628.75 192.24a0.78 0.78 0 1 0 1.56 0a0.78 0.78 0 1 0 -1.56 0M670.93 193.5a0.78 0.78 0 1 0 1.56 0a0.78 0.78 0 1 0 -1.56 0M638.03 194.47a0.78 0.78 0 1 0 1.56 0a0.78 0.78 0 1 0 -1.56 0M640.89 194.09a0.78 0.78 0 1 0 1.56 0a0.78 0.78 0 1 0 -1.56 0M667.55 202.33a0.78 0.78 0 1 0 1.56 0a0.78 0.78 0 1 0 -1.56 0M665.26 200.96a0.78 0.78 0 1 0 1.56 0a0.78 0.78 0 1 0 -1.56 0M648.22 194.27a0.78 0.78 0 1 0 1.56 0a0.78 0.78 0 1 0 -1.56 0M639.29 192.06a0.78 0.78 0 1 0 1.56 0a0.78 0.78 0 1 0 -1.56 0M641.81 201.89a0.78 0.78 0 1 0 1.56 0a0.78 0.78 0 1 0 -1.56 0M643.91 197.09a0.78 0.78 0 1 0 1.56 0a0.78 0.78 0 1 0 -1.56 0M649.35 198.42a0.78 0.78 0 1 0 1.56 0a0.78 0.78 0 1 0 -1.56 0M636.84 201.76a0.78 0.78 0 1 0 1.56 0a0.78 0.78 0 1 0 -1.56 0M636.7 201.91a0.78 0.78 0 1 0 1.56 0a0.78 0.78 0 1 0 -1.56 0M626.21 200.45a0.78 0.78 0 1 0 1.56 0a0.78 0.78 0 1 0 -1.56 0M655.06 202.43a0.78 0.78 0 1 0 1.56 0a0.78 0.78 0 1 0 -1.56 0M635.92 201.16a0.78 0.78 0 1 0 1.56 0a0.78 0.78 0 1 0 -1.56 0M648.75 193.51a0.78 0.78 0 1 0 1.56 0a0.78 0.78 0 1 0 -1.56 0M631.41 198.3a0.78 0.78 0 1 0 1.56 0a0.78 0.78 0 1 0 -1.56 0M662.75 194.48a0.78 0.78 0 1 0 1.56 0a0.78 0.78 0 1 0 -1.56 0M654.91 196.16a0.78 0.78 0 1 0 1.56 0a0.78 0.78 0 1 0 -1.56 0M637.46 201.25a0.78 0.78 0 1 0 1.56 0a0.78 0.78 0 1 0 -1.56 0M632.01 199.53a0.78 0.78 0 1 0 1.56 0a0.78 0.78 0 1 0 -1.56 0M638.43 193.15a0.78 0.78 0 1 0 1.56 0a0.78 0.78 0 1 0 -1.56 0M671.54 194.91a0.78 0.78 0 1 0 1.56 0a0.78 0.78 0 1 0 -1.56 0M681.65 194.81a0.78 0.78 0 1 0 1.56 0a0.78 0.78 0 1 0 -1.56 0M656.87 201.24a0.78 0.78 0 1 0 1.56 0a0.78 0.78 0 1 0 -1.56 0M670.34 193.77a0.78 0.78 0 1 0 1.56 0a0.78 0.78 0 1 0 -1.56 0M662.69 201.73a0.78 0.78 0 1 0 1.56 0a0.78 0.78 0 1 0 -1.56 0M655.93 198.76a0.78 0.78 0 1 0 1.56 0a0.78 0.78 0 1 0 -1.56 0M639.96 196.51a0.78 0.78 0 1 0 1.56 0a0.78 0.78 0 1 0 -1.56 0M671.48 201.68a0.78 0.78 0 1 0 1.56 0a0.78 0.78 0 1 0 -1.56 0M674.16 196.54a0.78 0.78 0 1 0 1.56 0a0.78 0.78 0 1 0 -1.56 0M679.79 195.97a0.78 0.78 0 1 0 1.56 0a0.78 0.78 0 1 0 -1.56 0M664.39 201.27a0.78 0.78 0 1 0 1.56 0a0.78 0.78 0 1 0 -1.56 0M626.19 200.44a0.78 0.78 0 1 0 1.56 0a0.78 0.78 0 1 0 -1.56 0M646.02 195.53a0.78 0.78 0 1 0 1.56 0a0.78 0.78 0 1 0 -1.56 0M639.52 201.78a0.78 0.78 0 1 0 1.56 0a0.78 0.78 0 1 0 -1.56 0M651.32 201.77a0.78 0.78 0 1 0 1.56 0a0.78 0.78 0 1 0 -1.56 0M680.4 195a0.78 0.78 0 1 0 1.56 0a0.78 0.78 0 1 0 -1.56 0M668.22 195.63a0.78 0.78 0 1 0 1.56 0a0.78 0.78 0 1 0 -1.56 0M675.7 193.82a0.78 0.78 0 1 0 1.56 0a0.78 0.78 0 1 0 -1.56 0M640.27 197.45a0.78 0.78 0 1 0 1.56 0a0.78 0.78 0 1 0 -1.56 0M659.96 194.14a0.78 0.78 0 1 0 1.56 0a0.78 0.78 0 1 0 -1.56 0M679.8 195.32a0.78 0.78 0 1 0 1.56 0a0.78 0.78 0 1 0 -1.56 0M671.98 197.31a0.78 0.78 0 1 0 1.56 0a0.78 0.78 0 1 0 -1.56 0M636.29 192.31a0.78 0.78 0 1 0 1.56 0a0.78 0.78 0 1 0 -1.56 0M653.81 200.96a0.78 0.78 0 1 0 1.56 0a0.78 0.78 0 1 0 -1.56 0M658.54 200.4a0.78 0.78 0 1 0 1.56 0a0.78 0.78 0 1 0 -1.56 0M656.37 197.7a0.78 0.78 0 1 0 1.56 0a0.78 0.78 0 1 0 -1.56 0M660.43 192.61a0.78 0.78 0 1 0 1.56 0a0.78 0.78 0 1 0 -1.56 0M671.97 193.09a0.78 0.78 0 1 0 1.56 0a0.78 0.78 0 1 0 -1.56 0M646.24 193.56a0.78 0.78 0 1 0 1.56 0a0.78 0.78 0 1 0 -1.56 0M663.24 202.43a0.78 0.78 0 1 0 1.56 0a0.78 0.78 0 1 0 -1.56 0M654.35 201.59a0.78 0.78 0 1 0 1.56 0a0.78 0.78 0 1 0 -1.56 0M647.13 195.52a0.78 0.78 0 1 0 1.56 0a0.78 0.78 0 1 0 -1.56 0M675.12 196.56a0.78 0.78 0 1 0 1.56 0a0.78 0.78 0 1 0 -1.56 0M626.58 197.12a0.78 0.78 0 1 0 1.56 0a0.78 0.78 0 1 0 -1.56 0M649.83 201.4a0.78 0.78 0 1 0 1.56 0a0.78 0.78 0 1 0 -1.56 0M662.26 200.78a0.78 0.78 0 1 0 1.56 0a0.78 0.78 0 1 0 -1.56 0M661.96 202.78a0.78 0.78 0 1 0 1.56 0a0.78 0.78 0 1 0 -1.56 0M677.37 200a0.78 0.78 0 1 0 1.56 0a0.78 0.78 0 1 0 -1.56 0M672.19 201.75a0.78 0.78 0 1 0 1.56 0a0.78 0.78 0 1 0 -1.56 0M673.96 193.35a0.78 0.78 0 1 0 1.56 0a0.78 0.78 0 1 0 -1.56 0M672.06 201.78a0.78 0.78 0 1 0 1.56 0a0.78 0.78 0 1 0 -1.56 0M650.34 197.72a0.78 0.78 0 1 0 1.56 0a0.78 0.78 0 1 0 -1.56 0M627.97 194.55a0.78 0.78 0 1 0 1.56 0a0.78 0.78 0 1 0 -1.56 0M662.84 196.92a0.78 0.78 0 1 0 1.56 0a0.78 0.78 0 1 0 -1.56 0M629.89 198.44a0.78 0.78 0 1 0 1.56 0a0.78 0.78 0 1 0 -1.56 0M645.88 195.24a0.78 0.78 0 1 0 1.56 0a0.78 0.78 0 1 0 -1.56 0M674.54 200.13a0.78 0.78 0 1 0 1.56 0a0.78 0.78 0 1 0 -1.56 0M660.51 194.84a0.78 0.78 0 1 0 1.56 0a0.78 0.78 0 1 0 -1.56 0M638.68 196.1a0.78 0.78 0 1 0 1.56 0a0.78 0.78 0 1 0 -1.56 0M631.75 201.59a0.78 0.78 0 1 0 1.56 0a0.78 0.78 0 1 0 -1.56 0M632.1 195.87a0.78 0.78 0 1 0 1.56 0a0.78 0.78 0 1 0 -1.56 0M672.96 194a0.78 0.78 0 1 0 1.56 0a0.78 0.78 0 1 0 -1.56 0M668.84 201.28a0.78 0.78 0 1 0 1.56 0a0.78 0.78 0 1 0 -1.56 0M649.83 202.67a0.78 0.78 0 1 0 1.56 0a0.78 0.78 0 1 0 -1.56 0M643.37 197.75a0.78 0.78 0 1 0 1.56 0a0.78 0.78 0 1 0 -1.56 0M660.77 193.48a0.78 0.78 0 1 0 1.56 0a0.78 0.78 0 1 0 -1.56 0M658.42 197.54a0.78 0.78 0 1 0 1.56 0a0.78 0.78 0 1 0 -1.56 0M650.49 201.76a0.78 0.78 0 1 0 1.56 0a0.78 0.78 0 1 0 -1.56 0M652.28 203.3a0.78 0.78 0 1 0 1.56 0a0.78 0.78 0 1 0 -1.56 0M679.08 200.68a0.78 0.78 0 1 0 1.56 0a0.78 0.78 0 1 0 -1.56 0M630.59 199.37a0.78 0.78 0 1 0 1.56 0a0.78 0.78 0 1 0 -1.56 0M648.92 196.03a0.78 0.78 0 1 0 1.56 0a0.78 0.78 0 1 0 -1.56 0M653.7 201.76a0.78 0.78 0 1 0 1.56 0a0.78 0.78 0 1 0 -1.56 0M660.7 198.65a0.78 0.78 0 1 0 1.56 0a0.78 0.78 0 1 0 -1.56 0M644.26 202.32a0.78 0.78 0 1 0 1.56 0a0.78 0.78 0 1 0 -1.56 0M677.41 198.89a0.78 0.78 0 1 0 1.56 0a0.78 0.78 0 1 0 -1.56 0M676.51 199.38a0.78 0.78 0 1 0 1.56 0a0.78 0.78 0 1 0 -1.56 0M638.42 194.12a0.78 0.78 0 1 0 1.56 0a0.78 0.78 0 1 0 -1.56 0M669.41 197.88a0.78 0.78 0 1 0 1.56 0a0.78 0.78 0 1 0 -1.56 0M663.36 202a0.78 0.78 0 1 0 1.56 0a0.78 0.78 0 1 0 -1.56 0M644.89 202.52a0.78 0.78 0 1 0 1.56 0a0.78 0.78 0 1 0 -1.56 0M669.56 194.58a0.78 0.78 0 1 0 1.56 0a0.78 0.78 0 1 0 -1.56 0M636.2 200.79a0.78 0.78 0 1 0 1.56 0a0.78 0.78 0 1 0 -1.56 0M665.43 199.31a0.78 0.78 0 1 0 1.56 0a0.78 0.78 0 1 0 -1.56 0M679.18 197.5a0.78 0.78 0 1 0 1.56 0a0.78 0.78 0 1 0 -1.56 0M637.56 200.18a0.78 0.78 0 1 0 1.56 0a0.78 0.78 0 1 0 -1.56 0M661.82 202.25a0.78 0.78 0 1 0 1.56 0a0.78 0.78 0 1 0 -1.56 0M676.31 196.44a0.78 0.78 0 1 0 1.56 0a0.78 0.78 0 1 0 -1.56 0M636.82 194.18a0.78 0.78 0 1 0 1.56 0a0.78 0.78 0 1 0 -1.56 0M670.66 196.52a0.78 0.78 0 1 0 1.56 0a0.78 0.78 0 1 0 -1.56 0M644.58 199.67a0.78 0.78 0 1 0 1.56 0a0.78 0.78 0 1 0 -1.56 0M673.91 192.87a0.78 0.78 0 1 0 1.56 0a0.78 0.78 0 1 0 -1.56 0M644.73 202.31a0.78 0.78 0 1 0 1.56 0a0.78 0.78 0 1 0 -1.56 0M667.6 202.11a0.78 0.78 0 1 0 1.56 0a0.78 0.78 0 1 0 -1.56 0M660.04 195.18a0.78 0.78 0 1 0 1.56 0a0.78 0.78 0 1 0 -1.56 0M644.05 202.15a0.78 0.78 0 1 0 1.56 0a0.78 0.78 0 1 0 -1.56 0M661.25 197.66a0.78 0.78 0 1 0 1.56 0a0.78 0.78 0 1 0 -1.56 0M659.46 202.28a0.78 0.78 0 1 0 1.56 0a0.78 0.78 0 1 0 -1.56 0M664.79 198.91a0.78 0.78 0 1 0 1.56 0a0.78 0.78 0 1 0 -1.56 0M647.36 202.47a0.78 0.78 0 1 0 1.56 0a0.78 0.78 0 1 0 -1.56 0M671.99 195.81a0.78 0.78 0 1 0 1.56 0a0.78 0.78 0 1 0 -1.56 0M668.28 201.05a0.78 0.78 0 1 0 1.56 0a0.78 0.78 0 1 0 -1.56 0M668.88 198.52a0.78 0.78 0 1 0 1.56 0a0.78 0.78 0 1 0 -1.56 0M640.72 192.27a0.78 0.78 0 1 0 1.56 0a0.78 0.78 0 1 0 -1.56 0M660.86 201.31a0.78 0.78 0 1 0 1.56 0a0.78 0.78 0 1 0 -1.56 0M640.11 196.64a0.78 0.78 0 1 0 1.56 0a0.78 0.78 0 1 0 -1.56 0M665.92 194.75a0.78 0.78 0 1 0 1.56 0a0.78 0.78 0 1 0 -1.56 0M644.47 193.49a0.78 0.78 0 1 0 1.56 0a0.78 0.78 0 1 0 -1.56 0M674.69 195.43a0.78 0.78 0 1 0 1.56 0a0.78 0.78 0 1 0 -1.56 0M675.26 199.07a0.78 0.78 0 1 0 1.56 0a0.78 0.78 0 1 0 -1.56 0M624.87 193.27a0.78 0.78 0 1 0 1.56 0a0.78 0.78 0 1 0 -1.56 0M639.57 192.72a0.78 0.78 0 1 0 1.56 0a0.78 0.78 0 1 0 -1.56 0M647.31 202.06a0.78 0.78 0 1 0 1.56 0a0.78 0.78 0 1 0 -1.56 0M639.45 199.55a0.78 0.78 0 1 0 1.56 0a0.78 0.78 0 1 0 -1.56 0M651.41 200.56a0.78 0.78 0 1 0 1.56 0a0.78 0.78 0 1 0 -1.56 0M654.18 198.97a0.78 0.78 0 1 0 1.56 0a0.78 0.78 0 1 0 -1.56 0M672.57 193.75a0.78 0.78 0 1 0 1.56 0a0.78 0.78 0 1 0 -1.56 0M651.86 203.1a0.78 0.78 0 1 0 1.56 0a0.78 0.78 0 1 0 -1.56 0M628.76 197.91a0.78 0.78 0 1 0 1.56 0a0.78 0.78 0 1 0 -1.56 0M635.19 197.23a0.78 0.78 0 1 0 1.56 0a0.78 0.78 0 1 0 -1.56 0M662.39 199.39a0.78 0.78 0 1 0 1.56 0a0.78 0.78 0 1 0 -1.56 0M637.68 201.55a0.78 0.78 0 1 0 1.56 0a0.78 0.78 0 1 0 -1.56 0M650.93 200.13a0.78 0.78 0 1 0 1.56 0a0.78 0.78 0 1 0 -1.56 0M669.21 192.26a0.78 0.78 0 1 0 1.56 0a0.78 0.78 0 1 0 -1.56 0M650.95 202.42a0.78 0.78 0 1 0 1.56 0a0.78 0.78 0 1 0 -1.56 0M672.85 200.86a0.78 0.78 0 1 0 1.56 0a0.78 0.78 0 1 0 -1.56 0M668.92 200.9a0.78 0.78 0 1 0 1.56 0a0.78 0.78 0 1 0 -1.56 0M630.25 200.39a0.78 0.78 0 1 0 1.56 0a0.78 0.78 0 1 0 -1.56 0M648.04 201.77a0.78 0.78 0 1 0 1.56 0a0.78 0.78 0 1 0 -1.56 0M639.45 200.95a0.78 0.78 0 1 0 1.56 0a0.78 0.78 0 1 0 -1.56 0M659.88 201.07a0.78 0.78 0 1 0 1.56 0a0.78 0.78 0 1 0 -1.56 0M647.22 202.96a0.78 0.78 0 1 0 1.56 0a0.78 0.78 0 1 0 -1.56 0M637.51 193.47a0.78 0.78 0 1 0 1.56 0a0.78 0.78 0 1 0 -1.56 0M661.92 199.56a0.78 0.78 0 1 0 1.56 0a0.78 0.78 0 1 0 -1.56 0M642.47 202.61a0.78 0.78 0 1 0 1.56 0a0.78 0.78 0 1 0 -1.56 0M648.04 201.78a0.78 0.78 0 1 0 1.56 0a0.78 0.78 0 1 0 -1.56 0M649.31 197.29a0.78 0.78 0 1 0 1.56 0a0.78 0.78 0 1 0 -1.56 0M636.54 195.91a0.78 0.78 0 1 0 1.56 0a0.78 0.78 0 1 0 -1.56 0M629.32 198.15a0.78 0.78 0 1 0 1.56 0a0.78 0.78 0 1 0 -1.56 0M643.42 202.5a0.78 0.78 0 1 0 1.56 0a0.78 0.78 0 1 0 -1.56 0M674.23 201.43a0.78 0.78 0 1 0 1.56 0a0.78 0.78 0 1 0 -1.56 0M660.93 201.8a0.78 0.78 0 1 0 1.56 0a0.78 0.78 0 1 0 -1.56 0M637.43 194.32a0.78 0.78 0 1 0 1.56 0a0.78 0.78 0 1 0 -1.56 0M636.47 192.87a0.78 0.78 0 1 0 1.56 0a0.78 0.78 0 1 0 -1.56 0M673.76 197.54a0.78 0.78 0 1 0 1.56 0a0.78 0.78 0 1 0 -1.56 0M679.59 198.49a0.78 0.78 0 1 0 1.56 0a0.78 0.78 0 1 0 -1.56 0M669.43 193.91a0.78 0.78 0 1 0 1.56 0a0.78 0.78 0 1 0 -1.56 0M637.91 200.66a0.78 0.78 0 1 0 1.56 0a0.78 0.78 0 1 0 -1.56 0M648.09 197.56a0.78 0.78 0 1 0 1.56 0a0.78 0.78 0 1 0 -1.56 0M663.08 202.39a0.78 0.78 0 1 0 1.56 0a0.78 0.78 0 1 0 -1.56 0M671.38 198.63a0.78 0.78 0 1 0 1.56 0a0.78 0.78 0 1 0 -1.56 0M641.66 201.17a0.78 0.78 0 1 0 1.56 0a0.78 0.78 0 1 0 -1.56 0M664.24 195.8a0.78 0.78 0 1 0 1.56 0a0.78 0.78 0 1 0 -1.56 0M659.56 200.96a0.78 0.78 0 1 0 1.56 0a0.78 0.78 0 1 0 -1.56 0M679.02 200.2a0.78 0.78 0 1 0 1.56 0a0.78 0.78 0 1 0 -1.56 0M649.42 202.01a0.78 0.78 0 1 0 1.56 0a0.78 0.78 0 1 0 -1.56 0M630.04 196.74a0.78 0.78 0 1 0 1.56 0a0.78 0.78 0 1 0 -1.56 0M640.74 201.85a0.78 0.78 0 1 0 1.56 0a0.78 0.78 0 1 0 -1.56 0M634.54 197.98a0.78 0.78 0 1 0 1.56 0a0.78 0.78 0 1 0 -1.56 0M643.88 193.46a0.78 0.78 0 1 0 1.56 0a0.78 0.78 0 1 0 -1.56 0M670.99 199.71a0.78 0.78 0 1 0 1.56 0a0.78 0.78 0 1 0 -1.56 0M639.31 196.52a0.78 0.78 0 1 0 1.56 0a0.78 0.78 0 1 0 -1.56 0M661.36 196.28a0.78 0.78 0 1 0 1.56 0a0.78 0.78 0 1 0 -1.56 0M666.9 199.3a0.78 0.78 0 1 0 1.56 0a0.78 0.78 0 1 0 -1.56 0M679.33 192.84a0.78 0.78 0 1 0 1.56 0a0.78 0.78 0 1 0 -1.56 0M658.95 202.43a0.78 0.78 0 1 0 1.56 0a0.78 0.78 0 1 0 -1.56 0M623.51 194.64a0.78 0.78 0 1 0 1.56 0a0.78 0.78 0 1 0 -1.56 0M650.54 200.62a0.78 0.78 0 1 0 1.56 0a0.78 0.78 0 1 0 -1.56 0M667.5 199.51a0.78 0.78 0 1 0 1.56 0a0.78 0.78 0 1 0 -1.56 0M651.03 199.29a0.78 0.78 0 1 0 1.56 0a0.78 0.78 0 1 0 -1.56 0M682.35 200.11a0.78 0.78 0 1 0 1.56 0a0.78 0.78 0 1 0 -1.56 0M646.08 202.67a0.78 0.78 0 1 0 1.56 0a0.78 0.78 0 1 0 -1.56 0M674.4 201.4a0.78 0.78 0 1 0 1.56 0a0.78 0.78 0 1 0 -1.56 0M646.66 196.67a0.78 0.78 0 1 0 1.56 0a0.78 0.78 0 1 0 -1.56 0M638.87 201.64a0.78 0.78 0 1 0 1.56 0a0.78 0.78 0 1 0 -1.56 0M637.36 197.7a0.78 0.78 0 1 0 1.56 0a0.78 0.78 0 1 0 -1.56 0M635.22 201.19a0.78 0.78 0 1 0 1.56 0a0.78 0.78 0 1 0 -1.56 0M671.11 200.74a0.78 0.78 0 1 0 1.56 0a0.78 0.78 0 1 0 -1.56 0M663.08 201.45a0.78 0.78 0 1 0 1.56 0a0.78 0.78 0 1 0 -1.56 0M636.84 201.02a0.78 0.78 0 1 0 1.56 0a0.78 0.78 0 1 0 -1.56 0M646.2 202.04a0.78 0.78 0 1 0 1.56 0a0.78 0.78 0 1 0 -1.56 0M673.99 192.41a0.78 0.78 0 1 0 1.56 0a0.78 0.78 0 1 0 -1.56 0M646.97 193.2a0.78 0.78 0 1 0 1.56 0a0.78 0.78 0 1 0 -1.56 0M656.15 202.47a0.78 0.78 0 1 0 1.56 0a0.78 0.78 0 1 0 -1.56 0M641.19 199.32a0.78 0.78 0 1 0 1.56 0a0.78 0.78 0 1 0 -1.56 0M665.13 199.56a0.78 0.78 0 1 0 1.56 0a0.78 0.78 0 1 0 -1.56 0M677.05 198.06a0.78 0.78 0 1 0 1.56 0a0.78 0.78 0 1 0 -1.56 0M646.6 201.38a0.78 0.78 0 1 0 1.56 0a0.78 0.78 0 1 0 -1.56 0M670.56 198.95a0.78 0.78 0 1 0 1.56 0a0.78 0.78 0 1 0 -1.56 0M667.64 200.25a0.78 0.78 0 1 0 1.56 0a0.78 0.78 0 1 0 -1.56 0M639.05 193.37a0.78 0.78 0 1 0 1.56 0a0.78 0.78 0 1 0 -1.56 0M661.37 199a0.78 0.78 0 1 0 1.56 0a0.78 0.78 0 1 0 -1.56 0M652.07 202.41a0.78 0.78 0 1 0 1.56 0a0.78 0.78 0 1 0 -1.56 0M637.69 200.21a0.78 0.78 0 1 0 1.56 0a0.78 0.78 0 1 0 -1.56 0M642.37 200.1a0.78 0.78 0 1 0 1.56 0a0.78 0.78 0 1 0 -1.56 0M633.76 200.61a0.78 0.78 0 1 0 1.56 0a0.78 0.78 0 1 0 -1.56 0M632.58 193.34a0.78 0.78 0 1 0 1.56 0a0.78 0.78 0 1 0 -1.56 0M678.24 199.8a0.78 0.78 0 1 0 1.56 0a0.78 0.78 0 1 0 -1.56 0M675.72 192.9a0.78 0.78 0 1 0 1.56 0a0.78 0.78 0 1 0 -1.56 0M652.04 203.24a0.78 0.78 0 1 0 1.56 0a0.78 0.78 0 1 0 -1.56 0M659.26 199.42a0.78 0.78 0 1 0 1.56 0a0.78 0.78 0 1 0 -1.56 0M660.87 198.94a0.78 0.78 0 1 0 1.56 0a0.78 0.78 0 1 0 -1.56 0M634.06 195.64a0.78 0.78 0 1 0 1.56 0a0.78 0.78 0 1 0 -1.56 0M670.46 199.86a0.78 0.78 0 1 0 1.56 0a0.78 0.78 0 1 0 -1.56 0M653.12 202.28a0.78 0.78 0 1 0 1.56 0a0.78 0.78 0 1 0 -1.56 0M672.39 196.58a0.78 0.78 0 1 0 1.56 0a0.78 0.78 0 1 0 -1.56 0M662.22 196.24a0.78 0.78 0 1 0 1.56 0a0.78 0.78 0 1 0 -1.56 0M632.56 199.8a0.78 0.78 0 1 0 1.56 0a0.78 0.78 0 1 0 -1.56 0M672.93 192.48a0.78 0.78 0 1 0 1.56 0a0.78 0.78 0 1 0 -1.56 0M629.14 201.42a0.78 0.78 0 1 0 1.56 0a0.78 0.78 0 1 0 -1.56 0M648.88 192a0.78 0.78 0 1 0 1.56 0a0.78 0.78 0 1 0 -1.56 0M632.63 197.41a0.78 0.78 0 1 0 1.56 0a0.78 0.78 0 1 0 -1.56 0M660.6 202.03a0.78 0.78 0 1 0 1.56 0a0.78 0.78 0 1 0 -1.56 0M651.43 201.96a0.78 0.78 0 1 0 1.56 0a0.78 0.78 0 1 0 -1.56 0M640.3 195.2a0.78 0.78 0 1 0 1.56 0a0.78 0.78 0 1 0 -1.56 0M646.06 198.33a0.78 0.78 0 1 0 1.56 0a0.78 0.78 0 1 0 -1.56 0M662.17 201.47a0.78 0.78 0 1 0 1.56 0a0.78 0.78 0 1 0 -1.56 0M641.14 199.7a0.78 0.78 0 1 0 1.56 0a0.78 0.78 0 1 0 -1.56 0M659.89 200.32a0.78 0.78 0 1 0 1.56 0a0.78 0.78 0 1 0 -1.56 0M658.88 202.96a0.78 0.78 0 1 0 1.56 0a0.78 0.78 0 1 0 -1.56 0M638.12 201.09a0.78 0.78 0 1 0 1.56 0a0.78 0.78 0 1 0 -1.56 0M679.69 198.2a0.78 0.78 0 1 0 1.56 0a0.78 0.78 0 1 0 -1.56 0M657.82 192.2a0.78 0.78 0 1 0 1.56 0a0.78 0.78 0 1 0 -1.56 0M665.1 195.42a0.78 0.78 0 1 0 1.56 0a0.78 0.78 0 1 0 -1.56 0M650.53 198.58a0.78 0.78 0 1 0 1.56 0a0.78 0.78 0 1 0 -1.56 0M638.22 193.96a0.78 0.78 0 1 0 1.56 0a0.78 0.78 0 1 0 -1.56 0M660.68 201.53a0.78 0.78 0 1 0 1.56 0a0.78 0.78 0 1 0 -1.56 0M668.16 193.27a0.78 0.78 0 1 0 1.56 0a0.78 0.78 0 1 0 -1.56 0M637.94 198.77a0.78 0.78 0 1 0 1.56 0a0.78 0.78 0 1 0 -1.56 0M646.69 199.95a0.78 0.78 0 1 0 1.56 0a0.78 0.78 0 1 0 -1.56 0M658.48 200.6a0.78 0.78 0 1 0 1.56 0a0.78 0.78 0 1 0 -1.56 0M648.9 199.01a0.78 0.78 0 1 0 1.56 0a0.78 0.78 0 1 0 -1.56 0M663.3 195.55a0.78 0.78 0 1 0 1.56 0a0.78 0.78 0 1 0 -1.56 0M654.45 203.13a0.78 0.78 0 1 0 1.56 0a0.78 0.78 0 1 0 -1.56 0M671.1 197.32a0.78 0.78 0 1 0 1.56 0a0.78 0.78 0 1 0 -1.56 0M641.74 195.78a0.78 0.78 0 1 0 1.56 0a0.78 0.78 0 1 0 -1.56 0M635.96 200.74a0.78 0.78 0 1 0 1.56 0a0.78 0.78 0 1 0 -1.56 0M667.24 202.4a0.78 0.78 0 1 0 1.56 0a0.78 0.78 0 1 0 -1.56 0M677.17 192.69a0.78 0.78 0 1 0 1.56 0a0.78 0.78 0 1 0 -1.56 0M666.85 200.58a0.78 0.78 0 1 0 1.56 0a0.78 0.78 0 1 0 -1.56 0M665.38 200.15a0.78 0.78 0 1 0 1.56 0a0.78 0.78 0 1 0 -1.56 0M633.57 195.58a0.78 0.78 0 1 0 1.56 0a0.78 0.78 0 1 0 -1.56 0M657.2 201.79a0.78 0.78 0 1 0 1.56 0a0.78 0.78 0 1 0 -1.56 0M656.5 193.63a0.78 0.78 0 1 0 1.56 0a0.78 0.78 0 1 0 -1.56 0M671.89 200.17a0.78 0.78 0 1 0 1.56 0a0.78 0.78 0 1 0 -1.56 0M676.04 196.03a0.78 0.78 0 1 0 1.56 0a0.78 0.78 0 1 0 -1.56 0M680.42 195.58a0.78 0.78 0 1 0 1.56 0a0.78 0.78 0 1 0 -1.56 0M662.05 202.28a0.78 0.78 0 1 0 1.56 0a0.78 0.78 0 1 0 -1.56 0M659.35 192.44a0.78 0.78 0 1 0 1.56 0a0.78 0.78 0 1 0 -1.56 0M634.45 199.77a0.78 0.78 0 1 0 1.56 0a0.78 0.78 0 1 0 -1.56 0M671.48 201.44a0.78 0.78 0 1 0 1.56 0a0.78 0.78 0 1 0 -1.56 0M649.02 198.78a0.78 0.78 0 1 0 1.56 0a0.78 0.78 0 1 0 -1.56 0M662.22 196.38a0.78 0.78 0 1 0 1.56 0a0.78 0.78 0 1 0 -1.56 0M626.86 199.59a0.78 0.78 0 1 0 1.56 0a0.78 0.78 0 1 0 -1.56 0M653.43 201.65a0.78 0.78 0 1 0 1.56 0a0.78 0.78 0 1 0 -1.56 0M664.33 193.5a0.78 0.78 0 1 0 1.56 0a0.78 0.78 0 1 0 -1.56 0M667.8 200.36a0.78 0.78 0 1 0 1.56 0a0.78 0.78 0 1 0 -1.56 0M650.14 198.23a0.78 0.78 0 1 0 1.56 0a0.78 0.78 0 1 0 -1.56 0M658.28 198.26a0.78 0.78 0 1 0 1.56 0a0.78 0.78 0 1 0 -1.56 0M643.07 196.44a0.78 0.78 0 1 0 1.56 0a0.78 0.78 0 1 0 -1.56 0M636.15 201.51a0.78 0.78 0 1 0 1.56 0a0.78 0.78 0 1 0 -1.56 0M659.01 192.98a0.78 0.78 0 1 0 1.56 0a0.78 0.78 0 1 0 -1.56 0M653.65 202.51a0.78 0.78 0 1 0 1.56 0a0.78 0.78 0 1 0 -1.56 0M641.63 192.87a0.78 0.78 0 1 0 1.56 0a0.78 0.78 0 1 0 -1.56 0M662.53 194.6a0.78 0.78 0 1 0 1.56 0a0.78 0.78 0 1 0 -1.56 0M635.47 199.2a0.78 0.78 0 1 0 1.56 0a0.78 0.78 0 1 0 -1.56 0M672.17 196.55a0.78 0.78 0 1 0 1.56 0a0.78 0.78 0 1 0 -1.56 0M637.62 193.38a0.78 0.78 0 1 0 1.56 0a0.78 0.78 0 1 0 -1.56 0M672.11 198.28a0.78 0.78 0 1 0 1.56 0a0.78 0.78 0 1 0 -1.56 0M649.66 203.06a0.78 0.78 0 1 0 1.56 0a0.78 0.78 0 1 0 -1.56 0M658.96 194.12a0.78 0.78 0 1 0 1.56 0a0.78 0.78 0 1 0 -1.56 0M636.04 200.79a0.78 0.78 0 1 0 1.56 0a0.78 0.78 0 1 0 -1.56 0M629.77 192.21a0.78 0.78 0 1 0 1.56 0a0.78 0.78 0 1 0 -1.56 0M663.28 198.75a0.78 0.78 0 1 0 1.56 0a0.78 0.78 0 1 0 -1.56 0M670.71 193.06a0.78 0.78 0 1 0 1.56 0a0.78 0.78 0 1 0 -1.56 0M651.61 200.75a0.78 0.78 0 1 0 1.56 0a0.78 0.78 0 1 0 -1.56 0M644.15 193.63a0.78 0.78 0 1 0 1.56 0a0.78 0.78 0 1 0 -1.56 0M656.03 197.63a0.78 0.78 0 1 0 1.56 0a0.78 0.78 0 1 0 -1.56 0M650.84 201.01a0.78 0.78 0 1 0 1.56 0a0.78 0.78 0 1 0 -1.56 0M665.58 197.48a0.78 0.78 0 1 0 1.56 0a0.78 0.78 0 1 0 -1.56 0M633.33 196.71a0.78 0.78 0 1 0 1.56 0a0.78 0.78 0 1 0 -1.56 0M634.77 192.86a0.78 0.78 0 1 0 1.56 0a0.78 0.78 0 1 0 -1.56 0M671.45 197.69a0.78 0.78 0 1 0 1.56 0a0.78 0.78 0 1 0 -1.56 0M666.45 195.81a0.78 0.78 0 1 0 1.56 0a0.78 0.78 0 1 0 -1.56 0M635.14 195.37a0.78 0.78 0 1 0 1.56 0a0.78 0.78 0 1 0 -1.56 0M671.03 199.11a0.78 0.78 0 1 0 1.56 0a0.78 0.78 0 1 0 -1.56 0M632.01 198.43a0.78 0.78 0 1 0 1.56 0a0.78 0.78 0 1 0 -1.56 0M643.42 196.99a0.78 0.78 0 1 0 1.56 0a0.78 0.78 0 1 0 -1.56 0M658.5 196.78a0.78 0.78 0 1 0 1.56 0a0.78 0.78 0 1 0 -1.56 0M672.08 196.08a0.78 0.78 0 1 0 1.56 0a0.78 0.78 0 1 0 -1.56 0M671.85 192.93a0.78 0.78 0 1 0 1.56 0a0.78 0.78 0 1 0 -1.56 0M672.57 194.54a0.78 0.78 0 1 0 1.56 0a0.78 0.78 0 1 0 -1.56 0M630.86 192.05a0.78 0.78 0 1 0 1.56 0a0.78 0.78 0 1 0 -1.56 0M650.53 197.57a0.78 0.78 0 1 0 1.56 0a0.78 0.78 0 1 0 -1.56 0M645.4 192.03a0.78 0.78 0 1 0 1.56 0a0.78 0.78 0 1 0 -1.56 0M661.52 199.98a0.78 0.78 0 1 0 1.56 0a0.78 0.78 0 1 0 -1.56 0M644.63 202.21a0.78 0.78 0 1 0 1.56 0a0.78 0.78 0 1 0 -1.56 0M675.08 200.98a0.78 0.78 0 1 0 1.56 0a0.78 0.78 0 1 0 -1.56 0M669.45 192.2a0.78 0.78 0 1 0 1.56 0a0.78 0.78 0 1 0 -1.56 0M638.89 202.52a0.78 0.78 0 1 0 1.56 0a0.78 0.78 0 1 0 -1.56 0M659.85 193.68a0.78 0.78 0 1 0 1.56 0a0.78 0.78 0 1 0 -1.56 0M674.44 196.92a0.78 0.78 0 1 0 1.56 0a0.78 0.78 0 1 0 -1.56 0M644.29 201.32a0.78 0.78 0 1 0 1.56 0a0.78 0.78 0 1 0 -1.56 0M643.16 200.46a0.78 0.78 0 1 0 1.56 0a0.78 0.78 0 1 0 -1.56 0M657.38 196.25a0.78 0.78 0 1 0 1.56 0a0.78 0.78 0 1 0 -1.56 0M662.1 202.37a0.78 0.78 0 1 0 1.56 0a0.78 0.78 0 1 0 -1.56 0M646.13 202.32a0.78 0.78 0 1 0 1.56 0a0.78 0.78 0 1 0 -1.56 0M646.77 195.57a0.78 0.78 0 1 0 1.56 0a0.78 0.78 0 1 0 -1.56 0M664.76 195.8a0.78 0.78 0 1 0 1.56 0a0.78 0.78 0 1 0 -1.56 0M646.14 200.65a0.78 0.78 0 1 0 1.56 0a0.78 0.78 0 1 0 -1.56 0M644.68 194.86a0.78 0.78 0 1 0 1.56 0a0.78 0.78 0 1 0 -1.56 0M640.43 195.53a0.78 0.78 0 1 0 1.56 0a0.78 0.78 0 1 0 -1.56 0M658.42 201.74a0.78 0.78 0 1 0 1.56 0a0.78 0.78 0 1 0 -1.56 0M658.66 202.73a0.78 0.78 0 1 0 1.56 0a0.78 0.78 0 1 0 -1.56 0M655.44 194.28a0.78 0.78 0 1 0 1.56 0a0.78 0.78 0 1 0 -1.56 0M661.3 202.05a0.78 0.78 0 1 0 1.56 0a0.78 0.78 0 1 0 -1.56 0M656.31 200.09a0.78 0.78 0 1 0 1.56 0a0.78 0.78 0 1 0 -1.56 0M649.98 198.31a0.78 0.78 0 1 0 1.56 0a0.78 0.78 0 1 0 -1.56 0M624 194.99a0.78 0.78 0 1 0 1.56 0a0.78 0.78 0 1 0 -1.56 0M672.37 199.49a0.78 0.78 0 1 0 1.56 0a0.78 0.78 0 1 0 -1.56 0M635.38 198.88a0.78 0.78 0 1 0 1.56 0a0.78 0.78 0 1 0 -1.56 0M625.85 194.97a0.78 0.78 0 1 0 1.56 0a0.78 0.78 0 1 0 -1.56 0M661.89 202.52a0.78 0.78 0 1 0 1.56 0a0.78 0.78 0 1 0 -1.56 0M636.87 195.04a0.78 0.78 0 1 0 1.56 0a0.78 0.78 0 1 0 -1.56 0M680.61 198.95a0.78 0.78 0 1 0 1.56 0a0.78 0.78 0 1 0 -1.56 0M637.43 199.94a0.78 0.78 0 1 0 1.56 0a0.78 0.78 0 1 0 -1.56 0M674.83 198.24a0.78 0.78 0 1 0 1.56 0a0.78 0.78 0 1 0 -1.56 0M677 192.16a0.78 0.78 0 1 0 1.56 0a0.78 0.78 0 1 0 -1.56 0M628.44 199.23a0.78 0.78 0 1 0 1.56 0a0.78 0.78 0 1 0 -1.56 0M634.33 193.68a0.78 0.78 0 1 0 1.56 0a0.78 0.78 0 1 0 -1.56 0M624.4 199.8a0.78 0.78 0 1 0 1.56 0a0.78 0.78 0 1 0 -1.56 0M667.41 199.87a0.78 0.78 0 1 0 1.56 0a0.78 0.78 0 1 0 -1.56 0M644.15 192.83a0.78 0.78 0 1 0 1.56 0a0.78 0.78 0 1 0 -1.56 0M650.59 199.6a0.78 0.78 0 1 0 1.56 0a0.78 0.78 0 1 0 -1.56 0M630.8 200.43a0.78 0.78 0 1 0 1.56 0a0.78 0.78 0 1 0 -1.56 0M639.28 201.45a0.78 0.78 0 1 0 1.56 0a0.78 0.78 0 1 0 -1.56 0M669.15 199.11a0.78 0.78 0 1 0 1.56 0a0.78 0.78 0 1 0 -1.56 0M656.95 195.65a0.78 0.78 0 1 0 1.56 0a0.78 0.78 0 1 0 -1.56 0M655.71 200.11a0.78 0.78 0 1 0 1.56 0a0.78 0.78 0 1 0 -1.56 0M635.96 195.66a0.78 0.78 0 1 0 1.56 0a0.78 0.78 0 1 0 -1.56 0M665.72 201.52a0.78 0.78 0 1 0 1.56 0a0.78 0.78 0 1 0 -1.56 0M669.17 193.53a0.78 0.78 0 1 0 1.56 0a0.78 0.78 0 1 0 -1.56 0M644.72 194.08a0.78 0.78 0 1 0 1.56 0a0.78 0.78 0 1 0 -1.56 0M630.96 201.47a0.78 0.78 0 1 0 1.56 0a0.78 0.78 0 1 0 -1.56 0M657.05 193.04a0.78 0.78 0 1 0 1.56 0a0.78 0.78 0 1 0 -1.56 0M631.89 196.79a0.78 0.78 0 1 0 1.56 0a0.78 0.78 0 1 0 -1.56 0M659.48 192.1a0.78 0.78 0 1 0 1.56 0a0.78 0.78 0 1 0 -1.56 0M674.64 200.25a0.78 0.78 0 1 0 1.56 0a0.78 0.78 0 1 0 -1.56 0M669.72 192.14a0.78 0.78 0 1 0 1.56 0a0.78 0.78 0 1 0 -1.56 0M675.51 200.53a0.78 0.78 0 1 0 1.56 0a0.78 0.78 0 1 0 -1.56 0M649.34 201.73a0.78 0.78 0 1 0 1.56 0a0.78 0.78 0 1 0 -1.56 0M676.08 198.82a0.78 0.78 0 1 0 1.56 0a0.78 0.78 0 1 0 -1.56 0M657.17 201.58a0.78 0.78 0 1 0 1.56 0a0.78 0.78 0 1 0 -1.56 0M644.36 195.62a0.78 0.78 0 1 0 1.56 0a0.78 0.78 0 1 0 -1.56 0M675.35 196.81a0.78 0.78 0 1 0 1.56 0a0.78 0.78 0 1 0 -1.56 0M635.34 197.71a0.78 0.78 0 1 0 1.56 0a0.78 0.78 0 1 0 -1.56 0M626.07 194.53a0.78 0.78 0 1 0 1.56 0a0.78 0.78 0 1 0 -1.56 0M645.2 195.46a0.78 0.78 0 1 0 1.56 0a0.78 0.78 0 1 0 -1.56 0M671.48 192.86a0.78 0.78 0 1 0 1.56 0a0.78 0.78 0 1 0 -1.56 0M645.42 198.88a0.78 0.78 0 1 0 1.56 0a0.78 0.78 0 1 0 -1.56 0M640.6 194.92a0.78 0.78 0 1 0 1.56 0a0.78 0.78 0 1 0 -1.56 0M630.21 201.53a0.78 0.78 0 1 0 1.56 0a0.78 0.78 0 1 0 -1.56 0M679.14 193.7a0.78 0.78 0 1 0 1.56 0a0.78 0.78 0 1 0 -1.56 0M646.33 195.39a0.78 0.78 0 1 0 1.56 0a0.78 0.78 0 1 0 -1.56 0M631.71 201.72a0.78 0.78 0 1 0 1.56 0a0.78 0.78 0 1 0 -1.56 0M662.62 201.02a0.78 0.78 0 1 0 1.56 0a0.78 0.78 0 1 0 -1.56 0M671.92 200.56a0.78 0.78 0 1 0 1.56 0a0.78 0.78 0 1 0 -1.56 0M654.83 203.08a0.78 0.78 0 1 0 1.56 0a0.78 0.78 0 1 0 -1.56 0M681.02 192.06a0.78 0.78 0 1 0 1.56 0a0.78 0.78 0 1 0 -1.56 0M669.98 197.69a0.78 0.78 0 1 0 1.56 0a0.78 0.78 0 1 0 -1.56 0M681.48 197.71a0.78 0.78 0 1 0 1.56 0a0.78 0.78 0 1 0 -1.56 0M635.69 198.88a0.78 0.78 0 1 0 1.56 0a0.78 0.78 0 1 0 -1.56 0M635.79 201.52a0.78 0.78 0 1 0 1.56 0a0.78 0.78 0 1 0 -1.56 0M677.65 197.76a0.78 0.78 0 1 0 1.56 0a0.78 0.78 0 1 0 -1.56 0M623.37 197.28a0.78 0.78 0 1 0 1.56 0a0.78 0.78 0 1 0 -1.56 0M631.34 198.8a0.78 0.78 0 1 0 1.56 0a0.78 0.78 0 1 0 -1.56 0M643.91 202.11a0.78 0.78 0 1 0 1.56 0a0.78 0.78 0 1 0 -1.56 0M668.43 198.84a0.78 0.78 0 1 0 1.56 0a0.78 0.78 0 1 0 -1.56 0M667.95 201.36a0.78 0.78 0 1 0 1.56 0a0.78 0.78 0 1 0 -1.56 0M635.04 196.16a0.78 0.78 0 1 0 1.56 0a0.78 0.78 0 1 0 -1.56 0M675.42 194.76a0.78 0.78 0 1 0 1.56 0a0.78 0.78 0 1 0 -1.56 0M660.33 202.27a0.78 0.78 0 1 0 1.56 0a0.78 0.78 0 1 0 -1.56 0M678.53 194.1a0.78 0.78 0 1 0 1.56 0a0.78 0.78 0 1 0 -1.56 0M670.63 200.42a0.78 0.78 0 1 0 1.56 0a0.78 0.78 0 1 0 -1.56 0M635.33 202.13a0.78 0.78 0 1 0 1.56 0a0.78 0.78 0 1 0 -1.56 0M646.26 194.86a0.78 0.78 0 1 0 1.56 0a0.78 0.78 0 1 0 -1.56 0M655.2 202.26a0.78 0.78 0 1 0 1.56 0a0.78 0.78 0 1 0 -1.56 0M657.61 194.82a0.78 0.78 0 1 0 1.56 0a0.78 0.78 0 1 0 -1.56 0M679.29 200.52a0.78 0.78 0 1 0 1.56 0a0.78 0.78 0 1 0 -1.56 0M661.49 198.89a0.78 0.78 0 1 0 1.56 0a0.78 0.78 0 1 0 -1.56 0M669.57 197.27a0.78 0.78 0 1 0 1.56 0a0.78 0.78 0 1 0 -1.56 0M636.79 201.14a0.78 0.78 0 1 0 1.56 0a0.78 0.78 0 1 0 -1.56 0M630.01 200.68a0.78 0.78 0 1 0 1.56 0a0.78 0.78 0 1 0 -1.56 0M633.44 200.34a0.78 0.78 0 1 0 1.56 0a0.78 0.78 0 1 0 -1.56 0M631.92 201.03a0.78 0.78 0 1 0 1.56 0a0.78 0.78 0 1 0 -1.56 0M656.9 202.96a0.78 0.78 0 1 0 1.56 0a0.78 0.78 0 1 0 -1.56 0M652.92 202.43a0.78 0.78 0 1 0 1.56 0a0.78 0.78 0 1 0 -1.56 0M639.78 200.19a0.78 0.78 0 1 0 1.56 0a0.78 0.78 0 1 0 -1.56 0M656.93 196.77a0.78 0.78 0 1 0 1.56 0a0.78 0.78 0 1 0 -1.56 0M646.35 192.16a0.78 0.78 0 1 0 1.56 0a0.78 0.78 0 1 0 -1.56 0M638.4 196.37a0.78 0.78 0 1 0 1.56 0a0.78 0.78 0 1 0 -1.56 0M669.38 201.56a0.78 0.78 0 1 0 1.56 0a0.78 0.78 0 1 0 -1.56 0M673.5 198.9a0.78 0.78 0 1 0 1.56 0a0.78 0.78 0 1 0 -1.56 0M654.46 198.18a0.78 0.78 0 1 0 1.56 0a0.78 0.78 0 1 0 -1.56 0M680.7 199.4a0.78 0.78 0 1 0 1.56 0a0.78 0.78 0 1 0 -1.56 0M633.86 199.17a0.78 0.78 0 1 0 1.56 0a0.78 0.78 0 1 0 -1.56 0M647.74 203.17a0.78 0.78 0 1 0 1.56 0a0.78 0.78 0 1 0 -1.56 0M656.81 197.91a0.78 0.78 0 1 0 1.56 0a0.78 0.78 0 1 0 -1.56 0M676.1 199.55a0.78 0.78 0 1 0 1.56 0a0.78 0.78 0 1 0 -1.56 0M639.64 197.17a0.78 0.78 0 1 0 1.56 0a0.78 0.78 0 1 0 -1.56 0M670.67 200.23a0.78 0.78 0 1 0 1.56 0a0.78 0.78 0 1 0 -1.56 0M657.13 202.61a0.78 0.78 0 1 0 1.56 0a0.78 0.78 0 1 0 -1.56 0M634.48 197.14a0.78 0.78 0 1 0 1.56 0a0.78 0.78 0 1 0 -1.56 0M635.19 201.01a0.78 0.78 0 1 0 1.56 0a0.78 0.78 0 1 0 -1.56 0M634.21 198.97a0.78 0.78 0 1 0 1.56 0a0.78 0.78 0 1 0 -1.56 0M654.38 198.86a0.78 0.78 0 1 0 1.56 0a0.78 0.78 0 1 0 -1.56 0M646.31 201.86a0.78 0.78 0 1 0 1.56 0a0.78 0.78 0 1 0 -1.56 0M647.54 192.95a0.78 0.78 0 1 0 1.56 0a0.78 0.78 0 1 0 -1.56 0M642.99 202.55a0.78 0.78 0 1 0 1.56 0a0.78 0.78 0 1 0 -1.56 0M627.98 193.27a0.78 0.78 0 1 0 1.56 0a0.78 0.78 0 1 0 -1.56 0M672.29 198.59a0.78 0.78 0 1 0 1.56 0a0.78 0.78 0 1 0 -1.56 0M666.33 201.69a0.78 0.78 0 1 0 1.56 0a0.78 0.78 0 1 0 -1.56 0M632.9 195.88a0.78 0.78 0 1 0 1.56 0a0.78 0.78 0 1 0 -1.56 0M632.1 196.88a0.78 0.78 0 1 0 1.56 0a0.78 0.78 0 1 0 -1.56 0M639.62 192.36a0.78 0.78 0 1 0 1.56 0a0.78 0.78 0 1 0 -1.56 0M662.98 196.96a0.78 0.78 0 1 0 1.56 0a0.78 0.78 0 1 0 -1.56 0M666.81 199.1a0.78 0.78 0 1 0 1.56 0a0.78 0.78 0 1 0 -1.56 0M661.69 200.09a0.78 0.78 0 1 0 1.56 0a0.78 0.78 0 1 0 -1.56 0M663.65 193.18a0.78 0.78 0 1 0 1.56 0a0.78 0.78 0 1 0 -1.56 0M667.44 198.55a0.78 0.78 0 1 0 1.56 0a0.78 0.78 0 1 0 -1.56 0M664.39 200.39a0.78 0.78 0 1 0 1.56 0a0.78 0.78 0 1 0 -1.56 0M623.76 196.95a0.78 0.78 0 1 0 1.56 0a0.78 0.78 0 1 0 -1.56 0M678.18 200.6a0.78 0.78 0 1 0 1.56 0a0.78 0.78 0 1 0 -1.56 0M632.35 200.71a0.78 0.78 0 1 0 1.56 0a0.78 0.78 0 1 0 -1.56 0M631.23 201.14a0.78 0.78 0 1 0 1.56 0a0.78 0.78 0 1 0 -1.56 0M667.97 202.18a0.78 0.78 0 1 0 1.56 0a0.78 0.78 0 1 0 -1.56 0M642.97 196.14a0.78 0.78 0 1 0 1.56 0a0.78 0.78 0 1 0 -1.56 0M640.83 196.95a0.78 0.78 0 1 0 1.56 0a0.78 0.78 0 1 0 -1.56 0M635.02 196.85a0.78 0.78 0 1 0 1.56 0a0.78 0.78 0 1 0 -1.56 0M670.85 199.14a0.78 0.78 0 1 0 1.56 0a0.78 0.78 0 1 0 -1.56 0M631.64 195.82a0.78 0.78 0 1 0 1.56 0a0.78 0.78 0 1 0 -1.56 0M677.91 201.14a0.78 0.78 0 1 0 1.56 0a0.78 0.78 0 1 0 -1.56 0M670.86 193.91a0.78 0.78 0 1 0 1.56 0a0.78 0.78 0 1 0 -1.56 0M633.27 199.87a0.78 0.78 0 1 0 1.56 0a0.78 0.78 0 1 0 -1.56 0M637.33 202.2a0.78 0.78 0 1 0 1.56 0a0.78 0.78 0 1 0 -1.56 0M626.13 199.97a0.78 0.78 0 1 0 1.56 0a0.78 0.78 0 1 0 -1.56 0M641.46 198.95a0.78 0.78 0 1 0 1.56 0a0.78 0.78 0 1 0 -1.56 0M660.87 196.75a0.78 0.78 0 1 0 1.56 0a0.78 0.78 0 1 0 -1.56 0M637.06 194a0.78 0.78 0 1 0 1.56 0a0.78 0.78 0 1 0 -1.56 0M646.47 202.78a0.78 0.78 0 1 0 1.56 0a0.78 0.78 0 1 0 -1.56 0M673.11 193.25a0.78 0.78 0 1 0 1.56 0a0.78 0.78 0 1 0 -1.56 0M637.23 195.48a0.78 0.78 0 1 0 1.56 0a0.78 0.78 0 1 0 -1.56 0M654.54 203.13a0.78 0.78 0 1 0 1.56 0a0.78 0.78 0 1 0 -1.56 0M622.92 198.83a0.78 0.78 0 1 0 1.56 0a0.78 0.78 0 1 0 -1.56 0M632.65 200.68a0.78 0.78 0 1 0 1.56 0a0.78 0.78 0 1 0 -1.56 0M680.72 194.45a0.78 0.78 0 1 0 1.56 0a0.78 0.78 0 1 0 -1.56 0M630.39 196.48a0.78 0.78 0 1 0 1.56 0a0.78 0.78 0 1 0 -1.56 0M645.48 201.18a0.78 0.78 0 1 0 1.56 0a0.78 0.78 0 1 0 -1.56 0M672.05 201.07a0.78 0.78 0 1 0 1.56 0a0.78 0.78 0 1 0 -1.56 0M634.31 195.09a0.78 0.78 0 1 0 1.56 0a0.78 0.78 0 1 0 -1.56 0M630.77 199.51a0.78 0.78 0 1 0 1.56 0a0.78 0.78 0 1 0 -1.56 0M639.57 197.38a0.78 0.78 0 1 0 1.56 0a0.78 0.78 0 1 0 -1.56 0M663.17 192.86a0.78 0.78 0 1 0 1.56 0a0.78 0.78 0 1 0 -1.56 0M626.91 198.01a0.78 0.78 0 1 0 1.56 0a0.78 0.78 0 1 0 -1.56 0M673.43 200.55a0.78 0.78 0 1 0 1.56 0a0.78 0.78 0 1 0 -1.56 0M669.99 201.92a0.78 0.78 0 1 0 1.56 0a0.78 0.78 0 1 0 -1.56 0M639.04 202.09a0.78 0.78 0 1 0 1.56 0a0.78 0.78 0 1 0 -1.56 0M664.66 200.47a0.78 0.78 0 1 0 1.56 0a0.78 0.78 0 1 0 -1.56 0M659.66 201.51a0.78 0.78 0 1 0 1.56 0a0.78 0.78 0 1 0 -1.56 0M645.18 202.04a0.78 0.78 0 1 0 1.56 0a0.78 0.78 0 1 0 -1.56 0M636.84 194.46a0.78 0.78 0 1 0 1.56 0a0.78 0.78 0 1 0 -1.56 0M660.69 202.97a0.78 0.78 0 1 0 1.56 0a0.78 0.78 0 1 0 -1.56 0M656.65 201.36a0.78 0.78 0 1 0 1.56 0a0.78 0.78 0 1 0 -1.56 0M627.59 193a0.78 0.78 0 1 0 1.56 0a0.78 0.78 0 1 0 -1.56 0M645.17 202.2a0.78 0.78 0 1 0 1.56 0a0.78 0.78 0 1 0 -1.56 0M648.31 200.7a0.78 0.78 0 1 0 1.56 0a0.78 0.78 0 1 0 -1.56 0M643.28 194.01a0.78 0.78 0 1 0 1.56 0a0.78 0.78 0 1 0 -1.56 0M636.59 193.95a0.78 0.78 0 1 0 1.56 0a0.78 0.78 0 1 0 -1.56 0M629.76 201.44a0.78 0.78 0 1 0 1.56 0a0.78 0.78 0 1 0 -1.56 0M670.24 196.5a0.78 0.78 0 1 0 1.56 0a0.78 0.78 0 1 0 -1.56 0M658.09 203.03a0.78 0.78 0 1 0 1.56 0a0.78 0.78 0 1 0 -1.56 0M661.97 200.16a0.78 0.78 0 1 0 1.56 0a0.78 0.78 0 1 0 -1.56 0M669.88 201.5a0.78 0.78 0 1 0 1.56 0a0.78 0.78 0 1 0 -1.56 0M674.64 192.57a0.78 0.78 0 1 0 1.56 0a0.78 0.78 0 1 0 -1.56 0M632.18 201.6a0.78 0.78 0 1 0 1.56 0a0.78 0.78 0 1 0 -1.56 0M643.13 199.27a0.78 0.78 0 1 0 1.56 0a0.78 0.78 0 1 0 -1.56 0M656.04 196.3a0.78 0.78 0 1 0 1.56 0a0.78 0.78 0 1 0 -1.56 0M644.62 197.53a0.78 0.78 0 1 0 1.56 0a0.78 0.78 0 1 0 -1.56 0M642.23 194.6a0.78 0.78 0 1 0 1.56 0a0.78 0.78 0 1 0 -1.56 0M664.05 201.66a0.78 0.78 0 1 0 1.56 0a0.78 0.78 0 1 0 -1.56 0M635.38 195.86a0.78 0.78 0 1 0 1.56 0a0.78 0.78 0 1 0 -1.56 0M626.79 194.32a0.78 0.78 0 1 0 1.56 0a0.78 0.78 0 1 0 -1.56 0M673.5 199.7a0.78 0.78 0 1 0 1.56 0a0.78 0.78 0 1 0 -1.56 0M640.82 194.56a0.78 0.78 0 1 0 1.56 0a0.78 0.78 0 1 0 -1.56 0M661.07 193.37a0.78 0.78 0 1 0 1.56 0a0.78 0.78 0 1 0 -1.56 0M663.11 192.12a0.78 0.78 0 1 0 1.56 0a0.78 0.78 0 1 0 -1.56 0M631.43 197.55a0.78 0.78 0 1 0 1.56 0a0.78 0.78 0 1 0 -1.56 0M640.99 199.33a0.78 0.78 0 1 0 1.56 0a0.78 0.78 0 1 0 -1.56 0M657.38 201.85a0.78 0.78 0 1 0 1.56 0a0.78 0.78 0 1 0 -1.56 0M667.05 193.57a0.78 0.78 0 1 0 1.56 0a0.78 0.78 0 1 0 -1.56 0M638.67 194.24a0.78 0.78 0 1 0 1.56 0a0.78 0.78 0 1 0 -1.56 0M663.35 198.21a0.78 0.78 0 1 0 1.56 0a0.78 0.78 0 1 0 -1.56 0M652.36 202.96a0.78 0.78 0 1 0 1.56 0a0.78 0.78 0 1 0 -1.56 0M635.06 195.8a0.78 0.78 0 1 0 1.56 0a0.78 0.78 0 1 0 -1.56 0M662.01 200.19a0.78 0.78 0 1 0 1.56 0a0.78 0.78 0 1 0 -1.56 0M646.03 198.68a0.78 0.78 0 1 0 1.56 0a0.78 0.78 0 1 0 -1.56 0M642.33 202.26a0.78 0.78 0 1 0 1.56 0a0.78 0.78 0 1 0 -1.56 0M636.01 199.84a0.78 0.78 0 1 0 1.56 0a0.78 0.78 0 1 0 -1.56 0M643.35 202.66a0.78 0.78 0 1 0 1.56 0a0.78 0.78 0 1 0 -1.56 0M638.71 196.04a0.78 0.78 0 1 0 1.56 0a0.78 0.78 0 1 0 -1.56 0M640.65 193.36a0.78 0.78 0 1 0 1.56 0a0.78 0.78 0 1 0 -1.56 0M666.19 201.11a0.78 0.78 0 1 0 1.56 0a0.78 0.78 0 1 0 -1.56 0M664 198.6a0.78 0.78 0 1 0 1.56 0a0.78 0.78 0 1 0 -1.56 0M644.92 201.31a0.78 0.78 0 1 0 1.56 0a0.78 0.78 0 1 0 -1.56 0M626.67 199.08a0.78 0.78 0 1 0 1.56 0a0.78 0.78 0 1 0 -1.56 0M661.77 197.52a0.78 0.78 0 1 0 1.56 0a0.78 0.78 0 1 0 -1.56 0M676.9 197.61a0.78 0.78 0 1 0 1.56 0a0.78 0.78 0 1 0 -1.56 0M667.08 197.33a0.78 0.78 0 1 0 1.56 0a0.78 0.78 0 1 0 -1.56 0M647.74 201.62a0.78 0.78 0 1 0 1.56 0a0.78 0.78 0 1 0 -1.56 0M670.65 201.98a0.78 0.78 0 1 0 1.56 0a0.78 0.78 0 1 0 -1.56 0M634.26 197.86a0.78 0.78 0 1 0 1.56 0a0.78 0.78 0 1 0 -1.56 0M664.21 196.84a0.78 0.78 0 1 0 1.56 0a0.78 0.78 0 1 0 -1.56 0M676.98 194.1a0.78 0.78 0 1 0 1.56 0a0.78 0.78 0 1 0 -1.56 0M627.63 192.47a0.78 0.78 0 1 0 1.56 0a0.78 0.78 0 1 0 -1.56 0M633.12 193.76a0.78 0.78 0 1 0 1.56 0a0.78 0.78 0 1 0 -1.56 0M673.93 200.79a0.78 0.78 0 1 0 1.56 0a0.78 0.78 0 1 0 -1.56 0M632.11 196.1a0.78 0.78 0 1 0 1.56 0a0.78 0.78 0 1 0 -1.56 0M646.47 201.04a0.78 0.78 0 1 0 1.56 0a0.78 0.78 0 1 0 -1.56 0M674.57 200.17a0.78 0.78 0 1 0 1.56 0a0.78 0.78 0 1 0 -1.56 0M645.66 199.16a0.78 0.78 0 1 0 1.56 0a0.78 0.78 0 1 0 -1.56 0M625.56 199.97a0.78 0.78 0 1 0 1.56 0a0.78 0.78 0 1 0 -1.56 0M632.82 194.89a0.78 0.78 0 1 0 1.56 0a0.78 0.78 0 1 0 -1.56 0M637.64 201.97a0.78 0.78 0 1 0 1.56 0a0.78 0.78 0 1 0 -1.56 0M665.7 195.78a0.78 0.78 0 1 0 1.56 0a0.78 0.78 0 1 0 -1.56 0M649.8 196.63a0.78 0.78 0 1 0 1.56 0a0.78 0.78 0 1 0 -1.56 0M646.12 199.03a0.78 0.78 0 1 0 1.56 0a0.78 0.78 0 1 0 -1.56 0M624.65 197.87a0.78 0.78 0 1 0 1.56 0a0.78 0.78 0 1 0 -1.56 0M633.75 201.3a0.78 0.78 0 1 0 1.56 0a0.78 0.78 0 1 0 -1.56 0M633.62 192.78a0.78 0.78 0 1 0 1.56 0a0.78 0.78 0 1 0 -1.56 0M658.96 192.47a0.78 0.78 0 1 0 1.56 0a0.78 0.78 0 1 0 -1.56 0M659.36 200.06a0.78 0.78 0 1 0 1.56 0a0.78 0.78 0 1 0 -1.56 0M674.55 197.02a0.78 0.78 0 1 0 1.56 0a0.78 0.78 0 1 0 -1.56 0M636.27 194.91a0.78 0.78 0 1 0 1.56 0a0.78 0.78 0 1 0 -1.56 0M638.85 197.79a0.78 0.78 0 1 0 1.56 0a0.78 0.78 0 1 0 -1.56 0M646.21 197.27a0.78 0.78 0 1 0 1.56 0a0.78 0.78 0 1 0 -1.56 0M647.75 201.65a0.78 0.78 0 1 0 1.56 0a0.78 0.78 0 1 0 -1.56 0M665.14 202.49a0.78 0.78 0 1 0 1.56 0a0.78 0.78 0 1 0 -1.56 0M632.16 192.53a0.78 0.78 0 1 0 1.56 0a0.78 0.78 0 1 0 -1.56 0M641.63 192.71a0.78 0.78 0 1 0 1.56 0a0.78 0.78 0 1 0 -1.56 0M648.43 199.01a0.78 0.78 0 1 0 1.56 0a0.78 0.78 0 1 0 -1.56 0M642.54 197.48a0.78 0.78 0 1 0 1.56 0a0.78 0.78 0 1 0 -1.56 0M665.26 202.42a0.78 0.78 0 1 0 1.56 0a0.78 0.78 0 1 0 -1.56 0M644.71 201.42a0.78 0.78 0 1 0 1.56 0a0.78 0.78 0 1 0 -1.56 0M642.56 196.4a0.78 0.78 0 1 0 1.56 0a0.78 0.78 0 1 0 -1.56 0M653.89 202.44a0.78 0.78 0 1 0 1.56 0a0.78 0.78 0 1 0 -1.56 0M679.4 200a0.78 0.78 0 1 0 1.56 0a0.78 0.78 0 1 0 -1.56 0M654.83 196.53a0.78 0.78 0 1 0 1.56 0a0.78 0.78 0 1 0 -1.56 0M626.23 197.71a0.78 0.78 0 1 0 1.56 0a0.78 0.78 0 1 0 -1.56 0M681.52 195.73a0.78 0.78 0 1 0 1.56 0a0.78 0.78 0 1 0 -1.56 0M663.48 196.2a0.78 0.78 0 1 0 1.56 0a0.78 0.78 0 1 0 -1.56 0M638.19 202.04a0.78 0.78 0 1 0 1.56 0a0.78 0.78 0 1 0 -1.56 0M631.62 200.5a0.78 0.78 0 1 0 1.56 0a0.78 0.78 0 1 0 -1.56 0M661.44 198.03a0.78 0.78 0 1 0 1.56 0a0.78 0.78 0 1 0 -1.56 0M646.74 192.09a0.78 0.78 0 1 0 1.56 0a0.78 0.78 0 1 0 -1.56 0M680.46 199.86a0.78 0.78 0 1 0 1.56 0a0.78 0.78 0 1 0 -1.56 0M649.91 202.83a0.78 0.78 0 1 0 1.56 0a0.78 0.78 0 1 0 -1.56 0M654.08 199.17a0.78 0.78 0 1 0 1.56 0a0.78 0.78 0 1 0 -1.56 0M629.33 193.85a0.78 0.78 0 1 0 1.56 0a0.78 0.78 0 1 0 -1.56 0M659.35 198.93a0.78 0.78 0 1 0 1.56 0a0.78 0.78 0 1 0 -1.56 0M635.07 199.13a0.78 0.78 0 1 0 1.56 0a0.78 0.78 0 1 0 -1.56 0M674.84 194.28a0.78 0.78 0 1 0 1.56 0a0.78 0.78 0 1 0 -1.56 0M664.26 196.4a0.78 0.78 0 1 0 1.56 0a0.78 0.78 0 1 0 -1.56 0M641.63 193.09a0.78 0.78 0 1 0 1.56 0a0.78 0.78 0 1 0 -1.56 0M657.84 198.7a0.78 0.78 0 1 0 1.56 0a0.78 0.78 0 1 0 -1.56 0M633.11 196.89a0.78 0.78 0 1 0 1.56 0a0.78 0.78 0 1 0 -1.56 0M674.69 197.52a0.78 0.78 0 1 0 1.56 0a0.78 0.78 0 1 0 -1.56 0M627.07 194.87a0.78 0.78 0 1 0 1.56 0a0.78 0.78 0 1 0 -1.56 0M658.68 193.73a0.78 0.78 0 1 0 1.56 0a0.78 0.78 0 1 0 -1.56 0M654.27 202.26a0.78 0.78 0 1 0 1.56 0a0.78 0.78 0 1 0 -1.56 0M673.02 201.44a0.78 0.78 0 1 0 1.56 0a0.78 0.78 0 1 0 -1.56 0M630.42 200.15a0.78 0.78 0 1 0 1.56 0a0.78 0.78 0 1 0 -1.56 0M644.97 198.17a0.78 0.78 0 1 0 1.56 0a0.78 0.78 0 1 0 -1.56 0M635.5 200.23a0.78 0.78 0 1 0 1.56 0a0.78 0.78 0 1 0 -1.56 0M630.71 192.64a0.78 0.78 0 1 0 1.56 0a0.78 0.78 0 1 0 -1.56 0M644.31 195.85a0.78 0.78 0 1 0 1.56 0a0.78 0.78 0 1 0 -1.56 0M663.89 195.56a0.78 0.78 0 1 0 1.56 0a0.78 0.78 0 1 0 -1.56 0M661.31 199.46a0.78 0.78 0 1 0 1.56 0a0.78 0.78 0 1 0 -1.56 0M641.15 201.51a0.78 0.78 0 1 0 1.56 0a0.78 0.78 0 1 0 -1.56 0M660.48 198.82a0.78 0.78 0 1 0 1.56 0a0.78 0.78 0 1 0 -1.56 0M631.45 196.93a0.78 0.78 0 1 0 1.56 0a0.78 0.78 0 1 0 -1.56 0M636.62 201.89a0.78 0.78 0 1 0 1.56 0a0.78 0.78 0 1 0 -1.56 0M665.59 200.06a0.78 0.78 0 1 0 1.56 0a0.78 0.78 0 1 0 -1.56 0M661.56 194.87a0.78 0.78 0 1 0 1.56 0a0.78 0.78 0 1 0 -1.56 0M648.87 197.8a0.78 0.78 0 1 0 1.56 0a0.78 0.78 0 1 0 -1.56 0M646.22 192.15a0.78 0.78 0 1 0 1.56 0a0.78 0.78 0 1 0 -1.56 0M667 194.53a0.78 0.78 0 1 0 1.56 0a0.78 0.78 0 1 0 -1.56 0M661.81 202.14a0.78 0.78 0 1 0 1.56 0a0.78 0.78 0 1 0 -1.56 0M658.38 195.41a0.78 0.78 0 1 0 1.56 0a0.78 0.78 0 1 0 -1.56 0M659.27 195.1a0.78 0.78 0 1 0 1.56 0a0.78 0.78 0 1 0 -1.56 0M667.26 192.4a0.78 0.78 0 1 0 1.56 0a0.78 0.78 0 1 0 -1.56 0M657.51 199.98a0.78 0.78 0 1 0 1.56 0a0.78 0.78 0 1 0 -1.56 0M645.57 199.34a0.78 0.78 0 1 0 1.56 0a0.78 0.78 0 1 0 -1.56 0M659.77 203.05a0.78 0.78 0 1 0 1.56 0a0.78 0.78 0 1 0 -1.56 0M673.9 192.89a0.78 0.78 0 1 0 1.56 0a0.78 0.78 0 1 0 -1.56 0M681.26 196.72a0.78 0.78 0 1 0 1.56 0a0.78 0.78 0 1 0 -1.56 0M656.33 196.91a0.78 0.78 0 1 0 1.56 0a0.78 0.78 0 1 0 -1.56 0M642.01 200.43a0.78 0.78 0 1 0 1.56 0a0.78 0.78 0 1 0 -1.56 0M627.15 201.19a0.78 0.78 0 1 0 1.56 0a0.78 0.78 0 1 0 -1.56 0M660.57 193.35a0.78 0.78 0 1 0 1.56 0a0.78 0.78 0 1 0 -1.56 0M643.04 201.33a0.78 0.78 0 1 0 1.56 0a0.78 0.78 0 1 0 -1.56 0M663.93 193.89a0.78 0.78 0 1 0 1.56 0a0.78 0.78 0 1 0 -1.56 0M648.58 199.22a0.78 0.78 0 1 0 1.56 0a0.78 0.78 0 1 0 -1.56 0M647.75 198.39a0.78 0.78 0 1 0 1.56 0a0.78 0.78 0 1 0 -1.56 0M659.08 201.91a0.78 0.78 0 1 0 1.56 0a0.78 0.78 0 1 0 -1.56 0M666.19 198.44a0.78 0.78 0 1 0 1.56 0a0.78 0.78 0 1 0 -1.56 0M656.85 203.21a0.78 0.78 0 1 0 1.56 0a0.78 0.78 0 1 0 -1.56 0M627.64 200.46a0.78 0.78 0 1 0 1.56 0a0.78 0.78 0 1 0 -1.56 0M642.88 193.08a0.78 0.78 0 1 0 1.56 0a0.78 0.78 0 1 0 -1.56 0M645.48 196.86a0.78 0.78 0 1 0 1.56 0a0.78 0.78 0 1 0 -1.56 0M625.22 195.69a0.78 0.78 0 1 0 1.56 0a0.78 0.78 0 1 0 -1.56 0M640.01 201.77a0.78 0.78 0 1 0 1.56 0a0.78 0.78 0 1 0 -1.56 0M668.03 201.86a0.78 0.78 0 1 0 1.56 0a0.78 0.78 0 1 0 -1.56 0M637.97 196.78a0.78 0.78 0 1 0 1.56 0a0.78 0.78 0 1 0 -1.56 0M637.75 196.66a0.78 0.78 0 1 0 1.56 0a0.78 0.78 0 1 0 -1.56 0M674.25 200.64a0.78 0.78 0 1 0 1.56 0a0.78 0.78 0 1 0 -1.56 0M653.77 201.92a0.78 0.78 0 1 0 1.56 0a0.78 0.78 0 1 0 -1.56 0M633.92 196.62a0.78 0.78 0 1 0 1.56 0a0.78 0.78 0 1 0 -1.56 0M636.42 197.28a0.78 0.78 0 1 0 1.56 0a0.78 0.78 0 1 0 -1.56 0M654.79 195.85a0.78 0.78 0 1 0 1.56 0a0.78 0.78 0 1 0 -1.56 0M640.48 201.97a0.78 0.78 0 1 0 1.56 0a0.78 0.78 0 1 0 -1.56 0M671.49 194.35a0.78 0.78 0 1 0 1.56 0a0.78 0.78 0 1 0 -1.56 0M655.91 199.85a0.78 0.78 0 1 0 1.56 0a0.78 0.78 0 1 0 -1.56 0M649.43 194.76a0.78 0.78 0 1 0 1.56 0a0.78 0.78 0 1 0 -1.56 0M640.34 202.5a0.78 0.78 0 1 0 1.56 0a0.78 0.78 0 1 0 -1.56 0M631.53 199.22a0.78 0.78 0 1 0 1.56 0a0.78 0.78 0 1 0 -1.56 0M640.81 196.07a0.78 0.78 0 1 0 1.56 0a0.78 0.78 0 1 0 -1.56 0M666.08 199.21a0.78 0.78 0 1 0 1.56 0a0.78 0.78 0 1 0 -1.56 0M633.52 201.91a0.78 0.78 0 1 0 1.56 0a0.78 0.78 0 1 0 -1.56 0M642.69 201.98a0.78 0.78 0 1 0 1.56 0a0.78 0.78 0 1 0 -1.56 0M659.52 201.74a0.78 0.78 0 1 0 1.56 0a0.78 0.78 0 1 0 -1.56 0M638.39 201.21a0.78 0.78 0 1 0 1.56 0a0.78 0.78 0 1 0 -1.56 0M643.65 199.67a0.78 0.78 0 1 0 1.56 0a0.78 0.78 0 1 0 -1.56 0M676.35 200.99a0.78 0.78 0 1 0 1.56 0a0.78 0.78 0 1 0 -1.56 0M640.63 192.66a0.78 0.78 0 1 0 1.56 0a0.78 0.78 0 1 0 -1.56 0M630.01 198.07a0.78 0.78 0 1 0 1.56 0a0.78 0.78 0 1 0 -1.56 0M628.23 192.09a0.78 0.78 0 1 0 1.56 0a0.78 0.78 0 1 0 -1.56 0M672.21 197.18a0.78 0.78 0 1 0 1.56 0a0.78 0.78 0 1 0 -1.56 0M654.99 201.16a0.78 0.78 0 1 0 1.56 0a0.78 0.78 0 1 0 -1.56 0M655.23 200.43a0.78 0.78 0 1 0 1.56 0a0.78 0.78 0 1 0 -1.56 0M630.14 193.83a0.78 0.78 0 1 0 1.56 0a0.78 0.78 0 1 0 -1.56 0M664.3 198.11a0.78 0.78 0 1 0 1.56 0a0.78 0.78 0 1 0 -1.56 0M644.87 201.21a0.78 0.78 0 1 0 1.56 0a0.78 0.78 0 1 0 -1.56 0M673.6 198.55a0.78 0.78 0 1 0 1.56 0a0.78 0.78 0 1 0 -1.56 0M680.9 196.51a0.78 0.78 0 1 0 1.56 0a0.78 0.78 0 1 0 -1.56 0M645.1 192.81a0.78 0.78 0 1 0 1.56 0a0.78 0.78 0 1 0 -1.56 0M659.31 200.32a0.78 0.78 0 1 0 1.56 0a0.78 0.78 0 1 0 -1.56 0M661.83 201.44a0.78 0.78 0 1 0 1.56 0a0.78 0.78 0 1 0 -1.56 0M655.93 197.06a0.78 0.78 0 1 0 1.56 0a0.78 0.78 0 1 0 -1.56 0M637.8 193.71a0.78 0.78 0 1 0 1.56 0a0.78 0.78 0 1 0 -1.56 0M629.66 197.26a0.78 0.78 0 1 0 1.56 0a0.78 0.78 0 1 0 -1.56 0M655.21 201.36a0.78 0.78 0 1 0 1.56 0a0.78 0.78 0 1 0 -1.56 0M665.97 195.43a0.78 0.78 0 1 0 1.56 0a0.78 0.78 0 1 0 -1.56 0M642.54 195.23a0.78 0.78 0 1 0 1.56 0a0.78 0.78 0 1 0 -1.56 0M663.63 195.81a0.78 0.78 0 1 0 1.56 0a0.78 0.78 0 1 0 -1.56 0M636.85 201.16a0.78 0.78 0 1 0 1.56 0a0.78 0.78 0 1 0 -1.56 0M639.42 202.14a0.78 0.78 0 1 0 1.56 0a0.78 0.78 0 1 0 -1.56 0M641.51 200.25a0.78 0.78 0 1 0 1.56 0a0.78 0.78 0 1 0 -1.56 0M680.14 199.03a0.78 0.78 0 1 0 1.56 0a0.78 0.78 0 1 0 -1.56 0M675.2 198.6a0.78 0.78 0 1 0 1.56 0a0.78 0.78 0 1 0 -1.56 0M649.67 199.89a0.78 0.78 0 1 0 1.56 0a0.78 0.78 0 1 0 -1.56 0M655.14 199.46a0.78 0.78 0 1 0 1.56 0a0.78 0.78 0 1 0 -1.56 0M645.81 197.96a0.78 0.78 0 1 0 1.56 0a0.78 0.78 0 1 0 -1.56 0M650.59 202.06a0.78 0.78 0 1 0 1.56 0a0.78 0.78 0 1 0 -1.56 0M666.54 193.25a0.78 0.78 0 1 0 1.56 0a0.78 0.78 0 1 0 -1.56 0M649.8 202.4a0.78 0.78 0 1 0 1.56 0a0.78 0.78 0 1 0 -1.56 0M641.71 199.11a0.78 0.78 0 1 0 1.56 0a0.78 0.78 0 1 0 -1.56 0M643.68 201.98a0.78 0.78 0 1 0 1.56 0a0.78 0.78 0 1 0 -1.56 0M624.97 192.25a0.78 0.78 0 1 0 1.56 0a0.78 0.78 0 1 0 -1.56 0M631.01 201.12a0.78 0.78 0 1 0 1.56 0a0.78 0.78 0 1 0 -1.56 0M642.09 194.75a0.78 0.78 0 1 0 1.56 0a0.78 0.78 0 1 0 -1.56 0M659.7 198.78a0.78 0.78 0 1 0 1.56 0a0.78 0.78 0 1 0 -1.56 0M658.52 199.22a0.78 0.78 0 1 0 1.56 0a0.78 0.78 0 1 0 -1.56 0M666.26 192.13a0.78 0.78 0 1 0 1.56 0a0.78 0.78 0 1 0 -1.56 0M656.47 193.18a0.78 0.78 0 1 0 1.56 0a0.78 0.78 0 1 0 -1.56 0M666.12 201.31a0.78 0.78 0 1 0 1.56 0a0.78 0.78 0 1 0 -1.56 0M658.36 199.07a0.78 0.78 0 1 0 1.56 0a0.78 0.78 0 1 0 -1.56 0M639.57 192.45a0.78 0.78 0 1 0 1.56 0a0.78 0.78 0 1 0 -1.56 0M668.26 196.79a0.78 0.78 0 1 0 1.56 0a0.78 0.78 0 1 0 -1.56 0M683.06 195.09a0.78 0.78 0 1 0 1.56 0a0.78 0.78 0 1 0 -1.56 0M699.64 192.61a0.78 0.78 0 1 0 1.56 0a0.78 0.78 0 1 0 -1.56 0M692.24 196.18a0.78 0.78 0 1 0 1.56 0a0.78 0.78 0 1 0 -1.56 0M629.83 191.52a0.78 0.78 0 1 0 1.56 0a0.78 0.78 0 1 0 -1.56 0M657.96 195.84a0.78 0.78 0 1 0 1.56 0a0.78 0.78 0 1 0 -1.56 0M679.81 190.14a0.78 0.78 0 1 0 1.56 0a0.78 0.78 0 1 0 -1.56 0M635.24 188.73a0.78 0.78 0 1 0 1.56 0a0.78 0.78 0 1 0 -1.56 0M665.23 188.52a0.78 0.78 0 1 0 1.56 0a0.78 0.78 0 1 0 -1.56 0M637.36 196.46a0.78 0.78 0 1 0 1.56 0a0.78 0.78 0 1 0 -1.56 0M638.88 196.74a0.78 0.78 0 1 0 1.56 0a0.78 0.78 0 1 0 -1.56 0M695.53 192.47a0.78 0.78 0 1 0 1.56 0a0.78 0.78 0 1 0 -1.56 0M667.96 194.14a0.78 0.78 0 1 0 1.56 0a0.78 0.78 0 1 0 -1.56 0M624.01 195.88a0.78 0.78 0 1 0 1.56 0a0.78 0.78 0 1 0 -1.56 0M677.95 192.52a0.78 0.78 0 1 0 1.56 0a0.78 0.78 0 1 0 -1.56 0M667.67 188.41a0.78 0.78 0 1 0 1.56 0a0.78 0.78 0 1 0 -1.56 0M645.68 190.97a0.78 0.78 0 1 0 1.56 0a0.78 0.78 0 1 0 -1.56 0M624.57 194.62a0.78 0.78 0 1 0 1.56 0a0.78 0.78 0 1 0 -1.56 0M641.28 195.03a0.78 0.78 0 1 0 1.56 0a0.78 0.78 0 1 0 -1.56 0M632.84 192.96a0.78 0.78 0 1 0 1.56 0a0.78 0.78 0 1 0 -1.56 0M680.46 191.48a0.78 0.78 0 1 0 1.56 0a0.78 0.78 0 1 0 -1.56 0M673.19 189.42a0.78 0.78 0 1 0 1.56 0a0.78 0.78 0 1 0 -1.56 0M699.72 194.02a0.78 0.78 0 1 0 1.56 0a0.78 0.78 0 1 0 -1.56 0M632.86 188.4a0.78 0.78 0 1 0 1.56 0a0.78 0.78 0 1 0 -1.56 0M635.4 196.79a0.78 0.78 0 1 0 1.56 0a0.78 0.78 0 1 0 -1.56 0M697.99 190.4a0.78 0.78 0 1 0 1.56 0a0.78 0.78 0 1 0 -1.56 0M667.72 188.54a0.78 0.78 0 1 0 1.56 0a0.78 0.78 0 1 0 -1.56 0M631.02 194.72a0.78 0.78 0 1 0 1.56 0a0.78 0.78 0 1 0 -1.56 0M645.33 192.88a0.78 0.78 0 1 0 1.56 0a0.78 0.78 0 1 0 -1.56 0M640.63 194.15a0.78 0.78 0 1 0 1.56 0a0.78 0.78 0 1 0 -1.56 0M681.56 190.44a0.78 0.78 0 1 0 1.56 0a0.78 0.78 0 1 0 -1.56 0M669.9 195.63a0.78 0.78 0 1 0 1.56 0a0.78 0.78 0 1 0 -1.56 0M661.91 193.73a0.78 0.78 0 1 0 1.56 0a0.78 0.78 0 1 0 -1.56 0M622.55 191.03a0.78 0.78 0 1 0 1.56 0a0.78 0.78 0 1 0 -1.56 0M629.05 193.87a0.78 0.78 0 1 0 1.56 0a0.78 0.78 0 1 0 -1.56 0M680.23 189.63a0.78 0.78 0 1 0 1.56 0a0.78 0.78 0 1 0 -1.56 0M666.68 195.57a0.78 0.78 0 1 0 1.56 0a0.78 0.78 0 1 0 -1.56 0M680.49 191.61a0.78 0.78 0 1 0 1.56 0a0.78 0.78 0 1 0 -1.56 0M646.77 188.91a0.78 0.78 0 1 0 1.56 0a0.78 0.78 0 1 0 -1.56 0M644.7 192.25a0.78 0.78 0 1 0 1.56 0a0.78 0.78 0 1 0 -1.56 0M677.6 190.09a0.78 0.78 0 1 0 1.56 0a0.78 0.78 0 1 0 -1.56 0M637.99 190.2a0.78 0.78 0 1 0 1.56 0a0.78 0.78 0 1 0 -1.56 0M688.09 196.75a0.78 0.78 0 1 0 1.56 0a0.78 0.78 0 1 0 -1.56 0M628.88 196.14a0.78 0.78 0 1 0 1.56 0a0.78 0.78 0 1 0 -1.56 0M645.9 193.98a0.78 0.78 0 1 0 1.56 0a0.78 0.78 0 1 0 -1.56 0M647.16 189.77a0.78 0.78 0 1 0 1.56 0a0.78 0.78 0 1 0 -1.56 0M643.01 188.96a0.78 0.78 0 1 0 1.56 0a0.78 0.78 0 1 0 -1.56 0M679.25 188.09a0.78 0.78 0 1 0 1.56 0a0.78 0.78 0 1 0 -1.56 0M612.51 196.86a0.78 0.78 0 1 0 1.56 0a0.78 0.78 0 1 0 -1.56 0M643.06 189.22a0.78 0.78 0 1 0 1.56 0a0.78 0.78 0 1 0 -1.56 0M672.63 189.93a0.78 0.78 0 1 0 1.56 0a0.78 0.78 0 1 0 -1.56 0M685.42 194.64a0.78 0.78 0 1 0 1.56 0a0.78 0.78 0 1 0 -1.56 0M667.24 194.54a0.78 0.78 0 1 0 1.56 0a0.78 0.78 0 1 0 -1.56 0M615.68 193.55a0.78 0.78 0 1 0 1.56 0a0.78 0.78 0 1 0 -1.56 0M678.93 189.26a0.78 0.78 0 1 0 1.56 0a0.78 0.78 0 1 0 -1.56 0M630.39 190.62a0.78 0.78 0 1 0 1.56 0a0.78 0.78 0 1 0 -1.56 0M634.01 192.12a0.78 0.78 0 1 0 1.56 0a0.78 0.78 0 1 0 -1.56 0M628.65 195.97a0.78 0.78 0 1 0 1.56 0a0.78 0.78 0 1 0 -1.56 0M666.83 196.25a0.78 0.78 0 1 0 1.56 0a0.78 0.78 0 1 0 -1.56 0M646.41 192.87a0.78 0.78 0 1 0 1.56 0a0.78 0.78 0 1 0 -1.56 0M631.49 195.77a0.78 0.78 0 1 0 1.56 0a0.78 0.78 0 1 0 -1.56 0M663.13 193.01a0.78 0.78 0 1 0 1.56 0a0.78 0.78 0 1 0 -1.56 0M671.37 196.25a0.78 0.78 0 1 0 1.56 0a0.78 0.78 0 1 0 -1.56 0M623.09 190.45a0.78 0.78 0 1 0 1.56 0a0.78 0.78 0 1 0 -1.56 0M613.93 189.65a0.78 0.78 0 1 0 1.56 0a0.78 0.78 0 1 0 -1.56 0M632.66 192.21a0.78 0.78 0 1 0 1.56 0a0.78 0.78 0 1 0 -1.56 0M643.74 191.7a0.78 0.78 0 1 0 1.56 0a0.78 0.78 0 1 0 -1.56 0M644.6 193.24a0.78 0.78 0 1 0 1.56 0a0.78 0.78 0 1 0 -1.56 0M671.96 188.31a0.78 0.78 0 1 0 1.56 0a0.78 0.78 0 1 0 -1.56 0M685.3 191.75a0.78 0.78 0 1 0 1.56 0a0.78 0.78 0 1 0 -1.56 0M676.46 189.84a0.78 0.78 0 1 0 1.56 0a0.78 0.78 0 1 0 -1.56 0M674.46 195.77a0.78 0.78 0 1 0 1.56 0a0.78 0.78 0 1 0 -1.56 0M665.07 188.89a0.78 0.78 0 1 0 1.56 0a0.78 0.78 0 1 0 -1.56 0M626.1 190.15a0.78 0.78 0 1 0 1.56 0a0.78 0.78 0 1 0 -1.56 0M628.24 193.96a0.78 0.78 0 1 0 1.56 0a0.78 0.78 0 1 0 -1.56 0M640.16 194.5a0.78 0.78 0 1 0 1.56 0a0.78 0.78 0 1 0 -1.56 0M659.89 195.62a0.78 0.78 0 1 0 1.56 0a0.78 0.78 0 1 0 -1.56 0M691.01 188.34a0.78 0.78 0 1 0 1.56 0a0.78 0.78 0 1 0 -1.56 0M659.57 196.9a0.78 0.78 0 1 0 1.56 0a0.78 0.78 0 1 0 -1.56 0M630.59 192.02a0.78 0.78 0 1 0 1.56 0a0.78 0.78 0 1 0 -1.56 0M656.09 196.36a0.78 0.78 0 1 0 1.56 0a0.78 0.78 0 1 0 -1.56 0M635.33 188.58a0.78 0.78 0 1 0 1.56 0a0.78 0.78 0 1 0 -1.56 0M641.88 194.11a0.78 0.78 0 1 0 1.56 0a0.78 0.78 0 1 0 -1.56 0M638.53 194.98a0.78 0.78 0 1 0 1.56 0a0.78 0.78 0 1 0 -1.56 0M624.57 190.44a0.78 0.78 0 1 0 1.56 0a0.78 0.78 0 1 0 -1.56 0M642.59 193.32a0.78 0.78 0 1 0 1.56 0a0.78 0.78 0 1 0 -1.56 0M682.89 196.6a0.78 0.78 0 1 0 1.56 0a0.78 0.78 0 1 0 -1.56 0M688.01 190.15a0.78 0.78 0 1 0 1.56 0a0.78 0.78 0 1 0 -1.56 0M676.4 188.64a0.78 0.78 0 1 0 1.56 0a0.78 0.78 0 1 0 -1.56 0M658.5 193.18a0.78 0.78 0 1 0 1.56 0a0.78 0.78 0 1 0 -1.56 0M638.26 196.53a0.78 0.78 0 1 0 1.56 0a0.78 0.78 0 1 0 -1.56 0M657.18 194.81a0.78 0.78 0 1 0 1.56 0a0.78 0.78 0 1 0 -1.56 0M667.38 191.79a0.78 0.78 0 1 0 1.56 0a0.78 0.78 0 1 0 -1.56 0M684.78 188.61a0.78 0.78 0 1 0 1.56 0a0.78 0.78 0 1 0 -1.56 0M643.71 188.05a0.78 0.78 0 1 0 1.56 0a0.78 0.78 0 1 0 -1.56 0M668.84 188.67a0.78 0.78 0 1 0 1.56 0a0.78 0.78 0 1 0 -1.56 0M641.78 189.23a0.78 0.78 0 1 0 1.56 0a0.78 0.78 0 1 0 -1.56 0M658.98 192.49a0.78 0.78 0 1 0 1.56 0a0.78 0.78 0 1 0 -1.56 0M680.83 196.68a0.78 0.78 0 1 0 1.56 0a0.78 0.78 0 1 0 -1.56 0M615.95 189.58a0.78 0.78 0 1 0 1.56 0a0.78 0.78 0 1 0 -1.56 0M663.82 188.01a0.78 0.78 0 1 0 1.56 0a0.78 0.78 0 1 0 -1.56 0M628.07 194.45a0.78 0.78 0 1 0 1.56 0a0.78 0.78 0 1 0 -1.56 0M667.47 196.67a0.78 0.78 0 1 0 1.56 0a0.78 0.78 0 1 0 -1.56 0M635.15 191.63a0.78 0.78 0 1 0 1.56 0a0.78 0.78 0 1 0 -1.56 0M643.07 188.67a0.78 0.78 0 1 0 1.56 0a0.78 0.78 0 1 0 -1.56 0M648.51 191.35a0.78 0.78 0 1 0 1.56 0a0.78 0.78 0 1 0 -1.56 0M643.06 194.12a0.78 0.78 0 1 0 1.56 0a0.78 0.78 0 1 0 -1.56 0M646.62 191.66a0.78 0.78 0 1 0 1.56 0a0.78 0.78 0 1 0 -1.56 0M642.29 193.75a0.78 0.78 0 1 0 1.56 0a0.78 0.78 0 1 0 -1.56 0M684.44 188.86a0.78 0.78 0 1 0 1.56 0a0.78 0.78 0 1 0 -1.56 0M685.37 192.9a0.78 0.78 0 1 0 1.56 0a0.78 0.78 0 1 0 -1.56 0M611.07 194.71a0.78 0.78 0 1 0 1.56 0a0.78 0.78 0 1 0 -1.56 0M649.02 194.32a0.78 0.78 0 1 0 1.56 0a0.78 0.78 0 1 0 -1.56 0M643.25 190.81a0.78 0.78 0 1 0 1.56 0a0.78 0.78 0 1 0 -1.56 0M692.88 194.14a0.78 0.78 0 1 0 1.56 0a0.78 0.78 0 1 0 -1.56 0M631.46 195.31a0.78 0.78 0 1 0 1.56 0a0.78 0.78 0 1 0 -1.56 0M689.94 192.64a0.78 0.78 0 1 0 1.56 0a0.78 0.78 0 1 0 -1.56 0M666.19 195.32a0.78 0.78 0 1 0 1.56 0a0.78 0.78 0 1 0 -1.56 0M615.22 193.11a0.78 0.78 0 1 0 1.56 0a0.78 0.78 0 1 0 -1.56 0M644.16 194.24a0.78 0.78 0 1 0 1.56 0a0.78 0.78 0 1 0 -1.56 0M631.7 196.41a0.78 0.78 0 1 0 1.56 0a0.78 0.78 0 1 0 -1.56 0M625.48 194.61a0.78 0.78 0 1 0 1.56 0a0.78 0.78 0 1 0 -1.56 0M625.51 196.96a0.78 0.78 0 1 0 1.56 0a0.78 0.78 0 1 0 -1.56 0M689.6 194.13a0.78 0.78 0 1 0 1.56 0a0.78 0.78 0 1 0 -1.56 0M639.54 193.63a0.78 0.78 0 1 0 1.56 0a0.78 0.78 0 1 0 -1.56 0M625.44 195a0.78 0.78 0 1 0 1.56 0a0.78 0.78 0 1 0 -1.56 0M633.51 195.94a0.78 0.78 0 1 0 1.56 0a0.78 0.78 0 1 0 -1.56 0M628.51 196.63a0.78 0.78 0 1 0 1.56 0a0.78 0.78 0 1 0 -1.56 0M689.25 193.78a0.78 0.78 0 1 0 1.56 0a0.78 0.78 0 1 0 -1.56 0M686.36 190.37a0.78 0.78 0 1 0 1.56 0a0.78 0.78 0 1 0 -1.56 0M644.3 194.33a0.78 0.78 0 1 0 1.56 0a0.78 0.78 0 1 0 -1.56 0M655.53 194.2a0.78 0.78 0 1 0 1.56 0a0.78 0.78 0 1 0 -1.56 0M627.2 189.6a0.78 0.78 0 1 0 1.56 0a0.78 0.78 0 1 0 -1.56 0M635.64 190.28a0.78 0.78 0 1 0 1.56 0a0.78 0.78 0 1 0 -1.56 0M672.37 188.51a0.78 0.78 0 1 0 1.56 0a0.78 0.78 0 1 0 -1.56 0M681.04 195.26a0.78 0.78 0 1 0 1.56 0a0.78 0.78 0 1 0 -1.56 0M643.67 191.46a0.78 0.78 0 1 0 1.56 0a0.78 0.78 0 1 0 -1.56 0M649.84 195.66a0.78 0.78 0 1 0 1.56 0a0.78 0.78 0 1 0 -1.56 0M672.22 189.98a0.78 0.78 0 1 0 1.56 0a0.78 0.78 0 1 0 -1.56 0M664.89 195.81a0.78 0.78 0 1 0 1.56 0a0.78 0.78 0 1 0 -1.56 0M668.96 191.07a0.78 0.78 0 1 0 1.56 0a0.78 0.78 0 1 0 -1.56 0M621.8 189.48a0.78 0.78 0 1 0 1.56 0a0.78 0.78 0 1 0 -1.56 0M644.18 192.73a0.78 0.78 0 1 0 1.56 0a0.78 0.78 0 1 0 -1.56 0M646.4 195.73a0.78 0.78 0 1 0 1.56 0a0.78 0.78 0 1 0 -1.56 0M632.28 195.79a0.78 0.78 0 1 0 1.56 0a0.78 0.78 0 1 0 -1.56 0M648.02 190.67a0.78 0.78 0 1 0 1.56 0a0.78 0.78 0 1 0 -1.56 0M670 189.76a0.78 0.78 0 1 0 1.56 0a0.78 0.78 0 1 0 -1.56 0M632.75 188.6a0.78 0.78 0 1 0 1.56 0a0.78 0.78 0 1 0 -1.56 0M645.47 192.68a0.78 0.78 0 1 0 1.56 0a0.78 0.78 0 1 0 -1.56 0M682.25 191.99a0.78 0.78 0 1 0 1.56 0a0.78 0.78 0 1 0 -1.56 0M681.37 189.66a0.78 0.78 0 1 0 1.56 0a0.78 0.78 0 1 0 -1.56 0M664.49 191.74a0.78 0.78 0 1 0 1.56 0a0.78 0.78 0 1 0 -1.56 0M677.79 194.08a0.78 0.78 0 1 0 1.56 0a0.78 0.78 0 1 0 -1.56 0M673.28 193.23a0.78 0.78 0 1 0 1.56 0a0.78 0.78 0 1 0 -1.56 0M629.43 196.86a0.78 0.78 0 1 0 1.56 0a0.78 0.78 0 1 0 -1.56 0M646.46 195.21a0.78 0.78 0 1 0 1.56 0a0.78 0.78 0 1 0 -1.56 0M622.35 196.98a0.78 0.78 0 1 0 1.56 0a0.78 0.78 0 1 0 -1.56 0M619.31 188.31a0.78 0.78 0 1 0 1.56 0a0.78 0.78 0 1 0 -1.56 0M628.21 192.99a0.78 0.78 0 1 0 1.56 0a0.78 0.78 0 1 0 -1.56 0M674.68 192.11a0.78 0.78 0 1 0 1.56 0a0.78 0.78 0 1 0 -1.56 0M657.65 193.61a0.78 0.78 0 1 0 1.56 0a0.78 0.78 0 1 0 -1.56 0M615.98 195.78a0.78 0.78 0 1 0 1.56 0a0.78 0.78 0 1 0 -1.56 0M696.84 193.61a0.78 0.78 0 1 0 1.56 0a0.78 0.78 0 1 0 -1.56 0M627.42 188.23a0.78 0.78 0 1 0 1.56 0a0.78 0.78 0 1 0 -1.56 0M697.82 196.05a0.78 0.78 0 1 0 1.56 0a0.78 0.78 0 1 0 -1.56 0M670.84 194.65a0.78 0.78 0 1 0 1.56 0a0.78 0.78 0 1 0 -1.56 0M672.73 195.12a0.78 0.78 0 1 0 1.56 0a0.78 0.78 0 1 0 -1.56 0M661.8 196.24a0.78 0.78 0 1 0 1.56 0a0.78 0.78 0 1 0 -1.56 0M613.51 192.91a0.78 0.78 0 1 0 1.56 0a0.78 0.78 0 1 0 -1.56 0M645.92 189.82a0.78 0.78 0 1 0 1.56 0a0.78 0.78 0 1 0 -1.56 0M663.56 190.98a0.78 0.78 0 1 0 1.56 0a0.78 0.78 0 1 0 -1.56 0M670.74 194.92a0.78 0.78 0 1 0 1.56 0a0.78 0.78 0 1 0 -1.56 0M684.11 196.96a0.78 0.78 0 1 0 1.56 0a0.78 0.78 0 1 0 -1.56 0M620.55 191.52a0.78 0.78 0 1 0 1.56 0a0.78 0.78 0 1 0 -1.56 0M671.35 192.41a0.78 0.78 0 1 0 1.56 0a0.78 0.78 0 1 0 -1.56 0M635.1 189.58a0.78 0.78 0 1 0 1.56 0a0.78 0.78 0 1 0 -1.56 0M662.01 189.65a0.78 0.78 0 1 0 1.56 0a0.78 0.78 0 1 0 -1.56 0M669.6 189.9a0.78 0.78 0 1 0 1.56 0a0.78 0.78 0 1 0 -1.56 0M695.84 190.4a0.78 0.78 0 1 0 1.56 0a0.78 0.78 0 1 0 -1.56 0M694.1 188.72a0.78 0.78 0 1 0 1.56 0a0.78 0.78 0 1 0 -1.56 0M668.83 188.71a0.78 0.78 0 1 0 1.56 0a0.78 0.78 0 1 0 -1.56 0M643.81 189.2a0.78 0.78 0 1 0 1.56 0a0.78 0.78 0 1 0 -1.56 0M645.43 189.05a0.78 0.78 0 1 0 1.56 0a0.78 0.78 0 1 0 -1.56 0M674.24 191.12a0.78 0.78 0 1 0 1.56 0a0.78 0.78 0 1 0 -1.56 0M629.51 192.69a0.78 0.78 0 1 0 1.56 0a0.78 0.78 0 1 0 -1.56 0M669.02 193.41a0.78 0.78 0 1 0 1.56 0a0.78 0.78 0 1 0 -1.56 0M690 189.86a0.78 0.78 0 1 0 1.56 0a0.78 0.78 0 1 0 -1.56 0M636.12 192.3a0.78 0.78 0 1 0 1.56 0a0.78 0.78 0 1 0 -1.56 0M661.35 190.69a0.78 0.78 0 1 0 1.56 0a0.78 0.78 0 1 0 -1.56 0M673.48 192.85a0.78 0.78 0 1 0 1.56 0a0.78 0.78 0 1 0 -1.56 0M642.7 194.18a0.78 0.78 0 1 0 1.56 0a0.78 0.78 0 1 0 -1.56 0M622.92 190.37a0.78 0.78 0 1 0 1.56 0a0.78 0.78 0 1 0 -1.56 0M679.35 193.93a0.78 0.78 0 1 0 1.56 0a0.78 0.78 0 1 0 -1.56 0M636.8 192.42a0.78 0.78 0 1 0 1.56 0a0.78 0.78 0 1 0 -1.56 0M626.64 188.11a0.78 0.78 0 1 0 1.56 0a0.78 0.78 0 1 0 -1.56 0M682.03 192.87a0.78 0.78 0 1 0 1.56 0a0.78 0.78 0 1 0 -1.56 0M676.82 193.88a0.78 0.78 0 1 0 1.56 0a0.78 0.78 0 1 0 -1.56 0M673.6 191.04a0.78 0.78 0 1 0 1.56 0a0.78 0.78 0 1 0 -1.56 0M679.48 196.76a0.78 0.78 0 1 0 1.56 0a0.78 0.78 0 1 0 -1.56 0M645 194.02a0.78 0.78 0 1 0 1.56 0a0.78 0.78 0 1 0 -1.56 0M688.26 188.4a0.78 0.78 0 1 0 1.56 0a0.78 0.78 0 1 0 -1.56 0M640.98 190.9a0.78 0.78 0 1 0 1.56 0a0.78 0.78 0 1 0 -1.56 0M671.17 192.47a0.78 0.78 0 1 0 1.56 0a0.78 0.78 0 1 0 -1.56 0M621.57 192.53a0.78 0.78 0 1 0 1.56 0a0.78 0.78 0 1 0 -1.56 0M680.7 193.86a0.78 0.78 0 1 0 1.56 0a0.78 0.78 0 1 0 -1.56 0M633.3 188.92a0.78 0.78 0 1 0 1.56 0a0.78 0.78 0 1 0 -1.56 0M655.56 195.44a0.78 0.78 0 1 0 1.56 0a0.78 0.78 0 1 0 -1.56 0M615.65 195.51a0.78 0.78 0 1 0 1.56 0a0.78 0.78 0 1 0 -1.56 0M696.38 193.87a0.78 0.78 0 1 0 1.56 0a0.78 0.78 0 1 0 -1.56 0M665.73 188.61a0.78 0.78 0 1 0 1.56 0a0.78 0.78 0 1 0 -1.56 0M633.91 194.26a0.78 0.78 0 1 0 1.56 0a0.78 0.78 0 1 0 -1.56 0M691.27 192.16a0.78 0.78 0 1 0 1.56 0a0.78 0.78 0 1 0 -1.56 0M624.84 188.65a0.78 0.78 0 1 0 1.56 0a0.78 0.78 0 1 0 -1.56 0M629.46 190.78a0.78 0.78 0 1 0 1.56 0a0.78 0.78 0 1 0 -1.56 0M668.08 195.9a0.78 0.78 0 1 0 1.56 0a0.78 0.78 0 1 0 -1.56 0M658.89 189.58a0.78 0.78 0 1 0 1.56 0a0.78 0.78 0 1 0 -1.56 0M610.86 192.44a0.78 0.78 0 1 0 1.56 0a0.78 0.78 0 1 0 -1.56 0M692.02 194.67a0.78 0.78 0 1 0 1.56 0a0.78 0.78 0 1 0 -1.56 0M647.02 196.14a0.78 0.78 0 1 0 1.56 0a0.78 0.78 0 1 0 -1.56 0M688.09 193.55a0.78 0.78 0 1 0 1.56 0a0.78 0.78 0 1 0 -1.56 0M611.8 188.18a0.78 0.78 0 1 0 1.56 0a0.78 0.78 0 1 0 -1.56 0M663.06 192.13a0.78 0.78 0 1 0 1.56 0a0.78 0.78 0 1 0 -1.56 0M689.02 196.2a0.78 0.78 0 1 0 1.56 0a0.78 0.78 0 1 0 -1.56 0M673.59 189.26a0.78 0.78 0 1 0 1.56 0a0.78 0.78 0 1 0 -1.56 0M634.85 195.09a0.78 0.78 0 1 0 1.56 0a0.78 0.78 0 1 0 -1.56 0M645.8 195.62a0.78 0.78 0 1 0 1.56 0a0.78 0.78 0 1 0 -1.56 0M676.98 196.05a0.78 0.78 0 1 0 1.56 0a0.78 0.78 0 1 0 -1.56 0M684.71 194.54a0.78 0.78 0 1 0 1.56 0a0.78 0.78 0 1 0 -1.56 0M639.59 196.23a0.78 0.78 0 1 0 1.56 0a0.78 0.78 0 1 0 -1.56 0M697.81 192.51a0.78 0.78 0 1 0 1.56 0a0.78 0.78 0 1 0 -1.56 0M627.92 190.51a0.78 0.78 0 1 0 1.56 0a0.78 0.78 0 1 0 -1.56 0M669.01 195.59a0.78 0.78 0 1 0 1.56 0a0.78 0.78 0 1 0 -1.56 0M641.73 191.99a0.78 0.78 0 1 0 1.56 0a0.78 0.78 0 1 0 -1.56 0M622.99 196.25a0.78 0.78 0 1 0 1.56 0a0.78 0.78 0 1 0 -1.56 0M639.24 189.81a0.78 0.78 0 1 0 1.56 0a0.78 0.78 0 1 0 -1.56 0M622.27 193.25a0.78 0.78 0 1 0 1.56 0a0.78 0.78 0 1 0 -1.56 0M627.22 194.84a0.78 0.78 0 1 0 1.56 0a0.78 0.78 0 1 0 -1.56 0M661.41 188.38a0.78 0.78 0 1 0 1.56 0a0.78 0.78 0 1 0 -1.56 0M636.39 191.3a0.78 0.78 0 1 0 1.56 0a0.78 0.78 0 1 0 -1.56 0M630.37 191.13a0.78 0.78 0 1 0 1.56 0a0.78 0.78 0 1 0 -1.56 0M646.16 191.12a0.78 0.78 0 1 0 1.56 0a0.78 0.78 0 1 0 -1.56 0M682.62 188.21a0.78 0.78 0 1 0 1.56 0a0.78 0.78 0 1 0 -1.56 0M633.83 195.67a0.78 0.78 0 1 0 1.56 0a0.78 0.78 0 1 0 -1.56 0M682.24 191.08a0.78 0.78 0 1 0 1.56 0a0.78 0.78 0 1 0 -1.56 0M684.32 194.79a0.78 0.78 0 1 0 1.56 0a0.78 0.78 0 1 0 -1.56 0M680.06 196.14a0.78 0.78 0 1 0 1.56 0a0.78 0.78 0 1 0 -1.56 0M657.21 191.33a0.78 0.78 0 1 0 1.56 0a0.78 0.78 0 1 0 -1.56 0M671.97 193.1a0.78 0.78 0 1 0 1.56 0a0.78 0.78 0 1 0 -1.56 0M680.85 189.42a0.78 0.78 0 1 0 1.56 0a0.78 0.78 0 1 0 -1.56 0M670.22 196.5a0.78 0.78 0 1 0 1.56 0a0.78 0.78 0 1 0 -1.56 0M663.87 190.66a0.78 0.78 0 1 0 1.56 0a0.78 0.78 0 1 0 -1.56 0M636.43 193.92a0.78 0.78 0 1 0 1.56 0a0.78 0.78 0 1 0 -1.56 0M658.48 192a0.78 0.78 0 1 0 1.56 0a0.78 0.78 0 1 0 -1.56 0M658.81 193.95a0.78 0.78 0 1 0 1.56 0a0.78 0.78 0 1 0 -1.56 0M672.24 188.67a0.78 0.78 0 1 0 1.56 0a0.78 0.78 0 1 0 -1.56 0M617.01 193.04a0.78 0.78 0 1 0 1.56 0a0.78 0.78 0 1 0 -1.56 0M623.08 194.78a0.78 0.78 0 1 0 1.56 0a0.78 0.78 0 1 0 -1.56 0M685.15 192.86a0.78 0.78 0 1 0 1.56 0a0.78 0.78 0 1 0 -1.56 0M633.12 196.5a0.78 0.78 0 1 0 1.56 0a0.78 0.78 0 1 0 -1.56 0M647.08 191.01a0.78 0.78 0 1 0 1.56 0a0.78 0.78 0 1 0 -1.56 0M637.1 195.04a0.78 0.78 0 1 0 1.56 0a0.78 0.78 0 1 0 -1.56 0M641.67 189.03a0.78 0.78 0 1 0 1.56 0a0.78 0.78 0 1 0 -1.56 0M626.68 188.42a0.78 0.78 0 1 0 1.56 0a0.78 0.78 0 1 0 -1.56 0M661.14 190.88a0.78 0.78 0 1 0 1.56 0a0.78 0.78 0 1 0 -1.56 0M632.22 188.81a0.78 0.78 0 1 0 1.56 0a0.78 0.78 0 1 0 -1.56 0M692.35 195.23a0.78 0.78 0 1 0 1.56 0a0.78 0.78 0 1 0 -1.56 0M627.65 194.05a0.78 0.78 0 1 0 1.56 0a0.78 0.78 0 1 0 -1.56 0M657.8 189.1a0.78 0.78 0 1 0 1.56 0a0.78 0.78 0 1 0 -1.56 0M667.76 190.53a0.78 0.78 0 1 0 1.56 0a0.78 0.78 0 1 0 -1.56 0M674.39 189.08a0.78 0.78 0 1 0 1.56 0a0.78 0.78 0 1 0 -1.56 0M638.9 195.95a0.78 0.78 0 1 0 1.56 0a0.78 0.78 0 1 0 -1.56 0M678.45 193.25a0.78 0.78 0 1 0 1.56 0a0.78 0.78 0 1 0 -1.56 0M680.92 193.7a0.78 0.78 0 1 0 1.56 0a0.78 0.78 0 1 0 -1.56 0M622.68 194.94a0.78 0.78 0 1 0 1.56 0a0.78 0.78 0 1 0 -1.56 0M672.3 195.37a0.78 0.78 0 1 0 1.56 0a0.78 0.78 0 1 0 -1.56 0M639.19 192.41a0.78 0.78 0 1 0 1.56 0a0.78 0.78 0 1 0 -1.56 0M625.05 194.99a0.78 0.78 0 1 0 1.56 0a0.78 0.78 0 1 0 -1.56 0M684.95 193.98a0.78 0.78 0 1 0 1.56 0a0.78 0.78 0 1 0 -1.56 0M684.13 196.67a0.78 0.78 0 1 0 1.56 0a0.78 0.78 0 1 0 -1.56 0M632.23 196.59a0.78 0.78 0 1 0 1.56 0a0.78 0.78 0 1 0 -1.56 0M664.61 192.26a0.78 0.78 0 1 0 1.56 0a0.78 0.78 0 1 0 -1.56 0M605.22 196a0.78 0.78 0 1 0 1.56 0a0.78 0.78 0 1 0 -1.56 0M607.22 195a0.78 0.78 0 1 0 1.56 0a0.78 0.78 0 1 0 -1.56 0M610.22 193.5a0.78 0.78 0 1 0 1.56 0a0.78 0.78 0 1 0 -1.56 0M613.22 194a0.78 0.78 0 1 0 1.56 0a0.78 0.78 0 1 0 -1.56 0M616.22 192a0.78 0.78 0 1 0 1.56 0a0.78 0.78 0 1 0 -1.56 0M618.22 197a0.78 0.78 0 1 0 1.56 0a0.78 0.78 0 1 0 -1.56 0M622.22 195a0.78 0.78 0 1 0 1.56 0a0.78 0.78 0 1 0 -1.56 0M689.22 190a0.78 0.78 0 1 0 1.56 0a0.78 0.78 0 1 0 -1.56 0M691.22 194a0.78 0.78 0 1 0 1.56 0a0.78 0.78 0 1 0 -1.56 0M693.22 198a0.78 0.78 0 1 0 1.56 0a0.78 0.78 0 1 0 -1.56 0M696.22 191a0.78 0.78 0 1 0 1.56 0a0.78 0.78 0 1 0 -1.56 0M703.22 189.5a0.78 0.78 0 1 0 1.56 0a0.78 0.78 0 1 0 -1.56 0M703.22 198a0.78 0.78 0 1 0 1.56 0a0.78 0.78 0 1 0 -1.56 0M699.22 196a0.78 0.78 0 1 0 1.56 0a0.78 0.78 0 1 0 -1.56 0M685.22 196a0.78 0.78 0 1 0 1.56 0a0.78 0.78 0 1 0 -1.56 0M687.22 199a0.78 0.78 0 1 0 1.56 0a0.78 0.78 0 1 0 -1.56 0" fill="#454545"/><path d="M635.06 184.27a0.85 0.85 0 1 0 1.7 0a0.85 0.85 0 1 0 -1.7 0M635.18 182.07a0.85 0.85 0 1 0 1.7 0a0.85 0.85 0 1 0 -1.7 0M634.91 126.86a0.85 0.85 0 1 0 1.7 0a0.85 0.85 0 1 0 -1.7 0M643.26 187.52a0.85 0.85 0 1 0 1.7 0a0.85 0.85 0 1 0 -1.7 0M643.28 187.41a0.85 0.85 0 1 0 1.7 0a0.85 0.85 0 1 0 -1.7 0M642.61 155.98a0.85 0.85 0 1 0 1.7 0a0.85 0.85 0 1 0 -1.7 0M642.55 179.21a0.85 0.85 0 1 0 1.7 0a0.85 0.85 0 1 0 -1.7 0M640.98 153.72a0.85 0.85 0 1 0 1.7 0a0.85 0.85 0 1 0 -1.7 0M644.26 173.61a0.85 0.85 0 1 0 1.7 0a0.85 0.85 0 1 0 -1.7 0M635.8 159.86a0.85 0.85 0 1 0 1.7 0a0.85 0.85 0 1 0 -1.7 0M644.64 184.87a0.85 0.85 0 1 0 1.7 0a0.85 0.85 0 1 0 -1.7 0M634.32 130.5a0.85 0.85 0 1 0 1.7 0a0.85 0.85 0 1 0 -1.7 0M638.44 131.3a0.85 0.85 0 1 0 1.7 0a0.85 0.85 0 1 0 -1.7 0M635.45 165.45a0.85 0.85 0 1 0 1.7 0a0.85 0.85 0 1 0 -1.7 0M635.54 186.56a0.85 0.85 0 1 0 1.7 0a0.85 0.85 0 1 0 -1.7 0M637.27 166.45a0.85 0.85 0 1 0 1.7 0a0.85 0.85 0 1 0 -1.7 0M633.13 187.08a0.85 0.85 0 1 0 1.7 0a0.85 0.85 0 1 0 -1.7 0M633 151.07a0.85 0.85 0 1 0 1.7 0a0.85 0.85 0 1 0 -1.7 0M639.67 187.38a0.85 0.85 0 1 0 1.7 0a0.85 0.85 0 1 0 -1.7 0M637.53 187.6a0.85 0.85 0 1 0 1.7 0a0.85 0.85 0 1 0 -1.7 0M645.21 187.22a0.85 0.85 0 1 0 1.7 0a0.85 0.85 0 1 0 -1.7 0M638.38 177.15a0.85 0.85 0 1 0 1.7 0a0.85 0.85 0 1 0 -1.7 0M630.95 181.6a0.85 0.85 0 1 0 1.7 0a0.85 0.85 0 1 0 -1.7 0M641.67 145.76a0.85 0.85 0 1 0 1.7 0a0.85 0.85 0 1 0 -1.7 0M640.25 187.6a0.85 0.85 0 1 0 1.7 0a0.85 0.85 0 1 0 -1.7 0M641.47 154.44a0.85 0.85 0 1 0 1.7 0a0.85 0.85 0 1 0 -1.7 0M638.69 124.05a0.85 0.85 0 1 0 1.7 0a0.85 0.85 0 1 0 -1.7 0M632.23 138.57a0.85 0.85 0 1 0 1.7 0a0.85 0.85 0 1 0 -1.7 0M638.35 115.61a0.85 0.85 0 1 0 1.7 0a0.85 0.85 0 1 0 -1.7 0M643.65 170.44a0.85 0.85 0 1 0 1.7 0a0.85 0.85 0 1 0 -1.7 0M637.95 186.73a0.85 0.85 0 1 0 1.7 0a0.85 0.85 0 1 0 -1.7 0M638.66 187.55a0.85 0.85 0 1 0 1.7 0a0.85 0.85 0 1 0 -1.7 0M636.24 116.43a0.85 0.85 0 1 0 1.7 0a0.85 0.85 0 1 0 -1.7 0M635.78 181.96a0.85 0.85 0 1 0 1.7 0a0.85 0.85 0 1 0 -1.7 0M637.94 187.16a0.85 0.85 0 1 0 1.7 0a0.85 0.85 0 1 0 -1.7 0M638.89 186.39a0.85 0.85 0 1 0 1.7 0a0.85 0.85 0 1 0 -1.7 0M636.94 176.04a0.85 0.85 0 1 0 1.7 0a0.85 0.85 0 1 0 -1.7 0M636.99 174.5a0.85 0.85 0 1 0 1.7 0a0.85 0.85 0 1 0 -1.7 0M638.45 180.26a0.85 0.85 0 1 0 1.7 0a0.85 0.85 0 1 0 -1.7 0M641.1 145.89a0.85 0.85 0 1 0 1.7 0a0.85 0.85 0 1 0 -1.7 0M642.33 175.12a0.85 0.85 0 1 0 1.7 0a0.85 0.85 0 1 0 -1.7 0M633.39 186.19a0.85 0.85 0 1 0 1.7 0a0.85 0.85 0 1 0 -1.7 0M632.99 185.99a0.85 0.85 0 1 0 1.7 0a0.85 0.85 0 1 0 -1.7 0M642.68 157.25a0.85 0.85 0 1 0 1.7 0a0.85 0.85 0 1 0 -1.7 0M633.89 170.61a0.85 0.85 0 1 0 1.7 0a0.85 0.85 0 1 0 -1.7 0M643.75 187.51a0.85 0.85 0 1 0 1.7 0a0.85 0.85 0 1 0 -1.7 0M632.91 175.87a0.85 0.85 0 1 0 1.7 0a0.85 0.85 0 1 0 -1.7 0M636.57 115.9a0.85 0.85 0 1 0 1.7 0a0.85 0.85 0 1 0 -1.7 0M639.26 122.95a0.85 0.85 0 1 0 1.7 0a0.85 0.85 0 1 0 -1.7 0M642.55 154.77a0.85 0.85 0 1 0 1.7 0a0.85 0.85 0 1 0 -1.7 0M632.13 127.13a0.85 0.85 0 1 0 1.7 0a0.85 0.85 0 1 0 -1.7 0M639.63 185.38a0.85 0.85 0 1 0 1.7 0a0.85 0.85 0 1 0 -1.7 0M632.9 170.97a0.85 0.85 0 1 0 1.7 0a0.85 0.85 0 1 0 -1.7 0M643.68 186.61a0.85 0.85 0 1 0 1.7 0a0.85 0.85 0 1 0 -1.7 0M634.76 122.07a0.85 0.85 0 1 0 1.7 0a0.85 0.85 0 1 0 -1.7 0M671.85 152.06a0.85 0.85 0 1 0 1.7 0a0.85 0.85 0 1 0 -1.7 0M660.88 155.35a0.85 0.85 0 1 0 1.7 0a0.85 0.85 0 1 0 -1.7 0M668.47 184.63a0.85 0.85 0 1 0 1.7 0a0.85 0.85 0 1 0 -1.7 0M671.16 163.45a0.85 0.85 0 1 0 1.7 0a0.85 0.85 0 1 0 -1.7 0M668.69 187.49a0.85 0.85 0 1 0 1.7 0a0.85 0.85 0 1 0 -1.7 0M662.82 187.6a0.85 0.85 0 1 0 1.7 0a0.85 0.85 0 1 0 -1.7 0M666.03 187.59a0.85 0.85 0 1 0 1.7 0a0.85 0.85 0 1 0 -1.7 0M668.4 187.47a0.85 0.85 0 1 0 1.7 0a0.85 0.85 0 1 0 -1.7 0M670.81 184.09a0.85 0.85 0 1 0 1.7 0a0.85 0.85 0 1 0 -1.7 0M673.7 185.76a0.85 0.85 0 1 0 1.7 0a0.85 0.85 0 1 0 -1.7 0M659.16 187.49a0.85 0.85 0 1 0 1.7 0a0.85 0.85 0 1 0 -1.7 0M665.89 181.4a0.85 0.85 0 1 0 1.7 0a0.85 0.85 0 1 0 -1.7 0M658.28 160.64a0.85 0.85 0 1 0 1.7 0a0.85 0.85 0 1 0 -1.7 0M661.78 187.24a0.85 0.85 0 1 0 1.7 0a0.85 0.85 0 1 0 -1.7 0M670.99 183.43a0.85 0.85 0 1 0 1.7 0a0.85 0.85 0 1 0 -1.7 0M661.64 173.89a0.85 0.85 0 1 0 1.7 0a0.85 0.85 0 1 0 -1.7 0M670.13 184.56a0.85 0.85 0 1 0 1.7 0a0.85 0.85 0 1 0 -1.7 0M659.58 179.25a0.85 0.85 0 1 0 1.7 0a0.85 0.85 0 1 0 -1.7 0M658.24 185.12a0.85 0.85 0 1 0 1.7 0a0.85 0.85 0 1 0 -1.7 0M661.55 182.82a0.85 0.85 0 1 0 1.7 0a0.85 0.85 0 1 0 -1.7 0M663.28 186.1a0.85 0.85 0 1 0 1.7 0a0.85 0.85 0 1 0 -1.7 0M659.18 158.82a0.85 0.85 0 1 0 1.7 0a0.85 0.85 0 1 0 -1.7 0M659.95 187.55a0.85 0.85 0 1 0 1.7 0a0.85 0.85 0 1 0 -1.7 0M664.81 183.59a0.85 0.85 0 1 0 1.7 0a0.85 0.85 0 1 0 -1.7 0M669.48 152.26a0.85 0.85 0 1 0 1.7 0a0.85 0.85 0 1 0 -1.7 0M659.95 186.51a0.85 0.85 0 1 0 1.7 0a0.85 0.85 0 1 0 -1.7 0M671.17 179.58a0.85 0.85 0 1 0 1.7 0a0.85 0.85 0 1 0 -1.7 0M670.09 186.94a0.85 0.85 0 1 0 1.7 0a0.85 0.85 0 1 0 -1.7 0M673.17 185.05a0.85 0.85 0 1 0 1.7 0a0.85 0.85 0 1 0 -1.7 0M660.64 149.56a0.85 0.85 0 1 0 1.7 0a0.85 0.85 0 1 0 -1.7 0M667.3 164a0.85 0.85 0 1 0 1.7 0a0.85 0.85 0 1 0 -1.7 0M666.14 184.56a0.85 0.85 0 1 0 1.7 0a0.85 0.85 0 1 0 -1.7 0M665.55 154.89a0.85 0.85 0 1 0 1.7 0a0.85 0.85 0 1 0 -1.7 0M665.77 178.89a0.85 0.85 0 1 0 1.7 0a0.85 0.85 0 1 0 -1.7 0M669.99 187.6a0.85 0.85 0 1 0 1.7 0a0.85 0.85 0 1 0 -1.7 0M672.25 187.52a0.85 0.85 0 1 0 1.7 0a0.85 0.85 0 1 0 -1.7 0M666.93 187.6a0.85 0.85 0 1 0 1.7 0a0.85 0.85 0 1 0 -1.7 0M668.81 186.66a0.85 0.85 0 1 0 1.7 0a0.85 0.85 0 1 0 -1.7 0M669.8 175.99a0.85 0.85 0 1 0 1.7 0a0.85 0.85 0 1 0 -1.7 0M673.66 162.84a0.85 0.85 0 1 0 1.7 0a0.85 0.85 0 1 0 -1.7 0M661.52 187.5a0.85 0.85 0 1 0 1.7 0a0.85 0.85 0 1 0 -1.7 0M672.7 181.92a0.85 0.85 0 1 0 1.7 0a0.85 0.85 0 1 0 -1.7 0M661.17 184.36a0.85 0.85 0 1 0 1.7 0a0.85 0.85 0 1 0 -1.7 0M662.9 180.52a0.85 0.85 0 1 0 1.7 0a0.85 0.85 0 1 0 -1.7 0M670.77 187.57a0.85 0.85 0 1 0 1.7 0a0.85 0.85 0 1 0 -1.7 0M671.33 182.82a0.85 0.85 0 1 0 1.7 0a0.85 0.85 0 1 0 -1.7 0M663.25 187.52a0.85 0.85 0 1 0 1.7 0a0.85 0.85 0 1 0 -1.7 0M671.38 187.49a0.85 0.85 0 1 0 1.7 0a0.85 0.85 0 1 0 -1.7 0M667.54 183.07a0.85 0.85 0 1 0 1.7 0a0.85 0.85 0 1 0 -1.7 0M664.89 187.59a0.85 0.85 0 1 0 1.7 0a0.85 0.85 0 1 0 -1.7 0M669.12 184.55a0.85 0.85 0 1 0 1.7 0a0.85 0.85 0 1 0 -1.7 0M673.6 186.84a0.85 0.85 0 1 0 1.7 0a0.85 0.85 0 1 0 -1.7 0M666.07 185.68a0.85 0.85 0 1 0 1.7 0a0.85 0.85 0 1 0 -1.7 0M663.34 182.36a0.85 0.85 0 1 0 1.7 0a0.85 0.85 0 1 0 -1.7 0M658.48 187.59a0.85 0.85 0 1 0 1.7 0a0.85 0.85 0 1 0 -1.7 0M673.53 154.03a0.85 0.85 0 1 0 1.7 0a0.85 0.85 0 1 0 -1.7 0M659.99 176.57a0.85 0.85 0 1 0 1.7 0a0.85 0.85 0 1 0 -1.7 0M662.97 187.16a0.85 0.85 0 1 0 1.7 0a0.85 0.85 0 1 0 -1.7 0M663.32 187.6a0.85 0.85 0 1 0 1.7 0a0.85 0.85 0 1 0 -1.7 0M663.07 186.35a0.85 0.85 0 1 0 1.7 0a0.85 0.85 0 1 0 -1.7 0M666.79 161.28a0.85 0.85 0 1 0 1.7 0a0.85 0.85 0 1 0 -1.7 0" fill="#F0A020"/><path d="M617.36 51.51a0.85 0.85 0 1 0 1.7 0a0.85 0.85 0 1 0 -1.7 0M612.85 88.48a0.85 0.85 0 1 0 1.7 0a0.85 0.85 0 1 0 -1.7 0M604.73 104.11a0.85 0.85 0 1 0 1.7 0a0.85 0.85 0 1 0 -1.7 0M621.86 108.02a0.85 0.85 0 1 0 1.7 0a0.85 0.85 0 1 0 -1.7 0M591.21 114.63a0.85 0.85 0 1 0 1.7 0a0.85 0.85 0 1 0 -1.7 0M608.34 122.15a0.85 0.85 0 1 0 1.7 0a0.85 0.85 0 1 0 -1.7 0M588.8 131.17a0.85 0.85 0 1 0 1.7 0a0.85 0.85 0 1 0 -1.7 0M613.45 130.26a0.85 0.85 0 1 0 1.7 0a0.85 0.85 0 1 0 -1.7 0M612.85 132.67a0.85 0.85 0 1 0 1.7 0a0.85 0.85 0 1 0 -1.7 0M621.26 138.68a0.85 0.85 0 1 0 1.7 0a0.85 0.85 0 1 0 -1.7 0M625.77 138.08a0.85 0.85 0 1 0 1.7 0a0.85 0.85 0 1 0 -1.7 0M582.79 133.27a0.85 0.85 0 1 0 1.7 0a0.85 0.85 0 1 0 -1.7 0M593.31 134.17a0.85 0.85 0 1 0 1.7 0a0.85 0.85 0 1 0 -1.7 0M586.7 141.08a0.85 0.85 0 1 0 1.7 0a0.85 0.85 0 1 0 -1.7 0M552.73 146.19a0.85 0.85 0 1 0 1.7 0a0.85 0.85 0 1 0 -1.7 0M558.74 146.19a0.85 0.85 0 1 0 1.7 0a0.85 0.85 0 1 0 -1.7 0M569.26 146.19a0.85 0.85 0 1 0 1.7 0a0.85 0.85 0 1 0 -1.7 0M572.87 146.19a0.85 0.85 0 1 0 1.7 0a0.85 0.85 0 1 0 -1.7 0M579.78 145.59a0.85 0.85 0 1 0 1.7 0a0.85 0.85 0 1 0 -1.7 0M589.7 149.2a0.85 0.85 0 1 0 1.7 0a0.85 0.85 0 1 0 -1.7 0M596.32 146.8a0.85 0.85 0 1 0 1.7 0a0.85 0.85 0 1 0 -1.7 0M598.72 146.8a0.85 0.85 0 1 0 1.7 0a0.85 0.85 0 1 0 -1.7 0M591.81 155.81a0.85 0.85 0 1 0 1.7 0a0.85 0.85 0 1 0 -1.7 0M603.23 152.21a0.85 0.85 0 1 0 1.7 0a0.85 0.85 0 1 0 -1.7 0M570.77 158.22a0.85 0.85 0 1 0 1.7 0a0.85 0.85 0 1 0 -1.7 0M571.67 161.22a0.85 0.85 0 1 0 1.7 0a0.85 0.85 0 1 0 -1.7 0M578.28 161.22a0.85 0.85 0 1 0 1.7 0a0.85 0.85 0 1 0 -1.7 0M585.8 162.12a0.85 0.85 0 1 0 1.7 0a0.85 0.85 0 1 0 -1.7 0M593.31 161.22a0.85 0.85 0 1 0 1.7 0a0.85 0.85 0 1 0 -1.7 0M596.32 162.73a0.85 0.85 0 1 0 1.7 0a0.85 0.85 0 1 0 -1.7 0M599.32 164.23a0.85 0.85 0 1 0 1.7 0a0.85 0.85 0 1 0 -1.7 0M603.83 166.63a0.85 0.85 0 1 0 1.7 0a0.85 0.85 0 1 0 -1.7 0M587.3 167.23a0.85 0.85 0 1 0 1.7 0a0.85 0.85 0 1 0 -1.7 0M590.3 173.25a0.85 0.85 0 1 0 1.7 0a0.85 0.85 0 1 0 -1.7 0M597.82 168.74a0.85 0.85 0 1 0 1.7 0a0.85 0.85 0 1 0 -1.7 0M602.33 169.64a0.85 0.85 0 1 0 1.7 0a0.85 0.85 0 1 0 -1.7 0M608.34 171.74a0.85 0.85 0 1 0 1.7 0a0.85 0.85 0 1 0 -1.7 0M612.85 166.63a0.85 0.85 0 1 0 1.7 0a0.85 0.85 0 1 0 -1.7 0M616.75 166.63a0.85 0.85 0 1 0 1.7 0a0.85 0.85 0 1 0 -1.7 0M620.36 167.84a0.85 0.85 0 1 0 1.7 0a0.85 0.85 0 1 0 -1.7 0M624.87 167.23a0.85 0.85 0 1 0 1.7 0a0.85 0.85 0 1 0 -1.7 0M614.35 174.75a0.85 0.85 0 1 0 1.7 0a0.85 0.85 0 1 0 -1.7 0M618.86 176.25a0.85 0.85 0 1 0 1.7 0a0.85 0.85 0 1 0 -1.7 0M621.86 178.66a0.85 0.85 0 1 0 1.7 0a0.85 0.85 0 1 0 -1.7 0M626.37 176.25a0.85 0.85 0 1 0 1.7 0a0.85 0.85 0 1 0 -1.7 0M611.34 179.26a0.85 0.85 0 1 0 1.7 0a0.85 0.85 0 1 0 -1.7 0M617.36 180.76a0.85 0.85 0 1 0 1.7 0a0.85 0.85 0 1 0 -1.7 0M604.73 185.27a0.85 0.85 0 1 0 1.7 0a0.85 0.85 0 1 0 -1.7 0M608.34 184.67a0.85 0.85 0 1 0 1.7 0a0.85 0.85 0 1 0 -1.7 0M611.34 185.27a0.85 0.85 0 1 0 1.7 0a0.85 0.85 0 1 0 -1.7 0M614.35 183.77a0.85 0.85 0 1 0 1.7 0a0.85 0.85 0 1 0 -1.7 0M618.86 185.27a0.85 0.85 0 1 0 1.7 0a0.85 0.85 0 1 0 -1.7 0M623.37 184.67a0.85 0.85 0 1 0 1.7 0a0.85 0.85 0 1 0 -1.7 0M626.37 183.77a0.85 0.85 0 1 0 1.7 0a0.85 0.85 0 1 0 -1.7 0M628.78 185.27a0.85 0.85 0 1 0 1.7 0a0.85 0.85 0 1 0 -1.7 0M627.88 181.66a0.85 0.85 0 1 0 1.7 0a0.85 0.85 0 1 0 -1.7 0M584.29 182.26a0.85 0.85 0 1 0 1.7 0a0.85 0.85 0 1 0 -1.7 0M587.9 173.25a0.85 0.85 0 1 0 1.7 0a0.85 0.85 0 1 0 -1.7 0M522.68 78.57a0.85 0.85 0 1 0 1.7 0a0.85 0.85 0 1 0 -1.7 0M534.1 90.59a0.85 0.85 0 1 0 1.7 0a0.85 0.85 0 1 0 -1.7 0M542.21 93.59a0.85 0.85 0 1 0 1.7 0a0.85 0.85 0 1 0 -1.7 0M546.72 95.1a0.85 0.85 0 1 0 1.7 0a0.85 0.85 0 1 0 -1.7 0M549.73 85.48a0.85 0.85 0 1 0 1.7 0a0.85 0.85 0 1 0 -1.7 0M563.85 102.61a0.85 0.85 0 1 0 1.7 0a0.85 0.85 0 1 0 -1.7 0M546.72 106.52a0.85 0.85 0 1 0 1.7 0a0.85 0.85 0 1 0 -1.7 0M568.66 116.14a0.85 0.85 0 1 0 1.7 0a0.85 0.85 0 1 0 -1.7 0M570.77 117.64a0.85 0.85 0 1 0 1.7 0a0.85 0.85 0 1 0 -1.7 0M581.29 119.14a0.85 0.85 0 1 0 1.7 0a0.85 0.85 0 1 0 -1.7 0M576.18 122.75a0.85 0.85 0 1 0 1.7 0a0.85 0.85 0 1 0 -1.7 0M561.15 131.17a0.85 0.85 0 1 0 1.7 0a0.85 0.85 0 1 0 -1.7 0M565.36 129.96a0.85 0.85 0 1 0 1.7 0a0.85 0.85 0 1 0 -1.7 0M563.55 136.58a0.85 0.85 0 1 0 1.7 0a0.85 0.85 0 1 0 -1.7 0M553.63 146.19a0.85 0.85 0 1 0 1.7 0a0.85 0.85 0 1 0 -1.7 0M521.17 139.58a0.85 0.85 0 1 0 1.7 0a0.85 0.85 0 1 0 -1.7 0M554.24 116.14a0.85 0.85 0 1 0 1.7 0a0.85 0.85 0 1 0 -1.7 0M563.25 122.75a0.85 0.85 0 1 0 1.7 0a0.85 0.85 0 1 0 -1.7 0M560.25 126.66a0.85 0.85 0 1 0 1.7 0a0.85 0.85 0 1 0 -1.7 0M600.82 158.22a0.85 0.85 0 1 0 1.7 0a0.85 0.85 0 1 0 -1.7 0M605.33 161.82a0.85 0.85 0 1 0 1.7 0a0.85 0.85 0 1 0 -1.7 0M594.21 165.73a0.85 0.85 0 1 0 1.7 0a0.85 0.85 0 1 0 -1.7 0M599.32 176.25a0.85 0.85 0 1 0 1.7 0a0.85 0.85 0 1 0 -1.7 0M605.93 176.25a0.85 0.85 0 1 0 1.7 0a0.85 0.85 0 1 0 -1.7 0M609.84 180.76a0.85 0.85 0 1 0 1.7 0a0.85 0.85 0 1 0 -1.7 0M612.85 170.24a0.85 0.85 0 1 0 1.7 0a0.85 0.85 0 1 0 -1.7 0M615.85 162.73a0.85 0.85 0 1 0 1.7 0a0.85 0.85 0 1 0 -1.7 0M620.36 158.22a0.85 0.85 0 1 0 1.7 0a0.85 0.85 0 1 0 -1.7 0M624.27 172.64a0.85 0.85 0 1 0 1.7 0a0.85 0.85 0 1 0 -1.7 0M627.27 162.73a0.85 0.85 0 1 0 1.7 0a0.85 0.85 0 1 0 -1.7 0M584.29 156.71a0.85 0.85 0 1 0 1.7 0a0.85 0.85 0 1 0 -1.7 0M577.68 167.23a0.85 0.85 0 1 0 1.7 0a0.85 0.85 0 1 0 -1.7 0M602.33 182.26a0.85 0.85 0 1 0 1.7 0a0.85 0.85 0 1 0 -1.7 0M605.93 179.26a0.85 0.85 0 1 0 1.7 0a0.85 0.85 0 1 0 -1.7 0M595.71 182.26a0.85 0.85 0 1 0 1.7 0a0.85 0.85 0 1 0 -1.7 0M523.25 78.5a0.85 0.85 0 1 0 1.7 0a0.85 0.85 0 1 0 -1.7 0M550.15 85.3a0.85 0.85 0 1 0 1.7 0a0.85 0.85 0 1 0 -1.7 0M534.35 90.6a0.85 0.85 0 1 0 1.7 0a0.85 0.85 0 1 0 -1.7 0M541.75 93.9a0.85 0.85 0 1 0 1.7 0a0.85 0.85 0 1 0 -1.7 0M545.85 95.1a0.85 0.85 0 1 0 1.7 0a0.85 0.85 0 1 0 -1.7 0M563.65 103.1a0.85 0.85 0 1 0 1.7 0a0.85 0.85 0 1 0 -1.7 0M547.05 106.6a0.85 0.85 0 1 0 1.7 0a0.85 0.85 0 1 0 -1.7 0M547.65 108.3a0.85 0.85 0 1 0 1.7 0a0.85 0.85 0 1 0 -1.7 0M569.45 116a0.85 0.85 0 1 0 1.7 0a0.85 0.85 0 1 0 -1.7 0M591.85 115.1a0.85 0.85 0 1 0 1.7 0a0.85 0.85 0 1 0 -1.7 0M561.45 116a0.85 0.85 0 1 0 1.7 0a0.85 0.85 0 1 0 -1.7 0M578.65 117.6a0.85 0.85 0 1 0 1.7 0a0.85 0.85 0 1 0 -1.7 0M562.65 124a0.85 0.85 0 1 0 1.7 0a0.85 0.85 0 1 0 -1.7 0M570.25 121a0.85 0.85 0 1 0 1.7 0a0.85 0.85 0 1 0 -1.7 0M579.25 123.8a0.85 0.85 0 1 0 1.7 0a0.85 0.85 0 1 0 -1.7 0M560.55 131.2a0.85 0.85 0 1 0 1.7 0a0.85 0.85 0 1 0 -1.7 0M565.75 130.2a0.85 0.85 0 1 0 1.7 0a0.85 0.85 0 1 0 -1.7 0M521.15 140a0.85 0.85 0 1 0 1.7 0a0.85 0.85 0 1 0 -1.7 0M563.25 137.3a0.85 0.85 0 1 0 1.7 0a0.85 0.85 0 1 0 -1.7 0M552.45 144.7a0.85 0.85 0 1 0 1.7 0a0.85 0.85 0 1 0 -1.7 0M576.55 133.3a0.85 0.85 0 1 0 1.7 0a0.85 0.85 0 1 0 -1.7 0M584.15 132a0.85 0.85 0 1 0 1.7 0a0.85 0.85 0 1 0 -1.7 0M591.55 132.7a0.85 0.85 0 1 0 1.7 0a0.85 0.85 0 1 0 -1.7 0M594.65 134.9a0.85 0.85 0 1 0 1.7 0a0.85 0.85 0 1 0 -1.7 0M577.45 142.2a0.85 0.85 0 1 0 1.7 0a0.85 0.85 0 1 0 -1.7 0M586.35 141.5a0.85 0.85 0 1 0 1.7 0a0.85 0.85 0 1 0 -1.7 0M581.75 127.7a0.85 0.85 0 1 0 1.7 0a0.85 0.85 0 1 0 -1.7 0M579.25 123.4a0.85 0.85 0 1 0 1.7 0a0.85 0.85 0 1 0 -1.7 0" fill="#E02828"/><path d="M674.46 124.55a0.85 0.85 0 1 0 1.7 0a0.85 0.85 0 1 0 -1.7 0M678.37 132.67a0.85 0.85 0 1 0 1.7 0a0.85 0.85 0 1 0 -1.7 0M675.37 141.69a0.85 0.85 0 1 0 1.7 0a0.85 0.85 0 1 0 -1.7 0M681.38 146.19a0.85 0.85 0 1 0 1.7 0a0.85 0.85 0 1 0 -1.7 0M717.45 157.32a0.85 0.85 0 1 0 1.7 0a0.85 0.85 0 1 0 -1.7 0M689.49 166.63a0.85 0.85 0 1 0 1.7 0a0.85 0.85 0 1 0 -1.7 0M679.57 175.65a0.85 0.85 0 1 0 1.7 0a0.85 0.85 0 1 0 -1.7 0M691.9 181.36a0.85 0.85 0 1 0 1.7 0a0.85 0.85 0 1 0 -1.7 0M695.5 181.66a0.85 0.85 0 1 0 1.7 0a0.85 0.85 0 1 0 -1.7 0M697.61 181.66a0.85 0.85 0 1 0 1.7 0a0.85 0.85 0 1 0 -1.7 0M676.87 182.26a0.85 0.85 0 1 0 1.7 0a0.85 0.85 0 1 0 -1.7 0M675.97 185.27a0.85 0.85 0 1 0 1.7 0a0.85 0.85 0 1 0 -1.7 0" fill="#7CC832"/><path d="M520.5 75.5L524.1 78.5M546.9 80.4L551 85.3M530.3 82.8L535.2 90.6M538.9 87.1L542.6 93.9M561 98.8L564.5 103.1M546.3 101.9L547.9 106.6M564.1 110.5L570.3 116M587.5 110.8L592.7 115.1M555 122.7L563.5 124M519.5 136.5L522 140M560 136.5L564.1 137.3M551.5 142.5L553.3 144.7" stroke="#222" stroke-width="0.35" fill="none"/><g font-size="4.9" fill="#111"><text x="513.4" y="74.6">OTC</text><text x="535.8" y="79.8">PGRMC1</text><text x="513.7" y="83.5">ACAA1</text><text x="532.1" y="85.9">NT5E</text><text x="541.4" y="92.3">PCK2</text><text x="549.1" y="98.2">HSD17B8</text><text x="525.4" y="102.9">FAM151A</text><text x="530.3" y="109.5">REEP6</text><text x="550.6" y="109.5">ECHDC2</text><text x="580.1" y="109.5">ALPL</text><text x="545.1" y="115.4">FOLH1</text><text x="571.7" y="114.8">PIGR</text><text x="542.2" y="122.2">CD81</text><text x="557.4" y="121.3">ECI1</text><text x="571.1" y="121.3">GPT</text><text x="552.2" y="128.3">ASL</text><text x="566" y="127.7">UROC1</text><text x="513.7" y="135.7">AGXT</text><text x="543.2" y="136.3">CDHR2</text><text x="539.3" y="141.9">CPS1</text></g><rect x="512" y="44.5" width="215.9" height="164.6" fill="none" stroke="#333" stroke-width="0.55"/><path d="M519.6 209.1v1.6M564.2 209.1v1.6M608.8 209.1v1.6M653.4 209.1v1.6M698 209.1v1.6M512 202.5h-1.6M512 148.2h-1.6M512 93.9h-1.6" stroke="#333" stroke-width="0.5" fill="none"/><g font-size="6.3" fill="#3c3c3c" stroke="#3c3c3c" stroke-width="0.12"><text x="519.6" y="216.7" text-anchor="middle">-6</text><text x="564.2" y="216.7" text-anchor="middle">-4</text><text x="608.8" y="216.7" text-anchor="middle">-2</text><text x="653.4" y="216.7" text-anchor="middle">0</text><text x="698" y="216.7" text-anchor="middle">2</text><text x="509.5" y="204.8" text-anchor="end">0</text><text x="509.5" y="150.5" text-anchor="end">5</text><text x="509.5" y="96.2" text-anchor="end">10</text></g><text x="619.95" y="225.7" text-anchor="middle" font-size="7.2" fill="#111" stroke="#111" stroke-width="0.18">log2 fold change</text><text transform="translate(497.5 126.8) rotate(-90)" text-anchor="middle" font-size="7.2" fill="#111" stroke="#111" stroke-width="0.18">adjusted P value</text><text x="512.5" y="31.3" font-size="7.35" fill="#111" stroke="#111" stroke-width="0.2">IBD-PSC</text><text x="512.5" y="38.7" font-size="7.3" fill="#111" stroke="#111" stroke-width="0.2">Visualization thresholds: logFC 1.0, P 0.05</text><rect x="507.7" y="234.9" width="223.6" height="13.8" fill="#fff" stroke="#333" stroke-width="0.5"/><g font-size="5.7" fill="#111" stroke="#111" stroke-width="0.12"><circle cx="517.7" cy="241.8" r="0.8" fill="#7CC832"/><text x="523.4" y="244.2">Up&amp;Sign. (17)</text><circle cx="567" cy="241.8" r="0.8" fill="#E02828"/><text x="573" y="244.2">Down&amp;Sign. (112)</text><circle cx="626.4" cy="241.8" r="0.8" fill="#F0A020"/><text x="632.7" y="244.2">Significant (116)</text><circle cx="681.4" cy="241.8" r="0.8" fill="#454545"/><text x="687.4" y="244.2">Not sign. (1221)</text></g>
<text x="-1.4" y="292.4" font-size="16" font-weight="bold" fill="#111">B</text>
<g fill="none"><line x1="287.8" y1="268.3" x2="278.6" y2="307" stroke="#2f3763" stroke-width="1.5"/><line x1="287.8" y1="268.3" x2="312.4" y2="317.8" stroke="#2f3763" stroke-width="1.5"/><line x1="278.6" y1="307" x2="312.4" y2="317.8" stroke="#2f3763" stroke-width="1.5"/><line x1="312.4" y1="317.8" x2="393.8" y2="300.6" stroke="#5c648e" stroke-width="0.75" stroke-dasharray="1.8 1.4"/><line x1="262" y1="308.5" x2="288.7" y2="355.5" stroke="#6a729a" stroke-width="0.62"/><line x1="262" y1="308.5" x2="310.4" y2="377.2" stroke="#6a729a" stroke-width="0.62"/><line x1="278.6" y1="307" x2="295.7" y2="386.3" stroke="#5c648e" stroke-width="0.75" stroke-dasharray="1.8 1.4"/><line x1="300.6" y1="291.5" x2="288.7" y2="355.5" stroke="#6a729a" stroke-width="0.62"/><line x1="312.4" y1="317.8" x2="288.7" y2="355.5" stroke="#5c648e" stroke-width="0.75" stroke-dasharray="1.8 1.4"/><line x1="312.4" y1="317.8" x2="310.4" y2="377.2" stroke="#5c648e" stroke-width="0.75" stroke-dasharray="1.8 1.4"/><line x1="312.4" y1="317.8" x2="343.6" y2="405.6" stroke="#6a729a" stroke-width="0.62"/><line x1="350" y1="324.4" x2="332.1" y2="416.3" stroke="#434b78" stroke-width="0.85" stroke-dasharray="1.8 1.2"/><line x1="350" y1="324.4" x2="374" y2="345.9" stroke="#6a729a" stroke-width="0.62"/><line x1="241.5" y1="348.7" x2="295.7" y2="386.3" stroke="#343c68" stroke-width="1.05"/><line x1="241.5" y1="348.7" x2="244.2" y2="381.8" stroke="#434b78" stroke-width="0.85" stroke-dasharray="1.8 1.2"/><line x1="241.5" y1="348.7" x2="269.2" y2="412.6" stroke="#6a729a" stroke-width="0.62"/><line x1="288.7" y1="355.5" x2="310.4" y2="377.2" stroke="#343c68" stroke-width="1.05"/><line x1="288.7" y1="355.5" x2="244.2" y2="381.8" stroke="#6a729a" stroke-width="0.62"/><line x1="288.7" y1="355.5" x2="269.2" y2="412.6" stroke="#5c648e" stroke-width="0.75" stroke-dasharray="1.8 1.4"/><line x1="244.2" y1="381.8" x2="295.7" y2="386.3" stroke="#6a729a" stroke-width="0.62"/><line x1="244.2" y1="381.8" x2="310.4" y2="377.2" stroke="#6a729a" stroke-width="0.62"/><line x1="244.2" y1="381.8" x2="343.6" y2="405.6" stroke="#6a729a" stroke-width="0.62"/><line x1="244.2" y1="381.8" x2="308.4" y2="404.3" stroke="#6a729a" stroke-width="0.62"/><line x1="244.2" y1="381.8" x2="266.2" y2="454.2" stroke="#6a729a" stroke-width="0.62"/><line x1="244.2" y1="381.8" x2="244.6" y2="416.6" stroke="#5c648e" stroke-width="0.75" stroke-dasharray="1.8 1.4"/><line x1="244.2" y1="381.8" x2="275.1" y2="476.8" stroke="#6a729a" stroke-width="0.62"/><line x1="195.64" y1="388.6" x2="244.24" y2="417.2" stroke="#6b7399" stroke-width="0.6"/><line x1="196.36" y1="387.4" x2="244.96" y2="416" stroke="#5a6290" stroke-width="0.75" stroke-dasharray="1.1 1.0"/><line x1="148.3" y1="411.7" x2="216.6" y2="447.5" stroke="#6a729a" stroke-width="0.62"/><line x1="164.4" y1="441.5" x2="192.5" y2="440.4" stroke="#434b78" stroke-width="0.85" stroke-dasharray="1.8 1.2"/><line x1="164.4" y1="441.5" x2="275.1" y2="476.8" stroke="#343c68" stroke-width="1.05"/><line x1="192.5" y1="440.4" x2="216.6" y2="447.5" stroke="#343c68" stroke-width="1.05"/><line x1="216.6" y1="447.5" x2="332.1" y2="416.3" stroke="#343c68" stroke-width="1.05"/><line x1="216.6" y1="447.5" x2="266.2" y2="454.2" stroke="#6a729a" stroke-width="0.62"/><line x1="204.3" y1="466" x2="275.9" y2="505.9" stroke="#343c68" stroke-width="1.3" stroke-dasharray="1.3 1.0"/><line x1="204.3" y1="466" x2="204.3" y2="494.6" stroke="#6a729a" stroke-width="0.62"/><line x1="204.3" y1="466" x2="266.2" y2="454.2" stroke="#6a729a" stroke-width="0.62"/><line x1="139.5" y1="496.6" x2="204.3" y2="494.6" stroke="#6a729a" stroke-width="0.62"/><line x1="204.3" y1="494.6" x2="230.2" y2="496" stroke="#2f3763" stroke-width="1.5"/><line x1="204.3" y1="494.6" x2="188.7" y2="524.7" stroke="#6a729a" stroke-width="0.62"/><line x1="204.3" y1="494.6" x2="275.9" y2="505.9" stroke="#343c68" stroke-width="1.05"/><line x1="204.3" y1="494.6" x2="294.4" y2="511.5" stroke="#6a729a" stroke-width="0.62"/><line x1="230.2" y1="496" x2="249.8" y2="496.5" stroke="#2f3763" stroke-width="1.5"/><line x1="230.2" y1="496" x2="275.9" y2="505.9" stroke="#343c68" stroke-width="1.05"/><line x1="188.7" y1="524.7" x2="216.6" y2="561.6" stroke="#5c648e" stroke-width="0.75" stroke-dasharray="1.8 1.4"/><line x1="221.5" y1="532.9" x2="249.8" y2="537" stroke="#2f3763" stroke-width="1.5"/><line x1="221.5" y1="532.9" x2="230.2" y2="496" stroke="#343c68" stroke-width="1.3" stroke-dasharray="1.3 1.0"/><line x1="221.5" y1="532.9" x2="294.4" y2="511.5" stroke="#6a729a" stroke-width="0.62"/><line x1="249.8" y1="537" x2="249.8" y2="496.5" stroke="#343c68" stroke-width="1.05"/><line x1="249.8" y1="537" x2="275.9" y2="505.9" stroke="#343c68" stroke-width="1.05"/><line x1="297.8" y1="543" x2="249.8" y2="537" stroke="#6a729a" stroke-width="0.62"/><line x1="249.8" y1="537" x2="275.1" y2="476.8" stroke="#6a729a" stroke-width="0.62"/><line x1="216.6" y1="561.6" x2="249.8" y2="496.5" stroke="#343c68" stroke-width="1.3" stroke-dasharray="1.3 1.0"/><line x1="180.2" y1="571.1" x2="216.6" y2="561.6" stroke="#6a729a" stroke-width="0.62"/><line x1="180.2" y1="571.1" x2="173.7" y2="610.8" stroke="#6a729a" stroke-width="0.62"/><line x1="173.7" y1="610.8" x2="132.7" y2="632.1" stroke="#2f3763" stroke-width="1.5"/><line x1="173.7" y1="610.8" x2="219.8" y2="627.5" stroke="#5c648e" stroke-width="0.75" stroke-dasharray="1.8 1.4"/><line x1="173.7" y1="610.8" x2="255.6" y2="576" stroke="#6a729a" stroke-width="0.62"/><line x1="216.6" y1="561.6" x2="297.8" y2="543" stroke="#343c68" stroke-width="1.05"/><line x1="216.6" y1="561.6" x2="273.9" y2="562.8" stroke="#434b78" stroke-width="0.85" stroke-dasharray="1.8 1.2"/><line x1="240.3" y1="605.7" x2="255.6" y2="576" stroke="#6a729a" stroke-width="0.62"/><line x1="240.3" y1="605.7" x2="262.4" y2="594" stroke="#6a729a" stroke-width="0.62"/><line x1="240.3" y1="605.7" x2="219.8" y2="627.5" stroke="#6a729a" stroke-width="0.62"/><line x1="240.3" y1="605.7" x2="269.8" y2="647.8" stroke="#6a729a" stroke-width="0.62"/><line x1="240.3" y1="605.7" x2="310.5" y2="622.4" stroke="#6a729a" stroke-width="0.62"/><line x1="273.1" y1="634.1" x2="310.5" y2="622.4" stroke="#6a729a" stroke-width="0.62"/><line x1="269.8" y1="647.8" x2="310.5" y2="622.4" stroke="#6a729a" stroke-width="0.62"/><line x1="273.1" y1="634.1" x2="333.2" y2="617" stroke="#6a729a" stroke-width="0.62"/><line x1="269.8" y1="647.8" x2="345.8" y2="556.7" stroke="#6a729a" stroke-width="0.62"/><line x1="273.1" y1="634.1" x2="324.4" y2="556.7" stroke="#6a729a" stroke-width="0.62"/><line x1="302.1" y1="657.4" x2="333.2" y2="617" stroke="#343c68" stroke-width="1.05"/><line x1="302.1" y1="657.4" x2="335.3" y2="641.4" stroke="#343c68" stroke-width="1.05"/><line x1="302.1" y1="657.4" x2="295.4" y2="729.8" stroke="#5c648e" stroke-width="0.75" stroke-dasharray="1.8 1.4"/><line x1="380.2" y1="652.7" x2="302.1" y2="657.4" stroke="#5c648e" stroke-width="0.75" stroke-dasharray="1.8 1.4"/><line x1="302.1" y1="657.4" x2="297.8" y2="543" stroke="#6a729a" stroke-width="0.62"/><line x1="302.1" y1="657.4" x2="283.8" y2="598.8" stroke="#6a729a" stroke-width="0.62"/><line x1="493.9" y1="293.7" x2="526" y2="286.9" stroke="#6a729a" stroke-width="0.62"/><line x1="493.9" y1="293.7" x2="492.4" y2="406.3" stroke="#343c68" stroke-width="1.05"/><line x1="493.9" y1="293.7" x2="570" y2="362" stroke="#2f3763" stroke-width="1.5"/><line x1="526" y1="286.9" x2="507.1" y2="362" stroke="#343c68" stroke-width="1.05"/><line x1="526" y1="286.9" x2="535" y2="321" stroke="#6a729a" stroke-width="0.62"/><line x1="526" y1="286.9" x2="564.6" y2="323.8" stroke="#6a729a" stroke-width="0.62"/><line x1="526" y1="286.9" x2="588.4" y2="392" stroke="#6a729a" stroke-width="0.62"/><line x1="526" y1="286.9" x2="552.3" y2="355.6" stroke="#6a729a" stroke-width="0.62"/><line x1="535" y1="321" x2="564.6" y2="323.8" stroke="#343c68" stroke-width="1.05"/><line x1="535" y1="321" x2="507.1" y2="362" stroke="#2f3763" stroke-width="1.5"/><line x1="535" y1="321" x2="552.3" y2="355.6" stroke="#343c68" stroke-width="1.05"/><line x1="535" y1="321" x2="588.4" y2="392" stroke="#6a729a" stroke-width="0.62"/><line x1="564.6" y1="323.8" x2="507.1" y2="362" stroke="#2f3763" stroke-width="1.5"/><line x1="564.6" y1="323.8" x2="552.3" y2="355.6" stroke="#6a729a" stroke-width="0.62"/><line x1="564.6" y1="323.8" x2="570" y2="362" stroke="#6a729a" stroke-width="0.62"/><line x1="564.6" y1="323.8" x2="588.4" y2="392" stroke="#6a729a" stroke-width="0.62"/><line x1="507.1" y1="362" x2="552.3" y2="355.6" stroke="#2f3763" stroke-width="1.5"/><line x1="507.1" y1="362" x2="570" y2="362" stroke="#2f3763" stroke-width="1.5"/><line x1="552.3" y1="355.6" x2="570" y2="362" stroke="#6a729a" stroke-width="0.62"/><line x1="552.3" y1="355.6" x2="555.4" y2="389.2" stroke="#343c68" stroke-width="1.05"/><line x1="570" y1="362" x2="555.4" y2="389.2" stroke="#343c68" stroke-width="1.05"/><line x1="570" y1="362" x2="588.4" y2="392" stroke="#6a729a" stroke-width="0.62"/><line x1="555.4" y1="389.2" x2="588.4" y2="392" stroke="#6a729a" stroke-width="0.62"/><line x1="447.5" y1="281.8" x2="493.9" y2="293.7" stroke="#6a729a" stroke-width="0.62"/><line x1="447.5" y1="281.8" x2="526" y2="286.9" stroke="#6a729a" stroke-width="0.62"/><line x1="447.5" y1="281.8" x2="564.6" y2="323.8" stroke="#6a729a" stroke-width="0.62"/><line x1="447.5" y1="281.8" x2="552.3" y2="355.6" stroke="#6a729a" stroke-width="0.62"/><line x1="447.5" y1="281.8" x2="535" y2="321" stroke="#6a729a" stroke-width="0.62"/><line x1="447.5" y1="281.8" x2="444.1" y2="321.8" stroke="#5c648e" stroke-width="0.75" stroke-dasharray="1.8 1.4"/><line x1="447.5" y1="281.8" x2="456.4" y2="340.1" stroke="#5c648e" stroke-width="0.75" stroke-dasharray="1.8 1.4"/><line x1="447.5" y1="281.8" x2="393.8" y2="300.6" stroke="#5c648e" stroke-width="0.75" stroke-dasharray="1.8 1.4"/><line x1="393.8" y1="300.6" x2="426.4" y2="348.1" stroke="#2f3763" stroke-width="1.5"/><line x1="393.8" y1="300.6" x2="374" y2="345.9" stroke="#343c68" stroke-width="1.05"/><line x1="393.8" y1="300.6" x2="376" y2="357.4" stroke="#343c68" stroke-width="1.05"/><line x1="393.8" y1="300.6" x2="444.1" y2="321.8" stroke="#5c648e" stroke-width="0.75" stroke-dasharray="1.8 1.4"/><line x1="393.8" y1="300.6" x2="456.4" y2="340.1" stroke="#5c648e" stroke-width="0.75" stroke-dasharray="1.8 1.4"/><line x1="444.1" y1="321.8" x2="426.4" y2="348.1" stroke="#343c68" stroke-width="1.05"/><line x1="444.1" y1="321.8" x2="456.4" y2="340.1" stroke="#343c68" stroke-width="1.05"/><line x1="444.1" y1="321.8" x2="403.2" y2="421" stroke="#343c68" stroke-width="1.05"/><line x1="444.1" y1="321.8" x2="414.5" y2="435.2" stroke="#343c68" stroke-width="1.05"/><line x1="444.1" y1="321.8" x2="447.4" y2="384.9" stroke="#6a729a" stroke-width="0.62"/><line x1="444.1" y1="321.8" x2="507.1" y2="362" stroke="#5c648e" stroke-width="0.75" stroke-dasharray="1.8 1.4"/><line x1="465.4" y1="327.7" x2="507.1" y2="362" stroke="#6a729a" stroke-width="0.62"/><line x1="465.4" y1="327.7" x2="510.7" y2="422.7" stroke="#343c68" stroke-width="1.05"/><line x1="456.4" y1="340.1" x2="521.7" y2="395" stroke="#2f3763" stroke-width="1.5"/><line x1="456.4" y1="340.1" x2="492.4" y2="406.3" stroke="#343c68" stroke-width="1.05"/><line x1="456.4" y1="340.1" x2="483" y2="407" stroke="#343c68" stroke-width="1.05"/><line x1="456.4" y1="340.1" x2="447.4" y2="384.9" stroke="#343c68" stroke-width="1.05"/><line x1="426.4" y1="348.1" x2="383" y2="381.5" stroke="#2f3763" stroke-width="1.5"/><line x1="426.4" y1="348.1" x2="376" y2="357.4" stroke="#343c68" stroke-width="1.05"/><line x1="426.4" y1="348.1" x2="403.2" y2="421" stroke="#6a729a" stroke-width="0.62"/><line x1="426.4" y1="348.1" x2="411.6" y2="390.7" stroke="#6a729a" stroke-width="0.62"/><line x1="426.4" y1="348.1" x2="456.4" y2="340.1" stroke="#6a729a" stroke-width="0.62"/><line x1="384.3" y1="332.3" x2="374" y2="345.9" stroke="#6a729a" stroke-width="0.62"/><line x1="384.3" y1="332.3" x2="350" y2="324.4" stroke="#343c68" stroke-width="1.3" stroke-dasharray="1.3 1.0"/><line x1="384.3" y1="332.3" x2="383" y2="381.5" stroke="#6a729a" stroke-width="0.62"/><line x1="384.3" y1="332.3" x2="426.4" y2="348.1" stroke="#5c648e" stroke-width="0.75" stroke-dasharray="1.8 1.4"/><line x1="374" y1="345.9" x2="376" y2="357.4" stroke="#2f3763" stroke-width="1.5"/><line x1="374" y1="345.9" x2="383" y2="381.5" stroke="#343c68" stroke-width="1.05"/><line x1="376" y1="357.4" x2="358.8" y2="383.5" stroke="#5c648e" stroke-width="0.75" stroke-dasharray="1.8 1.4"/><line x1="376" y1="357.4" x2="383" y2="381.5" stroke="#343c68" stroke-width="1.05"/><line x1="376" y1="357.4" x2="403.2" y2="421" stroke="#6a729a" stroke-width="0.62"/><line x1="358.8" y1="383.5" x2="383" y2="381.5" stroke="#343c68" stroke-width="1.05"/><line x1="343.6" y1="405.6" x2="358.8" y2="383.5" stroke="#6a729a" stroke-width="0.62"/><line x1="358.8" y1="383.5" x2="394.9" y2="391.8" stroke="#6a729a" stroke-width="0.62"/><line x1="358.8" y1="383.5" x2="403.2" y2="421" stroke="#343c68" stroke-width="1.05"/><line x1="358.8" y1="383.5" x2="414.5" y2="435.2" stroke="#6a729a" stroke-width="0.62"/><line x1="358.8" y1="383.5" x2="475.8" y2="452.5" stroke="#343c68" stroke-width="1.05"/><line x1="358.8" y1="383.5" x2="439.2" y2="445.5" stroke="#343c68" stroke-width="1.05"/><line x1="383" y1="381.5" x2="394.9" y2="391.8" stroke="#343c68" stroke-width="1.05"/><line x1="383" y1="381.5" x2="411.6" y2="390.7" stroke="#343c68" stroke-width="1.05"/><line x1="383" y1="381.5" x2="521.7" y2="395" stroke="#6a729a" stroke-width="0.62"/><line x1="383" y1="381.5" x2="483" y2="407" stroke="#6a729a" stroke-width="0.62"/><line x1="394.9" y1="391.8" x2="411.6" y2="390.7" stroke="#343c68" stroke-width="1.05"/><line x1="394.9" y1="391.8" x2="403.2" y2="421" stroke="#6a729a" stroke-width="0.62"/><line x1="394.9" y1="391.8" x2="439.2" y2="445.5" stroke="#343c68" stroke-width="1.05"/><line x1="394.9" y1="391.8" x2="359.6" y2="443.5" stroke="#6a729a" stroke-width="0.62"/><line x1="411.6" y1="390.7" x2="359.6" y2="443.5" stroke="#343c68" stroke-width="1.05"/><line x1="411.6" y1="390.7" x2="414.5" y2="435.2" stroke="#6a729a" stroke-width="0.62"/><line x1="411.6" y1="390.7" x2="449.6" y2="418.3" stroke="#343c68" stroke-width="1.05"/><line x1="411.6" y1="390.7" x2="447.4" y2="384.9" stroke="#6a729a" stroke-width="0.62"/><line x1="447.4" y1="384.9" x2="403.2" y2="421" stroke="#343c68" stroke-width="1.05"/><line x1="447.4" y1="384.9" x2="477" y2="385.7" stroke="#343c68" stroke-width="1.05"/><line x1="447.4" y1="384.9" x2="449.6" y2="418.3" stroke="#343c68" stroke-width="1.05"/><line x1="475.9" y1="369.5" x2="477" y2="385.7" stroke="#6a729a" stroke-width="0.62"/><line x1="475.9" y1="369.5" x2="507.1" y2="362" stroke="#343c68" stroke-width="1.05"/><line x1="475.9" y1="369.5" x2="521.7" y2="395" stroke="#6a729a" stroke-width="0.62"/><line x1="477" y1="385.7" x2="492.4" y2="406.3" stroke="#343c68" stroke-width="1.05"/><line x1="477" y1="385.7" x2="483" y2="407" stroke="#343c68" stroke-width="1.05"/><line x1="477" y1="385.7" x2="490.2" y2="424.9" stroke="#343c68" stroke-width="1.05"/><line x1="477" y1="385.7" x2="403.2" y2="421" stroke="#6a729a" stroke-width="0.62"/><line x1="477" y1="385.7" x2="414.5" y2="435.2" stroke="#6a729a" stroke-width="0.62"/><line x1="507.1" y1="362" x2="521.7" y2="395" stroke="#343c68" stroke-width="1.05"/><line x1="507.1" y1="362" x2="547.4" y2="409.8" stroke="#6a729a" stroke-width="0.62"/><line x1="507.1" y1="362" x2="510.7" y2="422.7" stroke="#6a729a" stroke-width="0.62"/><line x1="521.7" y1="395" x2="547.4" y2="409.8" stroke="#6a729a" stroke-width="0.62"/><line x1="521.7" y1="395" x2="510.7" y2="422.7" stroke="#343c68" stroke-width="1.05"/><line x1="521.7" y1="395" x2="490.2" y2="424.9" stroke="#6a729a" stroke-width="0.62"/><line x1="547.4" y1="409.8" x2="510.7" y2="422.7" stroke="#2f3763" stroke-width="1.5"/><line x1="547.4" y1="409.8" x2="564.3" y2="421" stroke="#343c68" stroke-width="1.05"/><line x1="547.4" y1="409.8" x2="555.4" y2="389.2" stroke="#343c68" stroke-width="1.05"/><line x1="547.4" y1="409.8" x2="552.3" y2="355.6" stroke="#6a729a" stroke-width="0.62"/><line x1="547.4" y1="409.8" x2="449.6" y2="418.3" stroke="#6a729a" stroke-width="0.62"/><line x1="547.4" y1="409.8" x2="588.4" y2="392" stroke="#6a729a" stroke-width="0.62"/><line x1="510.7" y1="422.7" x2="490.2" y2="424.9" stroke="#343c68" stroke-width="1.05"/><line x1="510.7" y1="422.7" x2="564.3" y2="421" stroke="#2f3763" stroke-width="1.5"/><line x1="510.7" y1="422.7" x2="449.6" y2="418.3" stroke="#6a729a" stroke-width="0.62"/><line x1="602" y1="444.7" x2="510.7" y2="422.7" stroke="#343c68" stroke-width="1.05"/><line x1="510.7" y1="422.7" x2="466.2" y2="460" stroke="#6a729a" stroke-width="0.62"/><line x1="490.2" y1="424.9" x2="564.3" y2="421" stroke="#343c68" stroke-width="1.05"/><line x1="490.2" y1="424.9" x2="513.2" y2="462.9" stroke="#6a729a" stroke-width="0.62"/><line x1="490.2" y1="424.9" x2="565.7" y2="467.8" stroke="#343c68" stroke-width="1.05"/><line x1="490.2" y1="424.9" x2="483" y2="407" stroke="#6a729a" stroke-width="0.62"/><line x1="490.2" y1="424.9" x2="492.4" y2="406.3" stroke="#6a729a" stroke-width="0.62"/><line x1="602" y1="444.7" x2="490.2" y2="424.9" stroke="#343c68" stroke-width="1.05"/><line x1="490.2" y1="424.9" x2="466.2" y2="460" stroke="#6a729a" stroke-width="0.62"/><line x1="564.3" y1="421" x2="513.2" y2="462.9" stroke="#343c68" stroke-width="1.05"/><line x1="564.3" y1="421" x2="565.7" y2="467.8" stroke="#343c68" stroke-width="1.05"/><line x1="602" y1="444.7" x2="564.3" y2="421" stroke="#6a729a" stroke-width="0.62"/><line x1="513.2" y1="462.9" x2="565.7" y2="467.8" stroke="#343c68" stroke-width="1.05"/><line x1="513.2" y1="462.9" x2="602" y2="444.7" stroke="#2f3763" stroke-width="1.5"/><line x1="466.2" y1="460" x2="513.2" y2="462.9" stroke="#343c68" stroke-width="1.05"/><line x1="602" y1="444.7" x2="565.7" y2="467.8" stroke="#6a729a" stroke-width="0.62"/><line x1="565.7" y1="467.8" x2="587" y2="488.3" stroke="#6a729a" stroke-width="0.62"/><line x1="565.7" y1="467.8" x2="466.2" y2="460" stroke="#343c68" stroke-width="1.05"/><line x1="483" y1="407" x2="492.4" y2="406.3" stroke="#343c68" stroke-width="1.05"/><line x1="483" y1="407" x2="466.2" y2="460" stroke="#343c68" stroke-width="1.05"/><line x1="483" y1="407" x2="403.2" y2="421" stroke="#6a729a" stroke-width="0.62"/><line x1="483" y1="407" x2="414.5" y2="435.2" stroke="#6a729a" stroke-width="0.62"/><line x1="492.4" y1="406.3" x2="449.6" y2="418.3" stroke="#343c68" stroke-width="1.05"/><line x1="492.4" y1="406.3" x2="414.5" y2="435.2" stroke="#6a729a" stroke-width="0.62"/><line x1="449.6" y1="418.3" x2="439.2" y2="445.5" stroke="#343c68" stroke-width="1.05"/><line x1="449.6" y1="418.3" x2="475.8" y2="452.5" stroke="#6a729a" stroke-width="0.62"/><line x1="449.6" y1="418.3" x2="466.2" y2="460" stroke="#343c68" stroke-width="1.05"/><line x1="403.2" y1="421" x2="414.5" y2="435.2" stroke="#2f3763" stroke-width="1.5"/><line x1="403.2" y1="421" x2="427" y2="446.5" stroke="#6a729a" stroke-width="0.62"/><line x1="403.2" y1="421" x2="466.2" y2="460" stroke="#343c68" stroke-width="1.05"/><line x1="414.5" y1="435.2" x2="427" y2="446.5" stroke="#343c68" stroke-width="1.05"/><line x1="414.5" y1="435.2" x2="439.2" y2="445.5" stroke="#343c68" stroke-width="1.05"/><line x1="414.5" y1="435.2" x2="466.2" y2="460" stroke="#343c68" stroke-width="1.05"/><line x1="414.5" y1="435.2" x2="475.8" y2="452.5" stroke="#6a729a" stroke-width="0.62"/><line x1="427" y1="446.5" x2="439.2" y2="445.5" stroke="#343c68" stroke-width="1.05"/><line x1="427" y1="446.5" x2="414.6" y2="490.4" stroke="#343c68" stroke-width="1.05"/><line x1="427" y1="446.5" x2="432.7" y2="490.9" stroke="#343c68" stroke-width="1.05"/><line x1="427" y1="446.5" x2="475.8" y2="452.5" stroke="#343c68" stroke-width="1.05"/><line x1="439.2" y1="445.5" x2="475.8" y2="452.5" stroke="#343c68" stroke-width="1.05"/><line x1="439.2" y1="445.5" x2="432.7" y2="490.9" stroke="#343c68" stroke-width="1.05"/><line x1="439.2" y1="445.5" x2="466.2" y2="460" stroke="#6a729a" stroke-width="0.62"/><line x1="475.8" y1="452.5" x2="466.2" y2="460" stroke="#343c68" stroke-width="1.05"/><line x1="475.8" y1="452.5" x2="414.6" y2="490.4" stroke="#6a729a" stroke-width="0.62"/><line x1="475.8" y1="452.5" x2="432.7" y2="490.9" stroke="#6a729a" stroke-width="0.62"/><line x1="466.2" y1="460" x2="474.2" y2="495.6" stroke="#6a729a" stroke-width="0.62"/><line x1="466.2" y1="460" x2="483.7" y2="520.7" stroke="#6a729a" stroke-width="0.62"/><line x1="466.2" y1="460" x2="493.3" y2="488.9" stroke="#6a729a" stroke-width="0.62"/><line x1="466.2" y1="460" x2="516" y2="482.8" stroke="#2f3763" stroke-width="1.5"/><line x1="516" y1="482.8" x2="493.3" y2="488.9" stroke="#6a729a" stroke-width="0.62"/><line x1="493.3" y1="488.9" x2="526.3" y2="484.8" stroke="#343c68" stroke-width="1.05"/><line x1="451.1" y1="528.6" x2="493.3" y2="488.9" stroke="#6a729a" stroke-width="0.62"/><line x1="493.3" y1="488.9" x2="474.2" y2="495.6" stroke="#343c68" stroke-width="1.05"/><line x1="516" y1="482.8" x2="526.3" y2="484.8" stroke="#343c68" stroke-width="1.05"/><line x1="516" y1="482.8" x2="550.1" y2="496.5" stroke="#343c68" stroke-width="1.05"/><line x1="516" y1="482.8" x2="545.5" y2="528.5" stroke="#6a729a" stroke-width="0.62"/><line x1="526.3" y1="484.8" x2="550.1" y2="496.5" stroke="#343c68" stroke-width="1.05"/><line x1="526.3" y1="484.8" x2="545.5" y2="528.5" stroke="#343c68" stroke-width="1.05"/><line x1="526.3" y1="484.8" x2="587" y2="488.3" stroke="#6a729a" stroke-width="0.62"/><line x1="526.3" y1="484.8" x2="451.1" y2="528.6" stroke="#6a729a" stroke-width="0.62"/><line x1="550.1" y1="496.5" x2="587" y2="488.3" stroke="#343c68" stroke-width="1.05"/><line x1="550.1" y1="496.5" x2="545.5" y2="528.5" stroke="#343c68" stroke-width="1.05"/><line x1="638.4" y1="528.7" x2="550.1" y2="496.5" stroke="#6a729a" stroke-width="0.62"/><line x1="587" y1="488.3" x2="545.5" y2="528.5" stroke="#2f3763" stroke-width="1.5"/><line x1="483.7" y1="520.7" x2="545.5" y2="528.5" stroke="#6a729a" stroke-width="0.62"/><line x1="451.1" y1="528.6" x2="483.7" y2="520.7" stroke="#434b78" stroke-width="0.85" stroke-dasharray="1.8 1.2"/><line x1="451.1" y1="528.6" x2="452.4" y2="508.2" stroke="#6a729a" stroke-width="0.62"/><line x1="451.1" y1="528.6" x2="394.3" y2="546.6" stroke="#5c648e" stroke-width="0.75" stroke-dasharray="1.8 1.4"/><line x1="451.1" y1="528.6" x2="474.2" y2="495.6" stroke="#6a729a" stroke-width="0.62"/><line x1="432.7" y1="490.9" x2="452.4" y2="508.2" stroke="#6a729a" stroke-width="0.62"/><line x1="452.4" y1="508.2" x2="414.6" y2="490.4" stroke="#5c648e" stroke-width="0.75" stroke-dasharray="1.8 1.4"/><line x1="452.4" y1="508.2" x2="438" y2="573" stroke="#5c648e" stroke-width="0.75" stroke-dasharray="1.8 1.4"/><line x1="394.3" y1="546.6" x2="452.4" y2="508.2" stroke="#5c648e" stroke-width="0.75" stroke-dasharray="1.8 1.4"/><line x1="483.7" y1="520.7" x2="474.2" y2="495.6" stroke="#343c68" stroke-width="1.05"/><line x1="474.2" y1="495.6" x2="432.7" y2="490.9" stroke="#6a729a" stroke-width="0.62"/><line x1="414.6" y1="490.4" x2="432.7" y2="490.9" stroke="#343c68" stroke-width="1.05"/><line x1="394.3" y1="546.6" x2="414.6" y2="490.4" stroke="#5c648e" stroke-width="0.75" stroke-dasharray="1.8 1.4"/><line x1="414.6" y1="490.4" x2="411.6" y2="390.7" stroke="#6a729a" stroke-width="0.62"/><line x1="432.7" y1="490.9" x2="359.6" y2="443.5" stroke="#6a729a" stroke-width="0.62"/><line x1="551.5" y1="621.4" x2="499.3" y2="629.1" stroke="#6a729a" stroke-width="0.62"/><line x1="460.4" y1="672.5" x2="432.6" y2="686.9" stroke="#6a729a" stroke-width="0.62"/><line x1="476.5" y1="659.5" x2="460.4" y2="672.5" stroke="#6a729a" stroke-width="0.62"/><line x1="401.6" y1="609.8" x2="460.4" y2="672.5" stroke="#6a729a" stroke-width="0.62"/><line x1="401.6" y1="609.8" x2="476.5" y2="659.5" stroke="#343c68" stroke-width="1.05"/><line x1="401.6" y1="609.8" x2="432.6" y2="686.9" stroke="#6a729a" stroke-width="0.62"/><line x1="395.2" y1="691.5" x2="382.4" y2="610.6" stroke="#5c648e" stroke-width="0.75" stroke-dasharray="1.8 1.4"/><line x1="380.2" y1="652.7" x2="395.2" y2="691.5" stroke="#343c68" stroke-width="1.05"/><line x1="380.2" y1="652.7" x2="372.5" y2="701.9" stroke="#343c68" stroke-width="1.05"/><line x1="380.2" y1="652.7" x2="344.1" y2="728.4" stroke="#343c68" stroke-width="1.05"/><line x1="380.2" y1="652.7" x2="352.3" y2="675.7" stroke="#5c648e" stroke-width="0.75" stroke-dasharray="1.8 1.4"/><line x1="380.2" y1="652.7" x2="333.2" y2="617" stroke="#5c648e" stroke-width="0.75" stroke-dasharray="1.8 1.4"/><line x1="335.3" y1="641.4" x2="380.2" y2="652.7" stroke="#5c648e" stroke-width="0.75" stroke-dasharray="1.8 1.4"/><line x1="352.3" y1="675.7" x2="395.2" y2="691.5" stroke="#6a729a" stroke-width="0.62"/><line x1="333.2" y1="617" x2="352.3" y2="675.7" stroke="#343c68" stroke-width="1.05"/><line x1="352.3" y1="675.7" x2="345.8" y2="556.7" stroke="#6a729a" stroke-width="0.62"/><line x1="372.5" y1="701.9" x2="344.1" y2="728.4" stroke="#343c68" stroke-width="1.05"/><line x1="395.2" y1="691.5" x2="420.6" y2="739.9" stroke="#343c68" stroke-width="1.05"/><line x1="344.1" y1="728.4" x2="295.4" y2="729.8" stroke="#6a729a" stroke-width="0.62"/><line x1="344.1" y1="728.4" x2="327.7" y2="784.4" stroke="#6a729a" stroke-width="0.62"/><line x1="344.1" y1="728.4" x2="379.6" y2="783" stroke="#6a729a" stroke-width="0.62"/><line x1="367.8" y1="589.5" x2="395.2" y2="691.5" stroke="#343c68" stroke-width="1.05"/><line x1="333.2" y1="617" x2="335.3" y2="641.4" stroke="#343c68" stroke-width="1.05"/><line x1="333.2" y1="617" x2="310.5" y2="622.4" stroke="#6a729a" stroke-width="0.62"/><line x1="333.2" y1="617" x2="324.4" y2="556.7" stroke="#343c68" stroke-width="1.05"/><line x1="333.2" y1="617" x2="345.8" y2="556.7" stroke="#343c68" stroke-width="1.05"/><line x1="335.3" y1="641.4" x2="345.8" y2="556.7" stroke="#343c68" stroke-width="1.05"/><line x1="335.3" y1="641.4" x2="352.3" y2="675.7" stroke="#6a729a" stroke-width="0.62"/><line x1="335.3" y1="641.4" x2="297.8" y2="543" stroke="#6a729a" stroke-width="0.62"/><line x1="343.2" y1="590.2" x2="345.8" y2="556.7" stroke="#6a729a" stroke-width="0.62"/><line x1="343.2" y1="590.2" x2="394.3" y2="546.6" stroke="#6a729a" stroke-width="0.62"/><line x1="343.2" y1="590.2" x2="412.8" y2="573" stroke="#6a729a" stroke-width="0.62"/><line x1="343.2" y1="590.2" x2="333.2" y2="617" stroke="#6a729a" stroke-width="0.62"/><line x1="367.8" y1="589.5" x2="345.8" y2="556.7" stroke="#6a729a" stroke-width="0.62"/><line x1="367.8" y1="589.5" x2="333.2" y2="617" stroke="#6a729a" stroke-width="0.62"/><line x1="367.8" y1="589.5" x2="401.6" y2="609.8" stroke="#343c68" stroke-width="1.05"/><line x1="367.8" y1="589.5" x2="399.7" y2="595.7" stroke="#6a729a" stroke-width="0.62"/><line x1="367.8" y1="589.5" x2="382.4" y2="610.6" stroke="#6a729a" stroke-width="0.62"/><line x1="367.8" y1="589.5" x2="324.4" y2="556.7" stroke="#6a729a" stroke-width="0.62"/><line x1="412.8" y1="573" x2="438" y2="573" stroke="#2f3763" stroke-width="1.5"/><line x1="412.8" y1="573" x2="394.3" y2="546.6" stroke="#343c68" stroke-width="1.05"/><line x1="412.8" y1="573" x2="426" y2="600" stroke="#343c68" stroke-width="1.05"/><line x1="412.8" y1="573" x2="399.7" y2="595.7" stroke="#6a729a" stroke-width="0.62"/><line x1="412.8" y1="573" x2="370.2" y2="563" stroke="#6a729a" stroke-width="0.62"/><line x1="412.8" y1="573" x2="345.8" y2="556.7" stroke="#343c68" stroke-width="1.05"/><line x1="438" y1="573" x2="394.3" y2="546.6" stroke="#343c68" stroke-width="1.05"/><line x1="438" y1="573" x2="426" y2="600" stroke="#343c68" stroke-width="1.05"/><line x1="438" y1="573" x2="399.7" y2="595.7" stroke="#6a729a" stroke-width="0.62"/><line x1="438" y1="573" x2="465.1" y2="606.8" stroke="#6a729a" stroke-width="0.62"/><line x1="394.3" y1="546.6" x2="426" y2="600" stroke="#343c68" stroke-width="1.05"/><line x1="394.3" y1="546.6" x2="345.8" y2="556.7" stroke="#343c68" stroke-width="1.05"/><line x1="394.3" y1="546.6" x2="399.7" y2="595.7" stroke="#6a729a" stroke-width="0.62"/><line x1="394.3" y1="546.6" x2="370.2" y2="563" stroke="#6a729a" stroke-width="0.62"/><line x1="394.3" y1="546.6" x2="352.9" y2="512" stroke="#6a729a" stroke-width="0.62"/><line x1="426" y1="600" x2="399.7" y2="595.7" stroke="#6a729a" stroke-width="0.62"/><line x1="399.7" y1="595.7" x2="401.6" y2="609.8" stroke="#6a729a" stroke-width="0.62"/><line x1="399.7" y1="595.7" x2="382.4" y2="610.6" stroke="#6a729a" stroke-width="0.62"/><line x1="382.4" y1="610.6" x2="345.8" y2="556.7" stroke="#6a729a" stroke-width="0.62"/><line x1="382.4" y1="610.6" x2="370.2" y2="563" stroke="#6a729a" stroke-width="0.62"/><line x1="401.6" y1="609.8" x2="370.2" y2="563" stroke="#6a729a" stroke-width="0.62"/><line x1="401.6" y1="609.8" x2="345.8" y2="556.7" stroke="#6a729a" stroke-width="0.62"/><line x1="370.2" y1="563" x2="345.8" y2="556.7" stroke="#343c68" stroke-width="1.05"/><line x1="370.2" y1="563" x2="324.4" y2="556.7" stroke="#343c68" stroke-width="1.05"/><line x1="370.2" y1="563" x2="297.8" y2="543" stroke="#6a729a" stroke-width="0.62"/><line x1="324.4" y1="556.7" x2="345.8" y2="556.7" stroke="#2f3763" stroke-width="1.5"/><line x1="324.4" y1="556.7" x2="297.8" y2="543" stroke="#343c68" stroke-width="1.05"/><line x1="297.8" y1="543" x2="345.8" y2="556.7" stroke="#343c68" stroke-width="1.05"/><line x1="297.8" y1="543" x2="273.9" y2="562.8" stroke="#6a729a" stroke-width="0.62"/><line x1="297.8" y1="543" x2="275.9" y2="505.9" stroke="#343c68" stroke-width="1.05"/><line x1="297.8" y1="543" x2="294.4" y2="511.5" stroke="#343c68" stroke-width="1.05"/><line x1="255.6" y1="576" x2="297.8" y2="543" stroke="#6a729a" stroke-width="0.62"/><line x1="297.8" y1="543" x2="320.9" y2="516.8" stroke="#343c68" stroke-width="1.05"/><line x1="345.8" y1="556.7" x2="294.4" y2="511.5" stroke="#343c68" stroke-width="1.05"/><line x1="345.8" y1="556.7" x2="334.7" y2="529.9" stroke="#343c68" stroke-width="1.05"/><line x1="345.8" y1="556.7" x2="320.9" y2="516.8" stroke="#343c68" stroke-width="1.05"/><line x1="345.8" y1="556.7" x2="352.9" y2="512" stroke="#6a729a" stroke-width="0.62"/><line x1="345.8" y1="556.7" x2="359.6" y2="443.5" stroke="#343c68" stroke-width="1.05"/><line x1="345.8" y1="556.7" x2="275.9" y2="505.9" stroke="#343c68" stroke-width="1.05"/><line x1="345.8" y1="556.7" x2="275.1" y2="476.8" stroke="#6a729a" stroke-width="0.62"/><line x1="324.4" y1="556.7" x2="334.7" y2="529.9" stroke="#6a729a" stroke-width="0.62"/><line x1="324.4" y1="556.7" x2="273.9" y2="562.8" stroke="#6a729a" stroke-width="0.62"/><line x1="324.4" y1="556.7" x2="320.9" y2="516.8" stroke="#343c68" stroke-width="1.05"/><line x1="273.9" y1="562.8" x2="255.6" y2="576" stroke="#6a729a" stroke-width="0.62"/><line x1="273.9" y1="562.8" x2="262.4" y2="594" stroke="#6a729a" stroke-width="0.62"/><line x1="273.9" y1="562.8" x2="283.8" y2="598.8" stroke="#6a729a" stroke-width="0.62"/><line x1="255.6" y1="576" x2="262.4" y2="594" stroke="#6a729a" stroke-width="0.62"/><line x1="255.6" y1="576" x2="283.8" y2="598.8" stroke="#6a729a" stroke-width="0.62"/><line x1="262.4" y1="594" x2="283.8" y2="598.8" stroke="#6a729a" stroke-width="0.62"/><line x1="283.8" y1="598.8" x2="345.8" y2="556.7" stroke="#6a729a" stroke-width="0.62"/><line x1="283.8" y1="598.8" x2="297.8" y2="543" stroke="#6a729a" stroke-width="0.62"/><line x1="283.8" y1="598.8" x2="335.3" y2="641.4" stroke="#6a729a" stroke-width="0.62"/><line x1="275.9" y1="505.9" x2="294.4" y2="511.5" stroke="#343c68" stroke-width="1.05"/><line x1="275.9" y1="505.9" x2="275.1" y2="476.8" stroke="#6a729a" stroke-width="0.62"/><line x1="249.8" y1="496.5" x2="275.9" y2="505.9" stroke="#6a729a" stroke-width="0.62"/><line x1="275.9" y1="505.9" x2="320.9" y2="516.8" stroke="#6a729a" stroke-width="0.62"/><line x1="294.4" y1="511.5" x2="320.9" y2="516.8" stroke="#6a729a" stroke-width="0.62"/><line x1="294.4" y1="511.5" x2="326.5" y2="496.5" stroke="#6a729a" stroke-width="0.62"/><line x1="294.4" y1="511.5" x2="334.7" y2="529.9" stroke="#6a729a" stroke-width="0.62"/><line x1="320.9" y1="516.8" x2="334.7" y2="529.9" stroke="#343c68" stroke-width="1.05"/><line x1="320.9" y1="516.8" x2="352.9" y2="512" stroke="#343c68" stroke-width="1.05"/><line x1="320.9" y1="516.8" x2="326.5" y2="496.5" stroke="#6a729a" stroke-width="0.62"/><line x1="320.9" y1="516.8" x2="307.3" y2="483.5" stroke="#6a729a" stroke-width="0.62"/><line x1="334.7" y1="529.9" x2="352.9" y2="512" stroke="#343c68" stroke-width="1.05"/><line x1="334.7" y1="529.9" x2="325.7" y2="455.8" stroke="#6a729a" stroke-width="0.62"/><line x1="334.7" y1="529.9" x2="354.6" y2="469.4" stroke="#343c68" stroke-width="1.05"/><line x1="334.7" y1="529.9" x2="359.6" y2="443.5" stroke="#6a729a" stroke-width="0.62"/><line x1="352.9" y1="512" x2="354.6" y2="469.4" stroke="#343c68" stroke-width="1.05"/><line x1="352.9" y1="512" x2="325.7" y2="455.8" stroke="#6a729a" stroke-width="0.62"/><line x1="352.9" y1="512" x2="307.3" y2="483.5" stroke="#6a729a" stroke-width="0.62"/><line x1="352.9" y1="512" x2="403.2" y2="421" stroke="#6a729a" stroke-width="0.62"/><line x1="352.9" y1="512" x2="475.8" y2="452.5" stroke="#6a729a" stroke-width="0.62"/><line x1="354.6" y1="469.4" x2="307.3" y2="483.5" stroke="#6a729a" stroke-width="0.62"/><line x1="354.6" y1="469.4" x2="325.7" y2="455.8" stroke="#6a729a" stroke-width="0.62"/><line x1="354.6" y1="469.4" x2="359.6" y2="443.5" stroke="#6a729a" stroke-width="0.62"/><line x1="354.6" y1="469.4" x2="326.5" y2="496.5" stroke="#6a729a" stroke-width="0.62"/><line x1="354.6" y1="469.4" x2="439.2" y2="445.5" stroke="#6a729a" stroke-width="0.62"/><line x1="326.5" y1="496.5" x2="307.3" y2="483.5" stroke="#6a729a" stroke-width="0.62"/><line x1="326.5" y1="496.5" x2="275.1" y2="476.8" stroke="#6a729a" stroke-width="0.62"/><line x1="326.5" y1="496.5" x2="325.7" y2="455.8" stroke="#6a729a" stroke-width="0.62"/><line x1="307.3" y1="483.5" x2="325.7" y2="455.8" stroke="#6a729a" stroke-width="0.62"/><line x1="307.3" y1="483.5" x2="275.1" y2="476.8" stroke="#6a729a" stroke-width="0.62"/><line x1="307.3" y1="483.5" x2="332.1" y2="416.3" stroke="#6a729a" stroke-width="0.62"/><line x1="325.7" y1="455.8" x2="359.6" y2="443.5" stroke="#6a729a" stroke-width="0.62"/><line x1="325.7" y1="455.8" x2="332.1" y2="416.3" stroke="#6a729a" stroke-width="0.62"/><line x1="325.7" y1="455.8" x2="343.6" y2="405.6" stroke="#6a729a" stroke-width="0.62"/><line x1="325.7" y1="455.8" x2="358.8" y2="383.5" stroke="#6a729a" stroke-width="0.62"/><line x1="291" y1="458.2" x2="275.1" y2="476.8" stroke="#6a729a" stroke-width="0.62"/><line x1="291" y1="458.2" x2="295.7" y2="438.8" stroke="#6a729a" stroke-width="0.62"/><line x1="266.2" y1="454.2" x2="275.1" y2="476.8" stroke="#6a729a" stroke-width="0.62"/><line x1="244.6" y1="416.6" x2="266.2" y2="454.2" stroke="#6a729a" stroke-width="0.62"/><line x1="275.1" y1="476.8" x2="295.7" y2="438.8" stroke="#6a729a" stroke-width="0.62"/><line x1="249.8" y1="496.5" x2="275.1" y2="476.8" stroke="#6a729a" stroke-width="0.62"/><line x1="295.7" y1="386.3" x2="275.1" y2="476.8" stroke="#6a729a" stroke-width="0.62"/><line x1="295.7" y1="438.8" x2="269.2" y2="412.6" stroke="#6a729a" stroke-width="0.62"/><line x1="295.7" y1="438.8" x2="308.4" y2="404.3" stroke="#6a729a" stroke-width="0.62"/><line x1="295.7" y1="438.8" x2="343.6" y2="405.6" stroke="#6a729a" stroke-width="0.62"/><line x1="295.7" y1="438.8" x2="295.7" y2="386.3" stroke="#6a729a" stroke-width="0.62"/><line x1="244.6" y1="416.6" x2="269.2" y2="412.6" stroke="#6a729a" stroke-width="0.62"/><line x1="244.6" y1="416.6" x2="343.6" y2="405.6" stroke="#6a729a" stroke-width="0.62"/><line x1="244.6" y1="416.6" x2="291" y2="458.2" stroke="#6a729a" stroke-width="0.62"/><line x1="269.2" y1="412.6" x2="295.7" y2="386.3" stroke="#343c68" stroke-width="1.05"/><line x1="269.2" y1="412.6" x2="308.4" y2="404.3" stroke="#6a729a" stroke-width="0.62"/><line x1="269.2" y1="412.6" x2="354.6" y2="469.4" stroke="#6a729a" stroke-width="0.62"/><line x1="308.4" y1="404.3" x2="295.7" y2="386.3" stroke="#343c68" stroke-width="1.05"/><line x1="310.4" y1="377.2" x2="308.4" y2="404.3" stroke="#343c68" stroke-width="1.3" stroke-dasharray="1.3 1.0"/><line x1="308.4" y1="404.3" x2="343.6" y2="405.6" stroke="#343c68" stroke-width="1.05"/><line x1="308.4" y1="404.3" x2="332.1" y2="416.3" stroke="#343c68" stroke-width="1.05"/><line x1="308.4" y1="404.3" x2="358.8" y2="383.5" stroke="#343c68" stroke-width="1.05"/><line x1="343.6" y1="405.6" x2="332.1" y2="416.3" stroke="#343c68" stroke-width="1.05"/><line x1="343.6" y1="405.6" x2="383" y2="381.5" stroke="#343c68" stroke-width="1.05"/><line x1="359.6" y1="443.5" x2="343.6" y2="405.6" stroke="#6a729a" stroke-width="0.62"/><line x1="332.1" y1="416.3" x2="359.6" y2="443.5" stroke="#343c68" stroke-width="1.05"/><line x1="332.1" y1="416.3" x2="295.7" y2="386.3" stroke="#6a729a" stroke-width="0.62"/><line x1="332.1" y1="416.3" x2="403.2" y2="421" stroke="#6a729a" stroke-width="0.62"/><line x1="310.4" y1="377.2" x2="295.7" y2="386.3" stroke="#6a729a" stroke-width="0.62"/><line x1="310.4" y1="377.2" x2="343.6" y2="405.6" stroke="#5c648e" stroke-width="0.75" stroke-dasharray="1.8 1.4"/><line x1="310.4" y1="377.2" x2="354.6" y2="469.4" stroke="#5c648e" stroke-width="0.75" stroke-dasharray="1.8 1.4"/><line x1="310.4" y1="377.2" x2="376" y2="357.4" stroke="#5c648e" stroke-width="0.75" stroke-dasharray="1.8 1.4"/><line x1="295.7" y1="386.3" x2="266.2" y2="454.2" stroke="#6a729a" stroke-width="0.62"/><line x1="359.6" y1="443.5" x2="414.5" y2="435.2" stroke="#5c648e" stroke-width="0.75" stroke-dasharray="1.8 1.4"/><line x1="359.6" y1="443.5" x2="427" y2="446.5" stroke="#5c648e" stroke-width="0.75" stroke-dasharray="1.8 1.4"/><line x1="359.6" y1="443.5" x2="439.2" y2="445.5" stroke="#6a729a" stroke-width="0.62"/><line x1="359.6" y1="443.5" x2="403.2" y2="421" stroke="#6a729a" stroke-width="0.62"/><line x1="359.6" y1="443.5" x2="307.3" y2="483.5" stroke="#6a729a" stroke-width="0.62"/><line x1="370.2" y1="563" x2="334.7" y2="529.9" stroke="#6a729a" stroke-width="0.62"/><line x1="591.6" y1="526.6" x2="550.1" y2="496.5" stroke="#6a729a" stroke-width="0.62"/><line x1="447.5" y1="281.8" x2="426.4" y2="348.1" stroke="#5c648e" stroke-width="0.75" stroke-dasharray="1.8 1.4"/><line x1="312.4" y1="317.8" x2="332.1" y2="416.3" stroke="#5c648e" stroke-width="0.75" stroke-dasharray="1.8 1.4"/><line x1="354.6" y1="469.4" x2="414.6" y2="490.4" stroke="#5c648e" stroke-width="0.75" stroke-dasharray="1.8 1.4"/><line x1="354.6" y1="469.4" x2="427" y2="446.5" stroke="#5c648e" stroke-width="0.75" stroke-dasharray="1.8 1.4"/><line x1="354.6" y1="469.4" x2="466.2" y2="460" stroke="#5c648e" stroke-width="0.75" stroke-dasharray="1.8 1.4"/><line x1="354.6" y1="469.4" x2="394.3" y2="546.6" stroke="#6a729a" stroke-width="0.62"/><line x1="352.9" y1="512" x2="439.2" y2="445.5" stroke="#343c68" stroke-width="1.05"/><line x1="352.9" y1="512" x2="483.7" y2="520.7" stroke="#5c648e" stroke-width="0.75" stroke-dasharray="1.8 1.4"/><line x1="352.9" y1="512" x2="452.4" y2="508.2" stroke="#5c648e" stroke-width="0.75" stroke-dasharray="1.8 1.4"/><line x1="352.9" y1="512" x2="414.6" y2="490.4" stroke="#5c648e" stroke-width="0.75" stroke-dasharray="1.8 1.4"/><line x1="352.9" y1="512" x2="451.1" y2="528.6" stroke="#5c648e" stroke-width="0.75" stroke-dasharray="1.8 1.4"/><line x1="412.8" y1="573" x2="414.6" y2="490.4" stroke="#5c648e" stroke-width="0.75" stroke-dasharray="1.8 1.4"/><line x1="451.1" y1="528.6" x2="516" y2="482.8" stroke="#343c68" stroke-width="1.3" stroke-dasharray="1.3 1.0"/><line x1="451.1" y1="528.6" x2="551" y2="581.2" stroke="#6a729a" stroke-width="0.62"/><line x1="526.3" y1="484.8" x2="551" y2="581.2" stroke="#6a729a" stroke-width="0.62"/><line x1="273.1" y1="634.1" x2="283.8" y2="598.8" stroke="#6a729a" stroke-width="0.62"/><line x1="273.1" y1="634.1" x2="345.8" y2="556.7" stroke="#343c68" stroke-width="1.05"/><line x1="310.5" y1="622.4" x2="283.8" y2="598.8" stroke="#6a729a" stroke-width="0.62"/><line x1="310.5" y1="622.4" x2="297.8" y2="543" stroke="#6a729a" stroke-width="0.62"/><line x1="310.5" y1="622.4" x2="324.4" y2="556.7" stroke="#6a729a" stroke-width="0.62"/><line x1="310.5" y1="622.4" x2="302.1" y2="657.4" stroke="#6a729a" stroke-width="0.62"/><line x1="273.9" y1="562.8" x2="343.2" y2="590.2" stroke="#343c68" stroke-width="1.05"/><line x1="382.4" y1="610.6" x2="333.2" y2="617" stroke="#6a729a" stroke-width="0.62"/><line x1="380.2" y1="652.7" x2="382.4" y2="610.6" stroke="#5c648e" stroke-width="0.75" stroke-dasharray="1.8 1.4"/><line x1="244.2" y1="381.8" x2="358.8" y2="383.5" stroke="#6a729a" stroke-width="0.62"/><line x1="295.7" y1="386.3" x2="307.3" y2="483.5" stroke="#343c68" stroke-width="1.05"/><line x1="308.4" y1="404.3" x2="325.7" y2="455.8" stroke="#343c68" stroke-width="1.05"/><line x1="426" y1="600" x2="345.8" y2="556.7" stroke="#6a729a" stroke-width="0.62"/><line x1="394.3" y1="546.6" x2="483.7" y2="520.7" stroke="#5c648e" stroke-width="0.75" stroke-dasharray="1.8 1.4"/><line x1="394.3" y1="546.6" x2="432.7" y2="490.9" stroke="#5c648e" stroke-width="0.75" stroke-dasharray="1.8 1.4"/><line x1="394.3" y1="546.6" x2="493.3" y2="488.9" stroke="#5c648e" stroke-width="0.75" stroke-dasharray="1.8 1.4"/><line x1="370.2" y1="563" x2="414.6" y2="490.4" stroke="#5c648e" stroke-width="0.75" stroke-dasharray="1.8 1.4"/><line x1="345.8" y1="556.7" x2="414.6" y2="490.4" stroke="#5c648e" stroke-width="0.75" stroke-dasharray="1.8 1.4"/><line x1="345.8" y1="556.7" x2="439.2" y2="445.5" stroke="#5c648e" stroke-width="0.75" stroke-dasharray="1.8 1.4"/><line x1="345.8" y1="556.7" x2="414.5" y2="435.2" stroke="#5c648e" stroke-width="0.75" stroke-dasharray="1.8 1.4"/><line x1="334.7" y1="529.9" x2="414.6" y2="490.4" stroke="#5c648e" stroke-width="0.75" stroke-dasharray="1.8 1.4"/><line x1="334.7" y1="529.9" x2="427" y2="446.5" stroke="#5c648e" stroke-width="0.75" stroke-dasharray="1.8 1.4"/><line x1="320.9" y1="516.8" x2="439.2" y2="445.5" stroke="#5c648e" stroke-width="0.75" stroke-dasharray="1.8 1.4"/><line x1="320.9" y1="516.8" x2="354.6" y2="469.4" stroke="#5c648e" stroke-width="0.75" stroke-dasharray="1.8 1.4"/><line x1="326.5" y1="496.5" x2="352.9" y2="512" stroke="#5c648e" stroke-width="0.75" stroke-dasharray="1.8 1.4"/><line x1="307.3" y1="483.5" x2="414.6" y2="490.4" stroke="#5c648e" stroke-width="0.75" stroke-dasharray="1.8 1.4"/><line x1="307.3" y1="483.5" x2="414.5" y2="435.2" stroke="#5c648e" stroke-width="0.75" stroke-dasharray="1.8 1.4"/><line x1="325.7" y1="455.8" x2="403.2" y2="421" stroke="#5c648e" stroke-width="0.75" stroke-dasharray="1.8 1.4"/><line x1="325.7" y1="455.8" x2="427" y2="446.5" stroke="#5c648e" stroke-width="0.75" stroke-dasharray="1.8 1.4"/><line x1="332.1" y1="416.3" x2="358.8" y2="383.5" stroke="#5c648e" stroke-width="0.75" stroke-dasharray="1.8 1.4"/><line x1="343.6" y1="405.6" x2="376" y2="357.4" stroke="#5c648e" stroke-width="0.75" stroke-dasharray="1.8 1.4"/><line x1="288.7" y1="355.5" x2="376" y2="357.4" stroke="#5c648e" stroke-width="0.75" stroke-dasharray="1.8 1.4"/><line x1="269.2" y1="412.6" x2="358.8" y2="383.5" stroke="#5c648e" stroke-width="0.75" stroke-dasharray="1.8 1.4"/><line x1="269.2" y1="412.6" x2="343.6" y2="405.6" stroke="#6a729a" stroke-width="0.62"/><line x1="244.6" y1="416.6" x2="308.4" y2="404.3" stroke="#6a729a" stroke-width="0.62"/><line x1="244.6" y1="416.6" x2="332.1" y2="416.3" stroke="#6a729a" stroke-width="0.62"/><line x1="244.6" y1="416.6" x2="295.7" y2="438.8" stroke="#6a729a" stroke-width="0.62"/><line x1="244.2" y1="381.8" x2="332.1" y2="416.3" stroke="#6a729a" stroke-width="0.62"/><line x1="359.6" y1="443.5" x2="449.6" y2="418.3" stroke="#5c648e" stroke-width="0.75" stroke-dasharray="1.8 1.4"/><line x1="359.6" y1="443.5" x2="475.8" y2="452.5" stroke="#5c648e" stroke-width="0.75" stroke-dasharray="1.8 1.4"/><line x1="359.6" y1="443.5" x2="466.2" y2="460" stroke="#5c648e" stroke-width="0.75" stroke-dasharray="1.8 1.4"/><line x1="354.6" y1="469.4" x2="414.5" y2="435.2" stroke="#5c648e" stroke-width="0.75" stroke-dasharray="1.8 1.4"/><line x1="354.6" y1="469.4" x2="475.8" y2="452.5" stroke="#5c648e" stroke-width="0.75" stroke-dasharray="1.8 1.4"/><line x1="343.6" y1="405.6" x2="411.6" y2="390.7" stroke="#5c648e" stroke-width="0.75" stroke-dasharray="1.8 1.4"/><line x1="343.6" y1="405.6" x2="394.9" y2="391.8" stroke="#5c648e" stroke-width="0.75" stroke-dasharray="1.8 1.4"/><line x1="358.8" y1="383.5" x2="411.6" y2="390.7" stroke="#5c648e" stroke-width="0.75" stroke-dasharray="1.8 1.4"/><line x1="358.8" y1="383.5" x2="447.4" y2="384.9" stroke="#5c648e" stroke-width="0.75" stroke-dasharray="1.8 1.4"/><line x1="383" y1="381.5" x2="414.5" y2="435.2" stroke="#5c648e" stroke-width="0.75" stroke-dasharray="1.8 1.4"/><line x1="383" y1="381.5" x2="427" y2="446.5" stroke="#5c648e" stroke-width="0.75" stroke-dasharray="1.8 1.4"/><line x1="383" y1="381.5" x2="447.4" y2="384.9" stroke="#5c648e" stroke-width="0.75" stroke-dasharray="1.8 1.4"/><line x1="376" y1="357.4" x2="411.6" y2="390.7" stroke="#5c648e" stroke-width="0.75" stroke-dasharray="1.8 1.4"/><line x1="376" y1="357.4" x2="394.9" y2="391.8" stroke="#5c648e" stroke-width="0.75" stroke-dasharray="1.8 1.4"/><line x1="374" y1="345.9" x2="426.4" y2="348.1" stroke="#343c68" stroke-width="1.05"/><line x1="374" y1="345.9" x2="358.8" y2="383.5" stroke="#5c648e" stroke-width="0.75" stroke-dasharray="1.8 1.4"/><line x1="426.4" y1="348.1" x2="394.9" y2="391.8" stroke="#6a729a" stroke-width="0.62"/><line x1="426.4" y1="348.1" x2="414.5" y2="435.2" stroke="#6a729a" stroke-width="0.62"/><line x1="444.1" y1="321.8" x2="449.6" y2="418.3" stroke="#343c68" stroke-width="1.05"/><line x1="456.4" y1="340.1" x2="449.6" y2="418.3" stroke="#343c68" stroke-width="1.05"/><line x1="447.4" y1="384.9" x2="414.5" y2="435.2" stroke="#6a729a" stroke-width="0.62"/><line x1="477" y1="385.7" x2="449.6" y2="418.3" stroke="#343c68" stroke-width="1.05"/><line x1="477" y1="385.7" x2="466.2" y2="460" stroke="#6a729a" stroke-width="0.62"/><line x1="510.7" y1="422.7" x2="513.2" y2="462.9" stroke="#6a729a" stroke-width="0.62"/><line x1="555.4" y1="389.2" x2="564.3" y2="421" stroke="#6a729a" stroke-width="0.62"/><line x1="447.5" y1="281.8" x2="507.1" y2="362" stroke="#6a729a" stroke-width="0.62"/><line x1="427" y1="446.5" x2="452.4" y2="508.2" stroke="#343c68" stroke-width="1.05"/><line x1="432.7" y1="490.9" x2="414.5" y2="435.2" stroke="#6a729a" stroke-width="0.62"/><line x1="414.5" y1="435.2" x2="474.2" y2="495.6" stroke="#5c648e" stroke-width="0.75" stroke-dasharray="1.8 1.4"/><line x1="452.4" y1="508.2" x2="493.3" y2="488.9" stroke="#6a729a" stroke-width="0.62"/><line x1="452.4" y1="508.2" x2="474.2" y2="495.6" stroke="#6a729a" stroke-width="0.62"/><line x1="452.4" y1="508.2" x2="475.8" y2="452.5" stroke="#6a729a" stroke-width="0.62"/><line x1="483.7" y1="520.7" x2="493.3" y2="488.9" stroke="#6a729a" stroke-width="0.62"/><line x1="451.1" y1="528.6" x2="432.7" y2="490.9" stroke="#5c648e" stroke-width="0.75" stroke-dasharray="1.8 1.4"/><line x1="451.1" y1="528.6" x2="414.6" y2="490.4" stroke="#5c648e" stroke-width="0.75" stroke-dasharray="1.8 1.4"/><line x1="474.2" y1="495.6" x2="516" y2="482.8" stroke="#6a729a" stroke-width="0.62"/><line x1="493.3" y1="488.9" x2="545.5" y2="528.5" stroke="#6a729a" stroke-width="0.62"/><line x1="412.8" y1="573" x2="452.4" y2="508.2" stroke="#5c648e" stroke-width="0.75" stroke-dasharray="1.8 1.4"/><line x1="412.8" y1="573" x2="483.7" y2="520.7" stroke="#5c648e" stroke-width="0.75" stroke-dasharray="1.8 1.4"/><line x1="438" y1="573" x2="483.7" y2="520.7" stroke="#5c648e" stroke-width="0.75" stroke-dasharray="1.8 1.4"/><line x1="438" y1="573" x2="451.1" y2="528.6" stroke="#5c648e" stroke-width="0.75" stroke-dasharray="1.8 1.4"/><line x1="426" y1="600" x2="451.1" y2="528.6" stroke="#5c648e" stroke-width="0.75" stroke-dasharray="1.8 1.4"/><line x1="426" y1="600" x2="452.4" y2="508.2" stroke="#5c648e" stroke-width="0.75" stroke-dasharray="1.8 1.4"/><line x1="399.7" y1="595.7" x2="414.6" y2="490.4" stroke="#5c648e" stroke-width="0.75" stroke-dasharray="1.8 1.4"/><line x1="399.7" y1="595.7" x2="451.1" y2="528.6" stroke="#5c648e" stroke-width="0.75" stroke-dasharray="1.8 1.4"/><line x1="382.4" y1="610.6" x2="394.3" y2="546.6" stroke="#6a729a" stroke-width="0.62"/><line x1="382.4" y1="610.6" x2="412.8" y2="573" stroke="#6a729a" stroke-width="0.62"/><line x1="401.6" y1="609.8" x2="394.3" y2="546.6" stroke="#5c648e" stroke-width="0.75" stroke-dasharray="1.8 1.4"/><line x1="367.8" y1="589.5" x2="370.2" y2="563" stroke="#6a729a" stroke-width="0.62"/><line x1="370.2" y1="563" x2="320.9" y2="516.8" stroke="#6a729a" stroke-width="0.62"/><line x1="370.2" y1="563" x2="352.9" y2="512" stroke="#6a729a" stroke-width="0.62"/><line x1="343.2" y1="590.2" x2="334.7" y2="529.9" stroke="#6a729a" stroke-width="0.62"/><line x1="343.2" y1="590.2" x2="324.4" y2="556.7" stroke="#6a729a" stroke-width="0.62"/><line x1="333.2" y1="617" x2="297.8" y2="543" stroke="#343c68" stroke-width="1.05"/><line x1="333.2" y1="617" x2="283.8" y2="598.8" stroke="#6a729a" stroke-width="0.62"/><line x1="335.3" y1="641.4" x2="324.4" y2="556.7" stroke="#6a729a" stroke-width="0.62"/><line x1="335.3" y1="641.4" x2="310.5" y2="622.4" stroke="#6a729a" stroke-width="0.62"/><line x1="302.1" y1="657.4" x2="352.3" y2="675.7" stroke="#5c648e" stroke-width="0.75" stroke-dasharray="1.8 1.4"/><line x1="302.1" y1="657.4" x2="273.1" y2="634.1" stroke="#6a729a" stroke-width="0.62"/><line x1="269.8" y1="647.8" x2="324.4" y2="556.7" stroke="#6a729a" stroke-width="0.62"/><line x1="269.8" y1="647.8" x2="297.8" y2="543" stroke="#6a729a" stroke-width="0.62"/><line x1="262.4" y1="594" x2="297.8" y2="543" stroke="#6a729a" stroke-width="0.62"/><line x1="262.4" y1="594" x2="335.3" y2="641.4" stroke="#6a729a" stroke-width="0.62"/><line x1="255.6" y1="576" x2="335.3" y2="641.4" stroke="#5c648e" stroke-width="0.75" stroke-dasharray="1.8 1.4"/><line x1="273.9" y1="562.8" x2="345.8" y2="556.7" stroke="#6a729a" stroke-width="0.62"/><line x1="273.9" y1="562.8" x2="275.9" y2="505.9" stroke="#6a729a" stroke-width="0.62"/><line x1="240.3" y1="605.7" x2="297.8" y2="543" stroke="#6a729a" stroke-width="0.62"/><line x1="240.3" y1="605.7" x2="273.9" y2="562.8" stroke="#6a729a" stroke-width="0.62"/><line x1="216.6" y1="561.6" x2="249.8" y2="537" stroke="#6a729a" stroke-width="0.62"/><line x1="249.8" y1="537" x2="294.4" y2="511.5" stroke="#343c68" stroke-width="1.05"/><line x1="249.8" y1="537" x2="273.9" y2="562.8" stroke="#6a729a" stroke-width="0.62"/><line x1="204.3" y1="494.6" x2="297.8" y2="543" stroke="#6a729a" stroke-width="0.62"/><line x1="204.3" y1="466" x2="230.2" y2="496" stroke="#434b78" stroke-width="0.85" stroke-dasharray="1.8 1.2"/><line x1="216.6" y1="447.5" x2="204.3" y2="466" stroke="#6a729a" stroke-width="0.62"/><line x1="164.4" y1="441.5" x2="266.2" y2="454.2" stroke="#6a729a" stroke-width="0.62"/><line x1="275.9" y1="505.9" x2="326.5" y2="496.5" stroke="#343c68" stroke-width="1.05"/><line x1="294.4" y1="511.5" x2="324.4" y2="556.7" stroke="#343c68" stroke-width="1.05"/><line x1="275.1" y1="476.8" x2="297.8" y2="543" stroke="#343c68" stroke-width="1.05"/><line x1="266.2" y1="454.2" x2="308.4" y2="404.3" stroke="#6a729a" stroke-width="0.62"/><line x1="291" y1="458.2" x2="359.6" y2="443.5" stroke="#6a729a" stroke-width="0.62"/><line x1="291" y1="458.2" x2="343.6" y2="405.6" stroke="#6a729a" stroke-width="0.62"/><line x1="493.9" y1="293.7" x2="547.4" y2="409.8" stroke="#343c68" stroke-width="1.05"/><line x1="456.4" y1="340.1" x2="510.7" y2="422.7" stroke="#6a729a" stroke-width="0.62"/><line x1="456.4" y1="340.1" x2="490.2" y2="424.9" stroke="#6a729a" stroke-width="0.62"/><line x1="456.4" y1="340.1" x2="547.4" y2="409.8" stroke="#6a729a" stroke-width="0.62"/><line x1="444.1" y1="321.8" x2="492.4" y2="406.3" stroke="#6a729a" stroke-width="0.62"/><line x1="444.1" y1="321.8" x2="490.2" y2="424.9" stroke="#6a729a" stroke-width="0.62"/><line x1="444.1" y1="321.8" x2="510.7" y2="422.7" stroke="#6a729a" stroke-width="0.62"/><line x1="426.4" y1="348.1" x2="521.7" y2="395" stroke="#6a729a" stroke-width="0.62"/><line x1="426.4" y1="348.1" x2="477" y2="385.7" stroke="#6a729a" stroke-width="0.62"/><line x1="449.6" y1="418.3" x2="521.7" y2="395" stroke="#6a729a" stroke-width="0.62"/><line x1="449.6" y1="418.3" x2="490.2" y2="424.9" stroke="#6a729a" stroke-width="0.62"/><line x1="447.4" y1="384.9" x2="490.2" y2="424.9" stroke="#6a729a" stroke-width="0.62"/><line x1="447.4" y1="384.9" x2="510.7" y2="422.7" stroke="#5c648e" stroke-width="0.75" stroke-dasharray="1.8 1.4"/><line x1="447.4" y1="384.9" x2="521.7" y2="395" stroke="#5c648e" stroke-width="0.75" stroke-dasharray="1.8 1.4"/><line x1="475.9" y1="369.5" x2="510.7" y2="422.7" stroke="#5c648e" stroke-width="0.75" stroke-dasharray="1.8 1.4"/><line x1="403.2" y1="421" x2="521.7" y2="395" stroke="#5c648e" stroke-width="0.75" stroke-dasharray="1.8 1.4"/><line x1="411.6" y1="390.7" x2="477" y2="385.7" stroke="#5c648e" stroke-width="0.75" stroke-dasharray="1.8 1.4"/><line x1="411.6" y1="390.7" x2="475.9" y2="369.5" stroke="#5c648e" stroke-width="0.75" stroke-dasharray="1.8 1.4"/><line x1="394.9" y1="391.8" x2="447.4" y2="384.9" stroke="#5c648e" stroke-width="0.75" stroke-dasharray="1.8 1.4"/><line x1="394.9" y1="391.8" x2="477" y2="385.7" stroke="#5c648e" stroke-width="0.75" stroke-dasharray="1.8 1.4"/><line x1="403.2" y1="421" x2="475.9" y2="369.5" stroke="#5c648e" stroke-width="0.75" stroke-dasharray="1.8 1.4"/><line x1="358.8" y1="383.5" x2="475.9" y2="369.5" stroke="#5c648e" stroke-width="0.75" stroke-dasharray="1.8 1.4"/><line x1="383" y1="381.5" x2="475.9" y2="369.5" stroke="#5c648e" stroke-width="0.75" stroke-dasharray="1.8 1.4"/><line x1="383" y1="381.5" x2="477" y2="385.7" stroke="#5c648e" stroke-width="0.75" stroke-dasharray="1.8 1.4"/><line x1="414.5" y1="435.2" x2="521.7" y2="395" stroke="#5c648e" stroke-width="0.75" stroke-dasharray="1.8 1.4"/><line x1="439.2" y1="445.5" x2="492.4" y2="406.3" stroke="#5c648e" stroke-width="0.75" stroke-dasharray="1.8 1.4"/><line x1="427" y1="446.5" x2="483" y2="407" stroke="#5c648e" stroke-width="0.75" stroke-dasharray="1.8 1.4"/><line x1="403.2" y1="421" x2="492.4" y2="406.3" stroke="#5c648e" stroke-width="0.75" stroke-dasharray="1.8 1.4"/><line x1="394.9" y1="391.8" x2="449.6" y2="418.3" stroke="#5c648e" stroke-width="0.75" stroke-dasharray="1.8 1.4"/><line x1="411.6" y1="390.7" x2="492.4" y2="406.3" stroke="#5c648e" stroke-width="0.75" stroke-dasharray="1.8 1.4"/><line x1="411.6" y1="390.7" x2="483" y2="407" stroke="#5c648e" stroke-width="0.75" stroke-dasharray="1.8 1.4"/><line x1="376" y1="357.4" x2="447.4" y2="384.9" stroke="#5c648e" stroke-width="0.75" stroke-dasharray="1.8 1.4"/><line x1="374" y1="345.9" x2="411.6" y2="390.7" stroke="#5c648e" stroke-width="0.75" stroke-dasharray="1.8 1.4"/><line x1="384.3" y1="332.3" x2="411.6" y2="390.7" stroke="#5c648e" stroke-width="0.75" stroke-dasharray="1.8 1.4"/><line x1="393.8" y1="300.6" x2="411.6" y2="390.7" stroke="#5c648e" stroke-width="0.75" stroke-dasharray="1.8 1.4"/><line x1="393.8" y1="300.6" x2="394.9" y2="391.8" stroke="#5c648e" stroke-width="0.75" stroke-dasharray="1.8 1.4"/><line x1="335.3" y1="641.4" x2="344.1" y2="728.4" stroke="#5c648e" stroke-width="0.75" stroke-dasharray="1.8 1.4"/><line x1="493.9" y1="293.7" x2="507.1" y2="362" stroke="#6a729a" stroke-width="0.62"/><line x1="493.9" y1="293.7" x2="588.4" y2="392" stroke="#6a729a" stroke-width="0.62"/><line x1="535" y1="321" x2="570" y2="362" stroke="#6a729a" stroke-width="0.62"/><line x1="535" y1="321" x2="555.4" y2="389.2" stroke="#6a729a" stroke-width="0.62"/><line x1="526" y1="286.9" x2="570" y2="362" stroke="#6a729a" stroke-width="0.62"/><line x1="564.6" y1="323.8" x2="555.4" y2="389.2" stroke="#6a729a" stroke-width="0.62"/><line x1="507.1" y1="362" x2="555.4" y2="389.2" stroke="#6a729a" stroke-width="0.62"/><line x1="507.1" y1="362" x2="588.4" y2="392" stroke="#6a729a" stroke-width="0.62"/><line x1="552.3" y1="355.6" x2="588.4" y2="392" stroke="#6a729a" stroke-width="0.62"/><line x1="552.3" y1="355.6" x2="521.7" y2="395" stroke="#6a729a" stroke-width="0.62"/><line x1="555.4" y1="389.2" x2="521.7" y2="395" stroke="#6a729a" stroke-width="0.62"/><line x1="535" y1="321" x2="521.7" y2="395" stroke="#6a729a" stroke-width="0.62"/><line x1="526" y1="286.9" x2="521.7" y2="395" stroke="#6a729a" stroke-width="0.62"/><line x1="526" y1="286.9" x2="547.4" y2="409.8" stroke="#6a729a" stroke-width="0.62"/><line x1="493.9" y1="293.7" x2="456.4" y2="340.1" stroke="#5c648e" stroke-width="0.75" stroke-dasharray="1.8 1.4"/><line x1="180.2" y1="571.1" x2="230.2" y2="496" stroke="#6a729a" stroke-width="0.62"/><line x1="513.2" y1="462.9" x2="550.1" y2="496.5" stroke="#6a729a" stroke-width="0.62"/><line x1="565.7" y1="467.8" x2="526.3" y2="484.8" stroke="#6a729a" stroke-width="0.62"/><line x1="483.7" y1="520.7" x2="550.1" y2="496.5" stroke="#6a729a" stroke-width="0.62"/><line x1="510.7" y1="422.7" x2="565.7" y2="467.8" stroke="#343c68" stroke-width="1.05"/><line x1="490.2" y1="424.9" x2="516" y2="482.8" stroke="#5c648e" stroke-width="0.75" stroke-dasharray="1.8 1.4"/><line x1="510.7" y1="422.7" x2="493.3" y2="488.9" stroke="#5c648e" stroke-width="0.75" stroke-dasharray="1.8 1.4"/><line x1="492.4" y1="406.3" x2="513.2" y2="462.9" stroke="#5c648e" stroke-width="0.75" stroke-dasharray="1.8 1.4"/><line x1="483" y1="407" x2="513.2" y2="462.9" stroke="#5c648e" stroke-width="0.75" stroke-dasharray="1.8 1.4"/><line x1="510.7" y1="422.7" x2="475.8" y2="452.5" stroke="#5c648e" stroke-width="0.75" stroke-dasharray="1.8 1.4"/><line x1="521.7" y1="395" x2="513.2" y2="462.9" stroke="#5c648e" stroke-width="0.75" stroke-dasharray="1.8 1.4"/></g>
<g><path d="M287.8 268.3L281.48 271.95A7.3 7.3 0 0 1 287.8 261Z" fill="#4c4ce8"/><path d="M287.8 268.3L287.8 261A7.3 7.3 0 0 1 294.12 271.95Z" fill="#58c258"/><path d="M287.8 268.3L294.12 271.95A7.3 7.3 0 0 1 281.48 271.95Z" fill="#e25858"/><circle cx="287.8" cy="268.3" r="7.3" fill="url(#shv)"/><circle cx="287.8" cy="268.3" r="7.3" fill="url(#shr)" stroke="url(#rim)" stroke-width="0.7"/><circle cx="300.6" cy="291.5" r="7.3" fill="url(#gry)"/><circle cx="300.6" cy="291.5" r="7.3" fill="url(#shr)" stroke="url(#rim)" stroke-width="0.7"/><path d="M278.6 307L272.28 310.65A7.3 7.3 0 0 1 278.6 299.7Z" fill="#4c4ce8"/><path d="M278.6 307L278.6 299.7A7.3 7.3 0 0 1 284.92 310.65Z" fill="#58c258"/><path d="M278.6 307L284.92 310.65A7.3 7.3 0 0 1 272.28 310.65Z" fill="#e25858"/><circle cx="278.6" cy="307" r="7.3" fill="url(#shv)"/><circle cx="278.6" cy="307" r="7.3" fill="url(#shr)" stroke="url(#rim)" stroke-width="0.7"/><circle cx="262" cy="308.5" r="7.3" fill="url(#gry)"/><circle cx="262" cy="308.5" r="7.3" fill="url(#shr)" stroke="url(#rim)" stroke-width="0.7"/><path d="M312.4 317.8L306.08 321.45A7.3 7.3 0 0 1 312.4 310.5Z" fill="#4c4ce8"/><path d="M312.4 317.8L312.4 310.5A7.3 7.3 0 0 1 318.72 321.45Z" fill="#58c258"/><path d="M312.4 317.8L318.72 321.45A7.3 7.3 0 0 1 306.08 321.45Z" fill="#e25858"/><circle cx="312.4" cy="317.8" r="7.3" fill="url(#shv)"/><circle cx="312.4" cy="317.8" r="7.3" fill="url(#shr)" stroke="url(#rim)" stroke-width="0.7"/><path d="M350 324.4L350 331.7A7.3 7.3 0 0 1 350 317.1Z" fill="#4c4ce8"/><path d="M350 324.4L350 317.1A7.3 7.3 0 0 1 350 331.7Z" fill="#e25858"/><circle cx="350" cy="324.4" r="7.3" fill="url(#shv)"/><circle cx="350" cy="324.4" r="7.3" fill="url(#shr)" stroke="url(#rim)" stroke-width="0.7"/><circle cx="393.8" cy="300.6" r="7.3" fill="url(#gry)"/><circle cx="393.8" cy="300.6" r="7.3" fill="url(#shr)" stroke="url(#rim)" stroke-width="0.7"/><circle cx="447.5" cy="281.8" r="7.3" fill="url(#gry)"/><circle cx="447.5" cy="281.8" r="7.3" fill="url(#shr)" stroke="url(#rim)" stroke-width="0.7"/><circle cx="493.9" cy="293.7" r="7.3" fill="url(#gry)"/><circle cx="493.9" cy="293.7" r="7.3" fill="url(#shr)" stroke="url(#rim)" stroke-width="0.7"/><circle cx="526" cy="286.9" r="7.3" fill="url(#gry)"/><circle cx="526" cy="286.9" r="7.3" fill="url(#shr)" stroke="url(#rim)" stroke-width="0.7"/><circle cx="535" cy="321" r="7.3" fill="url(#gry)"/><circle cx="535" cy="321" r="7.3" fill="url(#shr)" stroke="url(#rim)" stroke-width="0.7"/><circle cx="564.6" cy="323.8" r="7.3" fill="url(#gry)"/><circle cx="564.6" cy="323.8" r="7.3" fill="url(#shr)" stroke="url(#rim)" stroke-width="0.7"/><path d="M444.1 321.8L444.1 329.1A7.3 7.3 0 0 1 444.1 314.5Z" fill="#d24ad2"/><path d="M444.1 321.8L444.1 314.5A7.3 7.3 0 0 1 444.1 329.1Z" fill="#e2e24e"/><circle cx="444.1" cy="321.8" r="7.3" fill="url(#shv)"/><circle cx="444.1" cy="321.8" r="7.3" fill="url(#shr)" stroke="url(#rim)" stroke-width="0.7"/><circle cx="465.4" cy="327.7" r="7.3" fill="url(#gry)"/><circle cx="465.4" cy="327.7" r="7.3" fill="url(#shr)" stroke="url(#rim)" stroke-width="0.7"/><circle cx="456.4" cy="340.1" r="7.3" fill="url(#gry)"/><circle cx="456.4" cy="340.1" r="7.3" fill="url(#shr)" stroke="url(#rim)" stroke-width="0.7"/><circle cx="384.3" cy="332.3" r="7.3" fill="url(#gry)"/><circle cx="384.3" cy="332.3" r="7.3" fill="url(#shr)" stroke="url(#rim)" stroke-width="0.7"/><path d="M374 345.9L374 353.2A7.3 7.3 0 0 1 374 338.6Z" fill="#4c4ce8"/><path d="M374 345.9L374 338.6A7.3 7.3 0 0 1 374 353.2Z" fill="#e25858"/><circle cx="374" cy="345.9" r="7.3" fill="url(#shv)"/><circle cx="374" cy="345.9" r="7.3" fill="url(#shr)" stroke="url(#rim)" stroke-width="0.7"/><circle cx="376" cy="357.4" r="7.3" fill="url(#gry)"/><circle cx="376" cy="357.4" r="7.3" fill="url(#shr)" stroke="url(#rim)" stroke-width="0.7"/><path d="M426.4 348.1L426.4 355.4A7.3 7.3 0 0 1 426.4 340.8Z" fill="#4c4ce8"/><path d="M426.4 348.1L426.4 340.8A7.3 7.3 0 0 1 426.4 355.4Z" fill="#e25858"/><circle cx="426.4" cy="348.1" r="7.3" fill="url(#shv)"/><circle cx="426.4" cy="348.1" r="7.3" fill="url(#shr)" stroke="url(#rim)" stroke-width="0.7"/><circle cx="241.5" cy="348.7" r="7.3" fill="url(#gry)"/><circle cx="241.5" cy="348.7" r="7.3" fill="url(#shr)" stroke="url(#rim)" stroke-width="0.7"/><circle cx="288.7" cy="355.5" r="7.3" fill="url(#gry)"/><circle cx="288.7" cy="355.5" r="7.3" fill="url(#shr)" stroke="url(#rim)" stroke-width="0.7"/><circle cx="244.2" cy="381.8" r="7.3" fill="url(#gry)"/><circle cx="244.2" cy="381.8" r="7.3" fill="url(#shr)" stroke="url(#rim)" stroke-width="0.7"/><circle cx="196" cy="388" r="7.3" fill="url(#gry)"/><circle cx="196" cy="388" r="7.3" fill="url(#shr)" stroke="url(#rim)" stroke-width="0.7"/><circle cx="148.3" cy="411.7" r="7.3" fill="url(#gry)"/><circle cx="148.3" cy="411.7" r="7.3" fill="url(#shr)" stroke="url(#rim)" stroke-width="0.7"/><path d="M295.7 386.3L295.7 393.6A7.3 7.3 0 0 1 295.7 379Z" fill="#4c4ce8"/><path d="M295.7 386.3L295.7 379A7.3 7.3 0 0 1 295.7 393.6Z" fill="#e25858"/><circle cx="295.7" cy="386.3" r="7.3" fill="url(#shv)"/><circle cx="295.7" cy="386.3" r="7.3" fill="url(#shr)" stroke="url(#rim)" stroke-width="0.7"/><circle cx="310.4" cy="377.2" r="7.3" fill="url(#gry)"/><circle cx="310.4" cy="377.2" r="7.3" fill="url(#shr)" stroke="url(#rim)" stroke-width="0.7"/><circle cx="358.8" cy="383.5" r="7.3" fill="url(#gry)"/><circle cx="358.8" cy="383.5" r="7.3" fill="url(#shr)" stroke="url(#rim)" stroke-width="0.7"/><path d="M383 381.5L383 388.8A7.3 7.3 0 0 1 383 374.2Z" fill="#4c4ce8"/><path d="M383 381.5L383 374.2A7.3 7.3 0 0 1 383 388.8Z" fill="#e25858"/><circle cx="383" cy="381.5" r="7.3" fill="url(#shv)"/><circle cx="383" cy="381.5" r="7.3" fill="url(#shr)" stroke="url(#rim)" stroke-width="0.7"/><circle cx="394.9" cy="391.8" r="7.3" fill="url(#gry)"/><circle cx="394.9" cy="391.8" r="7.3" fill="url(#shr)" stroke="url(#rim)" stroke-width="0.7"/><circle cx="411.6" cy="390.7" r="7.3" fill="url(#gry)"/><circle cx="411.6" cy="390.7" r="7.3" fill="url(#shr)" stroke="url(#rim)" stroke-width="0.7"/><circle cx="447.4" cy="384.9" r="7.3" fill="url(#gry)"/><circle cx="447.4" cy="384.9" r="7.3" fill="url(#shr)" stroke="url(#rim)" stroke-width="0.7"/><circle cx="475.9" cy="369.5" r="7.3" fill="url(#gry)"/><circle cx="475.9" cy="369.5" r="7.3" fill="url(#shr)" stroke="url(#rim)" stroke-width="0.7"/><circle cx="477" cy="385.7" r="7.3" fill="url(#gry)"/><circle cx="477" cy="385.7" r="7.3" fill="url(#shr)" stroke="url(#rim)" stroke-width="0.7"/><circle cx="507.1" cy="362" r="7.3" fill="url(#gry)"/><circle cx="507.1" cy="362" r="7.3" fill="url(#shr)" stroke="url(#rim)" stroke-width="0.7"/><circle cx="552.3" cy="355.6" r="7.3" fill="url(#gry)"/><circle cx="552.3" cy="355.6" r="7.3" fill="url(#shr)" stroke="url(#rim)" stroke-width="0.7"/><circle cx="570" cy="362" r="7.3" fill="url(#gry)"/><circle cx="570" cy="362" r="7.3" fill="url(#shr)" stroke="url(#rim)" stroke-width="0.7"/><circle cx="555.4" cy="389.2" r="7.3" fill="url(#gry)"/><circle cx="555.4" cy="389.2" r="7.3" fill="url(#shr)" stroke="url(#rim)" stroke-width="0.7"/><circle cx="588.4" cy="392" r="7.3" fill="url(#gry)"/><circle cx="588.4" cy="392" r="7.3" fill="url(#shr)" stroke="url(#rim)" stroke-width="0.7"/><circle cx="521.7" cy="395" r="7.3" fill="url(#gry)"/><circle cx="521.7" cy="395" r="7.3" fill="url(#shr)" stroke="url(#rim)" stroke-width="0.7"/><circle cx="483" cy="407" r="7.3" fill="url(#gry)"/><circle cx="483" cy="407" r="7.3" fill="url(#shr)" stroke="url(#rim)" stroke-width="0.7"/><circle cx="492.4" cy="406.3" r="7.3" fill="url(#gry)"/><circle cx="492.4" cy="406.3" r="7.3" fill="url(#shr)" stroke="url(#rim)" stroke-width="0.7"/><path d="M547.4 409.8L541.08 413.45A7.3 7.3 0 0 1 547.4 402.5Z" fill="#4c4ce8"/><path d="M547.4 409.8L547.4 402.5A7.3 7.3 0 0 1 553.72 413.45Z" fill="#e2e24e"/><path d="M547.4 409.8L553.72 413.45A7.3 7.3 0 0 1 541.08 413.45Z" fill="#e25858"/><circle cx="547.4" cy="409.8" r="7.3" fill="url(#shv)"/><circle cx="547.4" cy="409.8" r="7.3" fill="url(#shr)" stroke="url(#rim)" stroke-width="0.7"/><circle cx="510.7" cy="422.7" r="7.3" fill="#e2e24e"/><circle cx="510.7" cy="422.7" r="7.3" fill="url(#shv)"/><circle cx="510.7" cy="422.7" r="7.3" fill="url(#shr)" stroke="url(#rim)" stroke-width="0.7"/><circle cx="490.2" cy="424.9" r="7.3" fill="url(#gry)"/><circle cx="490.2" cy="424.9" r="7.3" fill="url(#shr)" stroke="url(#rim)" stroke-width="0.7"/><circle cx="564.3" cy="421" r="7.3" fill="url(#gry)"/><circle cx="564.3" cy="421" r="7.3" fill="url(#shr)" stroke="url(#rim)" stroke-width="0.7"/><circle cx="602" cy="444.7" r="7.3" fill="url(#gry)"/><circle cx="602" cy="444.7" r="7.3" fill="url(#shr)" stroke="url(#rim)" stroke-width="0.7"/><circle cx="308.4" cy="404.3" r="7.3" fill="url(#gry)"/><circle cx="308.4" cy="404.3" r="7.3" fill="url(#shr)" stroke="url(#rim)" stroke-width="0.7"/><circle cx="343.6" cy="405.6" r="7.3" fill="url(#gry)"/><circle cx="343.6" cy="405.6" r="7.3" fill="url(#shr)" stroke="url(#rim)" stroke-width="0.7"/><path d="M332.1 416.3L332.1 423.6A7.3 7.3 0 0 1 332.1 409Z" fill="#4c4ce8"/><path d="M332.1 416.3L332.1 409A7.3 7.3 0 0 1 332.1 423.6Z" fill="#58c258"/><circle cx="332.1" cy="416.3" r="7.3" fill="url(#shv)"/><circle cx="332.1" cy="416.3" r="7.3" fill="url(#shr)" stroke="url(#rim)" stroke-width="0.7"/><circle cx="244.6" cy="416.6" r="7.3" fill="url(#gry)"/><circle cx="244.6" cy="416.6" r="7.3" fill="url(#shr)" stroke="url(#rim)" stroke-width="0.7"/><circle cx="269.2" cy="412.6" r="7.3" fill="url(#gry)"/><circle cx="269.2" cy="412.6" r="7.3" fill="url(#shr)" stroke="url(#rim)" stroke-width="0.7"/><circle cx="403.2" cy="421" r="7.3" fill="url(#gry)"/><circle cx="403.2" cy="421" r="7.3" fill="url(#shr)" stroke="url(#rim)" stroke-width="0.7"/><path d="M449.6 418.3L449.6 425.6A7.3 7.3 0 0 1 449.6 411Z" fill="#4c4ce8"/><path d="M449.6 418.3L449.6 411A7.3 7.3 0 0 1 449.6 425.6Z" fill="#e25858"/><circle cx="449.6" cy="418.3" r="7.3" fill="url(#shv)"/><circle cx="449.6" cy="418.3" r="7.3" fill="url(#shr)" stroke="url(#rim)" stroke-width="0.7"/><circle cx="414.5" cy="435.2" r="7.3" fill="url(#gry)"/><circle cx="414.5" cy="435.2" r="7.3" fill="url(#shr)" stroke="url(#rim)" stroke-width="0.7"/><path d="M359.6 443.5L352.3 443.5A7.3 7.3 0 0 1 359.6 436.2Z" fill="#4c4ce8"/><path d="M359.6 443.5L359.6 436.2A7.3 7.3 0 0 1 366.9 443.5Z" fill="#d24ad2"/><path d="M359.6 443.5L359.6 450.8A7.3 7.3 0 0 1 352.3 443.5Z" fill="#e25858"/><path d="M359.6 443.5L366.9 443.5A7.3 7.3 0 0 1 359.6 450.8Z" fill="#58c258"/><circle cx="359.6" cy="443.5" r="7.3" fill="url(#shv)"/><circle cx="359.6" cy="443.5" r="7.3" fill="url(#shr)" stroke="url(#rim)" stroke-width="0.7"/><path d="M427 446.5L427 453.8A7.3 7.3 0 0 1 427 439.2Z" fill="#4c4ce8"/><path d="M427 446.5L427 439.2A7.3 7.3 0 0 1 427 453.8Z" fill="#58c258"/><circle cx="427" cy="446.5" r="7.3" fill="url(#shv)"/><circle cx="427" cy="446.5" r="7.3" fill="url(#shr)" stroke="url(#rim)" stroke-width="0.7"/><circle cx="439.2" cy="445.5" r="7.3" fill="url(#gry)"/><circle cx="439.2" cy="445.5" r="7.3" fill="url(#shr)" stroke="url(#rim)" stroke-width="0.7"/><circle cx="295.7" cy="438.8" r="7.3" fill="url(#gry)"/><circle cx="295.7" cy="438.8" r="7.3" fill="url(#shr)" stroke="url(#rim)" stroke-width="0.7"/><circle cx="164.4" cy="441.5" r="7.3" fill="url(#gry)"/><circle cx="164.4" cy="441.5" r="7.3" fill="url(#shr)" stroke="url(#rim)" stroke-width="0.7"/><circle cx="192.5" cy="440.4" r="7.3" fill="url(#gry)"/><circle cx="192.5" cy="440.4" r="7.3" fill="url(#shr)" stroke="url(#rim)" stroke-width="0.7"/><path d="M216.6 447.5L216.6 454.8A7.3 7.3 0 0 1 216.6 440.2Z" fill="#4c4ce8"/><path d="M216.6 447.5L216.6 440.2A7.3 7.3 0 0 1 216.6 454.8Z" fill="#e25858"/><circle cx="216.6" cy="447.5" r="7.3" fill="url(#shv)"/><circle cx="216.6" cy="447.5" r="7.3" fill="url(#shr)" stroke="url(#rim)" stroke-width="0.7"/><path d="M266.2 454.2L266.2 461.5A7.3 7.3 0 0 1 266.2 446.9Z" fill="#4c4ce8"/><path d="M266.2 454.2L266.2 446.9A7.3 7.3 0 0 1 266.2 461.5Z" fill="#e25858"/><circle cx="266.2" cy="454.2" r="7.3" fill="url(#shv)"/><circle cx="266.2" cy="454.2" r="7.3" fill="url(#shr)" stroke="url(#rim)" stroke-width="0.7"/><path d="M291 458.2L291 465.5A7.3 7.3 0 0 1 291 450.9Z" fill="#4c4ce8"/><path d="M291 458.2L291 450.9A7.3 7.3 0 0 1 291 465.5Z" fill="#e25858"/><circle cx="291" cy="458.2" r="7.3" fill="url(#shv)"/><circle cx="291" cy="458.2" r="7.3" fill="url(#shr)" stroke="url(#rim)" stroke-width="0.7"/><path d="M325.7 455.8L325.7 463.1A7.3 7.3 0 0 1 325.7 448.5Z" fill="#4c4ce8"/><path d="M325.7 455.8L325.7 448.5A7.3 7.3 0 0 1 325.7 463.1Z" fill="#e25858"/><circle cx="325.7" cy="455.8" r="7.3" fill="url(#shv)"/><circle cx="325.7" cy="455.8" r="7.3" fill="url(#shr)" stroke="url(#rim)" stroke-width="0.7"/><circle cx="354.6" cy="469.4" r="7.3" fill="url(#gry)"/><circle cx="354.6" cy="469.4" r="7.3" fill="url(#shr)" stroke="url(#rim)" stroke-width="0.7"/><circle cx="475.8" cy="452.5" r="7.3" fill="url(#gry)"/><circle cx="475.8" cy="452.5" r="7.3" fill="url(#shr)" stroke="url(#rim)" stroke-width="0.7"/><circle cx="466.2" cy="460" r="7.3" fill="url(#gry)"/><circle cx="466.2" cy="460" r="7.3" fill="url(#shr)" stroke="url(#rim)" stroke-width="0.7"/><circle cx="513.2" cy="462.9" r="7.3" fill="url(#gry)"/><circle cx="513.2" cy="462.9" r="7.3" fill="url(#shr)" stroke="url(#rim)" stroke-width="0.7"/><circle cx="565.7" cy="467.8" r="7.3" fill="url(#gry)"/><circle cx="565.7" cy="467.8" r="7.3" fill="url(#shr)" stroke="url(#rim)" stroke-width="0.7"/><path d="M204.3 466L204.3 473.3A7.3 7.3 0 0 1 204.3 458.7Z" fill="#4c4ce8"/><path d="M204.3 466L204.3 458.7A7.3 7.3 0 0 1 204.3 473.3Z" fill="#e25858"/><circle cx="204.3" cy="466" r="7.3" fill="url(#shv)"/><circle cx="204.3" cy="466" r="7.3" fill="url(#shr)" stroke="url(#rim)" stroke-width="0.7"/><path d="M275.1 476.8L275.1 484.1A7.3 7.3 0 0 1 275.1 469.5Z" fill="#4c4ce8"/><path d="M275.1 476.8L275.1 469.5A7.3 7.3 0 0 1 275.1 484.1Z" fill="#e25858"/><circle cx="275.1" cy="476.8" r="7.3" fill="url(#shv)"/><circle cx="275.1" cy="476.8" r="7.3" fill="url(#shr)" stroke="url(#rim)" stroke-width="0.7"/><circle cx="307.3" cy="483.5" r="7.3" fill="url(#gry)"/><circle cx="307.3" cy="483.5" r="7.3" fill="url(#shr)" stroke="url(#rim)" stroke-width="0.7"/><path d="M326.5 496.5L326.5 503.8A7.3 7.3 0 0 1 326.5 489.2Z" fill="#4c4ce8"/><path d="M326.5 496.5L326.5 489.2A7.3 7.3 0 0 1 326.5 503.8Z" fill="#e25858"/><circle cx="326.5" cy="496.5" r="7.3" fill="url(#shv)"/><circle cx="326.5" cy="496.5" r="7.3" fill="url(#shr)" stroke="url(#rim)" stroke-width="0.7"/><circle cx="139.5" cy="496.6" r="7.3" fill="url(#gry)"/><circle cx="139.5" cy="496.6" r="7.3" fill="url(#shr)" stroke="url(#rim)" stroke-width="0.7"/><path d="M204.3 494.6L204.3 501.9A7.3 7.3 0 0 1 204.3 487.3Z" fill="#4c4ce8"/><path d="M204.3 494.6L204.3 487.3A7.3 7.3 0 0 1 204.3 501.9Z" fill="#e25858"/><circle cx="204.3" cy="494.6" r="7.3" fill="url(#shv)"/><circle cx="204.3" cy="494.6" r="7.3" fill="url(#shr)" stroke="url(#rim)" stroke-width="0.7"/><path d="M230.2 496L230.2 503.3A7.3 7.3 0 0 1 230.2 488.7Z" fill="#4c4ce8"/><path d="M230.2 496L230.2 488.7A7.3 7.3 0 0 1 230.2 503.3Z" fill="#e25858"/><circle cx="230.2" cy="496" r="7.3" fill="url(#shv)"/><circle cx="230.2" cy="496" r="7.3" fill="url(#shr)" stroke="url(#rim)" stroke-width="0.7"/><circle cx="249.8" cy="496.5" r="7.3" fill="url(#gry)"/><circle cx="249.8" cy="496.5" r="7.3" fill="url(#shr)" stroke="url(#rim)" stroke-width="0.7"/><path d="M275.9 505.9L269.58 509.55A7.3 7.3 0 0 1 275.9 498.6Z" fill="#4c4ce8"/><path d="M275.9 505.9L275.9 498.6A7.3 7.3 0 0 1 282.22 509.55Z" fill="#d24ad2"/><path d="M275.9 505.9L282.22 509.55A7.3 7.3 0 0 1 269.58 509.55Z" fill="#58c258"/><circle cx="275.9" cy="505.9" r="7.3" fill="url(#shv)"/><circle cx="275.9" cy="505.9" r="7.3" fill="url(#shr)" stroke="url(#rim)" stroke-width="0.7"/><path d="M294.4 511.5L294.4 518.8A7.3 7.3 0 0 1 294.4 504.2Z" fill="#4c4ce8"/><path d="M294.4 511.5L294.4 504.2A7.3 7.3 0 0 1 294.4 518.8Z" fill="#e25858"/><circle cx="294.4" cy="511.5" r="7.3" fill="url(#shv)"/><circle cx="294.4" cy="511.5" r="7.3" fill="url(#shr)" stroke="url(#rim)" stroke-width="0.7"/><circle cx="320.9" cy="516.8" r="7.3" fill="url(#gry)"/><circle cx="320.9" cy="516.8" r="7.3" fill="url(#shr)" stroke="url(#rim)" stroke-width="0.7"/><circle cx="352.9" cy="512" r="7.3" fill="url(#gry)"/><circle cx="352.9" cy="512" r="7.3" fill="url(#shr)" stroke="url(#rim)" stroke-width="0.7"/><circle cx="334.7" cy="529.9" r="7.3" fill="url(#gry)"/><circle cx="334.7" cy="529.9" r="7.3" fill="url(#shr)" stroke="url(#rim)" stroke-width="0.7"/><path d="M188.7 524.7L188.7 532A7.3 7.3 0 0 1 188.7 517.4Z" fill="#4c4ce8"/><path d="M188.7 524.7L188.7 517.4A7.3 7.3 0 0 1 188.7 532Z" fill="#e25858"/><circle cx="188.7" cy="524.7" r="7.3" fill="url(#shv)"/><circle cx="188.7" cy="524.7" r="7.3" fill="url(#shr)" stroke="url(#rim)" stroke-width="0.7"/><path d="M221.5 532.9L221.5 540.2A7.3 7.3 0 0 1 221.5 525.6Z" fill="#4c4ce8"/><path d="M221.5 532.9L221.5 525.6A7.3 7.3 0 0 1 221.5 540.2Z" fill="#e25858"/><circle cx="221.5" cy="532.9" r="7.3" fill="url(#shv)"/><circle cx="221.5" cy="532.9" r="7.3" fill="url(#shr)" stroke="url(#rim)" stroke-width="0.7"/><path d="M249.8 537L249.8 544.3A7.3 7.3 0 0 1 249.8 529.7Z" fill="#4c4ce8"/><path d="M249.8 537L249.8 529.7A7.3 7.3 0 0 1 249.8 544.3Z" fill="#e25858"/><circle cx="249.8" cy="537" r="7.3" fill="url(#shv)"/><circle cx="249.8" cy="537" r="7.3" fill="url(#shr)" stroke="url(#rim)" stroke-width="0.7"/><path d="M297.8 543L297.8 550.3A7.3 7.3 0 0 1 297.8 535.7Z" fill="#4c4ce8"/><path d="M297.8 543L297.8 535.7A7.3 7.3 0 0 1 297.8 550.3Z" fill="#58c258"/><circle cx="297.8" cy="543" r="7.3" fill="url(#shv)"/><circle cx="297.8" cy="543" r="7.3" fill="url(#shr)" stroke="url(#rim)" stroke-width="0.7"/><path d="M324.4 556.7L324.4 564A7.3 7.3 0 0 1 324.4 549.4Z" fill="#4c4ce8"/><path d="M324.4 556.7L324.4 549.4A7.3 7.3 0 0 1 324.4 564Z" fill="#58c258"/><circle cx="324.4" cy="556.7" r="7.3" fill="url(#shv)"/><circle cx="324.4" cy="556.7" r="7.3" fill="url(#shr)" stroke="url(#rim)" stroke-width="0.7"/><path d="M345.8 556.7L339.48 560.35A7.3 7.3 0 0 1 345.8 549.4Z" fill="#4c4ce8"/><path d="M345.8 556.7L345.8 549.4A7.3 7.3 0 0 1 352.12 560.35Z" fill="#d24ad2"/><path d="M345.8 556.7L352.12 560.35A7.3 7.3 0 0 1 339.48 560.35Z" fill="#58c258"/><circle cx="345.8" cy="556.7" r="7.3" fill="url(#shv)"/><circle cx="345.8" cy="556.7" r="7.3" fill="url(#shr)" stroke="url(#rim)" stroke-width="0.7"/><circle cx="394.3" cy="546.6" r="7.3" fill="url(#gry)"/><circle cx="394.3" cy="546.6" r="7.3" fill="url(#shr)" stroke="url(#rim)" stroke-width="0.7"/><circle cx="370.2" cy="563" r="7.3" fill="url(#gry)"/><circle cx="370.2" cy="563" r="7.3" fill="url(#shr)" stroke="url(#rim)" stroke-width="0.7"/><circle cx="216.6" cy="561.6" r="7.3" fill="url(#gry)"/><circle cx="216.6" cy="561.6" r="7.3" fill="url(#shr)" stroke="url(#rim)" stroke-width="0.7"/><circle cx="273.9" cy="562.8" r="7.3" fill="url(#gry)"/><circle cx="273.9" cy="562.8" r="7.3" fill="url(#shr)" stroke="url(#rim)" stroke-width="0.7"/><path d="M180.2 571.1L180.2 578.4A7.3 7.3 0 0 1 180.2 563.8Z" fill="#4c4ce8"/><path d="M180.2 571.1L180.2 563.8A7.3 7.3 0 0 1 180.2 578.4Z" fill="#58c258"/><circle cx="180.2" cy="571.1" r="7.3" fill="url(#shv)"/><circle cx="180.2" cy="571.1" r="7.3" fill="url(#shr)" stroke="url(#rim)" stroke-width="0.7"/><circle cx="255.6" cy="576" r="7.3" fill="url(#gry)"/><circle cx="255.6" cy="576" r="7.3" fill="url(#shr)" stroke="url(#rim)" stroke-width="0.7"/><circle cx="262.4" cy="594" r="7.3" fill="url(#gry)"/><circle cx="262.4" cy="594" r="7.3" fill="url(#shr)" stroke="url(#rim)" stroke-width="0.7"/><circle cx="283.8" cy="598.8" r="7.3" fill="url(#gry)"/><circle cx="283.8" cy="598.8" r="7.3" fill="url(#shr)" stroke="url(#rim)" stroke-width="0.7"/><path d="M173.7 610.8L173.7 618.1A7.3 7.3 0 0 1 173.7 603.5Z" fill="#4c4ce8"/><path d="M173.7 610.8L173.7 603.5A7.3 7.3 0 0 1 173.7 618.1Z" fill="#58c258"/><circle cx="173.7" cy="610.8" r="7.3" fill="url(#shv)"/><circle cx="173.7" cy="610.8" r="7.3" fill="url(#shr)" stroke="url(#rim)" stroke-width="0.7"/><path d="M240.3 605.7L240.3 613A7.3 7.3 0 0 1 240.3 598.4Z" fill="#4c4ce8"/><path d="M240.3 605.7L240.3 598.4A7.3 7.3 0 0 1 240.3 613Z" fill="#e25858"/><circle cx="240.3" cy="605.7" r="7.3" fill="url(#shv)"/><circle cx="240.3" cy="605.7" r="7.3" fill="url(#shr)" stroke="url(#rim)" stroke-width="0.7"/><circle cx="219.8" cy="627.5" r="7.3" fill="url(#gry)"/><circle cx="219.8" cy="627.5" r="7.3" fill="url(#shr)" stroke="url(#rim)" stroke-width="0.7"/><path d="M132.7 632.1L126.38 635.75A7.3 7.3 0 0 1 132.7 624.8Z" fill="#4c4ce8"/><path d="M132.7 632.1L132.7 624.8A7.3 7.3 0 0 1 139.02 635.75Z" fill="#d24ad2"/><path d="M132.7 632.1L139.02 635.75A7.3 7.3 0 0 1 126.38 635.75Z" fill="#58c258"/><circle cx="132.7" cy="632.1" r="7.3" fill="url(#shv)"/><circle cx="132.7" cy="632.1" r="7.3" fill="url(#shr)" stroke="url(#rim)" stroke-width="0.7"/><circle cx="273.1" cy="634.1" r="7.3" fill="#d24ad2"/><circle cx="273.1" cy="634.1" r="7.3" fill="url(#shv)"/><circle cx="273.1" cy="634.1" r="7.3" fill="url(#shr)" stroke="url(#rim)" stroke-width="0.7"/><circle cx="269.8" cy="647.8" r="7.3" fill="#4c4ce8"/><circle cx="269.8" cy="647.8" r="7.3" fill="url(#shv)"/><circle cx="269.8" cy="647.8" r="7.3" fill="url(#shr)" stroke="url(#rim)" stroke-width="0.7"/><circle cx="302.1" cy="657.4" r="7.3" fill="#d24ad2"/><circle cx="302.1" cy="657.4" r="7.3" fill="url(#shv)"/><circle cx="302.1" cy="657.4" r="7.3" fill="url(#shr)" stroke="url(#rim)" stroke-width="0.7"/><circle cx="310.5" cy="622.4" r="7.3" fill="url(#gry)"/><circle cx="310.5" cy="622.4" r="7.3" fill="url(#shr)" stroke="url(#rim)" stroke-width="0.7"/><circle cx="333.2" cy="617" r="7.3" fill="#d24ad2"/><circle cx="333.2" cy="617" r="7.3" fill="url(#shv)"/><circle cx="333.2" cy="617" r="7.3" fill="url(#shr)" stroke="url(#rim)" stroke-width="0.7"/><circle cx="335.3" cy="641.4" r="7.3" fill="#4c4ce8"/><circle cx="335.3" cy="641.4" r="7.3" fill="url(#shv)"/><circle cx="335.3" cy="641.4" r="7.3" fill="url(#shr)" stroke="url(#rim)" stroke-width="0.7"/><circle cx="343.2" cy="590.2" r="7.3" fill="url(#gry)"/><circle cx="343.2" cy="590.2" r="7.3" fill="url(#shr)" stroke="url(#rim)" stroke-width="0.7"/><circle cx="367.8" cy="589.5" r="7.3" fill="#d24ad2"/><circle cx="367.8" cy="589.5" r="7.3" fill="url(#shv)"/><circle cx="367.8" cy="589.5" r="7.3" fill="url(#shr)" stroke="url(#rim)" stroke-width="0.7"/><circle cx="412.8" cy="573" r="7.3" fill="url(#gry)"/><circle cx="412.8" cy="573" r="7.3" fill="url(#shr)" stroke="url(#rim)" stroke-width="0.7"/><circle cx="438" cy="573" r="7.3" fill="#e2e24e"/><circle cx="438" cy="573" r="7.3" fill="url(#shv)"/><circle cx="438" cy="573" r="7.3" fill="url(#shr)" stroke="url(#rim)" stroke-width="0.7"/><circle cx="399.7" cy="595.7" r="7.3" fill="url(#gry)"/><circle cx="399.7" cy="595.7" r="7.3" fill="url(#shr)" stroke="url(#rim)" stroke-width="0.7"/><circle cx="426" cy="600" r="7.3" fill="url(#gry)"/><circle cx="426" cy="600" r="7.3" fill="url(#shr)" stroke="url(#rim)" stroke-width="0.7"/><circle cx="382.4" cy="610.6" r="7.3" fill="url(#gry)"/><circle cx="382.4" cy="610.6" r="7.3" fill="url(#shr)" stroke="url(#rim)" stroke-width="0.7"/><circle cx="401.6" cy="609.8" r="7.3" fill="url(#gry)"/><circle cx="401.6" cy="609.8" r="7.3" fill="url(#shr)" stroke="url(#rim)" stroke-width="0.7"/><path d="M465.1 606.8L465.1 614.1A7.3 7.3 0 0 1 465.1 599.5Z" fill="#4c4ce8"/><path d="M465.1 606.8L465.1 599.5A7.3 7.3 0 0 1 465.1 614.1Z" fill="#e25858"/><circle cx="465.1" cy="606.8" r="7.3" fill="url(#shv)"/><circle cx="465.1" cy="606.8" r="7.3" fill="url(#shr)" stroke="url(#rim)" stroke-width="0.7"/><circle cx="499.3" cy="629.1" r="7.3" fill="url(#gry)"/><circle cx="499.3" cy="629.1" r="7.3" fill="url(#shr)" stroke="url(#rim)" stroke-width="0.7"/><circle cx="551.5" cy="621.4" r="7.3" fill="url(#gry)"/><circle cx="551.5" cy="621.4" r="7.3" fill="url(#shr)" stroke="url(#rim)" stroke-width="0.7"/><circle cx="476.5" cy="659.5" r="7.3" fill="url(#gry)"/><circle cx="476.5" cy="659.5" r="7.3" fill="url(#shr)" stroke="url(#rim)" stroke-width="0.7"/><circle cx="460.4" cy="672.5" r="7.3" fill="url(#gry)"/><circle cx="460.4" cy="672.5" r="7.3" fill="url(#shr)" stroke="url(#rim)" stroke-width="0.7"/><circle cx="432.6" cy="686.9" r="7.3" fill="url(#gry)"/><circle cx="432.6" cy="686.9" r="7.3" fill="url(#shr)" stroke="url(#rim)" stroke-width="0.7"/><circle cx="380.2" cy="652.7" r="7.3" fill="url(#gry)"/><circle cx="380.2" cy="652.7" r="7.3" fill="url(#shr)" stroke="url(#rim)" stroke-width="0.7"/><circle cx="352.3" cy="675.7" r="7.3" fill="url(#gry)"/><circle cx="352.3" cy="675.7" r="7.3" fill="url(#shr)" stroke="url(#rim)" stroke-width="0.7"/><circle cx="395.2" cy="691.5" r="7.3" fill="url(#gry)"/><circle cx="395.2" cy="691.5" r="7.3" fill="url(#shr)" stroke="url(#rim)" stroke-width="0.7"/><circle cx="372.5" cy="701.9" r="7.3" fill="url(#gry)"/><circle cx="372.5" cy="701.9" r="7.3" fill="url(#shr)" stroke="url(#rim)" stroke-width="0.7"/><circle cx="344.1" cy="728.4" r="7.3" fill="url(#gry)"/><circle cx="344.1" cy="728.4" r="7.3" fill="url(#shr)" stroke="url(#rim)" stroke-width="0.7"/><circle cx="295.4" cy="729.8" r="7.3" fill="url(#gry)"/><circle cx="295.4" cy="729.8" r="7.3" fill="url(#shr)" stroke="url(#rim)" stroke-width="0.7"/><circle cx="420.6" cy="739.9" r="7.3" fill="url(#gry)"/><circle cx="420.6" cy="739.9" r="7.3" fill="url(#shr)" stroke="url(#rim)" stroke-width="0.7"/><circle cx="327.7" cy="784.4" r="7.3" fill="url(#gry)"/><circle cx="327.7" cy="784.4" r="7.3" fill="url(#shr)" stroke="url(#rim)" stroke-width="0.7"/><circle cx="379.6" cy="783" r="7.3" fill="url(#gry)"/><circle cx="379.6" cy="783" r="7.3" fill="url(#shr)" stroke="url(#rim)" stroke-width="0.7"/><circle cx="551" cy="581.2" r="7.3" fill="url(#gry)"/><circle cx="551" cy="581.2" r="7.3" fill="url(#shr)" stroke="url(#rim)" stroke-width="0.7"/><path d="M591.6 526.6L591.6 533.9A7.3 7.3 0 0 1 591.6 519.3Z" fill="#4c4ce8"/><path d="M591.6 526.6L591.6 519.3A7.3 7.3 0 0 1 591.6 533.9Z" fill="#e25858"/><circle cx="591.6" cy="526.6" r="7.3" fill="url(#shv)"/><circle cx="591.6" cy="526.6" r="7.3" fill="url(#shr)" stroke="url(#rim)" stroke-width="0.7"/><circle cx="638.4" cy="528.7" r="7.3" fill="url(#gry)"/><circle cx="638.4" cy="528.7" r="7.3" fill="url(#shr)" stroke="url(#rim)" stroke-width="0.7"/><circle cx="545.5" cy="528.5" r="7.3" fill="url(#gry)"/><circle cx="545.5" cy="528.5" r="7.3" fill="url(#shr)" stroke="url(#rim)" stroke-width="0.7"/><circle cx="550.1" cy="496.5" r="7.3" fill="url(#gry)"/><circle cx="550.1" cy="496.5" r="7.3" fill="url(#shr)" stroke="url(#rim)" stroke-width="0.7"/><circle cx="587" cy="488.3" r="7.3" fill="url(#gry)"/><circle cx="587" cy="488.3" r="7.3" fill="url(#shr)" stroke="url(#rim)" stroke-width="0.7"/><circle cx="493.3" cy="488.9" r="7.3" fill="url(#gry)"/><circle cx="493.3" cy="488.9" r="7.3" fill="url(#shr)" stroke="url(#rim)" stroke-width="0.7"/><circle cx="516" cy="482.8" r="7.3" fill="url(#gry)"/><circle cx="516" cy="482.8" r="7.3" fill="url(#shr)" stroke="url(#rim)" stroke-width="0.7"/><circle cx="526.3" cy="484.8" r="7.3" fill="url(#gry)"/><circle cx="526.3" cy="484.8" r="7.3" fill="url(#shr)" stroke="url(#rim)" stroke-width="0.7"/><circle cx="483.7" cy="520.7" r="7.3" fill="url(#gry)"/><circle cx="483.7" cy="520.7" r="7.3" fill="url(#shr)" stroke="url(#rim)" stroke-width="0.7"/><circle cx="451.1" cy="528.6" r="7.3" fill="url(#gry)"/><circle cx="451.1" cy="528.6" r="7.3" fill="url(#shr)" stroke="url(#rim)" stroke-width="0.7"/><circle cx="452.4" cy="508.2" r="7.3" fill="#e2e24e"/><circle cx="452.4" cy="508.2" r="7.3" fill="url(#shv)"/><circle cx="452.4" cy="508.2" r="7.3" fill="url(#shr)" stroke="url(#rim)" stroke-width="0.7"/><circle cx="474.2" cy="495.6" r="7.3" fill="url(#gry)"/><circle cx="474.2" cy="495.6" r="7.3" fill="url(#shr)" stroke="url(#rim)" stroke-width="0.7"/><circle cx="414.6" cy="490.4" r="7.3" fill="url(#gry)"/><circle cx="414.6" cy="490.4" r="7.3" fill="url(#shr)" stroke="url(#rim)" stroke-width="0.7"/><path d="M432.7 490.9L432.7 498.2A7.3 7.3 0 0 1 432.7 483.6Z" fill="#4c4ce8"/><path d="M432.7 490.9L432.7 483.6A7.3 7.3 0 0 1 432.7 498.2Z" fill="#58c258"/><circle cx="432.7" cy="490.9" r="7.3" fill="url(#shv)"/><circle cx="432.7" cy="490.9" r="7.3" fill="url(#shr)" stroke="url(#rim)" stroke-width="0.7"/></g>
<g font-size="4.1" font-weight="bold" letter-spacing="0.25" fill="#383838"><text x="294.6" y="261.5">USP14</text><text x="307.4" y="284.7">RTN4RL2</text><text x="285.4" y="300.2">PSMB9</text><text x="268.8" y="301.7">TECTA</text><text x="319.2" y="311">PSMB8</text><text x="356.8" y="317.6">PGRMC1</text><text x="400.6" y="293.8">UGP2</text><text x="454.3" y="275">HSD17B8</text><text x="500.7" y="286.9">HIBADH</text><text x="532.8" y="280.1">ECHDC2</text><text x="541.8" y="314.2">DECR1</text><text x="571.4" y="317">ACAT2</text><text x="450.9" y="315">PCK2</text><text x="472.2" y="320.9">BAAT</text><text x="463.2" y="333.3">FBP1</text><text x="391.1" y="325.5">CYB5A</text><text x="380.8" y="339.1">VNN1</text><text x="382.8" y="350.6">GGCT</text><text x="433.2" y="341.3">PYGL</text><text x="248.3" y="341.9">RNPEP</text><text x="295.5" y="348.7">GPLD1</text><text x="251" y="375">CPM</text><text x="202.8" y="381.2">CHRDL2</text><text x="155.1" y="404.9">FCAMR</text><text x="302.5" y="379.5">PRCP</text><text x="317.2" y="370.4">F8</text><text x="365.6" y="376.7">GSS</text><text x="389.8" y="374.7">PGAM1</text><text x="401.7" y="385">DDTL</text><text x="418.4" y="383.9">HSPE1</text><text x="454.2" y="378.1">HPGD</text><text x="482.7" y="362.7">EPHX1</text><text x="483.8" y="378.9">GLUD1</text><text x="513.9" y="355.2">ACAA2</text><text x="559.1" y="348.8">PCCA</text><text x="576.8" y="355.2">PCCB</text><text x="562.2" y="382.4">CRYZ</text><text x="595.2" y="385.2">ECI1</text><text x="528.5" y="388.2">ALDOB</text><text x="489.8" y="400.2">GPT</text><text x="499.2" y="399.5">ABAT</text><text x="554.2" y="403">ACAA1</text><text x="517.5" y="415.9">SCP2</text><text x="497" y="418.1">OTC</text><text x="571.1" y="414.2">ASL</text><text x="608.8" y="437.9">ACY1</text><text x="315.2" y="397.5">LAP3</text><text x="350.4" y="398.8">ALPL</text><text x="338.9" y="409.5">CEACAM1</text><text x="251.4" y="409.8">ENPP1</text><text x="276" y="405.8">ITIH3</text><text x="410" y="414.2">GOT1</text><text x="456.4" y="411.5">ECHS1</text><text x="421.3" y="428.4">GOT2</text><text x="366.4" y="436.7">HSP90B1</text><text x="433.8" y="439.7">GSTO1</text><text x="446" y="438.7">PRDX1</text><text x="302.5" y="432">ST14</text><text x="171.2" y="434.7">FOLH1</text><text x="199.3" y="433.6">GNPTG</text><text x="223.4" y="440.7">PIGR</text><text x="273" y="447.4">CTSS</text><text x="297.8" y="451.4">LAMP2</text><text x="332.5" y="449">ANPEP</text><text x="361.4" y="462.6">KNG1</text><text x="482.6" y="445.7">GSR</text><text x="473" y="453.2">AGXT</text><text x="520" y="456.1">ASS1</text><text x="572.5" y="461">CPS1</text><text x="211.1" y="459.2">CD14</text><text x="281.9" y="470">MMP9</text><text x="314.1" y="476.7">DPP4</text><text x="333.3" y="489.7">CTSD</text><text x="146.3" y="489.8">OLFML3</text><text x="211.1" y="487.8">CR2</text><text x="237" y="489.2">CTSH</text><text x="256.6" y="489.7">CD300A</text><text x="282.7" y="499.1">CSF1R</text><text x="301.2" y="504.7">CD93</text><text x="327.7" y="510">SPP1</text><text x="359.7" y="505.2">NT5E</text><text x="341.5" y="523.1">APOB</text><text x="195.5" y="517.9">B4GALT1</text><text x="228.3" y="526.1">ADA2</text><text x="256.6" y="530.2">CTSB</text><text x="304.6" y="536.2">ICAM1</text><text x="331.2" y="549.9">VCAM1</text><text x="352.6" y="549.9">ITGB2</text><text x="401.1" y="539.8">APOC1</text><text x="377" y="556.2">ALCAM</text><text x="223.4" y="554.8">MERTK</text><text x="280.7" y="556">TIE1</text><text x="187" y="564.3">IL1R2</text><text x="262.4" y="569.2">NID1</text><text x="269.2" y="587.2">DDR2</text><text x="290.6" y="592">TGFBI</text><text x="180.5" y="604">IL6ST</text><text x="247.1" y="598.9">CEACAM6</text><text x="226.6" y="620.7">LEPR</text><text x="139.5" y="625.3">OSMR</text><text x="279.9" y="627.3">RELN</text><text x="276.6" y="641">KDR</text><text x="308.9" y="650.6">COL6A1</text><text x="317.3" y="615.6">CADM1</text><text x="340" y="610.2">ITGA1</text><text x="342.1" y="634.6">COL3A1</text><text x="350" y="583.4">ANGPTL3</text><text x="374.6" y="582.7">MET</text><text x="419.6" y="566.2">CETP</text><text x="444.8" y="566.2">PLTP</text><text x="406.5" y="588.9">SHBG</text><text x="432.8" y="593.2">APOC2</text><text x="389.2" y="603.8">SAA4</text><text x="408.4" y="603">CDH1</text><text x="471.9" y="600">QSOX1</text><text x="506.1" y="622.3">GPRC5C</text><text x="558.3" y="614.6">ADGRG6</text><text x="483.3" y="652.7">CDH6</text><text x="467.2" y="665.7">ROBO1</text><text x="439.4" y="680.1">NEO1</text><text x="387" y="645.9">FBLN2</text><text x="359.1" y="668.9">SEMA7A</text><text x="402" y="684.7">PLXNB2</text><text x="379.3" y="695.1">EFEMP1</text><text x="350.9" y="721.6">MFAP4</text><text x="302.2" y="723">ADAMTSL2</text><text x="427.4" y="733.1">SEMA4B</text><text x="334.5" y="777.6">SVEP1</text><text x="386.4" y="776.2">ADAMTSL4</text><text x="557.8" y="574.4">RIDA</text><text x="598.4" y="519.8">C7</text><text x="645.2" y="521.9">UROX</text><text x="552.3" y="521.7">BHMT</text><text x="556.9" y="489.7">PIPOX</text><text x="593.8" y="481.5">DMGDH</text><text x="500.1" y="482.1">ADH4</text><text x="522.8" y="476">HPD</text><text x="533.1" y="478">ADH1B</text><text x="490.5" y="513.9">HAO1</text><text x="457.9" y="521.8">ALDH1A1</text><text x="459.2" y="501.4">FABP1</text><text x="481" y="488.8">DAO</text><text x="421.4" y="483.6">GPX3</text><text x="439.5" y="484.1">SOD2</text></g>
</svg>
</body></html>
